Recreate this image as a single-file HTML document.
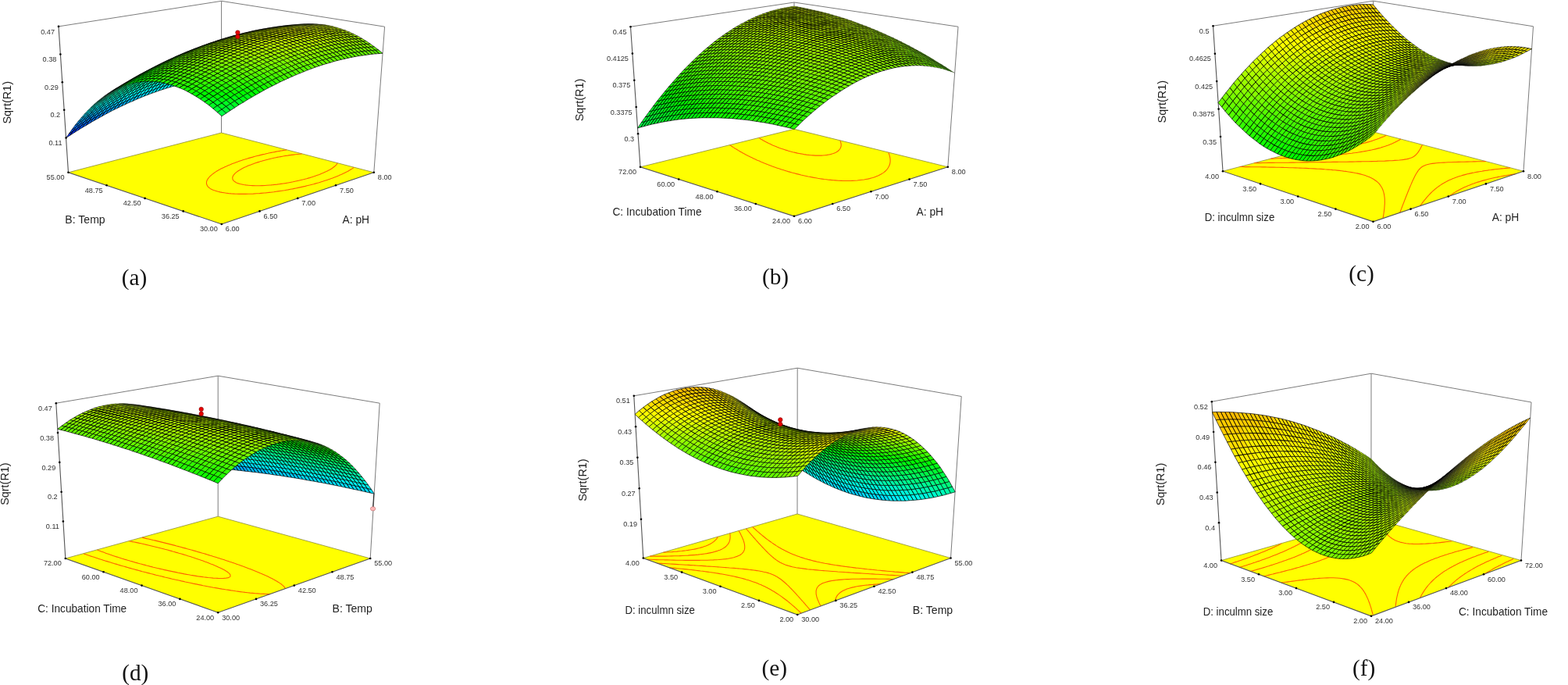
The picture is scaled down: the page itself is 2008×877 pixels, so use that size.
<!DOCTYPE html>
<html><head><meta charset="utf-8"><title>Response surface plots</title>
<style>
html,body{margin:0;padding:0;background:#fff}
body{width:2008px;height:877px;overflow:hidden}
svg{display:block;filter:blur(0.45px)}
svg text{font-family:"Liberation Sans",Arial,sans-serif}
svg .cap{font-family:"Liberation Serif","Times New Roman",serif;font-size:29.3px;fill:#111}
.qa{fill:#0ef;stroke-width:3.4}.qb{fill:#0fe;stroke-width:3.4}.qc{fill:#0ff;stroke-width:3.4}.qd{fill:#0fc;stroke-width:3.4}.qe{fill:#0fd;stroke-width:3.4}.qf{fill:#0df;stroke-width:3.4}.qg{fill:#0fa;stroke-width:3.4}.qh{fill:#0fb;stroke-width:3.4}.qi{fill:#0cf;stroke-width:3.4}.qj{fill:#0f9;stroke-width:3.4}.qk{fill:#0bf;stroke-width:3.4}.ql{fill:#0f7;stroke-width:3.4}.qm{fill:#0f8;stroke-width:3.4}.qn{fill:#0f6;stroke-width:3.4}.qo{fill:#0af;stroke-width:3.4}.qp{fill:#0f5;stroke-width:3.4}.qq{fill:#0f4;stroke-width:3.4}.qr{fill:#0f3;stroke-width:3.4}.qs{fill:#0f9;stroke-width:2.95}.qt{fill:#09f;stroke-width:3.4}.qu{fill:#0fc;stroke-width:2.95}.qv{fill:#0f6;stroke-width:2.95}.qw{fill:#0f1;stroke-width:3.4}.qx{fill:#0f2;stroke-width:3.4}.qy{fill:#0f4;stroke-width:2.95}.qz{fill:#0fa;stroke-width:2.95}.qaa{fill:#08f;stroke-width:3.4}.qab{fill:#0fd;stroke-width:2.95}.qac{fill:#0f7;stroke-width:2.95}.qad{fill:#0f0;stroke-width:3.4}.qae{fill:#0f2;stroke-width:2.95}.qaf{fill:#0f1;stroke-width:2.95}.qag{fill:#0f5;stroke-width:2.95}.qah{fill:#0fb;stroke-width:2.95}.qai{fill:#07f;stroke-width:3.4}.qaj{fill:#0fe;stroke-width:2.95}.qak{fill:#0f8;stroke-width:2.95}.qal{fill:#1f0;stroke-width:2.95}.qam{fill:#0f0;stroke-width:2.95}.qan{fill:#0f3;stroke-width:2.95}.qao{fill:#0f1;stroke-width:2.5}.qap{fill:#0f5;stroke-width:2.5}.qaq{fill:#06f;stroke-width:3.4}.qar{fill:#0ef;stroke-width:2.95}.qas{fill:#0f9;stroke-width:2.5}.qat{fill:#3f0;stroke-width:2.95}.qau{fill:#2f0;stroke-width:2.95}.qav{fill:#1f0;stroke-width:2.5}.qaw{fill:#0f3;stroke-width:2.5}.qax{fill:#0f6;stroke-width:2.5}.qay{fill:#05f;stroke-width:3.4}.qaz{fill:#0df;stroke-width:2.95}.qba{fill:#0fa;stroke-width:2.5}.qbb{fill:#4f0;stroke-width:2.5}.qbc{fill:#2f0;stroke-width:2.5}.qbd{fill:#3f0;stroke-width:2.5}.qbe{fill:#5f0;stroke-width:2.5}.qbf{fill:#5f0;stroke-width:2}.qbg{fill:#5e0;stroke-width:2}.qbh{fill:#0f0;stroke-width:2.5}.qbi{fill:#0f2;stroke-width:2.5}.qbj{fill:#0f4;stroke-width:2.5}.qbk{fill:#0f7;stroke-width:2.5}.qbl{fill:#04f;stroke-width:3.4}.qbm{fill:#0ff;stroke-width:2.95}.qbn{fill:#0cf;stroke-width:2.95}.qbo{fill:#0fb;stroke-width:2.5}.qbp{fill:#6e0;stroke-width:2}.qbq{fill:#4e0;stroke-width:2}.qbr{fill:#5d0;stroke-width:2}.qbs{fill:#3f0;stroke-width:2}.qbt{fill:#2f0;stroke-width:2}.qbu{fill:#0f0;stroke-width:2}.qbv{fill:#0f3;stroke-width:2}.qbw{fill:#0f8;stroke-width:2.5}.qbx{fill:#0f5;stroke-width:2}.qby{fill:#03f;stroke-width:3.4}.qbz{fill:#09f;stroke-width:2.95}.qca{fill:#0fd;stroke-width:2.5}.qcb{fill:#0bf;stroke-width:2.95}.qcc{fill:#6c0;stroke-width:2}.qcd{fill:#6d0;stroke-width:2}.qce{fill:#5c0;stroke-width:2}.qcf{fill:#4d0;stroke-width:2}.qcg{fill:#3e0;stroke-width:2}.qch{fill:#1e0;stroke-width:2}.qci{fill:#0e1;stroke-width:2}.qcj{fill:#0e3;stroke-width:2}.qck{fill:#0fa;stroke-width:2}.qcl{fill:#0e6;stroke-width:2}.qcm{fill:#08f;stroke-width:2.95}.qcn{fill:#0fe;stroke-width:2.5}.qco{fill:#0fc;stroke-width:2.5}.qcp{fill:#5a0;stroke-width:1.55}.qcq{fill:#6b0;stroke-width:1.55}.qcr{fill:#5b0;stroke-width:2}.qcs{fill:#590;stroke-width:1.55}.qct{fill:#580;stroke-width:1.55}.qcu{fill:#4b0;stroke-width:1.55}.qcv{fill:#4c0;stroke-width:2}.qcw{fill:#3d0;stroke-width:2}.qcx{fill:#1d0;stroke-width:2}.qcy{fill:#0d1;stroke-width:2}.qcz{fill:#0d3;stroke-width:2}.qda{fill:#0e7;stroke-width:2}.qdb{fill:#07f;stroke-width:2.95}.qdc{fill:#0af;stroke-width:2.95}.qdd{fill:#0ff;stroke-width:2.5}.qde{fill:#0ea;stroke-width:2}.qdf{fill:#5b0;stroke-width:1.55}.qdg{fill:#580;stroke-width:1.1}.qdh{fill:#570;stroke-width:1.1}.qdi{fill:#470;stroke-width:1.1}.qdj{fill:#460;stroke-width:1.1}.qdk{fill:#350;stroke-width:1.1}.qdl{fill:#4a0;stroke-width:1.55}.qdm{fill:#3b0;stroke-width:1.55}.qdn{fill:#490;stroke-width:1.55}.qdo{fill:#480;stroke-width:1.55}.qdp{fill:#2c0;stroke-width:2}.qdq{fill:#1c0;stroke-width:2}.qdr{fill:#0c1;stroke-width:2}.qds{fill:#0d4;stroke-width:2}.qdt{fill:#0d7;stroke-width:2}.qdu{fill:#0cf;stroke-width:2.5}.qdv{fill:#0fd;stroke-width:2}.qdw{fill:#0da;stroke-width:2}.qdx{fill:#240;stroke-width:0.75}.qdy{fill:#340;stroke-width:0.75}.qdz{fill:#230;stroke-width:0.75}.qea{fill:#340;stroke-width:1.1}.qeb{fill:#3a0;stroke-width:1.55}.qec{fill:#390;stroke-width:1.55}.qed{fill:#370;stroke-width:1.1}.qee{fill:#480;stroke-width:1.1}.qef{fill:#360;stroke-width:1.1}.qeg{fill:#220;stroke-width:0.75}.qeh{fill:#120;stroke-width:0.75}.qei{fill:#110;stroke-width:0.75}.qej{fill:#450;stroke-width:0.75}.qek{fill:#560;stroke-width:1.1}.qel{fill:#670;stroke-width:1.1}.qem{fill:#780;stroke-width:1.1}.qen{fill:#890;stroke-width:1.1}.qeo{fill:#2b0;stroke-width:1.55}.qep{fill:#0c0;stroke-width:2}.qeq{fill:#0c2;stroke-width:2}.qer{fill:#0c4;stroke-width:2}.qes{fill:#0c7;stroke-width:2}.qet{fill:#0bf;stroke-width:2.5}.qeu{fill:#0ef;stroke-width:2.5}.qev{fill:#0ed;stroke-width:2}.qew{fill:#380;stroke-width:1.55}.qex{fill:#250;stroke-width:1.1}.qey{fill:#330;stroke-width:0.75}.qez{fill:#550;stroke-width:1.1}.qfa{fill:#9a0;stroke-width:1.55}.qfb{fill:#890;stroke-width:1.55}.qfc{fill:#ab0;stroke-width:1.55}.qfd{fill:#bc0;stroke-width:1.55}.qfe{fill:#290;stroke-width:1.55}.qff{fill:#1a0;stroke-width:1.55}.qfg{fill:#0b0;stroke-width:1.55}.qfh{fill:#0b2;stroke-width:1.55}.qfi{fill:#0b4;stroke-width:1.55}.qfj{fill:#0b7;stroke-width:1.55}.qfk{fill:#0df;stroke-width:2.5}.qfl{fill:#0ca;stroke-width:2}.qfm{fill:#270;stroke-width:1.1}.qfn{fill:#130;stroke-width:0.75}.qfo{fill:#440;stroke-width:0.75}.qfp{fill:#450;stroke-width:1.1}.qfq{fill:#9b0;stroke-width:1.55}.qfr{fill:#bd0;stroke-width:1.55}.qfs{fill:#cd0;stroke-width:1.55}.qft{fill:#de0;stroke-width:2}.qfu{fill:#ef0;stroke-width:2}.qfv{fill:#cd0;stroke-width:2}.qfw{fill:#280;stroke-width:1.55}.qfx{fill:#190;stroke-width:1.55}.qfy{fill:#0a0;stroke-width:1.55}.qfz{fill:#0a2;stroke-width:1.55}.qga{fill:#0a4;stroke-width:1.55}.qgb{fill:#0a7;stroke-width:1.55}.qgc{fill:#0dd;stroke-width:2}.qgd{fill:#0ba;stroke-width:1.55}.qge{fill:#260;stroke-width:1.1}.qgf{fill:#240;stroke-width:1.1}.qgg{fill:#8a0;stroke-width:1.55}.qgh{fill:#790;stroke-width:1.1}.qgi{fill:#ac0;stroke-width:1.55}.qgj{fill:#ce0;stroke-width:2}.qgk{fill:#df0;stroke-width:2}.qgl{fill:#bd0;stroke-width:2}.qgm{fill:#df0;stroke-width:2.5}.qgn{fill:#ef0;stroke-width:2.5}.qgo{fill:#ef0;stroke-width:2.95}.qgp{fill:#ef0;stroke-width:3.4}.qgq{fill:#170;stroke-width:1.1}.qgr{fill:#080;stroke-width:1.55}.qgs{fill:#091;stroke-width:1.55}.qgt{fill:#092;stroke-width:1.55}.qgu{fill:#095;stroke-width:1.55}.qgv{fill:#097;stroke-width:1.55}.qgw{fill:#150;stroke-width:1.1}.qgx{fill:#680;stroke-width:1.1}.qgy{fill:#cf0;stroke-width:2}.qgz{fill:#df0;stroke-width:2.95}.qha{fill:#df0;stroke-width:3.4}.qhb{fill:#160;stroke-width:1.1}.qhc{fill:#070;stroke-width:1.1}.qhd{fill:#081;stroke-width:1.55}.qhe{fill:#082;stroke-width:1.55}.qhf{fill:#085;stroke-width:1.55}.qhg{fill:#087;stroke-width:1.55}.qhh{fill:#140;stroke-width:0.75}.qhi{fill:#790;stroke-width:1.55}.qhj{fill:#9c0;stroke-width:1.55}.qhk{fill:#cf0;stroke-width:2.5}.qhl{fill:#cf0;stroke-width:3.4}.qhm{fill:#060;stroke-width:1.1}.qhn{fill:#040;stroke-width:1.1}.qho{fill:#071;stroke-width:1.1}.qhp{fill:#072;stroke-width:1.1}.qhq{fill:#084;stroke-width:1.1}.qhr{fill:#010;stroke-width:0.75}.qhs{fill:#020;stroke-width:0.75}.qht{fill:#7a0;stroke-width:1.55}.qhu{fill:#bf0;stroke-width:2.95}.qhv{fill:#cf0;stroke-width:2.95}.qhw{fill:#050;stroke-width:1.1}.qhx{fill:#040;stroke-width:0.75}.qhy{fill:#061;stroke-width:1.1}.qhz{fill:#030;stroke-width:0.75}.qia{fill:#062;stroke-width:1.1}.qib{fill:#074;stroke-width:1.1}.qic{fill:#690;stroke-width:1.55}.qid{fill:#8b0;stroke-width:1.55}.qie{fill:#ad0;stroke-width:2}.qif{fill:#bf0;stroke-width:3.4}.qig{fill:#af0;stroke-width:2.95}.qih{fill:#af0;stroke-width:3.4}.qii{fill:#051;stroke-width:1.1}.qij{fill:#150;stroke-width:0.75}.qik{fill:#063;stroke-width:1.1}.qil{fill:#064;stroke-width:1.1}.qim{fill:#6a0;stroke-width:1.55}.qin{fill:#8c0;stroke-width:1.55}.qio{fill:#be0;stroke-width:2}.qip{fill:#9f0;stroke-width:3.4}.qiq{fill:#041;stroke-width:0.75}.qir{fill:#380;stroke-width:1.1}.qis{fill:#053;stroke-width:1.1}.qit{fill:#7b0;stroke-width:1.55}.qiu{fill:#9d0;stroke-width:2}.qiv{fill:#bf0;stroke-width:2}.qiw{fill:#8f0;stroke-width:3.4}.qix{fill:#031;stroke-width:0.75}.qiy{fill:#180;stroke-width:1.1}.qiz{fill:#390;stroke-width:1.1}.qja{fill:#042;stroke-width:1.1}.qjb{fill:#7c0;stroke-width:1.55}.qjc{fill:#9e0;stroke-width:2}.qjd{fill:#bf0;stroke-width:2.5}.qje{fill:#7f0;stroke-width:3.4}.qjf{fill:#af0;stroke-width:2}.qjg{fill:#6f0;stroke-width:3.4}.qjh{fill:#021;stroke-width:0.75}.qji{fill:#190;stroke-width:1.1}.qjj{fill:#5c0;stroke-width:1.55}.qjk{fill:#042;stroke-width:0.75}.qjl{fill:#7d0;stroke-width:2}.qjm{fill:#9f0;stroke-width:2}.qjn{fill:#5f0;stroke-width:3.4}.qjo{fill:#af0;stroke-width:2.5}.qjp{fill:#081;stroke-width:1.1}.qjq{fill:#2c0;stroke-width:1.55}.qjr{fill:#5d0;stroke-width:1.55}.qjs{fill:#032;stroke-width:0.75}.qjt{fill:#011;stroke-width:0.75}.qju{fill:#7e0;stroke-width:2}.qjv{fill:#8f0;stroke-width:2}.qjw{fill:#9f0;stroke-width:2.5}.qjx{fill:#4f0;stroke-width:3.4}.qjy{fill:#1d0;stroke-width:1.55}.qjz{fill:#4f0;stroke-width:2}.qka{fill:#0b1;stroke-width:1.55}.qkb{fill:#7f0;stroke-width:2}.qkc{fill:#8f0;stroke-width:2.5}.qkd{fill:#9f0;stroke-width:2.95}.qke{fill:#3f0;stroke-width:3.4}.qkf{fill:#0e0;stroke-width:2}.qkg{fill:#0c1;stroke-width:1.55}.qkh{fill:#6f0;stroke-width:2}.qki{fill:#8f0;stroke-width:2.95}.qkj{fill:#2f0;stroke-width:3.4}.qkk{fill:#0f1;stroke-width:2}.qkl{fill:#7f0;stroke-width:2.5}.qkm{fill:#7f0;stroke-width:2.95}.qkn{fill:#6f0;stroke-width:2.5}.qko{fill:#1f0;stroke-width:3.4}.qkp{fill:#6f0;stroke-width:2.95}.qkq{fill:#5f0;stroke-width:2.95}.qkr{fill:#4f0;stroke-width:2.95}.qks{fill:#ad0;stroke-width:1.55}.qkt{fill:#ae0;stroke-width:2}.qku{fill:#8d0;stroke-width:2}.qkv{fill:#490;stroke-width:1.1}.qkw{fill:#8d0;stroke-width:1.55}.qkx{fill:#6c0;stroke-width:1.55}.qky{fill:#8e0;stroke-width:2}.qkz{fill:#7d0;stroke-width:1.55}.qla{fill:#6d0;stroke-width:1.55}.qlb{fill:#fc0;stroke-width:3.4}.qlc{fill:#fd0;stroke-width:3.4}.qld{fill:#fe0;stroke-width:3.4}.qle{fill:#ff0;stroke-width:3.4}.qlf{fill:#9d0;stroke-width:1.55}.qlg{fill:#680;stroke-width:1.55}.qlh{fill:#9c0;stroke-width:2}.qli{fill:#ac0;stroke-width:2}.qlj{fill:#350;stroke-width:0.75}.qlk{fill:#ab0;stroke-width:2}.qll{fill:#ff0;stroke-width:2.95}.qlm{fill:#660;stroke-width:1.1}.qln{fill:#ff0;stroke-width:2.5}.qlo{fill:#bc0;stroke-width:2}.qlp{fill:#fe0;stroke-width:2.95}.qlq{fill:#ee0;stroke-width:2}.qlr{fill:#990;stroke-width:1.55}.qls{fill:#bb0;stroke-width:1.55}.qlt{fill:#ff0;stroke-width:2}.qlu{fill:#aa0;stroke-width:1.55}.qlv{fill:#dd0;stroke-width:2}.qlw{fill:#fe0;stroke-width:2.5}.qlx{fill:#880;stroke-width:1.55}.qly{fill:#cc0;stroke-width:2}.qlz{fill:#770;stroke-width:1.1}.qma{fill:#bb0;stroke-width:2}.qmb{fill:#fe0;stroke-width:2}.qmc{fill:#980;stroke-width:1.55}.qmd{fill:#cb0;stroke-width:2}.qme{fill:#440;stroke-width:1.1}.qmf{fill:#ba0;stroke-width:1.55}.qmg{fill:#ed0;stroke-width:2}.qmh{fill:#760;stroke-width:1.1}.qmi{fill:#dc0;stroke-width:2}.qmj{fill:#fd0;stroke-width:2.5}.qmk{fill:#a90;stroke-width:1.55}.qml{fill:#650;stroke-width:1.1}.qmm{fill:#870;stroke-width:1.55}.qmn{fill:#430;stroke-width:0.75}.qmo{fill:#2e0;stroke-width:2}.qmp{fill:#3c0;stroke-width:2}.qmq{fill:#690;stroke-width:1.1}.qmr{fill:#2d0;stroke-width:2}.qms{fill:#3b0;stroke-width:2}.qmt{fill:#280;stroke-width:1.1}.qmu{fill:#2a0;stroke-width:1.55}.qmv{fill:#0e2;stroke-width:2}.qmw{fill:#1b0;stroke-width:1.55}.qmx{fill:#0d0;stroke-width:2}.qmy{fill:#880;stroke-width:1.1}.qmz{fill:#cb0;stroke-width:1.55}.qna{fill:#fd0;stroke-width:2.95}.qnb{fill:#2b0;stroke-width:2}.qnc{fill:#1f0;stroke-width:2}.qnd{fill:#dd0;stroke-width:1.55}.qne{fill:#fb0;stroke-width:3.4}.qnf{fill:#8c0;stroke-width:2}.qng{fill:#780;stroke-width:1.55}.qnh{fill:#cc0;stroke-width:1.55}.qni{fill:#540;stroke-width:0.75}.qnj{fill:#7c0;stroke-width:2}.qnk{fill:#fc0;stroke-width:2.95}.qnl{fill:#fc0;stroke-width:2.5}.qnm{fill:#fd0;stroke-width:2}.qnn{fill:#ec0;stroke-width:2}.qno{fill:#eb0;stroke-width:2}.qnp{fill:#db0;stroke-width:2}.qnq{fill:#870;stroke-width:1.1}.qnr{fill:#ca0;stroke-width:2}.qns{fill:#b90;stroke-width:1.55}.qnt{fill:#540;stroke-width:1.1}
svg .ttl{font-size:15px;fill:#222}
</style></head><body>
<svg xmlns="http://www.w3.org/2000/svg" width="2008" height="877" viewBox="0 0 2008 877">
<rect width="2008" height="877" fill="#fff"/>
<g id="pa">
<path d="M75.0,33.9 L283.6,1.3 L492.6,34.2 M283.6,1.3 L283.5,170.0 M492.6,34.2 L478.8,220.8" fill="none" stroke="#7c7c7c" stroke-width="1"/>
<path d="M87.5,220.8 L283.5,170.0 L478.8,220.8 L283.8,287.0 Z" fill="#ffff00" stroke="none"/>
<path d="M87.5,220.8 L283.5,170.0 L478.8,220.8" fill="none" stroke="#8a8a3a" stroke-width="0.8"/>
<path d="M367 191.9l-2.3.3-2.3.4-2.2.4-2.2.4-2.2.3-2.2.4-2.1.5-2.1.4-2.1.4-2.1.4-2.1.5-2 .4-2 .5-2 .4-2 .5-2 .5-1.9.5-1.9.4-1.9.5-1.9.5-1.9.6-1.9.5-1.8.5-1.8.5-1.8.6-1.8.5-1.8.6-1.7.5-1.8.6-1.7.6-1.7.6-1.7.6-1.7.5-1.6.7-1.6.6-1.6.6-1.6.6-1.6.7-1.5.6-1.2.5-1.9.9-1.5.6-1.4.7-1.5.7-1.4.7-1.4.7-1.3.8-1.4.7-1.3.8-1.2.7-1.3.8-1.2.8-1.1.8-1.2.9-1 .8-1.1.9-1 .9-.9.9-.8.9-.8.9-.7 1-.7 1-.5 1.1-.4 1.1-.3 1.8 .2 1.8 .5 1.4 .7 1.2 .9 1 1 .9 1.2.9 1.3.8 1.5.8 1.7.7 1.9.7 2 .6 2.1.6 2.4.6 2.5.5 2.7.4 2.8.4 3 .4 3.2.3 3.4.2 1.8.1 1.8.1 2.9.1 4.3 0 4.1 0 3.9-.1 3.7-.1 2.4-.1 4.6-.3 3.4-.2 2.4-.2 4-.4 1.8-.1 1.3-.2 3-.3 1.9-.2 4-.5 2.7-.4 3-.4 2.7-.4 1.8-.3 3.5-.5 2.6-.5 2.2-.3 2.9-.6 2.5-.4 2.4-.5 2-.4 2.8-.6 2.3-.5 2.3-.5 2.3-.5 2.3-.5 2.1-.6 2.2-.5 2.1-.5 2.1-.6 2.1-.5 2.1-.6 2-.6 2-.5 1.9-.6 1.9-.6 1.9-.6 1.9-.6 1.8-.6 1.8-.6 1.8-.6 1.8-.6 1.7-.6 1.7-.6 1.6-.7 1.7-.6 1.6-.6 1.5-.7 1.6-.6 1.5-.7 1.5-.6 1.5-.7 1.4-.7 1.4-.6 1.3-.7 1.4-.7 1.3-.7 1.2-.7 1.2-.7 1.2-.7 1.2-.7 1.1-.7 1.1-.8 1-.7M386.6 197l-2.8.2-2.7.3-2.7.3-2.6.3-2.5.3-1.9.2-3 .5-2.3.3-2.3.4-2.3.4-2.2.4-2.2.4-2.2.4-1.4.3-2.8.6-2.1.5-2 .4-2 .5-1.9.5-2 .5-1.9.5-1.9.5-1.8.6-1.9.5-1.7.6-1.8.5-1.8.6-1.7.6-1.7.6-1.6.6-1.6.6-1.7.6-1.5.6-1.6.7-1.4.7-1.5.6-1.5.7-1 .5-1.7.9-1.3.8-1.3.7-1.2.8-1.2.8-1.1.8-1 .8-.9.8-1 .9-.8 1-.7.9-.6 1-.6 2 .4 2.3 .6 1 .8.9 1.1.9 1.4.8 1 .5 2.4 1 2 .6 2.3.5 2.4.5 2.8.4 3 .3 3.2.3 2.3.1 4.5.1 4 0 3.7-.1 3.6-.1 2.6-.2 3.9-.3 1.5-.1 1.6-.2 3-.3 2.9-.3 2.8-.4 2.4-.3 3-.4 2.6-.4 2.2-.4 2.8-.5 2.5-.5 2.3-.4 2.3-.5 2.3-.5 2.3-.5 2.2-.5 2.1-.5 2.1-.5 2.1-.6 2-.5 2-.6 1.9-.5 1.9-.6 1.8-.6 1.9-.6 1.7-.6 1.8-.6 1.7-.6 1.6-.6 1.6-.7 1.6-.6 1.5-.6 1.5-.7 1.5-.7 1.4-.6 1.4-.7 1.3-.7 1.3-.7 1.2-.7 1.2-.7 1.1-.8 1-.7 1-.8 1-.7 .9-.8 1.5-1.6 .6-.9 .5-.8" fill="none" stroke="#ff6200" stroke-width="1.1"/>
<path d="M75.0,33.9 L87.5,220.8 L283.8,287.0 L478.8,220.8" fill="none" stroke="#555" stroke-width="1.1"/>
<circle cx="283.8" cy="287.0" r="1.3" fill="#000"/>
<circle cx="234.7" cy="270.4" r="1.3" fill="#000"/>
<circle cx="185.6" cy="253.9" r="1.3" fill="#000"/>
<circle cx="136.6" cy="237.3" r="1.3" fill="#000"/>
<circle cx="87.5" cy="220.8" r="1.3" fill="#000"/>
<circle cx="332.5" cy="270.4" r="1.3" fill="#000"/>
<circle cx="381.2" cy="253.9" r="1.3" fill="#000"/>
<circle cx="430.0" cy="237.3" r="1.3" fill="#000"/>
<circle cx="478.8" cy="220.8" r="1.3" fill="#000"/>
<circle cx="75.0" cy="33.9" r="1.3" fill="#000"/>
<circle cx="77.4" cy="69.5" r="1.3" fill="#000"/>
<circle cx="79.8" cy="105.2" r="1.3" fill="#000"/>
<circle cx="82.2" cy="140.8" r="1.3" fill="#000"/>
<circle cx="84.6" cy="176.5" r="1.3" fill="#000"/>
<g transform="scale(0.2)" stroke="#000" stroke-linejoin="round">
<path class="qa" d="M1418 469l22-1-22 26-21 2zm-21 3l21-3-21 27-22 2zm-22 2l22-2-22 26-21 3zm-22 3l22-3-21 27-22 3z"/>
<path class="qb" d="M1440 444l21-2-21 26-22 1zm-22 2l22-2-22 25-21 3zm-21 3l21-3-21 26-22 2zm-22 3l22-3-22 25-22 3z"/>
<path class="qc" d="M1332 481l21-4-21 27-22 3zm-22 3l22-3-22 26-22 4zm-22 4l22-4-22 27-22 4zm-23 4l23-4-22 27-22 4zm-22 5l22-5-21 27-22 5zm-22 5l22-5-21 27-22 5zm-23 5l23-5-21 27-23 5zm-23 6l23-6-21 27-23 6zm-22 6l22-6-21 27-22 6zm-23 6l23-6-21 27-23 6z"/>
<path class="qa" d="M1107 532l23-7-21 27-23 7zm-24 7l24-7-21 27-23 7zm-23 7l23-7-20 27-24 8zm-23 8l23-8-21 28-23 7zm-24 8l24-8-21 27-23 9zm-23 9l23-9-20 28-24 8z"/>
<path class="qd" d="M1462 420l21-2-22 24-21 2zm-22 2l22-2-22 24-22 2zm-22 2l22-2-22 24-21 3zm-21 3l21-3-21 25-22 3z"/>
<path class="qe" d="M1353 455l22-3-22 25-21 4zm-22 3l22-3-21 26-22 3zm-22 4l22-4-21 26-22 4zm-22 4l22-4-21 26-23 4zm-23 5l23-5-22 26-22 5zm-22 5l22-5-21 26-22 5zm-23 5l23-5-21 26-23 5zm-23 6l23-6-21 26-23 6zm-22 6l22-6-21 26-22 6zm-23 6l23-6-21 26-23 6z"/>
<path class="qb" d="M1127 506l24-7-21 26-23 7zm-23 7l23-7-20 26-24 7zm-23 7l23-7-21 26-23 7zm-24 8l24-8-21 26-23 8zm-23 8l23-8-20 26-24 8zm-24 8l24-8-21 26-23 9z"/>
<path class="qd" d="M1375 430l22-3-22 25-22 3zm-22 4l22-4-22 25-22 3zm-23 3l23-3-22 24-22 4z"/>
<path class="qf" d="M966 580l24-9-21 27-24 9zm-24 9l24-9-21 27-23 9zm-24 10l24-10-20 27-24 10z"/>
<path class="qc" d="M986 553l24-9-20 27-24 9zm-24 9l24-9-20 27-24 9zm-24 10l24-10-20 27-24 10z"/>
<path class="qg" d="M1484 396l21-2-22 24-21 2zm-22 2l22-2-22 24-22 2zm-22 3l22-3-22 24-22 2zm-21 2l21-2-22 23-21 3zm-22 3l22-3-22 24-22 3zm-23 4l23-4-22 24-22 4zm-22 3l22-3-21 24-23 3z"/>
<path class="qh" d="M1308 442l22-5-21 25-22 4zm-22 4l22-4-21 24-23 5zm-23 5l23-5-22 25-22 5zm-22 5l22-5-21 25-23 5z"/>
<path class="qd" d="M1218 462l23-6-22 25-23 6zm-23 5l23-5-22 25-22 6zm-23 7l23-7-21 26-23 6zm-23 6l23-6-21 25-24 7zm-24 7l24-7-22 26-23 7zm-23 8l23-8-21 26-23 7zm-24 7l24-7-21 25-24 8zm-23 8l23-8-21 26-23 8z"/>
<path class="qe" d="M1031 519l24-9-21 26-24 8zm-24 9l24-9-21 25-24 9zm-24 9l24-9-21 25-24 9zm-24 9l24-9-21 25-24 10z"/>
<path class="qg" d="M1330 418l22-5-22 24-22 5zm-23 4l23-4-22 24-22 4zm-22 5l22-5-21 24-23 5zm-23 5l23-5-22 24-22 5zm-23 5l23-5-21 24-23 6zm-23 6l23-6-21 25-23 5zm-23 6l23-6-21 24-23 7zm-23 7l23-7-21 25-23 6zm-23 7l23-7-21 24-24 7zm-24 7l24-7-22 24-23 8zm-23 8l23-8-21 25-24 7z"/>
<path class="qh" d="M1076 486l24-8-22 24-23 8zm-24 8l24-8-21 24-24 9zm-24 9l24-9-21 25-24 9zm-24 9l24-9-21 25-24 9zm-24 10l24-10-21 25-24 9z"/>
<path class="qi" d="M894 609l24-10-20 27-24 10zm-24 10l24-10-20 27-24 11zm-25 11l25-11-20 28-25 10z"/>
<path class="qc" d="M914 582l24-10-20 27-24 10z"/>
<path class="qa" d="M890 592l24-10-20 27-24 10zm-25 11l25-11-20 27-25 11z"/>
<path class="qe" d="M935 556l24-10-21 26-24 10z"/>
<path class="qb" d="M910 567l25-11-21 26-24 10zm-24 10l24-10-20 25-25 11z"/>
<path class="qd" d="M956 532l24-10-21 24-24 10zm-25 10l25-10-21 24-25 11zm-24 11l24-11-21 25-24 10z"/>
<path class="qj" d="M1506 374l21-2-22 22-21 2zm-22 2l22-2-22 22-22 2z"/>
<path class="qk" d="M821 641l24-11-20 27-24 12zm-25 12l25-12-20 28-24 11z"/>
<path class="qa" d="M841 614l24-11-20 27-24 11z"/>
<path class="qb" d="M861 589l25-12-21 26-24 11z"/>
<path class="qe" d="M882 564l25-11-21 24-25 12z"/>
<path class="qf" d="M816 626l25-12-20 27-25 12z"/>
<path class="qc" d="M837 600l24-11-20 25-25 12z"/>
<path class="qe" d="M857 575l25-11-21 25-24 11z"/>
<path class="ql" d="M1528 352l22-2-23 22-21 2zm-21 2l21-2-22 22-22 2z"/>
<path class="qm" d="M1462 378l22-2-22 22-22 3zm-21 3l21-3-22 23-21 2zm-22 2l22-2-22 22-22 3zm-23 4l23-4-22 23-23 4zm-22 3l22-3-22 23-22 3zm-22 4l22-4-22 23-22 5zm-23 5l23-5-22 24-23 4zm-22 5l22-5-22 23-22 5zm-23 5l23-5-22 23-23 5zm-23 5l23-5-22 23-23 5zm-23 6l23-6-22 23-23 6zm-23 6l23-6-22 23-23 6zm-23 6l23-6-22 23-23 7zm-24 7l24-7-22 24-23 7z"/>
<path class="qj" d="M1145 447l23-8-21 24-24 7zm-24 7l24-7-22 23-23 8zm-24 8l24-8-21 24-24 8zm-24 9l24-9-21 24-24 8zm-24 8l24-8-21 23-24 9z"/>
<path class="qg" d="M1025 488l24-9-21 24-24 9zm-24 10l24-10-21 24-24 10zm-24 10l24-10-21 24-24 10zm-25 10l25-10-21 24-25 10z"/>
<path class="qh" d="M928 529l24-11-21 24-24 11zm-25 11l25-11-21 24-25 11zm-25 11l25-11-21 24-25 11z"/>
<path class="ql" d="M1485 356l22-2-23 22-22 2zm-22 3l22-3-23 22-21 3zm-22 3l22-3-22 22-22 2zm-22 3l22-3-22 21-23 4z"/>
<path class="qn" d="M1396 369l23-4-23 22-22 3zm-22 4l22-4-22 21-22 4zm-23 4l23-4-22 21-23 5zm-22 5l22-5-22 22-22 5zm-23 5l23-5-22 22-23 5zm-23 5l23-5-22 22-23 5zm268-60l21-2-22 20-22 2z"/>
<path class="ql" d="M1260 398l23-6-22 22-23 6zm-23 6l23-6-22 22-23 6zm-24 6l24-6-22 22-23 6zm-23 7l23-7-21 22-24 7zm-24 7l24-7-22 22-23 8zm-23 8l23-8-21 23-24 7zm-24 8l24-8-22 22-24 8zm-24 8l24-8-22 22-24 9z"/>
<path class="qm" d="M1071 457l24-9-22 23-24 8zm-24 9l24-9-22 22-24 9zm-25 9l25-9-22 22-24 10zm-24 10l24-10-21 23-24 10z"/>
<path class="qo" d="M772 664l24-11-19 27-25 12zm-25 13l25-13-20 28-25 12zm-25 12l25-12-20 27-25 13z"/>
<path class="qf" d="M792 638l24-12-20 27-24 11z"/>
<path class="qc" d="M812 612l25-12-21 26-24 12z"/>
<path class="qe" d="M832 587l25-12-20 25-25 12z"/>
<path class="qi" d="M767 650l25-12-20 26-25 13zm-25 13l25-13-20 27-25 12z"/>
<path class="qa" d="M787 624l25-12-20 26-25 12zm-25 13l25-13-20 26-25 13z"/>
<path class="qb" d="M807 599l25-12-20 25-25 12zm-25 13l25-13-20 25-25 13z"/>
<path class="qp" d="M1529 334l22-2-23 20-21 2zm-22 2l22-2-22 20-22 2zm-22 3l22-3-22 20-22 3zm-22 3l22-3-22 20-22 3zm-22 3l22-3-22 20-22 3zm-22 3l22-3-22 20-23 4zm-23 4l23-4-23 21-22 4zm-22 5l22-5-22 21-23 4zm-23 4l23-4-23 20-22 5zm-23 5l23-5-22 21-23 5zm-23 5l23-5-22 21-23 5zm-23 6l23-6-22 21-23 6zm-23 6l23-6-22 21-23 6zm-24 6l24-6-22 21-24 6zm-23 7l23-7-22 21-23 7zm-24 7l24-7-22 21-24 7z"/>
<path class="qq" d="M1574 313l21-2-23 19-21 2zm-22 2l22-2-23 19-22 2zm-22 2l22-2-23 19-22 2zm-22 2l22-2-23 19-22 3zm-22 3l22-3-23 20-22 3zm-22 3l22-3-23 20-22 3z"/>
<path class="qr" d="M1441 329l23-4-23 20-22 3zm-22 4l22-4-22 19-23 4zm-23 4l23-4-23 19-22 5zm-23 5l23-5-22 20-23 4zm-22 4l22-4-22 19-23 5zm-23 6l23-6-23 20-23 5zm268-57l22-2-23 18-21 2zm-21 2l21-2-22 18-22 2z"/>
<path class="qq" d="M1304 357l24-5-23 19-23 6z"/>
<path class="qs" d="M973 495l25-10-21 23-25 10zm-24 11l24-11-21 23-24 11zm-25 11l25-11-21 23-25 11z"/>
<path class="qt" d="M697 703l25-14-20 28-24 13z"/>
<path class="qk" d="M717 676l25-13-20 26-25 14z"/>
<path class="qf" d="M737 650l25-13-20 26-25 13z"/>
<path class="qc" d="M757 625l25-13-20 25-25 13z"/>
<path class="qu" d="M853 563l25-12-21 24-25 12zm-25 13l25-13-21 24-25 12zm-25 12l25-12-21 23-25 13z"/>
<path class="qv" d="M1165 411l23-8-22 21-23 8zm-24 8l24-8-22 21-24 8zm-24 8l24-8-22 21-24 8zm-24 8l24-8-22 21-24 9zm-25 9l25-9-22 22-24 9z"/>
<path class="qw" d="M1620 278l21-2-23 17-22 2zm-22 1l22-1-24 17-21 2z"/>
<path class="qx" d="M1553 299l22-2-23 18-22 2zm-22 2l22-2-23 18-22 2zm-22 3l22-3-23 18-22 3zm-23 3l23-3-23 18-22 3zm-22 4l22-4-22 18-23 4zm-22 3l22-3-23 18-22 4zm-23 4l23-4-23 19-23 4z"/>
<path class="qw" d="M1576 281l22-2-23 18-22 2zm-22 3l22-3-23 18-22 2zm-22 3l22-3-23 17-22 3z"/>
<path class="qy" d="M1281 363l23-6-22 20-23 6zm-23 7l23-7-22 20-24 6zm-24 6l24-6-23 19-23 7zm-23 7l23-7-22 20-24 7zm-24 8l24-8-23 20-23 8zm-24 8l24-8-22 20-24 8zm-24 8l24-8-22 20-24 8z"/>
<path class="qz" d="M899 528l25-11-21 23-25 11zm-25 12l25-12-21 23-25 12zm-25 13l25-13-21 23-25 13z"/>
<path class="qaa" d="M672 716l25-13-19 27-25 14zm-25 14l25-14-19 28-25 14z"/>
<path class="qk" d="M692 689l25-13-20 27-25 13z"/>
<path class="qf" d="M712 664l25-14-20 26-25 13z"/>
<path class="qc" d="M732 639l25-14-20 25-25 14z"/>
<path class="qo" d="M666 703l26-14-20 27-25 14z"/>
<path class="qi" d="M686 678l26-14-20 25-26 14z"/>
<path class="qa" d="M706 653l26-14-20 25-26 14z"/>
<path class="qab" d="M778 601l25-13-21 24-25 13zm-26 14l26-14-21 24-25 14z"/>
<path class="qac" d="M1044 454l24-10-21 22-25 9zm-24 9l24-9-22 21-24 10zm-25 11l25-11-22 22-25 10zm-25 10l25-10-22 21-24 11z"/>
<path class="qad" d="M1643 262l21-2-23 16-21 2zm-22 1l22-1-23 16-22 1z"/>
<path class="qae" d="M1396 323l23-5-23 19-23 5zm-23 5l23-5-23 19-22 4zm-23 5l23-5-22 18-23 6zm-23 6l23-6-22 19-24 5zm-23 6l23-6-23 18-23 6zm-24 6l24-6-23 18-23 7zm-23 6l23-6-22 19-24 6z"/>
<path class="qaf" d="M1509 290l23-3-23 17-23 3zm-22 3l22-3-23 17-22 4zm-22 4l22-4-23 18-22 3zm-23 4l23-4-23 17-23 4zm-23 4l23-4-23 17-23 5zm-23 5l23-5-23 18-23 5zm-23 5l23-5-23 18-23 5zm-23 6l23-6-23 18-23 6zm-24 6l24-6-23 18-23 6zm-23 6l23-6-22 18-24 6z"/>
<path class="qag" d="M1115 415l24-8-22 20-24 8zm-25 9l25-9-22 20-25 9zm-24 10l24-10-22 20-24 10z"/>
<path class="qah" d="M824 565l25-12-21 23-25 12zm-26 13l26-13-21 23-25 13z"/>
<path class="qu" d="M773 592l25-14-20 23-26 14z"/>
<path class="qai" d="M622 744l25-14-19 28-26 14zm-26 15l26-15-20 28-25 15z"/>
<path class="qo" d="M641 718l25-15-19 27-25 14z"/>
<path class="qi" d="M661 692l25-14-20 25-25 15z"/>
<path class="qt" d="M616 732l25-14-19 26-26 15z"/>
<path class="qk" d="M635 706l26-14-20 26-25 14z"/>
<path class="qaj" d="M727 629l25-14-20 24-26 14z"/>
<path class="qu" d="M747 606l26-14-21 23-25 14z"/>
<path class="qak" d="M945 495l25-11-21 22-25 11zm-25 12l25-12-21 22-25 11zm-25 11l25-11-21 21-25 12z"/>
<path class="qs" d="M870 531l25-13-21 22-25 13z"/>
<path class="qal" d="M1666 247l22-2-24 15-21 2zm-21 1l21-1-23 15-22 1z"/>
<path class="qam" d="M1599 265l22-2-23 16-22 2zm-22 3l22-3-23 16-22 3zm-22 2l22-2-23 16-22 3z"/>
<path class="qal" d="M1533 273l22-3-23 17-23 3zm-23 4l23-4-24 17-22 3zm-22 3l22-3-23 16-22 4zm-23 4l23-4-23 17-23 4zm-23 5l23-5-23 17-23 4zm-23 5l23-5-23 16-23 5z"/>
<path class="qan" d="M1233 365l24-8-23 19-23 7zm-24 7l24-7-22 18-24 8zm-24 8l24-8-22 19-24 8z"/>
<path class="qao" d="M1279 340l24-7-23 18-23 6zm-23 7l23-7-22 17-24 8zm-24 7l24-7-23 18-24 7zm-24 8l24-8-23 18-24 8z"/>
<path class="qap" d="M1041 443l25-9-22 20-24 9z"/>
<path class="qaq" d="M571 774l25-15-19 28-25 15zm-26 16l26-16-19 28-26 15z"/>
<path class="qaa" d="M590 747l26-15-20 27-25 15zm-26 16l26-16-19 27-26 16z"/>
<path class="qk" d="M610 722l25-16-19 26-26 15z"/>
<path class="qo" d="M584 737l26-15-20 25-26 16z"/>
<path class="qar" d="M681 667l25-14-20 25-25 14z"/>
<path class="qaj" d="M701 643l26-14-21 24-25 14z"/>
<path class="qab" d="M722 620l25-14-20 23-26 14z"/>
<path class="qas" d="M845 543l25-12-21 22-25 12z"/>
<path class="qat" d="M1690 232l22-1-24 14-22 2zm-22 2l22-2-24 15-21 1z"/>
<path class="qau" d="M1623 250l22-2-24 15-22 2zm-22 2l22-2-24 15-22 3zm-23 3l23-3-24 16-22 2zm-22 3l22-3-23 15-22 3zm-22 3l22-3-23 15-23 4z"/>
<path class="qat" d="M1646 236l22-2-23 14-22 2z"/>
<path class="qav" d="M1396 299l23-5-23 16-23 5zm-23 5l23-5-23 16-23 6zm-24 6l24-6-23 17-24 6z"/>
<path class="qaw" d="M1161 388l24-8-22 19-24 8zm-24 8l24-8-22 19-24 8zm-25 9l25-9-22 19-25 9z"/>
<path class="qax" d="M1017 453l24-10-21 20-25 11zm-25 11l25-11-22 21-25 10zm-25 11l25-11-22 20-25 11z"/>
<path class="qay" d="M519 805l26-15-19 27-25 16z"/>
<path class="qai" d="M539 779l25-16-19 27-26 15z"/>
<path class="qt" d="M558 753l26-16-20 26-25 16z"/>
<path class="qaz" d="M655 682l26-15-20 25-26 14zm-26 15l26-15-20 24-25 16z"/>
<path class="qba" d="M819 556l26-13-21 22-26 13zm-25 14l25-14-21 22-25 14z"/>
<path class="qbb" d="M1714 220l21-2-23 13-22 1zm-22 1l22-1-24 12-22 2zm-22 2l22-2-24 13-22 2z"/>
<path class="qbc" d="M1511 265l23-4-24 16-22 3zm-23 4l23-4-23 15-23 4zm-23 4l23-4-23 15-23 5zm-23 5l23-5-23 16-23 5zm-23 5l23-5-23 16-23 5zm-23 6l23-6-23 16-23 5zm-24 5l24-5-23 15-24 6z"/>
<path class="qbd" d="M1624 238l22-2-23 14-22 2zm-22 3l22-3-23 14-23 3zm-22 3l22-3-24 14-22 3zm-23 3l23-3-24 14-22 3zm-23 4l23-4-23 14-23 4zm-22 4l22-4-23 14-23 4z"/>
<path class="qbb" d="M1489 259l23-4-24 14-23 4zm159-34l22-2-24 13-22 2zm-22 3l22-3-24 13-22 3z"/>
<path class="qbe" d="M1603 231l23-3-24 13-22 3zm135-23l21-1-24 11-21 2zm-22 2l22-2-24 12-22 1z"/>
<path class="qbf" d="M1694 211l22-1-24 11-22 2zm-113 23l22-3-23 13-23 3z"/>
<path class="qbg" d="M1558 238l23-4-24 13-23 4zm114-24l22-3-24 12-22 2zm-22 2l22-2-24 11-22 3z"/>
<path class="qbd" d="M1466 264l23-5-24 14-23 5z"/>
<path class="qbh" d="M1326 316l23-6-23 17-23 6zm-24 7l24-7-23 17-24 7zm-24 7l24-7-23 17-23 7zm-24 7l24-7-22 17-24 7zm-24 8l24-8-22 17-24 8z"/>
<path class="qbc" d="M1349 301l23-7-23 16-23 6z"/>
<path class="qbi" d="M1183 370l25-8-23 18-24 8zm-24 8l24-8-22 18-24 8zm-24 9l24-9-22 18-25 9z"/>
<path class="qbj" d="M1088 415l24-10-22 19-24 10zm-25 9l25-9-22 19-25 9zm-24 10l24-10-22 19-24 10z"/>
<path class="qap" d="M1014 445l25-11-22 19-25 11zm-25 11l25-11-22 19-25 11z"/>
<path class="qbi" d="M1110 397l25-10-23 18-24 10z"/>
<path class="qbk" d="M942 486l25-11-22 20-25 12zm-25 12l25-12-22 21-25 11zm-25 12l25-12-22 20-25 13z"/>
<path class="qap" d="M964 467l25-11-22 19-25 11z"/>
<path class="qbl" d="M494 822l25-17-18 28-26 16z"/>
<path class="qaq" d="M513 795l26-16-20 26-25 17z"/>
<path class="qbm" d="M675 658l26-15-20 24-26 15zm-25 15l25-15-20 24-26 15z"/>
<path class="qbn" d="M604 712l25-15-19 25-26 15z"/>
<path class="qar" d="M624 688l26-15-21 24-25 15z"/>
<path class="qbo" d="M768 584l26-14-21 22-26 14zm-26 14l26-14-21 22-25 14z"/>
<path class="qbp" d="M1762 198l22-2-25 11-21 1zm-22 1l22-1-24 10-22 2z"/>
<path class="qbq" d="M1535 242l23-4-24 13-22 4z"/>
<path class="qbr" d="M1627 219l23-3-24 12-23 3zm-22 3l22-3-24 12-22 3z"/>
<path class="qbs" d="M1443 269l23-5-24 14-23 5z"/>
<path class="qbt" d="M1325 307l24-6-23 15-24 7z"/>
<path class="qbu" d="M1206 353l24-8-22 17-25 8z"/>
<path class="qbv" d="M1086 406l24-9-22 18-25 9z"/>
<path class="qbw" d="M866 523l26-13-22 21-25 12zm-25 13l25-13-21 20-26 13z"/>
<path class="qas" d="M815 549l26-13-22 20-25 14zm-26 14l26-14-21 21-26 14z"/>
<path class="qbx" d="M939 479l25-12-22 19-25 12z"/>
<path class="qby" d="M468 838l26-16-19 27-26 17zm-26 18l26-18-19 28-26 17z"/>
<path class="qaq" d="M487 812l26-17-19 27-26 16z"/>
<path class="qay" d="M461 829l26-17-19 26-26 18z"/>
<path class="qbz" d="M532 769l26-16-19 26-26 16z"/>
<path class="qca" d="M696 635l26-15-21 23-26 15z"/>
<path class="qcb" d="M578 728l26-16-20 25-26 16zm-26 17l26-17-20 25-26 16z"/>
<path class="qaz" d="M598 704l26-16-20 24-26 16zm-27 17l27-17-20 24-26 17z"/>
<path class="qcc" d="M1786 188l22-1-24 9-22 2zm-22 2l22-2-24 10-22 1z"/>
<path class="qcd" d="M1718 201l22-2-24 11-22 1z"/>
<path class="qcc" d="M1696 203l22-2-24 10-22 3z"/>
<path class="qce" d="M1674 205l22-2-24 11-22 2zm-92 21l23-4-24 12-23 4zm-23 4l23-4-24 12-23 4z"/>
<path class="qcf" d="M1512 246l23-4-23 13-23 4zm-23 5l23-5-23 13-23 5z"/>
<path class="qcg" d="M1419 274l24-5-24 14-23 6zm-23 6l23-6-23 15-24 5z"/>
<path class="qch" d="M1301 314l24-7-23 16-24 7zm-24 7l24-7-23 16-24 7z"/>
<path class="qci" d="M1182 361l24-8-23 17-24 8zm-25 9l25-9-23 17-24 9z"/>
<path class="qcj" d="M1061 416l25-10-23 18-24 10zm-25 11l25-11-22 18-25 11zm-25 11l25-11-22 18-25 11z"/>
<path class="qck" d="M763 577l26-14-21 21-26 14z"/>
<path class="qcl" d="M913 491l26-12-22 19-25 12zm-25 12l25-12-21 19-26 13zm-26 13l26-13-22 20-25 13z"/>
<path class="qcm" d="M506 786l26-17-19 26-26 17z"/>
<path class="qcn" d="M670 650l26-15-21 23-25 15zm-26 15l26-15-20 23-26 15z"/>
<path class="qco" d="M717 613l25-15-20 22-26 15zm-26 15l26-15-21 22-26 15z"/>
<path class="qca" d="M664 644l27-16-21 22-26 15z"/>
<path class="qcp" d="M1811 180l21-1-24 8-22 1zm-22 1l22-1-25 8-22 2z"/>
<path class="qcq" d="M1742 191l22-1-24 9-22 2z"/>
<path class="qcp" d="M1720 193l22-2-24 10-22 2zm-22 3l22-3-24 10-22 2z"/>
<path class="qcr" d="M1651 208l23-3-24 11-23 3z"/>
<path class="qcs" d="M1675 199l23-3-24 9-23 3zm92-16l22-2-25 9-22 1z"/>
<path class="qct" d="M1745 185l22-2-25 8-22 2zm90-12l22-1-25 7-21 1z"/>
<path class="qcu" d="M1536 234l23-4-24 12-23 4zm-23 5l23-5-24 12-23 5z"/>
<path class="qcv" d="M1466 256l23-5-23 13-23 5zm-23 5l23-5-23 13-24 5z"/>
<path class="qcw" d="M1372 286l24-6-24 14-23 7zm-24 7l24-7-23 15-24 6z"/>
<path class="qcx" d="M1253 329l24-8-23 16-24 8zm-24 8l24-8-23 16-24 8z"/>
<path class="qcy" d="M1133 380l24-10-22 17-25 10zm-25 9l25-9-23 17-24 9z"/>
<path class="qcz" d="M986 449l25-11-22 18-25 11z"/>
<path class="qda" d="M836 529l26-13-21 20-26 13z"/>
<path class="qdb" d="M480 803l26-17-19 26-26 17z"/>
<path class="qdc" d="M525 761l27-16-20 24-26 17z"/>
<path class="qbz" d="M499 779l26-18-19 25-26 17z"/>
<path class="qdd" d="M618 681l26-16-20 23-26 16zm-26 17l26-17-20 23-27 17z"/>
<path class="qde" d="M738 592l25-15-21 21-25 15zm-27 15l27-15-21 21-26 15z"/>
<path class="qdf" d="M1629 211l22-3-24 11-22 3z"/>
<path class="qcp" d="M1606 215l23-4-24 11-23 4zm-23 4l23-4-24 11-23 4z"/>
<path class="qcs" d="M1653 202l22-3-24 9-22 3z"/>
<path class="qdg" d="M1722 187l23-2-25 8-22 3z"/>
<path class="qdh" d="M1813 174l22-1-24 7-22 1z"/>
<path class="qdi" d="M1791 176l22-2-24 7-22 2zm-91 14l22-3-24 9-23 3zm-23 3l23-3-25 9-22 3z"/>
<path class="qdj" d="M1769 178l22-2-24 7-22 2zm-22 2l22-2-24 7-23 2zm113-14l21-1-24 7-22 1z"/>
<path class="qdk" d="M1838 168l22-2-25 7-22 1zm-22 1l22-1-25 6-22 2zm-92 14l23-3-25 7-22 3z"/>
<path class="qdl" d="M1490 244l23-5-24 12-23 5zm-24 5l24-5-24 12-23 5z"/>
<path class="qdm" d="M1419 267l24-6-24 13-23 6zm-23 6l23-6-23 13-24 6z"/>
<path class="qdn" d="M1443 255l23-6-23 12-24 6zm117-32l23-4-24 11-23 4zm-23 5l23-5-24 11-23 5z"/>
<path class="qdo" d="M1514 233l23-5-24 11-23 5zm116-28l23-3-24 9-23 4z"/>
<path class="qdj" d="M1655 197l22-4-24 9-23 3z"/>
<path class="qdp" d="M1325 299l23-6-23 14-24 7zm-24 8l24-8-24 15-24 7z"/>
<path class="qdq" d="M1205 346l24-9-23 16-24 8z"/>
<path class="qdr" d="M1083 399l25-10-22 17-25 10z"/>
<path class="qds" d="M961 460l25-11-22 18-25 12z"/>
<path class="qdt" d="M811 543l25-14-21 20-26 14zm-26 14l26-14-22 20-26 14z"/>
<path class="qdu" d="M545 738l26-17-19 24-27 16z"/>
<path class="qdv" d="M638 660l26-16-20 21-26 16z"/>
<path class="qdw" d="M685 623l26-16-20 21-27 16zm-26 16l26-16-21 21-26 16z"/>
<path class="qdx" d="M1885 162l21-1-25 4-21 1z"/>
<path class="qdy" d="M1794 171l22-2-25 7-22 2z"/>
<path class="qdz" d="M1772 174l22-3-25 7-22 2zm-23 3l23-3-25 6-23 3zm114-14l22-1-25 4-22 2z"/>
<path class="qea" d="M1702 186l22-3-24 7-23 3z"/>
<path class="qdx" d="M1679 189l23-3-25 7-22 4z"/>
<path class="qeb" d="M1372 279l24-6-24 13-24 7zm-24 7l24-7-24 14-23 6z"/>
<path class="qec" d="M1324 293l24-7-23 13-24 8zm95-32l24-6-24 12-23 6z"/>
<path class="qed" d="M1490 238l24-5-24 11-24 5zm-23 6l23-6-24 11-23 6z"/>
<path class="qee" d="M1607 209l23-4-24 10-23 4z"/>
<path class="qdi" d="M1584 213l23-4-24 10-23 4z"/>
<path class="qef" d="M1561 218l23-5-24 10-23 5zm-23 5l23-5-24 10-23 5zm-95 27l24-6-24 11-24 6z"/>
<path class="qdk" d="M1515 228l23-5-24 10-24 5zm117-27l23-4-25 8-23 4zm-23 4l23-4-25 8-23 4z"/>
<path class="qdx" d="M1586 209l23-4-25 8-23 5z"/>
<path class="qdz" d="M1562 214l24-5-25 9-23 5zm-23 5l23-5-24 9-23 5zm117-26l23-4-24 8-23 4z"/>
<path class="qeg" d="M1633 197l23-4-24 8-23 4zm208-33l22-1-25 5-22 1z"/>
<path class="qeh" d="M1819 166l22-2-25 5-22 2zm-209 36l23-5-24 8-23 4zm116-22l23-3-25 6-22 3z"/>
<path class="qei" d="M1704 183l22-3-24 6-23 3zm-23 4l23-4-25 6-23 4zm-23 4l23-4-25 6-23 4zm-23 4l23-4-25 6-23 5zm-48 12l23-5-24 7-24 5zm24-7l24-5-25 7-23 5zm-48 12l24-5-25 7-23 5zm25-6l23-6-24 7-24 5zm208-37l23-3-25 5-22 3zm-22 3l22-3-24 5-23 3zm-23 3l23-3-25 5-23 3zm-22 3l22-3-25 5-22 3zm-23 4l23-4-25 5-23 4zm-23 4l23-4-25 5-23 4zm-24 4l24-4-25 5-23 4zm-23 5l23-5-24 5-24 5zm-23 5l23-5-25 5-23 6zm297-42l21-1-25 4-21 1zm25-3l21-1-25 3-21 1zm25-1l22-1-26 1-21 1zm25 0l22-1-25 0-22 1zm26 1l21-1-25-1-22 1zm-123 4l22-1-25 4-22 1zm25-3l22-1-25 3-22 1zm25-1l22-1-25 1-22 1zm25 0l22-1-25 0-22 1zm26 1l22-1-26-1-22 1zm-123 5l22-2-25 4-22 1zm25-3l22-2-25 3-22 2zm25-1l22-2-25 1-22 2zm26-1l21-1-25 0-22 2zm-98 7l22-2-25 3-22 2zm25-3l22-2-25 3-22 2zm25-1l22-2-25 1-22 2zm25-1l23-2-26 1-22 2zm-98 7l23-2-25 3-23 3zm25-3l23-2-25 3-23 2zm26-1l22-2-25 1-23 2zm25 0l22-3-25 1-22 2zm-98 7l22-3-25 4-22 3zm25-3l22-3-25 3-22 3zm25-1l23-3-26 1-22 3zm-73 7l23-3-25 4-23 3zm25-3l23-3-25 3-23 3zm26-1l22-3-25 1-23 3zm-73 7l22-3-25 4-22 3zm25-3l22-3-25 3-22 3zm25-1l23-3-26 1-22 3zm-73 8l23-4-25 4-23 4zm25-3l23-4-25 3-23 4zm-48 7l23-4-25 4-23 4zm25-3l23-4-25 3-23 4zm-49 7l24-4-25 4-24 4zm26-2l23-5-25 3-24 4zm-49 7l23-5-25 4-23 5zm25-2l24-5-26 2-23 5zm-48 7l23-5-25 4-23 5z"/>
<path class="qeh" d="M1781 174l23-4-25 1-23 4zm94-11l22-2-25 0-23 3zm92-6l22-1-26-1-21 1z"/>
<path class="qdz" d="M1945 159l22-2-25-1-23 2zm-93 7l23-3-26 1-22 3zm184-9l22-1-26-2-21 1z"/>
<path class="qdy" d="M2015 158l21-1-25-2-22 1zm-186 12l23-4-25 1-23 3zm94-8l22-3-26-1-22 3z"/>
<path class="qej" d="M1900 164l23-2-26-1-22 2zm-94 9l23-3-25 0-23 4zm187-13l22-2-26-2-22 1z"/>
<path class="qeg" d="M1758 178l23-4-25 1-23 4zm-95 16l23-5-25 2-23 5z"/>
<path class="qek" d="M1783 177l23-4-25 1-23 4zm187-16l23-1-26-3-22 2zm-92 6l22-3-25-1-23 3z"/>
<path class="qel" d="M1855 171l23-4-26-1-23 4zm93-7l22-3-25-2-22 3z"/>
<path class="qem" d="M1926 166l22-2-25-2-23 2zm-94 8l23-3-26-1-23 3z"/>
<path class="qen" d="M1809 178l23-4-26-1-23 4zm94-9l23-3-26-2-22 3z"/>
<path class="qeo" d="M1276 314l25-7-24 14-24 8zm-24 8l24-8-23 15-24 8z"/>
<path class="qep" d="M1180 354l25-8-23 15-25 9z"/>
<path class="qeq" d="M1058 410l25-11-22 17-25 11zm-25 11l25-11-22 17-25 11z"/>
<path class="qer" d="M935 472l26-12-22 19-26 12zm-25 13l25-13-22 19-25 12z"/>
<path class="qes" d="M759 572l26-15-22 20-25 15z"/>
<path class="qet" d="M519 755l26-17-20 23-26 18z"/>
<path class="qeu" d="M565 715l27-17-21 23-26 17z"/>
<path class="qev" d="M612 676l26-16-20 21-26 17zm-26 17l26-17-20 22-27 17z"/>
<path class="qew" d="M1396 267l23-6-23 12-24 6z"/>
<path class="qed" d="M1372 274l24-7-24 12-24 7z"/>
<path class="qef" d="M1419 256l24-6-24 11-23 6z"/>
<path class="qex" d="M1395 263l24-7-23 11-24 7zm96-29l24-6-25 10-23 6z"/>
<path class="qdx" d="M1467 240l24-6-24 10-24 6z"/>
<path class="qdz" d="M1443 246l24-6-24 10-24 6z"/>
<path class="qeh" d="M1515 225l24-6-24 9-24 6z"/>
<path class="qei" d="M1540 218l23-6-24 7-24 6zm24-7l24-5-25 6-23 6zm25-5l24-6-25 6-24 5zm25-4l24-6-25 4-24 6zm-122 29l23-6-24 9-24 6zm24-7l24-6-25 7-23 6zm25-7l23-6-24 7-24 6zm24-5l24-6-25 5-23 6zm25-4l24-6-25 4-24 6zm-122 29l24-6-25 9-24 6zm24-7l24-6-24 7-24 6zm25-6l24-7-25 7-24 6zm24-6l24-6-24 5-24 7z"/>
<path class="qey" d="M1639 199l24-5-25 2-24 6zm96-17l23-4-25 1-23 5z"/>
<path class="qdy" d="M1615 205l24-6-25 3-24 6z"/>
<path class="qeh" d="M1566 214l24-6-25 4-24 6z"/>
<path class="qez" d="M2062 160l22-1-26-3-22 1z"/>
<path class="qek" d="M2040 161l22-1-26-3-21 1z"/>
<path class="qel" d="M2018 163l22-2-25-3-22 2zm-258 19l23-5-25 1-23 4z"/>
<path class="qem" d="M1996 165l22-2-25-3-23 1zm92 0l21-1-25-5-22 1z"/>
<path class="qfa" d="M1786 183l23-5-26-1-23 5zm95-10l22-4-25-2-23 4z"/>
<path class="qfb" d="M2066 166l22-1-26-5-22 1zm-92 1l22-2-26-4-22 3z"/>
<path class="qfa" d="M1952 170l22-3-26-3-22 2zm92-2l22-2-26-5-22 2z"/>
<path class="qfc" d="M2022 170l22-2-26-5-22 2zm-93 3l23-3-26-4-23 3zm-71 4l23-4-26-2-23 3z"/>
<path class="qfd" d="M1835 181l23-4-26-3-23 4zm165-9l22-2-26-5-22 2z"/>
<path class="qfe" d="M1300 301l24-8-23 14-25 7z"/>
<path class="qff" d="M1228 331l24-9-23 15-24 9zm-25 9l25-9-23 15-25 8z"/>
<path class="qfg" d="M1156 364l24-10-23 16-24 10zm-25 9l25-9-23 16-25 9z"/>
<path class="qfh" d="M1008 432l25-11-22 17-25 11zm-25 11l25-11-22 17-25 11z"/>
<path class="qfi" d="M884 498l26-13-22 18-26 13zm-26 13l26-13-22 18-26 13z"/>
<path class="qfj" d="M733 587l26-15-21 20-27 15zm-27 16l27-16-22 20-26 16z"/>
<path class="qfk" d="M539 732l26-17-20 23-26 17z"/>
<path class="qfl" d="M633 655l26-16-21 21-26 16z"/>
<path class="qfm" d="M1348 281l24-7-24 12-24 7z"/>
<path class="qfn" d="M1419 253l24-7-24 10-24 7z"/>
<path class="qei" d="M1444 244l24-7-25 9-24 7zm24-7l24-7-24 7-24 7zm25-7l24-6-25 6-24 7zm24-5l24-7-24 6-24 6z"/>
<path class="qdz" d="M1542 221l24-7-25 4-24 7z"/>
<path class="qfo" d="M1712 187l23-5-25 2-24 5z"/>
<path class="qez" d="M1688 192l24-5-26 2-23 5z"/>
<path class="qek" d="M1664 198l24-6-25 2-24 5z"/>
<path class="qel" d="M1641 204l23-6-25 1-24 6z"/>
<path class="qem" d="M1737 187l23-5-25 0-23 5z"/>
<path class="qen" d="M1713 192l24-5-25 0-24 5z"/>
<path class="qfp" d="M1591 212l24-7-25 3-24 6z"/>
<path class="qek" d="M1567 218l24-6-25 2-24 7z"/>
<path class="qfq" d="M2114 171l21-1-26-6-21 1z"/>
<path class="qfc" d="M1762 188l24-5-26-1-23 5z"/>
<path class="qfd" d="M1739 193l23-5-25-1-24 5z"/>
<path class="qfr" d="M1906 176l23-3-26-4-22 4z"/>
<path class="qfs" d="M1811 185l24-4-26-3-23 5z"/>
<path class="qft" d="M1788 190l23-5-25-2-24 5zm95-10l23-4-25-3-23 4z"/>
<path class="qfu" d="M1860 184l23-4-25-3-23 4zm-23 5l23-5-25-3-24 4zm-23 4l23-4-26-4-23 5zm-49 2l23-5-26-2-23 5z"/>
<path class="qfv" d="M1977 175l23-3-26-5-22 3z"/>
<path class="qfw" d="M1275 309l25-8-24 13-24 8zm-24 8l24-8-23 13-24 9z"/>
<path class="qfm" d="M1226 326l25-9-23 14-25 9z"/>
<path class="qfx" d="M1179 349l24-9-23 14-24 10zm-25 10l25-10-23 15-25 9z"/>
<path class="qfy" d="M1106 383l25-10-23 16-25 10zm-25 11l25-11-23 16-25 11z"/>
<path class="qfz" d="M957 455l26-12-22 17-26 12z"/>
<path class="qga" d="M832 525l26-14-22 18-25 14zm-26 14l26-14-21 18-26 14z"/>
<path class="qgb" d="M680 619l26-16-21 20-26 16z"/>
<path class="qgc" d="M559 710l27-17-21 22-26 17z"/>
<path class="qgd" d="M606 672l27-17-21 21-26 17zm-26 17l26-17-20 21-27 17z"/>
<path class="qge" d="M1323 289l25-8-24 12-24 8zm-24 8l24-8-23 12-25 8z"/>
<path class="qex" d="M1275 305l24-8-24 12-24 8z"/>
<path class="qgf" d="M1371 270l24-7-23 11-24 7z"/>
<path class="qdx" d="M1347 278l24-8-23 11-25 8z"/>
<path class="qeh" d="M1395 260l24-7-24 10-24 7z"/>
<path class="qei" d="M1420 251l24-7-25 9-24 7zm24-7l24-7-24 7-24 7zm24-7l25-7-25 7-24 7zm25-5l24-7-24 5-25 7zm-122 36l24-8-24 10-24 8zm24-9l25-8-25 9-24 8zm25-8l24-7-24 7-25 8zm24-6l24-8-24 7-24 7zm25-5l24-8-25 5-24 8z"/>
<path class="qdy" d="M1518 228l24-7-25 4-24 7z"/>
<path class="qel" d="M1543 225l24-7-25 3-24 7z"/>
<path class="qfn" d="M1323 286l24-8-24 11-24 8zm-25 8l25-8-24 11-24 8z"/>
<path class="qei" d="M1347 276l24-8-24 10-24 8zm24-9l24-8-24 9-24 8zm24-8l25-8-25 8-24 8zm25-6l24-8-24 6-25 8zm-98 31l25-8-24 10-25 8zm24-9l25-8-24 9-25 8zm25-7l24-9-24 8-25 8zm24-7l25-8-25 6-24 9z"/>
<path class="qeg" d="M1444 248l25-8-25 5-24 8z"/>
<path class="qdz" d="M1420 256l24-8-24 5-25 8z"/>
<path class="qfp" d="M1494 236l24-8-25 4-24 8z"/>
<path class="qdj" d="M1469 244l25-8-25 4-25 8z"/>
<path class="qek" d="M1445 252l24-8-25 4-24 8z"/>
<path class="qgg" d="M1690 198l23-6-25 0-24 6z"/>
<path class="qfq" d="M1666 203l24-5-26 0-23 6z"/>
<path class="qfs" d="M1715 198l24-5-26-1-23 6z"/>
<path class="qgh" d="M1617 210l24-6-26 1-24 7z"/>
<path class="qgi" d="M1642 210l24-7-25 1-24 6zm450-38l22-1-26-6-22 1z"/>
<path class="qfr" d="M2070 174l22-2-26-6-22 2z"/>
<path class="qgj" d="M2048 176l22-2-26-6-22 2zm-356 28l23-6-25 0-24 5z"/>
<path class="qgk" d="M1668 211l24-7-26-1-24 7zm358-33l22-2-26-6-22 2zm-23 3l23-3-26-6-23 3z"/>
<path class="qgg" d="M1593 217l24-7-26 2-24 6z"/>
<path class="qfq" d="M1568 224l25-7-26 1-24 7z"/>
<path class="qfr" d="M1618 217l24-7-25 0-24 7z"/>
<path class="qgl" d="M2140 178l21-1-26-7-21 1z"/>
<path class="qgj" d="M2118 179l22-1-26-7-22 1zm-524 45l24-7-25 0-25 7z"/>
<path class="qgk" d="M2096 181l22-2-26-7-22 2zm-22 2l22-2-26-7-22 2zm-431 35l25-7-26-1-24 7z"/>
<path class="qgm" d="M1619 225l24-7-25-1-24 7zm433-40l22-2-26-7-22 2zm-23 3l23-3-26-7-23 3z"/>
<path class="qft" d="M1955 178l22-3-25-5-23 3z"/>
<path class="qfu" d="M1932 181l23-3-26-5-23 3zm-23 4l23-4-26-5-23 4zm-168 16l24-6-26-2-24 5z"/>
<path class="qgn" d="M1886 189l23-4-26-5-23 4zm-23 4l23-4-26-5-23 5zm-23 5l23-5-26-4-23 4zm141-14l22-3-26-6-22 3zm-23 3l23-3-26-6-23 3zm-23 4l23-4-26-6-23 4zm-23 4l23-4-26-6-23 4zm-122 4l24-6-26-3-23 5zm26 4l24-5-26-5-24 6zm-49 1l23-5-25-4-24 6z"/>
<path class="qgm" d="M2007 191l22-3-26-7-22 3zm-290 16l24-6-26-3-23 6zm-24 6l24-6-25-3-24 7zm-24 7l24-7-25-2-25 7zm-24 7l24-7-26-2-24 7z"/>
<path class="qgn" d="M1743 210l24-6-26-3-24 6zm241-16l23-3-26-7-23 3z"/>
<path class="qgo" d="M1961 198l23-4-26-7-23 4zm-22 4l22-4-26-7-23 4zm-146 7l23-6-26-4-23 5zm-24 6l24-6-26-5-24 6zm120-16l23-4-26-6-23 4zm26 8l24-5-27-7-23 4zm-49-3l23-5-26-6-23 5zm-24 6l24-6-26-6-24 5zm-23 5l23-5-26-7-23 6z"/>
<path class="qgp" d="M1795 221l24-6-26-6-24 6zm97-9l23-5-26-8-23 5zm-23 5l23-5-26-8-24 6z"/>
<path class="qgq" d="M1202 335l24-9-23 14-24 9z"/>
<path class="qgr" d="M1129 369l25-10-23 14-25 10z"/>
<path class="qgs" d="M1056 405l25-11-23 16-25 11zm-25 11l25-11-23 16-25 11z"/>
<path class="qgt" d="M932 468l25-13-22 17-25 13zm-26 13l26-13-22 17-26 13z"/>
<path class="qgu" d="M780 553l26-14-21 18-26 15zm-26 16l26-16-21 19-26 15z"/>
<path class="qgv" d="M654 635l26-16-21 20-26 16zm-27 17l27-17-21 20-27 17z"/>
<path class="qgw" d="M1250 314l25-9-24 12-25 9z"/>
<path class="qeh" d="M1274 303l24-9-23 11-25 9z"/>
<path class="qei" d="M1297 293l25-9-24 10-24 9zm25-9l24-9-24 9-25 9zm24-8l25-8-25 7-24 9zm24-6l25-9-24 7-25 8z"/>
<path class="qdy" d="M1395 265l25-9-25 5-25 9z"/>
<path class="qdh" d="M1420 261l25-9-25 4-25 9z"/>
<path class="qgx" d="M1519 233l24-8-25 3-24 8z"/>
<path class="qgy" d="M2166 187l21-1-26-9-21 1zm-22 1l22-1-26-9-22 1z"/>
<path class="qgm" d="M2122 189l22-1-26-9-22 2zm-22 2l22-2-26-8-22 2zm-22 3l22-3-26-8-22 2zm-22 2l22-2-26-9-23 3z"/>
<path class="qgz" d="M2033 199l23-3-27-8-22 3zm-23 4l23-4-26-8-23 3zm-22 4l22-4-26-9-23 4zm-269 10l24-7-26-3-24 6zm26 5l24-7-26-5-24 7zm-50 1l24-6-26-4-24 7zm-24 8l24-8-26-3-24 7z"/>
<path class="qha" d="M1721 228l24-6-26-5-24 6zm-24 8l24-8-26-5-24 8zm74-8l24-7-26-6-24 7zm-24 7l24-7-26-6-24 6zm-24 7l24-7-26-7-24 8zm242-31l23-4-27-9-22 4zm-23 4l23-4-26-9-24 5zm-24 5l24-5-27-8-23 5zm-23 6l23-6-26-8-23 5zm-50-3l24-6-27-7-23 5zm26 8l24-5-26-9-24 6zm-50-2l24-6-26-8-24 6zm27 9l23-7-26-8-24 6zm-51-3l24-6-26-8-24 7zm27 9l24-6-27-9-24 6zm-51-2l24-7-26-7-24 7zm27 9l24-7-27-9-24 7zm-51-2l24-7-26-7-24 7zm26 9l25-7-27-9-24 7z"/>
<path class="qhb" d="M1177 345l25-10-23 14-25 10zm-25 10l25-10-23 14-25 10z"/>
<path class="qhc" d="M1104 379l25-10-23 14-25 11zm-25 11l25-11-23 15-25 11z"/>
<path class="qgw" d="M1127 365l25-10-23 14-25 10z"/>
<path class="qhd" d="M1005 427l26-11-23 16-25 11z"/>
<path class="qhe" d="M880 494l26-13-22 17-26 13z"/>
<path class="qhf" d="M728 584l26-15-21 18-27 16z"/>
<path class="qhg" d="M600 670l27-18-21 20-26 17z"/>
<path class="qhh" d="M1225 323l25-9-24 12-24 9zm-25 9l25-9-23 12-25 10z"/>
<path class="qfn" d="M1175 342l25-10-23 13-25 10z"/>
<path class="qhi" d="M1494 241l25-8-25 3-25 8z"/>
<path class="qhj" d="M1544 232l24-8-25 1-24 8z"/>
<path class="qgi" d="M1519 239l25-7-25 1-25 8z"/>
<path class="qgy" d="M1569 231l25-7-26 0-24 8zm-24 8l24-8-25 1-25 7z"/>
<path class="qgm" d="M1595 232l24-7-25-1-25 7z"/>
<path class="qhk" d="M1570 240l25-8-26-1-24 8zm622-44l21-1-26-9-21 1zm26 11l21-1-26-11-21 1zm-48-9l22-2-26-9-22 1zm-22 1l22-1-26-10-22 1z"/>
<path class="qgz" d="M2126 201l22-2-26-10-22 2zm-22 3l22-3-26-10-22 3zm-22 2l22-2-26-10-22 2zm-23 3l23-3-26-10-23 3zm-438 26l24-8-26-2-24 7zm25 3l25-7-26-4-24 8zm-50 5l25-8-26-3-25 8z"/>
<path class="qha" d="M1622 246l24-8-25-3-25 8zm50-3l25-7-26-5-25 7zm26 6l25-7-26-6-25 7zm27 8l24-8-26-7-25 7zm26 9l24-8-26-9-24 8zm-103-15l24-8-26-5-24 8zm26 6l24-8-26-6-24 8zm26 8l25-8-27-8-24 8zm337-52l22-4-26-10-23 4zm-23 4l23-4-27-10-22 4zm-23 4l23-4-26-10-23 4zm-23 4l23-4-26-10-23 4zm-23 5l23-5-26-10-24 5zm-24 6l24-6-27-10-23 6zm-23 5l23-5-26-10-24 5zm-24 7l24-7-27-10-23 7zm-24 6l24-6-26-10-24 6zm-24 7l24-7-26-10-24 7z"/>
<path class="qhl" d="M1802 268l24-7-26-10-25 7zm-24 8l24-8-27-10-24 8zm-51-2l24-8-26-9-25 8zm26 10l25-8-27-10-24 8z"/>
<path class="qhm" d="M1053 401l26-11-23 15-25 11z"/>
<path class="qhn" d="M1102 376l25-11-23 14-25 11z"/>
<path class="qho" d="M980 439l25-12-22 16-26 12zm-26 13l26-13-23 16-25 13z"/>
<path class="qhp" d="M854 508l26-14-22 17-26 14zm-26 14l26-14-22 17-26 14z"/>
<path class="qhq" d="M701 600l27-16-22 19-26 16z"/>
<path class="qhr" d="M1249 312l25-9-24 11-25 9zm24-10l24-9-23 10-25 9zm-49 19l25-9-24 11-25 9zm24-10l25-9-24 10-25 9zm-49 20l25-10-24 11-25 10zm24-10l25-10-24 10-25 10z"/>
<path class="qei" d="M1297 293l25-9-25 9-24 9zm24-8l25-9-24 8-25 9zm-49 17l25-9-24 9-25 9zm24-7l25-10-24 8-25 9zm-49 17l25-10-24 9-25 10zm24-7l25-10-24 7-25 10z"/>
<path class="qeh" d="M1345 279l25-9-24 6-25 9zm-25 9l25-9-24 6-25 10z"/>
<path class="qdk" d="M1370 274l25-9-25 5-25 9z"/>
<path class="qdz" d="M1295 298l25-10-24 7-25 10z"/>
<path class="qef" d="M1345 283l25-9-25 5-25 9z"/>
<path class="qdi" d="M1320 293l25-10-25 5-25 10z"/>
<path class="qgx" d="M1395 270l25-9-25 4-25 9z"/>
<path class="qhs" d="M1150 353l25-11-23 13-25 10zm-25 10l25-10-23 12-25 11z"/>
<path class="qhr" d="M1174 341l25-10-24 11-25 11zm23-10l26-10-24 10-25 10zm24-8l26-11-24 9-26 10zm-73 29l26-11-24 12-25 10zm24-10l25-11-23 10-26 11zm24-9l25-10-24 8-25 11z"/>
<path class="qei" d="M1245 315l26-10-24 7-26 11z"/>
<path class="qdx" d="M1270 309l25-11-24 7-26 10z"/>
<path class="qdi" d="M1294 303l26-10-25 5-25 11z"/>
<path class="qeh" d="M1220 326l25-11-24 8-25 10z"/>
<path class="qex" d="M1244 319l26-10-25 6-25 11z"/>
<path class="qee" d="M1269 314l25-11-24 6-26 10z"/>
<path class="qht" d="M1470 249l24-8-25 3-24 8z"/>
<path class="qhu" d="M2244 220l22-1-27-13-21 1z"/>
<path class="qhv" d="M2196 209l22-2-26-11-22 2zm-22 1l22-1-26-11-22 1zm-21 2l21-2-26-11-22 2zm-23 3l23-3-27-11-22 3z"/>
<path class="qhu" d="M2223 221l21-1-26-13-22 2zm-22 2l22-2-27-12-22 1z"/>
<path class="qhl" d="M2179 225l22-2-27-13-21 2zm-22 2l22-2-26-13-23 3zm-49-10l22-2-26-11-22 2zm27 13l22-3-27-12-22 2zm-49-9l22-4-26-11-23 3zm26 12l23-3-27-13-22 4z"/>
<path class="qha" d="M2063 224l23-3-27-12-22 4zm-23 4l23-4-26-11-23 4zm-22 4l22-4-26-11-23 4zm-24 5l24-5-27-11-23 4zm-23 5l23-5-26-12-23 5zm-23 5l23-5-26-12-24 6zm-24 6l24-6-27-11-23 5z"/>
<path class="qhl" d="M1901 259l23-6-26-12-24 7zm-24 7l24-7-27-11-24 6zm-24 7l24-7-27-12-24 7zm-25 7l25-7-27-12-24 7zm-24 8l24-8-26-12-24 8zm-24 8l24-8-26-12-25 8zm310-59l22-4-26-12-23 3zm-23 4l23-4-27-13-23 4zm-23 4l23-4-27-13-22 4zm-23 4l23-4-26-13-24 5zm-23 5l23-5-27-12-23 5zm-24 6l24-6-27-12-23 5zm-23 6l23-6-26-13-24 6zm-24 6l24-6-27-13-23 6zm-24 6l24-6-26-13-24 7zm-24 8l24-8-26-12-24 7zm-24 7l24-7-26-13-25 7z"/>
<path class="qhw" d="M1028 413l25-12-22 15-26 11zm-26 12l26-12-23 14-25 12z"/>
<path class="qhx" d="M977 437l25-12-22 14-26 13zm99-50l26-11-23 14-26 11z"/>
<path class="qhr" d="M1100 375l25-12-23 13-26 11zm23-12l25-11-23 11-25 12zm24-10l25-11-24 10-25 11zm23-9l26-11-24 9-25 11z"/>
<path class="qeh" d="M1195 337l25-11-24 7-26 11z"/>
<path class="qef" d="M1219 331l25-12-24 7-25 11z"/>
<path class="qcs" d="M1243 325l26-11-25 5-25 12z"/>
<path class="qhy" d="M928 465l26-13-22 16-26 13z"/>
<path class="qhz" d="M951 450l26-13-23 15-26 13zm100-51l25-12-23 14-25 12z"/>
<path class="qhr" d="M1074 386l26-11-24 12-25 12zm23-11l26-12-23 12-26 11zm24-10l26-12-24 10-26 12zm24-9l25-12-23 9-26 12z"/>
<path class="qfn" d="M1169 348l26-11-25 7-25 12z"/>
<path class="qef" d="M1193 342l26-11-24 6-26 11z"/>
<path class="qcp" d="M1218 337l25-12-24 6-26 11z"/>
<path class="qhs" d="M1025 411l26-12-23 14-26 12zm-26 12l26-12-23 14-25 12z"/>
<path class="qhr" d="M974 436l25-13-22 14-26 13zm74-38l26-12-23 13-26 12zm24-11l25-12-23 11-26 12zm23-10l26-12-24 10-25 12zm24-9l26-12-24 9-26 12zm-96 43l25-13-23 13-26 12zm23-12l26-12-24 11-25 13zm23-10l26-12-23 10-26 12zm24-9l26-12-24 9-26 12zm-96 44l26-13-24 12-25 13zm23-12l26-13-23 12-26 13zm23-10l26-13-23 10-26 13z"/>
<path class="qhh" d="M1143 360l26-12-24 8-26 12z"/>
<path class="qed" d="M1167 354l26-12-24 6-26 12z"/>
<path class="qcp" d="M1192 349l26-12-25 5-26 12z"/>
<path class="qhs" d="M1067 393l26-13-24 9-26 13z"/>
<path class="qia" d="M802 536l26-14-22 17-26 14zm-26 15l26-15-22 17-26 16z"/>
<path class="qib" d="M675 617l26-17-21 19-26 16z"/>
<path class="qic" d="M1370 279l25-9-25 4-25 9z"/>
<path class="qid" d="M1445 258l25-9-25 3-25 9z"/>
<path class="qie" d="M1495 248l24-9-25 2-24 8z"/>
<path class="qgy" d="M1520 248l25-9-26 0-24 9z"/>
<path class="qhk" d="M1546 249l24-9-25-1-25 9z"/>
<path class="qhv" d="M1571 251l25-8-26-3-24 9z"/>
<path class="qha" d="M1597 255l25-9-26-3-25 8zm26 5l25-9-26-5-25 9zm26 6l25-9-26-6-25 9z"/>
<path class="qhl" d="M1675 273l25-8-26-8-25 9zm27 9l25-8-27-9-25 8zm26 11l25-9-26-10-25 8z"/>
<path class="qif" d="M1755 305l25-9-27-12-25 9zm76-4l24-8-27-13-24 8zm-25 8l25-8-27-13-24 8zm-24 9l24-9-26-13-25 9z"/>
<path class="qig" d="M2270 233l22-1-26-13-22 1z"/>
<path class="qif" d="M2249 235l21-2-26-13-21 1zm-22 1l22-1-26-14-22 2zm-22 3l22-3-26-13-22 2zm-22 2l22-2-26-14-22 2zm-22 3l22-3-26-14-22 3zm-22 3l22-3-26-14-23 3zm-23 4l23-4-27-14-22 4z"/>
<path class="qhl" d="M2093 254l23-3-26-14-23 4zm-22 5l22-5-26-13-23 4zm-23 4l23-4-27-14-23 4zm-24 6l24-6-27-14-23 5zm-23 5l23-5-26-15-24 6z"/>
<path class="qif" d="M1978 280l23-6-27-14-23 6zm-24 6l24-6-27-14-24 6zm-24 7l24-7-27-14-24 6zm-24 7l24-7-27-15-24 8zm-24 7l24-7-27-14-24 7zm-24 8l24-8-27-14-24 8zm-25 8l25-8-27-14-25 8z"/>
<path class="qih" d="M1809 332l24-9-27-14-24 9zm488-84l21-1-26-15-22 1zm-22 2l22-2-27-15-21 2zm-21 1l21-1-26-15-22 1zm-22 3l22-3-27-15-22 3z"/>
<path class="qif" d="M2210 256l22-2-27-15-22 2zm-22 3l22-3-27-15-22 3zm-23 3l23-3-27-15-22 3zm-22 4l22-4-26-15-23 4zm-23 4l23-4-27-15-23 3zm-23 4l23-4-27-16-22 5zm-23 5l23-5-26-15-23 4zm-23 5l23-5-26-16-24 6zm-23 5l23-5-27-15-23 5zm-24 6l24-6-27-15-23 6zm-23 7l23-7-26-15-24 6zm-24 6l24-6-27-16-24 7zm-24 7l24-7-27-15-24 7z"/>
<path class="qii" d="M902 478l26-13-22 16-26 13zm-26 14l26-14-22 16-26 14z"/>
<path class="qhz" d="M925 463l26-13-23 15-26 13z"/>
<path class="qhr" d="M948 450l26-14-23 14-26 13zm23-13l26-13-23 12-26 14zm23-11l26-14-23 12-26 13zm23-11l26-13-23 10-26 14z"/>
<path class="qfn" d="M1041 406l26-13-24 9-26 13z"/>
<path class="qhs" d="M899 477l26-14-23 15-26 14z"/>
<path class="qhr" d="M922 463l26-13-23 13-26 14zm22-12l27-14-23 13-26 13zm24-12l26-13-23 11-27 14zm23-10l26-14-23 11-26 13z"/>
<path class="qfn" d="M1015 420l26-14-24 9-26 14z"/>
<path class="qij" d="M1117 373l26-13-24 8-26 12z"/>
<path class="qex" d="M1091 386l26-13-24 7-26 13z"/>
<path class="qge" d="M1065 399l26-13-24 7-26 13z"/>
<path class="qgq" d="M1038 413l27-14-24 7-26 14z"/>
<path class="qik" d="M749 567l27-16-22 18-26 15z"/>
<path class="qil" d="M648 634l27-17-21 18-27 17zm-27 17l27-17-21 18-27 18z"/>
<path class="qim" d="M1344 289l26-10-25 4-25 10z"/>
<path class="qcq" d="M1319 300l25-11-24 4-26 10z"/>
<path class="qin" d="M1420 267l25-9-25 3-25 9z"/>
<path class="qhj" d="M1395 277l25-10-25 3-25 9z"/>
<path class="qio" d="M1470 256l25-8-25 1-25 9z"/>
<path class="qhk" d="M1495 256l25-8-25 0-25 8zm26 1l25-8-26-1-25 8z"/>
<path class="qhv" d="M1546 260l25-9-25-2-25 8z"/>
<path class="qhl" d="M1572 263l25-8-26-4-25 9zm26 5l25-8-26-5-25 8zm26 7l25-9-26-6-25 8zm27 7l24-9-26-7-25 9zm26 9l25-9-27-9-24 9zm26 11l25-9-26-11-25 9z"/>
<path class="qif" d="M1730 314l25-9-27-12-25 9zm27 13l25-9-27-13-25 9z"/>
<path class="qih" d="M1784 341l25-9-27-14-25 9zm125-18l24-8-27-15-24 7zm-24 8l24-8-27-16-24 8zm-25 8l25-8-27-16-25 8zm-25 9l25-9-27-16-24 9zm-24 9l24-9-26-16-25 9z"/>
<path class="qip" d="M2323 265l21-2-26-16-21 1zm-21 1l21-1-26-17-22 2zm-22 2l22-2-27-16-21 1z"/>
<path class="qih" d="M2258 270l22-2-26-17-22 3zm-22 2l22-2-26-16-22 2zm-22 3l22-3-26-16-22 3zm-22 4l22-4-26-16-23 3zm-23 3l23-3-27-17-22 4zm-22 4l22-4-26-16-23 4zm-23 5l23-5-27-16-23 4zm-23 4l23-4-27-17-23 5zm-23 6l23-6-27-16-23 5zm-23 5l23-5-27-17-23 5zm-24 6l24-6-27-17-24 6zm-23 7l23-7-27-17-23 7zm-24 6l24-6-27-17-24 6zm-24 7l24-7-27-17-24 7zm-24 8l24-8-27-17-24 8z"/>
<path class="qip" d="M1911 348l25-8-27-17-24 8zm-24 8l24-8-26-17-25 8zm-25 9l25-9-27-17-25 9zm-24 9l24-9-27-17-24 9z"/>
<path class="qiq" d="M850 506l26-14-22 16-26 14zm-26 14l26-14-22 16-26 14z"/>
<path class="qhs" d="M873 491l26-14-23 15-26 14z"/>
<path class="qhr" d="M895 477l27-14-23 14-26 14zm23-12l26-14-22 12-27 14zm23-11l27-15-24 12-26 14zm24-11l26-14-23 10-27 15zm-119 63l27-15-23 15-26 14zm23-14l26-15-22 14-27 15zm23-13l26-14-23 12-26 15zm23-11l26-14-23 11-26 14z"/>
<path class="qhs" d="M938 458l27-15-24 11-26 14z"/>
<path class="qhx" d="M988 434l27-14-24 9-26 14z"/>
<path class="qgq" d="M1012 427l26-14-23 7-27 14z"/>
<path class="qhw" d="M961 449l27-15-23 9-27 15z"/>
<path class="qir" d="M1141 366l26-12-24 6-26 13z"/>
<path class="qdf" d="M1166 361l26-12-25 5-26 12z"/>
<path class="qis" d="M723 583l26-16-21 17-27 16z"/>
<path class="qit" d="M1294 310l25-10-25 3-25 11z"/>
<path class="qiu" d="M1369 287l26-10-25 2-26 10z"/>
<path class="qiv" d="M1445 266l25-10-25 2-25 9zm-25 9l25-9-25 1-25 10z"/>
<path class="qiw" d="M2350 282l21-1-27-18-21 2zm-22 2l22-2-27-17-21 1z"/>
<path class="qip" d="M2306 285l22-1-26-18-22 2zm-21 3l21-3-26-17-22 2zm-22 2l22-2-27-18-22 2zm-22 3l22-3-27-18-22 3zm-23 3l23-3-27-18-22 4zm-22 4l22-4-26-17-23 3zm-23 4l23-4-27-18-22 4zm-22 5l22-5-26-18-23 5zm-23 5l23-5-27-18-23 4zm-23 5l23-5-27-19-23 6zm-24 5l24-5-27-18-23 5zm-23 6l23-6-26-18-24 6zm-24 7l24-7-27-18-23 7zm-23 7l23-7-26-18-24 6zm-24 7l24-7-27-19-24 7zm-24 7l24-7-27-19-24 8zm-24 8l24-8-27-18-25 8z"/>
<path class="qiw" d="M1914 375l25-9-28-18-24 8zm-24 9l24-9-27-19-25 9zm-25 9l25-9-28-19-24 9z"/>
<path class="qix" d="M798 535l26-15-22 16-26 15z"/>
<path class="qhr" d="M820 521l26-15-22 14-26 15zm22-14l27-15-23 14-26 15zm23-13l27-15-23 13-27 15zm23-11l27-15-23 11-27 15z"/>
<path class="qhs" d="M911 473l27-15-23 10-27 15z"/>
<path class="qhw" d="M935 464l26-15-23 9-27 15z"/>
<path class="qiy" d="M985 441l27-14-24 7-27 15z"/>
<path class="qiz" d="M1115 379l26-13-24 7-26 13z"/>
<path class="qec" d="M1089 392l26-13-24 7-26 13z"/>
<path class="qeb" d="M1062 406l27-14-24 7-27 14z"/>
<path class="qeo" d="M1036 420l26-14-24 7-26 14zm-27 15l27-15-24 7-27 14z"/>
<path class="qja" d="M696 599l27-16-22 17-26 17z"/>
<path class="qjb" d="M1268 321l26-11-25 4-26 11z"/>
<path class="qjc" d="M1344 297l25-10-25 2-25 11z"/>
<path class="qjd" d="M1470 265l25-9-25 0-25 10zm-25 10l25-10-25 1-25 9z"/>
<path class="qhv" d="M1496 267l25-10-26-1-25 9z"/>
<path class="qhu" d="M1471 276l25-9-26-2-25 10z"/>
<path class="qhl" d="M1521 269l25-9-25-3-25 10zm26 4l25-10-26-3-25 9zm26 5l25-10-26-5-25 10zm26 6l25-9-26-7-25 10zm27 8l25-10-27-7-25 9zm26 9l25-10-26-9-25 10zm-156-23l25-9-25-2-25 9zm26 4l25-9-26-4-25 9zm26 5l25-9-26-5-25 9zm26 7l25-10-26-6-25 9zm26 7l26-9-27-8-25 10z"/>
<path class="qif" d="M1627 310l25-9-26-9-26 9zm51 1l25-9-26-11-25 10zm27 12l25-9-27-12-25 9zm-52-2l25-10-26-10-25 9zm27 12l25-10-27-12-25 10z"/>
<path class="qih" d="M1732 336l25-9-27-13-25 9zm27 15l25-10-27-14-25 9zm-52-5l25-10-27-13-25 10zm27 15l25-10-27-15-25 10z"/>
<path class="qip" d="M1786 367l25-10-27-16-25 10zm27 17l25-10-27-17-25 10zm-52-7l25-10-27-16-25 10z"/>
<path class="qiw" d="M1788 394l25-10-27-17-25 10zm52 9l25-10-27-19-25 10z"/>
<path class="qje" d="M1815 413l25-10-27-19-25 10zm561-112l21-1-26-19-21 1z"/>
<path class="qiw" d="M2355 303l21-2-26-19-22 2zm-22 1l22-1-27-19-22 1zm-22 3l22-3-27-19-21 3zm-22 2l22-2-26-19-22 2zm-22 3l22-3-26-19-22 3zm-22 4l22-4-26-19-23 3zm-22 3l22-3-27-20-22 4zm-23 5l23-5-27-19-23 4zm-22 4l22-4-27-20-22 5zm-23 5l23-5-27-19-23 5zm-23 5l23-5-27-19-23 5zm-24 6l24-6-27-19-24 5zm-23 6l23-6-27-20-23 6zm-23 6l23-6-27-20-24 7zm-24 7l24-7-28-19-23 7zm-24 8l24-8-27-19-24 7zm-24 7l24-7-27-20-24 7zm-24 8l24-8-27-20-24 8zm-25 9l25-9-27-20-25 9z"/>
<path class="qjf" d="M1395 285l25-10-25 2-26 10z"/>
<path class="qjd" d="M1420 285l25-10-25 0-25 10z"/>
<path class="qhu" d="M1445 286l26-10-26-1-25 10z"/>
<path class="qif" d="M1471 289l25-11-25-2-26 10zm26 3l25-10-26-4-25 11zm26 5l25-10-26-5-25 10zm26 7l25-10-26-7-25 10zm26 8l25-11-26-7-25 10zm26 9l26-11-27-9-25 11zm27 10l25-10-26-11-26 11z"/>
<path class="qih" d="M1655 343l25-10-27-12-25 10zm26 13l26-10-27-13-25 10z"/>
<path class="qip" d="M1708 371l26-10-27-15-26 10zm27 16l26-10-27-16-26 10z"/>
<path class="qiw" d="M1762 405l26-11-27-17-26 10z"/>
<path class="qje" d="M1790 423l25-10-27-19-26 11zm127-19l24-9-27-20-24 9zm-25 9l25-9-27-20-25 9zm-25 10l25-10-27-20-25 10zm-25 10l25-10-27-20-25 10z"/>
<path class="qjg" d="M1817 444l25-11-27-20-25 10zm585-123l22-1-27-20-21 1z"/>
<path class="qje" d="M2381 323l21-2-26-20-21 2zm-21 2l21-2-26-20-22 1zm-22 2l22-2-27-21-22 3zm-22 3l22-3-27-20-22 2zm-22 3l22-3-27-21-22 3zm-22 3l22-3-27-21-22 4zm-22 4l22-4-27-20-22 3zm-23 4l23-4-27-21-23 5zm-23 5l23-5-27-20-22 4zm-22 5l22-5-26-21-23 5zm-23 5l23-5-27-21-23 5zm-24 6l24-6-27-21-24 6zm-23 6l23-6-27-21-23 6zm-23 7l23-7-27-21-23 6zm-24 6l24-6-27-22-24 7zm-24 8l24-8-27-21-24 8zm-24 8l24-8-27-21-24 7zm-24 8l24-8-27-22-24 8zm-24 8l24-8-27-22-25 9z"/>
<path class="qjh" d="M771 551l27-16-22 16-27 16zm-26 16l26-16-22 16-26 16zm-27 16l27-16-22 16-27 16z"/>
<path class="qhr" d="M793 536l27-15-22 14-27 16zm23-14l26-15-22 14-27 15zm23-12l26-16-23 13-26 15zm22-11l27-16-23 11-26 16zm-94 53l26-16-22 15-26 16zm22-14l27-16-23 14-26 16zm23-12l27-16-23 12-27 16zm23-11l26-16-22 11-27 16zm-95 53l27-16-22 15-27 16zm22-13l27-17-22 14-27 16zm23-13l27-16-23 12-27 17zm23-11l27-16-23 11-27 16z"/>
<path class="qhz" d="M885 489l26-16-23 10-27 16z"/>
<path class="qhm" d="M908 480l27-16-24 9-26 16z"/>
<path class="qhx" d="M858 504l27-15-24 10-26 16z"/>
<path class="qhc" d="M881 496l27-16-23 9-27 15z"/>
<path class="qiq" d="M831 521l27-17-23 11-27 16z"/>
<path class="qji" d="M958 457l27-16-24 8-26 15z"/>
<path class="qfx" d="M932 472l26-15-23 7-27 16z"/>
<path class="qfy" d="M905 488l27-16-24 8-27 16z"/>
<path class="qjj" d="M1139 374l27-13-25 5-26 13z"/>
<path class="qjk" d="M670 616l26-17-21 18-27 17z"/>
<path class="qjl" d="M1242 333l26-12-25 4-25 12z"/>
<path class="qjm" d="M1318 308l26-11-25 3-25 10zm-25 11l25-11-24 2-26 11z"/>
<path class="qjg" d="M1944 425l25-9-28-21-24 9zm-25 10l25-10-27-21-25 9zm-24 9l24-9-27-22-25 10zm-25 11l25-11-28-21-25 10z"/>
<path class="qjn" d="M1844 465l26-10-28-22-25 11zm585-122l21-2-26-21-22 1zm-21 1l21-1-27-22-21 2z"/>
<path class="qjg" d="M2386 346l22-2-27-21-21 2zm-21 3l21-3-26-21-22 2zm-22 3l22-3-27-22-22 3zm-22 3l22-3-27-22-22 3zm-22 3l22-3-27-22-22 3zm-23 4l23-4-27-22-22 4zm-22 4l22-4-26-22-23 4zm-23 5l23-5-27-22-23 5zm-22 5l22-5-27-22-22 5zm-23 5l23-5-27-22-23 5zm-24 6l24-6-27-22-24 6zm-23 6l23-6-27-22-23 6zm-23 7l23-7-27-22-23 7zm-24 7l24-7-27-22-24 6zm-24 7l24-7-27-23-24 8zm-24 8l24-8-27-22-24 8zm-24 8l24-8-27-22-24 8zm-24 9l24-9-27-22-24 8z"/>
<path class="qjo" d="M1369 295l26-10-26 2-25 10zm25 0l26-10-25 0-26 10zm-50 11l25-11-25 2-26 11z"/>
<path class="qhu" d="M1420 296l25-10-25-1-26 10z"/>
<path class="qig" d="M1369 306l25-11-25 0-25 11zm25 1l26-11-26-1-25 11z"/>
<path class="qif" d="M1445 299l26-10-26-3-25 10zm26 4l26-11-26-3-26 10zm26 5l26-11-26-5-26 11zm26 6l26-10-26-7-26 11zm27 8l25-10-26-8-26 10zm26 9l25-10-26-9-25 10zm-156-21l25-11-25-3-26 11zm26 4l25-11-26-4-25 11zm26 5l25-11-26-5-25 11zm26 6l25-11-26-6-25 11zm26 8l26-11-27-8-25 11z"/>
<path class="qih" d="M1550 342l26-11-26-9-26 11zm53 0l25-11-27-10-25 10zm26 12l26-11-27-12-25 11zm27 13l25-11-26-13-26 11zm-79-14l26-11-27-11-26 11zm27 12l25-11-26-12-26 11z"/>
<path class="qip" d="M1630 378l26-11-27-13-25 11zm53 4l25-11-27-15-25 11zm-26 11l26-11-27-15-26 11z"/>
<path class="qiw" d="M1710 398l25-11-27-16-25 11zm27 17l25-10-27-18-25 11zm-53-6l26-11-27-16-26 11z"/>
<path class="qje" d="M1712 427l25-12-27-17-26 11zm52 7l26-11-28-18-25 10z"/>
<path class="qjg" d="M1792 455l25-11-27-21-26 11zm-53-9l25-12-27-19-25 12zm27 20l26-11-28-21-25 12z"/>
<path class="qjn" d="M1819 477l25-12-27-21-25 11zm-25 11l25-11-27-22-26 11zm177-40l25-9-27-23-25 9zm-24 10l24-10-27-23-25 10zm-25 10l25-10-28-23-24 9zm-25 10l25-10-27-24-25 11z"/>
<path class="qjp" d="M854 512l27-16-23 8-27 17z"/>
<path class="qfg" d="M877 504l28-16-24 8-27 16z"/>
<path class="qjq" d="M982 450l27-15-24 6-27 16z"/>
<path class="qjr" d="M1113 387l26-13-24 5-26 13z"/>
<path class="qcf" d="M1087 401l26-14-24 5-27 14z"/>
<path class="qbq" d="M1060 415l27-14-25 5-26 14z"/>
<path class="qjs" d="M643 634l27-18-22 18-27 17z"/>
<path class="qjt" d="M691 600l27-17-22 16-26 17zm22-15l27-17-22 15-27 17zm-49 32l27-17-21 16-27 18zm22-15l27-17-22 15-27 17z"/>
<path class="qhr" d="M735 571l27-16-22 13-27 17zm23-12l27-17-23 13-27 16zm-50 29l27-17-22 14-27 17zm23-12l27-17-23 12-27 17z"/>
<path class="qhs" d="M781 548l27-17-23 11-27 17z"/>
<path class="qii" d="M804 538l27-17-23 10-27 17z"/>
<path class="qjh" d="M753 565l28-17-23 11-27 17z"/>
<path class="qhy" d="M776 555l28-17-23 10-28 17z"/>
<path class="qjp" d="M827 529l27-17-23 9-27 17z"/>
<path class="qgs" d="M799 546l28-17-23 9-28 17z"/>
<path class="qju" d="M1216 345l26-12-24 4-26 12z"/>
<path class="qjv" d="M1267 330l26-11-25 2-26 12z"/>
<path class="qjw" d="M1318 317l26-11-26 2-25 11zm-26 12l26-12-25 2-26 11z"/>
<path class="qig" d="M1343 317l26-11-25 0-26 11z"/>
<path class="qih" d="M1369 319l25-12-25-1-26 11zm25 2l26-11-26-3-25 12zm26 4l26-11-26-4-26 11zm26 5l26-11-26-5-26 11zm26 7l26-12-26-6-26 11zm26 8l26-12-26-8-26 12zm27 9l25-12-26-9-26 12zm26 10l26-11-27-11-25 12z"/>
<path class="qip" d="M1578 376l26-11-27-12-26 11zm27 14l25-12-26-13-26 11z"/>
<path class="qiw" d="M1632 405l25-12-27-15-25 12zm27 16l25-12-27-16-25 12z"/>
<path class="qje" d="M1686 439l26-12-28-18-25 12z"/>
<path class="qjg" d="M1713 458l26-12-27-19-26 12z"/>
<path class="qjn" d="M1740 478l26-12-27-20-26 12z"/>
<path class="qjx" d="M1768 500l26-12-28-22-26 12zm104-11l25-11-27-23-26 10zm-25 11l25-11-28-24-25 12zm-26 12l26-12-28-23-25 11z"/>
<path class="qjy" d="M955 466l27-16-24 7-26 15z"/>
<path class="qcx" d="M928 482l27-16-23 6-27 16z"/>
<path class="qjz" d="M1033 430l27-15-24 5-27 15z"/>
<path class="qbs" d="M1007 445l26-15-24 5-27 15z"/>
<path class="qbt" d="M980 461l27-16-25 5-27 16zm-28 16l28-16-25 5-27 16z"/>
<path class="qka" d="M850 521l27-17-23 8-27 17z"/>
<path class="qkb" d="M1190 357l26-12-24 4-26 12z"/>
<path class="qkc" d="M1241 342l26-12-25 3-26 12zm25-1l26-12-25 1-26 12zm-51 14l26-13-25 3-26 12z"/>
<path class="qkd" d="M1317 329l26-12-25 0-26 12zm-26 12l26-12-25 0-26 12z"/>
<path class="qih" d="M1343 330l26-11-26-2-26 12zm25 3l26-12-25-2-26 11zm26 4l26-12-26-4-26 12zm26 5l26-12-26-5-26 12zm26 6l26-11-26-7-26 12zm26 8l26-11-26-8-26 11zm27 10l26-12-27-9-26 11z"/>
<path class="qip" d="M1525 376l26-12-26-10-26 12zm27 12l26-12-27-12-26 12zm-235-46l26-12-26-1-26 12zm25 3l26-12-25-3-26 12zm26 4l26-12-26-4-26 12zm26 5l26-12-26-5-26 12zm26 7l26-13-26-6-26 12zm26 8l26-13-26-8-26 13zm27 9l26-12-27-10-26 13zm26 11l26-13-26-10-26 12z"/>
<path class="qiw" d="M1526 401l26-13-27-12-26 13zm53 1l26-12-27-14-26 12zm27 15l26-12-27-15-26 12zm-53-3l26-12-27-14-26 13z"/>
<path class="qje" d="M1580 429l26-12-27-15-26 12zm53 4l26-12-27-16-26 12zm-26 13l26-13-27-16-26 12z"/>
<path class="qjg" d="M1660 451l26-12-27-18-26 12zm27 19l26-12-27-19-26 12zm-53-6l26-13-27-18-26 13z"/>
<path class="qjn" d="M1661 483l26-13-27-19-26 13zm54 8l25-13-27-20-26 12z"/>
<path class="qjx" d="M1742 513l26-13-28-22-25 13zm-53-9l26-13-28-21-26 13z"/>
<path class="qke" d="M1716 526l26-13-27-22-26 13zm79-2l26-12-27-24-26 12zm-25 13l25-13-27-24-26 13z"/>
<path class="qkf" d="M901 498l27-16-23 6-28 16z"/>
<path class="qav" d="M925 493l27-16-24 5-27 16z"/>
<path class="qbu" d="M874 515l27-17-24 6-27 17z"/>
<path class="qbh" d="M898 510l27-17-24 5-27 17z"/>
<path class="qkg" d="M823 539l27-18-23 8-28 17z"/>
<path class="qkh" d="M1164 370l26-13-24 4-27 13zm-26 14l26-14-25 4-26 13z"/>
<path class="qbf" d="M1111 397l27-13-25 3-26 14z"/>
<path class="qbe" d="M1085 411l26-14-24 4-27 14z"/>
<path class="qbb" d="M1058 426l27-15-25 4-27 15zm-27 15l27-15-25 4-26 15z"/>
<path class="qbd" d="M1004 457l27-16-24 4-27 16z"/>
<path class="qbc" d="M977 473l27-16-24 4-28 16zm-28 16l28-16-25 4-27 16z"/>
<path class="qal" d="M922 506l27-17-24 4-27 17z"/>
<path class="qki" d="M1240 354l26-13-25 1-26 13zm25 0l26-13-25 0-26 13z"/>
<path class="qip" d="M1290 355l27-13-26-1-26 13zm26 2l26-12-25-3-27 13zm26 4l26-12-26-4-26 12zm26 6l26-13-26-5-26 12zm26 6l26-12-26-7-26 13zm26 8l26-12-26-8-26 12zm26 10l27-13-27-9-26 12z"/>
<path class="qiw" d="M1473 402l26-13-26-11-27 13zm27 12l26-13-27-12-26 13z"/>
<path class="qje" d="M1526 427l27-13-27-13-26 13zm27 15l27-13-27-15-27 13z"/>
<path class="qjg" d="M1581 459l26-13-27-17-27 13zm27 18l26-13-27-18-26 13z"/>
<path class="qjn" d="M1635 496l26-13-27-19-26 13z"/>
<path class="qjx" d="M1662 517l27-13-28-21-26 13z"/>
<path class="qke" d="M1690 539l26-13-27-22-27 13z"/>
<path class="qkj" d="M1744 550l26-13-28-24-26 13zm-26 13l26-13-28-24-26 13z"/>
<path class="qkk" d="M847 532l27-17-24 6-27 18z"/>
<path class="qbh" d="M870 527l28-17-24 5-27 17z"/>
<path class="qam" d="M895 524l27-18-24 4-28 17z"/>
<path class="qkl" d="M1189 368l26-13-25 2-26 13zm-27 13l27-13-25 2-26 14z"/>
<path class="qkm" d="M1214 366l26-12-25 1-26 13zm-27 14l27-14-25 2-27 13z"/>
<path class="qiw" d="M1239 366l26-12-25 0-26 12zm25 2l26-13-25-1-26 12zm26 2l26-13-26-2-26 13zm25 4l27-13-26-4-26 13z"/>
<path class="qip" d="M1341 380l27-13-26-6-27 13z"/>
<path class="qiw" d="M1367 386l27-13-26-6-27 13zm27 9l26-14-26-8-27 13zm26 9l26-13-26-10-26 14zm27 11l26-13-27-11-26 13z"/>
<path class="qje" d="M1473 427l27-13-27-12-26 13zm27 14l26-14-26-13-27 13zm-288-61l27-14-25 0-27 14z"/>
<path class="qiw" d="M1238 381l26-13-25-2-27 14zm25 3l27-14-26-2-26 13zm26 4l26-14-25-4-27 14zm26 5l26-13-26-6-26 14zm26 7l26-14-26-6-26 13zm26 8l27-13-27-9-26 14zm26 10l27-14-26-9-27 13z"/>
<path class="qje" d="M1420 429l27-14-27-11-27 14zm27 12l26-14-26-12-27 14z"/>
<path class="qjg" d="M1474 455l26-14-27-14-26 14zm53 1l26-14-27-15-26 14zm27 16l27-13-28-17-26 14zm-53-2l26-14-27-15-26 14z"/>
<path class="qjn" d="M1528 486l26-14-27-16-26 14zm53 4l27-13-27-18-27 13zm-26 14l26-14-27-18-26 14z"/>
<path class="qjx" d="M1609 510l26-14-27-19-27 13zm-27 14l27-14-28-20-26 14z"/>
<path class="qke" d="M1636 531l26-14-27-21-26 14zm-26 14l26-14-27-21-27 14z"/>
<path class="qkj" d="M1664 553l26-14-28-22-26 14zm-27 15l27-15-28-22-26 14z"/>
<path class="qkn" d="M1136 395l26-14-24 3-27 13z"/>
<path class="qbe" d="M1109 409l27-14-25 2-26 14z"/>
<path class="qko" d="M1691 577l27-14-28-24-26 14zm-26 15l26-15-27-24-27 15z"/>
<path class="qkp" d="M1161 394l26-14-25 1-26 14zm-27 14l27-14-25 1-27 14z"/>
<path class="qje" d="M1186 394l26-14-25 0-26 14zm25 1l27-14-26-1-26 14zm26 3l26-14-25-3-27 14zm25 4l27-14-26-4-26 14zm26 5l27-14-26-5-27 14zm26 7l27-14-26-7-27 14zm26 8l27-14-26-8-27 14zm27 10l26-14-26-10-27 14zm26 11l27-14-27-11-26 14z"/>
<path class="qjg" d="M1420 455l27-14-27-12-27 14zm27 14l27-14-27-14-27 14zm-288-61l27-14-25 0-27 14z"/>
<path class="qje" d="M1184 409l27-14-25-1-27 14zm26 3l27-14-26-3-27 14zm26 4l26-14-25-4-27 14zm25 6l27-15-26-5-26 14zm26 6l27-14-26-7-27 15zm27 9l26-15-26-8-27 14zm26 9l27-14-27-10-26 15z"/>
<path class="qjg" d="M1367 457l26-14-26-11-27 14zm26 13l27-15-27-12-26 14z"/>
<path class="qjn" d="M1420 484l27-15-27-14-27 15zm54 0l27-14-27-15-27 14zm27 17l27-15-27-16-27 14zm-54-2l27-15-27-15-27 15z"/>
<path class="qjx" d="M1474 516l27-15-27-17-27 15zm54 3l27-15-27-18-27 15zm-27 15l27-15-27-18-27 15z"/>
<path class="qke" d="M1556 539l26-15-27-20-27 15zm-27 15l27-15-28-20-27 15z"/>
<path class="qkj" d="M1583 560l27-15-28-21-26 15zm-27 15l27-15-27-21-27 15z"/>
<path class="qko" d="M1611 583l26-15-27-23-27 15zm-27 15l27-15-28-23-27 15z"/>
<path class="qad" d="M1638 607l27-15-28-24-26 15zm-26 15l26-15-27-24-27 15z"/>
<path class="qkq" d="M1082 424l27-15-24 2-27 15zm25-2l27-14-25 1-27 15z"/>
<path class="qjg" d="M1132 423l27-15-25 0-27 14zm26 1l26-15-25-1-27 15zm25 3l27-15-26-3-26 15zm26 4l27-15-26-4-27 15zm25 6l27-15-25-6-27 15zm26 6l27-15-26-6-27 15zm27 9l27-15-27-9-27 15zm26 9l27-15-26-9-27 15zm27 11l27-15-27-11-27 15z"/>
<path class="qjn" d="M1366 485l27-15-26-13-27 15zm27 14l27-15-27-14-27 15z"/>
<path class="qjx" d="M1420 514l27-15-27-15-27 15zm27 17l27-15-27-17-27 15z"/>
<path class="qke" d="M1474 550l27-16-27-18-27 15z"/>
<path class="qkj" d="M1502 570l27-16-28-20-27 16z"/>
<path class="qko" d="M1529 591l27-16-27-21-27 16z"/>
<path class="qad" d="M1557 614l27-16-28-23-27 16z"/>
<path class="qw" d="M1585 638l27-16-28-24-27 16z"/>
<path class="qkr" d="M1055 439l27-15-24 2-27 15zm-27 15l27-15-24 2-27 16z"/>
<path class="qat" d="M1001 470l27-16-24 3-27 16z"/>
<path class="qau" d="M974 487l27-17-24 3-28 16zm-27 17l27-17-25 2-27 17z"/>
<path class="qjn" d="M1080 437l27-15-25 2-27 15zm25 1l27-15-25-1-27 15zm26 1l27-15-26-1-27 15z"/>
<path class="qjg" d="M1156 442l27-15-25-3-27 15zm26 4l27-15-26-4-27 15zm25 6l27-15-25-6-27 15zm26 7l27-16-26-6-27 15zm27 8l27-15-27-9-27 16z"/>
<path class="qjn" d="M1286 477l27-16-26-9-27 15zm26 11l28-16-27-11-27 16zm27 12l27-15-26-13-28 16z"/>
<path class="qjx" d="M1366 515l27-16-27-14-27 15zm27 15l27-16-27-15-27 16zm-340-77l27-16-25 2-27 15zm25 0l27-15-25-1-27 16z"/>
<path class="qke" d="M1026 469l27-16-25 1-27 16zm-27 17l27-17-25 1-27 17zm421 61l27-16-27-17-27 16z"/>
<path class="qkj" d="M1447 566l27-16-27-19-27 16zm28 20l27-16-28-20-27 16zm-504-83l28-17-25 1-27 17z"/>
<path class="qko" d="M1502 607l27-16-27-21-27 16zm-583-86l28-17-25 2-27 18zm25-1l27-17-24 1-28 17z"/>
<path class="qad" d="M1530 630l27-16-28-23-27 16z"/>
<path class="qw" d="M1558 655l27-17-28-24-27 16z"/>
<path class="qjn" d="M1103 455l28-16-26-1-27 15zm26 3l27-16-25-3-28 16zm25 4l28-16-26-4-27 16zm26 6l27-16-25-6-28 16zm26 7l27-16-26-7-27 16zm26 8l28-16-27-8-27 16zm27 10l27-16-26-10-28 16z"/>
<path class="qjx" d="M1285 504l27-16-26-11-27 16zm27 13l27-17-27-12-27 16zm27 14l27-16-27-15-27 17zm-288-62l27-16-25 0-27 16zm25 2l27-16-25-2-27 16zm25 3l28-16-26-3-27 16zm26 4l27-16-25-4-28 16zm26 6l27-16-26-6-27 16zm26 7l27-16-26-7-27 16zm26 8l27-16-26-8-27 16zm26 10l28-16-27-10-27 16zm27 12l27-17-26-11-28 16z"/>
<path class="qke" d="M1284 533l28-16-27-13-27 17zm27 15l28-17-27-14-28 16zm-287-62l27-17-25 0-27 17zm25 2l27-17-25-2-27 17zm317 58l27-16-27-15-27 16z"/>
<path class="qkj" d="M1393 564l27-17-27-17-27 16zm27 18l27-16-27-19-27 17zm-82-19l28-17-27-15-28 17zm27 18l28-17-27-18-28 17zm-369-78l28-17-25 0-28 17zm-28 18l28-18-25 0-27 17z"/>
<path class="qko" d="M1393 599l27-17-27-18-28 17zm54 3l28-16-28-20-27 16z"/>
<path class="qad" d="M1475 624l27-17-27-21-28 16zm-55-5l27-17-27-20-27 17zm28 22l27-17-28-22-27 17z"/>
<path class="qw" d="M1503 647l27-17-28-23-27 17zm-28 17l28-17-28-23-27 17z"/>
<path class="qx" d="M1530 671l28-16-28-25-27 17zm-27 18l27-18-27-24-28 17z"/>
<path class="qjx" d="M1074 491l27-17-25-3-27 17zm26 4l27-17-26-4-27 17zm25 6l28-17-26-6-27 17zm26 7l28-17-26-7-28 17zm26 8l28-17-26-8-28 17z"/>
<path class="qke" d="M1204 526l27-17-26-10-28 17zm26 12l28-17-27-12-27 17zm27 13l27-18-26-12-28 17zm-236-46l28-17-25-2-28 17zm25 3l28-17-25-3-28 17zm26 4l28-17-26-4-28 17zm26 6l27-17-25-6-28 17zm26 7l27-17-26-7-27 17zm26 9l27-18-26-8-27 17zm26 10l28-18-27-10-27 18z"/>
<path class="qkj" d="M1202 555l28-17-26-12-28 18zm27 13l28-17-27-13-28 17zm-236-46l28-17-25-2-28 18zm26 3l27-17-25-3-28 17zm25 5l28-18-26-4-27 17zm26 6l28-18-26-6-28 18zm26 7l28-18-26-7-28 18zm26 9l28-18-26-9-28 18zm26 10l28-18-26-10-28 18zm27 11l27-18-26-11-28 18zm109-8l27-17-27-15-27 18zm27 16l27-18-27-15-27 17zm-55 2l28-18-27-14-28 17z"/>
<path class="qko" d="M1283 598l28-17-27-16-28 18zm55 0l27-17-27-18-27 18zm-137-12l28-18-27-13-27 18zm27 15l28-18-27-15-28 18z"/>
<path class="qad" d="M1255 617l28-19-27-15-28 18zm110 0l28-18-28-18-27 17zm27 20l28-18-27-20-28 18zm-82-21l28-18-27-17-28 17zm27 19l28-18-27-19-28 18zm-55-1l28-18-27-18-28 19z"/>
<path class="qw" d="M1309 653l28-18-27-19-28 18zm56 2l27-18-27-20-28 18zm-28 18l28-18-28-20-28 18zm83-14l28-18-28-22-28 18z"/>
<path class="qx" d="M1448 682l27-18-27-23-28 18zm-56-5l28-18-28-22-27 18zm28 23l28-18-28-23-28 18zm-56-5l28-18-27-22-28 18z"/>
<path class="qr" d="M1392 719l28-19-28-23-28 18zm83-12l28-18-28-25-27 18zm-27 18l27-18-27-25-28 18z"/>
<path class="qq" d="M1420 744l28-19-28-25-28 19z"/>
</g>
<circle cx="304.4" cy="41.6" r="2.7" fill="#e80000" stroke="#800" stroke-width="0.7"/>
<circle cx="304.4" cy="46.9" r="2.7" fill="#e80000" stroke="#800" stroke-width="0.7"/>
<g font-size="9.8" fill="#333"><text transform="translate(278.8,296.3) scale(.935,1)" text-anchor="end">30.00</text><text transform="translate(288.8,296.3) scale(.935,1)">6.00</text><text transform="translate(229.7,279.7) scale(.935,1)" text-anchor="end">36.25</text><text transform="translate(337.5,279.7) scale(.935,1)">6.50</text><text transform="translate(180.6,263.2) scale(.935,1)" text-anchor="end">42.50</text><text transform="translate(386.2,263.2) scale(.935,1)">7.00</text><text transform="translate(131.6,246.6) scale(.935,1)" text-anchor="end">48.75</text><text transform="translate(435.0,246.6) scale(.935,1)">7.50</text><text transform="translate(82.5,230.1) scale(.935,1)" text-anchor="end">55.00</text><text transform="translate(483.8,230.1) scale(.935,1)">8.00</text><text transform="translate(70.0,43.5) scale(.935,1)" text-anchor="end">0.47</text><text transform="translate(72.4,79.1) scale(.935,1)" text-anchor="end">0.38</text><text transform="translate(74.8,114.8) scale(.935,1)" text-anchor="end">0.29</text><text transform="translate(77.2,150.4) scale(.935,1)" text-anchor="end">0.2</text><text transform="translate(79.6,186.1) scale(.935,1)" text-anchor="end">0.11</text></g>
<text class="ttl" x="109.0" y="286.3" text-anchor="middle" textLength="51.4" lengthAdjust="spacingAndGlyphs">B: Temp</text>
<text class="ttl" x="455.8" y="286.3" text-anchor="middle" textLength="34.5" lengthAdjust="spacingAndGlyphs">A: pH</text>
<text class="ttl" transform="translate(14.4,131.3) rotate(-90)" text-anchor="middle" textLength="54.5" lengthAdjust="spacingAndGlyphs">Sqrt(R1)</text>
<text class="cap" x="172.1" y="364.5" text-anchor="middle">(a)</text>
</g>
<g id="pb">
<path d="M807.5,34.2 L1017.0,3.0 L1227.0,34.2 M1017.0,3.0 L1016.9,165.3 M1227.0,34.2 L1213.8,213.8" fill="none" stroke="#7c7c7c" stroke-width="1"/>
<path d="M820.0,213.8 L1016.9,165.3 L1213.8,213.8 L1017.0,276.8 Z" fill="#ffff00" stroke="none"/>
<path d="M820.0,213.8 L1016.9,165.3 L1213.8,213.8" fill="none" stroke="#8a8a3a" stroke-width="0.8"/>
<path d="M934.7 185.7l1 .7 1 .6 1 .7 1 .7 1.1.7 1 .6 1.1.7 1.1.7 1.1.6 1.1.7 1.1.7 1.1.6 1.2.7 1.2.7 1.2.6 1.2.7 1.2.6 1.2.7 1.3.7 1.2.6 1.3.7 1.3.6 1.3.7 1.4.6 1.3.7 1.3.6 1.5.7 1.4.6 1.4.7 1.4.6 1.5.6 1.5.7 1.4.6 1.6.6 1.5.7 1.5.6 1.6.6 1.6.7 1.6.6 1.6.6 1.7.6 1.4.6 1.9.7 1.7.6 1.8.6 1.7.6 1.8.6 1.8.6 1.8.6 1.9.5 1.9.6 1.9.6 1.9.6 1.9.5 2 .6 2 .6 2.1.5 2.1.6 2.1.5 2.1.5 2.2.6 2.2.5 2.3.5 2.3.5 2.3.5 1.7.3 3.1.6 2.5.5 2.5.4 2.6.5 2.6.4 2.7.4 2.8.4 2.8.3 3 .4 2 .2 4.1.4 1.9.1 4.7.3 3.6.2 1.8.1 1.9 0 2.5 0 1.5 0 2.5 0 1.8 0 1.9-.1 2.9-.1 3.7-.3 1.8-.2 4.1-.5 2.6-.3 2.5-.5 2.4-.4 2.2-.5 2.1-.6 1.9-.5 1.9-.6 1.8-.6 1.6-.7 1.6-.6 1.4-.7 1.4-.7 1.3-.8 1.2-.7 1.1-.7 1.1-.8 1-.8 .9-.8 .8-.8 .8-.9 .7-.8 1.2-1.8 .9-1.6 .5-1 .6-1.6 .3-1.3 .3-1.8 .1-1.7-.1-2.2-.3-2-.3-1.3-.5-1.8-.4-1.2-.8-1.9M972 176.5l1 .6 1 .7 1 .6 1.1.6 1.1.7 1.1.6 1.1.6 1.2.7 1.2.6 1.2.6 1.2.6 1.3.6 1.3.6 1.3.7 1.4.6 1.3.5 1.4.6 1.5.6 1.4.6 1.5.6 1.5.6 1.6.5 1.6.6 1.6.5 1.7.6 1.6.5 1.8.5 1.7.6 1.9.5 1.8.5 1.9.5 2 .4 2 .5 2.1.5 2.1.4 2.2.4 2.3.4 1.4.3 3.5.5 2.6.3 1.4.1 1.4.2 2.9.2 3.2.2 2.4 0 3.7 0 1.5 0 1.8-.1 2.9-.3 2.5-.3 2.3-.4 2.1-.4 1.8-.5 1.7-.6 1.5-.6 1.4-.6 1.2-.6 1.1-.7 1-.7 .8-.8 .7-.8 1-1.2 .6-1.2 .6-1.7 .2-1.5-.1-2-.4-1.8-.5-1.4-.4-1" fill="none" stroke="#ff6200" stroke-width="1.1"/>
<path d="M807.5,34.2 L820.0,213.8 L1017.0,276.8 L1213.8,213.8" fill="none" stroke="#555" stroke-width="1.1"/>
<circle cx="1017.0" cy="276.8" r="1.3" fill="#000"/>
<circle cx="967.8" cy="261.0" r="1.3" fill="#000"/>
<circle cx="918.5" cy="245.2" r="1.3" fill="#000"/>
<circle cx="869.2" cy="229.5" r="1.3" fill="#000"/>
<circle cx="820.0" cy="213.8" r="1.3" fill="#000"/>
<circle cx="1066.2" cy="261.0" r="1.3" fill="#000"/>
<circle cx="1115.4" cy="245.2" r="1.3" fill="#000"/>
<circle cx="1164.6" cy="229.5" r="1.3" fill="#000"/>
<circle cx="1213.8" cy="213.8" r="1.3" fill="#000"/>
<circle cx="807.5" cy="34.2" r="1.3" fill="#000"/>
<circle cx="809.9" cy="68.5" r="1.3" fill="#000"/>
<circle cx="812.3" cy="102.7" r="1.3" fill="#000"/>
<circle cx="814.7" cy="137.0" r="1.3" fill="#000"/>
<circle cx="817.1" cy="171.2" r="1.3" fill="#000"/>
<g transform="scale(0.2)" stroke="#000" stroke-linejoin="round">
<path class="qgi" d="M5086 47l22-3-22-4-23 3zm22 3l22-2-22-4-22 3zm22 4l22-2-22-4-22 2zm23 5l22-2-23-5-22 2zm22 4l22-1-22-5-22 2zm23 5l22-1-23-5-22 1zm23 5l22-1-23-5-22 1zm23 6l22-1-23-6-22 1zm23 5l22 0-23-6-22 1z"/>
<path class="qfr" d="M5063 50l23-3-23-4-22 4z"/>
<path class="qhj" d="M5290 90l22 0-23-6-22 0zm24 7l22 0-24-7-22 0zm23 6l22 1-23-7-22 0z"/>
<path class="qgj" d="M5041 54l22-4-22-3-22 4z"/>
<path class="qgl" d="M5086 53l22-3-22-3-23 3zm22 4l22-3-22-4-22 3zm22 4l23-2-23-5-22 3zm23 4l22-2-22-4-23 2zm23 5l22-2-23-5-22 2zm23 5l22-2-23-5-22 2zm23 5l22-1-23-6-22 2zm23 6l22-2-23-5-22 1zm23 5l22-1-23-6-22 2zm23 6l23 0-24-7-22 1z"/>
<path class="qgj" d="M5063 57l23-4-23-3-22 4zm23 3l22-3-22-4-23 4zm22 4l22-3-22-4-22 3zm23 4l22-3-23-4-22 3zm22 5l23-3-23-5-22 3zm23 4l23-2-23-5-23 3zm23 5l23-2-23-5-23 2zm23 5l23-1-23-6-23 2zm24 6l22-2-23-5-23 1zm23 6l22-2-23-6-22 2z"/>
<path class="qfq" d="M5361 110l22 1-24-7-22-1zm23 8l22 0-23-7-22-1zm24 7l22 1-24-8-22 0zm24 8l22 1-24-8-22-1zm24 8l22 2-24-9-22-1z"/>
<path class="qgk" d="M5018 58l23-4-22-3-23 5zm23 3l22-4-22-3-23 4zm22 3l23-4-23-3-22 4zm23 4l22-4-22-4-23 4zm22 4l23-4-23-4-22 4zm23 4l22-3-22-5-23 4zm23 4l22-3-23-4-22 3zm23 5l22-3-23-5-22 3zm-181-22l22-5-22-2-22 5zm22 3l23-5-23-3-22 5zm22 3l23-5-22-3-23 5zm23 4l23-5-23-4-23 5zm23 3l22-4-22-4-23 5z"/>
<path class="qgy" d="M4973 69l23-6-22-2-23 6zm227 21l22-3-23-5-22 3zm23 5l23-2-24-6-22 3zm24 6l22-2-23-6-23 2z"/>
<path class="qhk" d="M4995 72l23-6-22-3-23 6zm-45 4l23-7-22-2-23 7zm23 2l22-6-22-3-23 7zm-46 6l23-8-22-2-23 8zm23 2l23-8-23-2-23 8zm-46 6l23-8-22-2-23 8zm22 2l24-8-23-2-23 8zm-45 7l23-9-22-2-23 9zm22 1l23-8-22-2-23 9z"/>
<path class="qgm" d="M5018 75l22-6-22-3-23 6zm22 3l23-5-23-4-22 6zm23 3l23-5-23-3-23 5zm45-1l23-4-23-4-22 4zm23 4l23-4-23-4-23 4zm23 5l23-4-23-5-23 4zm-68-4l22-5-22-4-23 5zm23 4l22-5-23-4-22 5zm23 4l22-4-23-5-22 5z"/>
<path class="qhk" d="M5177 93l23-3-23-5-23 4zm24 5l22-3-23-5-23 3zm23 6l23-3-24-6-22 3zm-69-7l22-4-23-4-22 4zm23 5l23-4-24-5-22 4zm23 5l23-3-23-6-23 4zm-206-26l23-6-23-3-22 6zm22 3l23-6-22-3-23 6zm23 3l23-6-23-3-23 6zm23 3l23-5-23-4-23 6zm23 4l23-5-23-4-23 5zm23 4l23-5-23-4-23 5zm23 4l23-5-23-4-23 5zm23 5l23-5-23-5-23 5zm23 5l23-5-23-5-23 5zm-206-24l23-7-22-3-23 8zm22 2l23-6-22-3-23 7zm23 3l23-6-23-3-23 6zm23 3l23-6-23-3-23 6zm23 4l23-6-23-4-23 6zm23 4l23-6-23-4-23 6zm-137-8l23-8-22-2-24 8zm22 2l23-8-22-2-23 8zm23 3l23-8-23-3-23 8z"/>
<path class="qhv" d="M5017 103l23-7-23-3-23 8zm23 4l23-7-23-4-23 7zm23 3l23-6-23-4-23 7zm-137-6l23-8-23-2-23 8zm22 2l23-8-22-2-23 8zm23 2l23-7-23-3-23 8zm22 3l24-8-23-2-23 7zm23 3l24-7-23-4-24 8zm23 3l24-7-23-3-24 7zm70-9l23-6-23-4-23 6zm23 4l23-5-23-5-23 6zm23 5l23-5-23-5-23 5zm-69-3l23-6-23-4-23 6zm23 4l23-6-23-4-23 6zm23 4l23-5-23-5-23 6zm-70-1l24-7-23-4-24 7zm24 4l23-7-23-4-24 7zm23 4l23-7-23-4-23 7zm-251-19l23-9-22-2-23 10zm22 2l23-10-22-1-23 9zm22 1l24-9-23-2-23 10zm23 2l23-9-22-2-24 9zm22 2l24-9-23-2-23 9zm23 3l23-9-22-3-24 9zm23 2l23-8-23-3-23 9zm23 3l23-8-23-3-23 8zm23 4l23-8-23-4-23 8zm23 3l24-7-24-4-23 8zm24 4l23-7-23-4-24 7zm-252-15l24-11-22-1-24 11zm23 1l23-10-22-2-24 11zm22 1l23-10-22-1-23 10zm22 2l24-10-23-2-23 10zm23 2l23-10-22-2-24 10zm23 2l23-9-23-3-23 10zm22 2l24-9-23-2-23 9zm23 3l24-9-23-3-24 9zm24 3l23-8-23-4-24 9z"/>
<path class="qks" d="M5315 104l22-1-23-6-23 0zm23 7l23-1-24-7-22 1zm24 7l22 0-23-8-23 1zm24 7l22 0-24-7-22 0zm24 8l22 0-24-8-22 0zm24 8l22 0-24-8-22 0z"/>
<path class="qgj" d="M5293 105l22-1-24-7-22 2zm23 6l22 0-23-7-22 1z"/>
<path class="qid" d="M5480 150l22 2-24-9-22-2zm24 9l22 2-24-9-22-2zm25 9l22 2-25-9-22-2zm24 9l22 3-24-10-22-2zm25 10l22 3-25-10-22-3z"/>
<path class="qks" d="M5458 149l22 1-24-9-22 0z"/>
<path class="qhj" d="M5482 158l22 1-24-9-22-1zm25 8l22 2-25-9-22-1zm24 10l22 1-24-9-22-2zm25 9l22 2-25-10-22-1z"/>
<path class="qgy" d="M5270 107l23-2-24-6-22 2zm24 6l22-2-23-6-23 2z"/>
<path class="qhk" d="M5248 109l22-2-23-6-23 3zm23 6l23-2-24-6-22 2zm-46-2l23-4-24-5-23 3zm23 5l23-3-23-6-23 4zm-46-1l23-4-24-6-23 5zm24 5l22-4-23-5-23 4z"/>
<path class="qhv" d="M5179 122l23-5-24-5-23 5zm24 5l23-5-24-5-23 5zm-47 0l23-5-24-5-23 5zm24 5l23-5-24-5-23 5zm-47 1l23-6-24-5-23 7zm23 5l24-6-24-5-23 6zm-47 2l24-7-24-4-23 7z"/>
<path class="qhl" d="M5133 145l23-7-23-5-24 7zm-94-5l23-8-23-3-23 8zm23 4l24-8-24-4-23 8zm24 4l23-8-23-4-24 8zm23 4l24-7-24-5-23 8z"/>
<path class="qhu" d="M4811 132l23-11-22-1-23 11zm22 1l24-11-23-1-23 11zm22 1l24-11-22-1-24 11zm-68 10l24-12-22-1-23 13zm23 0l23-11-22-1-24 12zm22 1l23-11-22-1-23 11zm-68 11l23-12-21 0-24 12zm22 1l24-13-23 0-23 12zm22 0l24-12-22-1-24 13z"/>
<path class="qhv" d="M4878 135l23-10-22-2-24 11zm22 2l24-10-23-2-23 10zm23 2l24-10-23-2-24 10zm23 2l23-10-22-2-24 10z"/>
<path class="qhu" d="M4854 146l24-11-23-1-23 11zm23 2l23-11-22-2-24 11z"/>
<path class="qif" d="M4899 149l24-10-23-2-23 11zm-69 9l24-12-22-1-24 12zm23 2l24-12-23-2-24 12zm23 1l23-12-22-1-24 12z"/>
<path class="qhl" d="M4922 151l24-10-23-2-24 10zm47-7l23-10-23-3-23 10zm23 2l24-9-24-3-23 10zm23 3l24-9-23-3-24 9zm24 4l23-9-23-4-24 9zm23 4l24-9-24-4-23 9zm24 4l23-9-23-4-24 9zm-141-7l24-10-23-3-24 10zm23 2l24-10-23-2-24 10zm23 3l24-10-23-3-24 10zm24 3l24-9-24-4-24 10zm23 4l24-9-23-4-24 9zm24 4l24-9-24-4-24 9z"/>
<path class="qio" d="M5340 118l22 0-24-7-22 0zm24 7l22 0-24-7-22 0zm24 8l22 0-24-8-22 0zm24 8l22 0-24-8-22 0zm24 8l22 0-24-8-22 0zm24 8l22 1-24-9-22 0z"/>
<path class="qgy" d="M5317 120l23-2-24-7-22 2zm24 6l23-1-24-7-23 2zm24 8l23-1-24-8-23 1zm24 7l23 0-24-8-23 1zm25 8l22 0-24-8-23 0zm24 8l22 0-24-8-22 0z"/>
<path class="qhk" d="M5295 122l22-2-23-7-23 2zm-23 3l23-3-24-7-23 3zm-23 3l23-3-24-7-22 4z"/>
<path class="qgy" d="M5319 128l22-2-24-6-22 2zm24 7l22-1-24-8-22 2zm24 7l22-1-24-7-22 1zm24 8l23-1-25-8-22 1zm25 8l22-1-24-8-23 1z"/>
<path class="qhk" d="M5296 131l23-3-24-6-23 3zm24 7l23-3-24-7-23 3zm24 6l23-2-24-7-23 3zm25 8l22-2-24-8-23 2zm24 7l23-1-25-8-22 2zm-120-25l23-3-24-6-23 3zm24 7l23-3-24-7-23 3zm25 6l22-3-24-6-23 3zm24 7l23-2-25-8-22 3zm24 8l23-3-24-7-23 2z"/>
<path class="qhv" d="M5226 132l23-4-23-6-23 5zm24 6l23-4-24-6-23 4zm24 6l23-3-24-7-23 4zm25 7l23-4-25-6-23 3zm24 7l23-4-24-7-23 4zm24 7l23-3-24-8-23 4zm-144-28l23-5-23-5-23 5zm24 6l23-5-24-6-23 5zm24 6l23-5-24-6-23 5zm24 6l24-4-25-7-23 5zm25 7l23-4-24-7-24 4zm24 6l23-3-24-7-23 4zm-144-25l23-6-23-5-24 6zm24 5l23-5-24-6-23 6zm24 6l23-5-24-6-23 5zm24 6l23-5-24-6-23 5zm25 6l23-4-25-7-23 5zm24 7l23-5-24-6-23 4z"/>
<path class="qhl" d="M5157 150l23-7-24-5-23 7zm24 5l23-7-24-5-23 7zm24 5l23-6-24-6-23 7zm24 6l23-6-24-6-23 6zm24 6l24-6-25-6-23 6zm25 6l23-5-24-7-24 6zm-145-21l24-7-24-5-24 7zm24 5l24-7-24-5-24 7zm24 5l24-7-24-5-24 7zm24 5l24-6-24-6-24 7zm25 6l23-6-24-6-24 6zm24 6l24-6-25-6-23 6zm-145-19l24-8-24-5-23 9zm24 4l24-7-24-5-24 8zm24 5l24-7-24-5-24 7zm25 6l23-8-24-5-24 7zm24 5l24-7-25-6-23 8zm25 6l23-7-24-6-24 7zm-145-17l23-9-23-4-24 9zm24 4l23-9-24-4-23 9zm24 5l23-9-24-5-23 9zm24 5l24-8-25-6-23 9zm24 5l24-8-24-5-24 8zm25 6l24-8-25-6-24 8z"/>
<path class="qit" d="M5603 197l21 3-24-10-22-3zm24 11l22 3-25-11-21-3z"/>
<path class="qhj" d="M5581 195l22 2-25-10-22-2z"/>
<path class="qig" d="M4740 170l24-14-22 0-24 14z"/>
<path class="qhu" d="M4762 170l24-13-22-1-24 14z"/>
<path class="qif" d="M4784 170l24-13-22 0-24 13zm23 1l23-13-22-1-24 13zm22 1l24-12-23-2-23 13zm23 1l24-12-23-1-24 12zm46-10l24-12-23-2-23 12zm23 2l24-11-23-3-24 12zm23 2l24-11-23-2-24 11zm24 3l23-11-23-3-24 11zm23 3l24-11-24-3-23 11zm-117 2l24-12-22-2-24 12zm23 2l24-12-23-2-24 12zm23 2l24-12-23-2-24 12zm24 2l24-11-24-3-24 12zm23 3l24-11-23-3-24 11z"/>
<path class="qhl" d="M5014 176l24-10-23-4-24 11zm24 3l24-9-24-4-24 10zm24 4l24-9-24-4-24 9zm24 4l24-9-24-4-24 9zm24 5l24-9-24-5-24 9z"/>
<path class="qif" d="M5134 197l24-9-24-5-24 9zm24 5l24-9-24-5-24 9zm25 5l24-8-25-6-24 9zm-193-20l24-11-23-3-24 11zm24 3l24-11-24-3-24 11zm24 4l24-11-24-4-24 11zm24 3l24-10-24-4-24 11zm24 5l24-10-24-5-24 10zm24 4l24-9-24-5-24 10zm24 5l24-9-24-5-24 9zm25 5l24-9-25-5-24 9z"/>
<path class="qkt" d="M5485 166l22 0-25-8-22-1zm24 9l22 1-24-10-22 0zm25 9l22 1-25-9-22-1zm25 10l22 1-25-10-22-1z"/>
<path class="qht" d="M5652 219l22 3-25-11-22-3zm25 11l22 4-25-12-22-3z"/>
<path class="qin" d="M5606 205l21 3-24-11-22-2zm25 11l21 3-25-11-21-3zm25 11l21 3-25-11-21-3z"/>
<path class="qih" d="M4716 184l24-14-22 0-24 14zm22 0l24-14-22 0-24 14zm22 0l24-14-22 0-24 14zm-68 15l24-15-22 0-23 16zm22 0l24-15-22 0-24 15zm22 0l24-15-22 0-24 15z"/>
<path class="qif" d="M4783 185l24-14-23-1-24 14zm22 0l24-13-22-1-24 14zm23 1l24-13-23-1-24 13zm22 2l24-13-22-2-24 13zm23 1l24-12-23-2-24 13zm23 2l24-12-23-2-24 12zm24 2l24-12-24-2-24 12zm23 3l24-12-23-3-24 12zm23 2l24-11-23-3-24 12zm24 3l24-11-24-3-24 11zm24 4l24-11-24-4-24 11zm24 3l24-11-24-3-24 11zm24 4l24-10-24-5-24 11zm24 5l24-11-24-4-24 10zm24 4l24-10-24-5-24 11zm25 5l24-10-25-5-24 10z"/>
<path class="qih" d="M4759 199l24-14-23-1-24 15zm22 0l24-14-22 0-24 14zm23 1l24-14-23-1-24 14z"/>
<path class="qif" d="M4826 201l24-13-22-2-24 14zm23 1l24-13-23-1-24 13zm23 2l24-13-23-2-24 13zm23 2l25-13-24-2-24 13zm24 2l24-12-23-3-25 13zm23 3l24-13-23-2-24 12zm24 3l24-13-24-3-24 13zm23 3l25-12-24-4-24 13zm24 3l25-12-24-3-25 12zm24 4l25-12-24-4-25 12zm24 4l25-11-24-5-25 12zm25 4l24-11-24-4-25 11zm24 5l25-11-25-5-24 11z"/>
<path class="qiv" d="M5463 165l22 1-25-9-22 0zm24 9l22 1-24-9-22-1zm25 9l22 1-25-9-22-1zm25 10l22 1-25-10-22-1z"/>
<path class="qgy" d="M5440 166l23-1-25-8-22 1z"/>
<path class="qhk" d="M5417 167l23-1-24-8-23 1zm-22 2l22-2-24-8-23 3z"/>
<path class="qhv" d="M5372 172l23-3-25-7-23 3zm-23 4l23-4-25-7-23 3zm-23 4l23-4-25-8-23 5z"/>
<path class="qhl" d="M5302 185l24-5-25-7-23 5zm-23 6l23-6-24-7-24 6zm-24 6l24-6-25-7-23 7z"/>
<path class="qif" d="M5231 205l24-8-24-6-24 8zm-24 8l24-8-24-6-24 8zm-24 9l24-9-24-6-24 9zm-24 9l24-9-24-6-24 10zm-24 11l24-11-24-5-25 11z"/>
<path class="qiv" d="M5465 175l22-1-24-9-23 1zm24 8l23 0-25-9-22 1zm25 10l23 0-25-10-23 0z"/>
<path class="qim" d="M5703 241l21 4-25-11-22-4zm25 12l21 4-25-12-21-4zm25 12l22 5-26-13-21-4zm26 13l21 5-25-13-22-5z"/>
<path class="qin" d="M5681 238l22 3-26-11-21-3z"/>
<path class="qiu" d="M5584 204l22 1-25-10-22-1zm25 10l22 2-25-11-22-1zm25 11l22 2-25-11-22-2zm25 11l22 2-25-11-22-2z"/>
<path class="qiv" d="M5562 202l22 2-25-10-22-1zm-23 0l23 0-25-9-23 0z"/>
<path class="qip" d="M4668 215l24-16-21 1-24 15zm-24 16l24-16-21 0-24 17zm-24 17l24-17-21 1-25 18z"/>
<path class="qih" d="M4690 214l24-15-22 0-24 16zm22 0l24-15-22 0-24 15zm23 0l24-15-23 0-24 15zm22 0l24-15-22 0-24 15zm22 1l25-15-23-1-24 15zm23 0l24-14-22-1-25 15zm23 2l24-15-23-1-24 14zm23 1l24-14-23-2-24 15zm23 2l24-14-23-2-24 14z"/>
<path class="qif" d="M4894 222l25-14-24-2-24 14zm24 2l24-13-23-3-25 14zm23 2l25-12-24-3-24 13zm24 3l24-12-23-3-25 12zm24 4l24-13-24-3-24 12zm24 3l24-12-24-4-24 13zm24 4l24-12-24-4-24 12zm24 4l25-12-25-4-24 12zm25 4l24-11-24-5-25 12zm24 5l25-11-25-5-24 11z"/>
<path class="qip" d="M4666 230l24-16-22 1-24 16zm22 0l24-16-22 0-24 16zm-46 17l24-17-22 1-24 17zm22 0l24-17-22 0-24 17z"/>
<path class="qih" d="M4710 230l25-16-23 0-24 16zm23 0l24-16-22 0-25 16zm22 0l24-15-22-1-24 16zm23 1l24-16-23 0-24 15zm23 0l24-14-23-2-24 16zm23 2l24-15-23-1-24 14zm23 1l24-14-23-2-24 15zm23 2l24-14-23-2-24 14zm23 2l25-14-24-2-24 14zm24 2l24-14-23-2-25 14zm24 3l24-14-24-3-24 14zm23 3l25-13-24-4-24 14zm24 3l25-13-24-3-25 13zm24 4l25-13-24-4-25 13zm25 3l24-12-24-4-25 13zm24 5l25-13-25-4-24 12zm25 4l24-12-24-5-25 13z"/>
<path class="qip" d="M4686 246l24-16-22 0-24 17zm22 0l25-16-23 0-24 16zm23 0l24-16-22 0-25 16z"/>
<path class="qih" d="M4753 246l25-15-23-1-24 16zm23 1l25-16-23 0-25 15zm23 1l25-15-23-2-25 16zm23 1l25-15-23-1-25 15zm23 2l25-15-23-2-25 15zm24 2l24-15-23-2-25 15zm23 2l25-15-24-2-24 15zm24 2l25-14-24-3-25 15zm24 3l24-14-23-3-25 14zm24 3l24-14-24-3-24 14zm24 3l24-13-24-4-24 14zm24 4l25-14-25-3-24 13zm25 4l24-13-24-5-25 14zm24 4l25-13-25-4-24 13z"/>
<path class="qjd" d="M5442 176l23-1-25-9-23 1zm25 8l22-1-24-8-23 1zm25 9l22 0-25-10-22 1zm25 9l22 0-25-9-22 0z"/>
<path class="qhk" d="M5419 177l23-1-25-9-22 2zm-22 3l22-3-24-8-23 3z"/>
<path class="qhv" d="M5374 183l23-3-25-8-23 4zm-24 4l24-4-25-7-23 4z"/>
<path class="qhl" d="M5327 192l23-5-24-7-24 5zm-24 6l24-6-25-7-23 6zm-23 6l23-6-24-7-24 6z"/>
<path class="qif" d="M5256 211l24-7-25-7-24 8zm-24 8l24-8-25-6-24 8zm-24 8l24-8-25-6-24 9zm-24 10l24-10-25-5-24 9zm-24 10l24-10-25-6-24 11zm-25 11l25-11-25-5-25 11z"/>
<path class="qih" d="M5111 270l24-12-25-5-24 12zm-25 13l25-13-25-5-25 13z"/>
<path class="qjd" d="M5444 186l23-2-25-8-23 1zm25 8l23-1-25-9-23 2zm25 9l23-1-25-9-23 1zm-73-15l23-2-25-9-22 3zm25 8l23-2-25-8-23 2zm25 9l23-2-25-9-23 2z"/>
<path class="qhu" d="M5398 191l23-3-24-8-23 3zm25 8l23-3-25-8-23 3zm25 9l23-3-25-9-23 3z"/>
<path class="qhv" d="M5375 195l23-4-24-8-24 4z"/>
<path class="qhu" d="M5400 203l23-4-25-8-23 4zm25 8l23-3-25-9-23 4z"/>
<path class="qhl" d="M5352 199l23-4-25-8-23 5z"/>
<path class="qif" d="M5377 207l23-4-25-8-23 4zm25 8l23-4-25-8-23 4zm-74-10l24-6-25-7-24 6zm25 7l24-5-25-8-24 6zm26 8l23-5-25-8-24 5zm-74-9l23-6-25-7-23 6zm25 7l23-6-25-7-23 6zm25 7l24-5-26-8-23 6zm-74-7l24-7-25-7-24 7zm25 6l24-6-25-7-24 7zm25 8l24-7-25-7-24 6zm-74-7l24-7-25-7-24 8zm25 7l24-8-25-6-24 7zm25 7l24-7-25-8-24 8zm-74-5l24-9-25-6-24 8zm25 6l24-8-25-7-24 9zm25 7l24-8-25-7-24 8zm-74-4l24-9-25-7-24 10zm25 6l24-9-25-6-24 9zm25 6l24-8-25-7-24 9zm-75-2l25-10-25-6-24 10zm25 6l25-10-25-6-25 10zm26 6l24-10-25-6-25 10zm-75-1l24-11-24-6-25 11zm25 5l24-10-25-6-24 11zm25 6l25-10-26-6-24 10z"/>
<path class="qih" d="M5135 275l25-11-25-6-24 12zm25 6l25-12-25-5-25 11zm26 5l24-11-25-6-25 12zm-75 2l24-13-24-5-25 13zm25 5l24-12-25-6-24 13zm25 5l25-12-26-5-24 12z"/>
<path class="qcp" d="M5804 291l22 5-26-13-21-5z"/>
<path class="qjb" d="M5706 250l22 3-25-12-22-3z"/>
<path class="qit" d="M5732 262l21 3-25-12-22-3zm25 12l22 4-26-13-21-3zm26 12l21 5-25-13-22-4z"/>
<path class="qjf" d="M5587 213l22 1-25-10-22-2zm25 10l22 2-25-11-22-1zm25 11l22 2-25-11-22-2z"/>
<path class="qiv" d="M5564 212l23 1-25-11-23 0zm26 10l22 1-25-10-23-1z"/>
<path class="qjd" d="M5542 212l22 0-25-10-22 0zm25 10l23 0-26-10-22 0zm-48-9l23-1-25-10-23 1zm26 9l22 0-25-10-23 1zm-48-8l22-1-25-10-23 2zm25 10l23-2-26-9-22 1z"/>
<path class="qhu" d="M5474 216l23-2-26-9-23 3zm25 10l23-2-25-10-23 2zm-49-6l24-4-26-8-23 3zm26 8l23-2-25-10-24 4z"/>
<path class="qif" d="M5427 223l23-3-25-9-23 4zm26 9l23-4-26-8-23 3zm-49-4l23-5-25-8-23 5zm25 8l24-4-26-9-23 5zm-49-3l24-5-25-8-24 5zm26 8l23-5-25-8-24 5zm-50-2l24-6-25-8-24 7zm26 8l24-6-26-8-24 6zm-49-1l23-7-25-7-24 7zm25 8l24-7-26-8-23 7zm-49 0l24-8-26-7-24 8zm25 7l24-7-25-8-24 8zm-50 1l25-8-26-7-24 8zm26 7l24-8-25-7-25 8zm-50 3l24-10-25-7-24 10zm25 6l25-9-26-7-24 10zm-49 4l24-10-25-7-25 10z"/>
<path class="qih" d="M5261 288l24-10-25-6-24 10zm-50 4l25-10-26-7-24 11zm25 7l25-11-25-6-25 10zm-50 5l25-12-25-6-25 12zm26 6l24-11-25-7-25 12z"/>
<path class="qjf" d="M5615 232l22 2-25-11-22-1z"/>
<path class="qiw" d="M4596 267l24-19-22 2-24 18zm22-2l24-18-22 1-24 19zm-46 21l24-19-22 1-24 20zm21-2l25-19-22 2-24 19z"/>
<path class="qip" d="M4640 264l24-17-22 0-24 18zm22 0l24-18-22 1-24 17zm22-1l24-17-22 0-24 18zm22 0l25-17-23 0-24 17zm23 0l24-17-22 0-25 17zm23 1l24-17-23-1-24 17zm23 0l24-16-23-1-24 17zm23 1l24-16-23-1-24 16z"/>
<path class="qih" d="M4821 267l24-16-23-2-24 16zm23 1l25-15-24-2-24 16zm24 2l24-15-23-2-25 15zm23 2l25-15-24-2-24 15zm24 3l25-15-24-3-25 15zm24 2l25-14-24-3-25 15zm24 4l25-15-24-3-25 14zm24 3l25-14-24-4-25 15zm25 4l25-14-25-4-25 14zm24 4l25-14-24-4-25 14zm25 4l25-13-25-5-25 14zm25 5l25-13-25-5-25 13zm25 5l25-13-25-5-25 13zm25 5l25-13-25-5-25 13zm25 6l25-13-25-6-25 13zm26 6l25-13-26-6-25 13z"/>
<path class="qiw" d="M4615 283l25-19-22 1-25 19zm22-1l25-18-22 0-25 19zm23-1l24-18-22 1-25 18z"/>
<path class="qip" d="M4682 281l24-18-22 0-24 18zm22 0l25-18-23 0-24 18zm23 0l25-17-23-1-25 18zm23 0l25-17-23 0-25 17zm23 1l25-17-23-1-25 17zm23 1l25-16-23-2-25 17zm23 2l25-17-23-1-25 16zm24 1l25-16-24-2-25 17zm23 2l25-16-23-2-25 16zm24 2l25-15-24-3-25 16z"/>
<path class="qih" d="M4914 293l25-16-24-2-25 15zm24 3l25-15-24-4-25 16zm24 3l25-15-24-3-25 15zm25 3l25-14-25-4-25 15zm24 4l25-14-24-4-25 14zm25 4l25-14-25-4-25 14zm25 5l25-14-25-5-25 14zm25 5l25-14-25-5-25 14zm25 5l25-14-25-5-25 14zm25 5l25-13-25-6-25 14zm26 6l25-13-26-6-25 13z"/>
<path class="qcs" d="M5830 304l21 6-25-14-22-5zm26 14l21 6-26-14-21-6zm26 14l21 6-26-14-21-6z"/>
<path class="qku" d="M5685 247l21 3-25-12-22-2z"/>
<path class="qkt" d="M5663 245l22 2-26-11-22-2z"/>
<path class="qjf" d="M5640 243l23 2-26-11-22-2z"/>
<path class="qjo" d="M5593 232l22 0-25-10-23 0zm25 11l22 0-25-11-22 0z"/>
<path class="qjd" d="M5570 232l23 0-26-10-22 0zm-23 1l23-1-25-10-23 2z"/>
<path class="qhu" d="M5524 235l23-2-25-9-23 2zm-23 3l23-3-25-9-23 2z"/>
<path class="qif" d="M5478 241l23-3-25-10-23 4zm-23 4l23-4-25-9-24 4zm-24 5l24-5-26-9-23 5zm-24 5l24-5-25-9-24 6zm-23 7l23-7-25-8-24 7zm-24 7l24-7-26-8-24 7zm-25 8l25-8-26-8-24 8zm-24 9l24-9-25-8-25 9z"/>
<path class="qih" d="M5287 295l24-9-26-8-24 10zm-25 11l25-11-26-7-25 11zm-25 11l25-11-26-7-24 11zm-25 12l25-12-25-7-25 13zm-25 13l25-13-25-6-25 13z"/>
<path class="qjo" d="M5596 243l22 0-25-11-23 0z"/>
<path class="qjd" d="M5573 243l23 0-26-11-23 1z"/>
<path class="qhu" d="M5550 245l23-2-26-10-23 2zm-23 2l23-2-26-10-23 3z"/>
<path class="qif" d="M5504 250l23-3-26-9-23 3zm-24 4l24-4-26-9-23 4zm-23 5l23-5-25-9-24 5zm-24 5l24-5-26-9-24 5zm-24 6l24-6-26-9-23 7zm-24 7l24-7-25-8-24 7zm-24 8l24-8-25-8-25 8z"/>
<path class="qih" d="M5337 293l24-8-26-8-24 9zm-25 10l25-10-26-7-24 9zm-24 10l24-10-25-8-25 11zm-25 11l25-11-26-7-25 11zm-25 12l25-12-26-7-25 12zm-25 12l25-12-26-7-25 13z"/>
<path class="qje" d="M4547 306l25-20-22 2-24 20zm22-2l24-20-21 2-25 20zm-46 23l24-21-21 2-25 21zm22-2l24-21-22 2-24 21z"/>
<path class="qiw" d="M4591 303l24-20-22 1-24 20zm22-2l24-19-22 1-24 20zm22-1l25-19-23 1-24 19zm22 0l25-19-22 0-25 19zm23-1l24-18-22 0-25 19zm22 0l25-18-23 0-24 18z"/>
<path class="qip" d="M4725 299l25-18-23 0-25 18zm23 1l25-18-23-1-25 18zm23 1l25-18-23-1-25 18zm24 1l24-17-23-2-25 18zm23 1l25-17-24-1-24 17zm24 2l24-17-23-2-25 17zm23 2l25-17-24-2-24 17zm24 2l25-16-24-3-25 17zm24 3l25-16-24-3-25 16zm24 3l25-16-24-3-25 16zm25 3l25-16-25-3-25 16zm24 4l25-16-24-4-25 16zm25 3l25-15-25-4-25 16zm25 5l25-15-25-5-25 15zm25 4l25-14-25-5-25 15zm25 5l25-14-25-5-25 14zm25 5l25-14-25-5-25 14zm26 6l25-14-26-6-25 14zm25 5l25-13-25-6-25 14zm26 7l25-14-26-6-25 13z"/>
<path class="qje" d="M4566 323l25-20-22 1-24 21zm22-1l25-21-22 2-25 20z"/>
<path class="qiw" d="M4610 320l25-20-22 1-25 21zm23-1l24-19-22 0-25 20zm22 0l25-20-23 1-24 19zm23-1l24-19-22 0-25 20zm22 0l25-19-23 0-24 19zm23 0l25-18-23-1-25 19zm23 1l25-18-23-1-25 18zm24 1l25-18-24-1-25 18z"/>
<path class="qip" d="M4793 321l25-18-23-1-25 18zm24 1l25-17-24-2-25 18zm23 2l25-17-23-2-25 17zm24 2l25-17-24-2-25 17zm24 3l25-17-24-3-25 17zm24 2l25-16-24-3-25 17zm25 3l25-16-25-3-25 16zm24 4l25-16-24-4-25 16zm25 3l25-16-25-3-25 16zm24 4l26-15-25-5-25 16zm25 5l26-16-25-4-26 15zm26 4l25-15-25-5-26 16zm25 5l25-15-25-5-25 15zm25 5l26-14-26-6-25 15zm26 6l25-15-25-5-26 14zm26 6l25-14-26-7-25 15z"/>
<path class="qcq" d="M5809 299l21 5-26-13-21-5zm26 14l21 5-26-14-21-5z"/>
<path class="qim" d="M5861 327l21 5-26-14-21-5z"/>
<path class="qkv" d="M5908 347l21 6-26-15-21-6zm26 15l21 6-26-15-21-6z"/>
<path class="qcp" d="M5887 341l21 6-26-15-21-5zm26 15l21 6-26-15-21-6z"/>
<path class="qkw" d="M5710 259l22 3-26-12-21-3zm26 12l21 3-25-12-22-3zm25 12l22 3-26-12-21-3z"/>
<path class="qjb" d="M5787 296l22 3-26-13-22-3zm26 13l22 4-26-14-22-3zm26 13l22 5-26-14-22-4z"/>
<path class="qjg" d="M4498 349l25-22-22 2-24 22zm-24 22l24-22-21 2-24 23z"/>
<path class="qje" d="M4520 347l25-22-22 2-25 22zm22-2l24-22-21 2-25 22zm22-2l24-21-22 1-24 22zm22-2l24-21-22 2-24 21zm22-1l25-21-23 1-24 21zm22-1l25-20-22 0-25 21z"/>
<path class="qiw" d="M4653 339l25-21-23 1-25 20zm23-1l24-20-22 0-25 21zm22 0l25-20-23 0-24 20zm23 0l25-19-23-1-25 20zm24 1l25-19-24-1-25 19zm23 1l25-19-23-1-25 19zm23 1l26-19-24-1-25 19zm24 1l25-18-23-2-26 19zm24 2l25-18-24-2-25 18z"/>
<path class="qip" d="M4863 346l25-17-24-3-25 18zm24 3l25-18-24-2-25 17zm24 3l26-18-25-3-25 18zm25 3l25-17-24-4-26 18zm24 3l26-17-25-3-25 17zm25 4l25-17-24-4-26 17zm25 4l25-16-25-5-25 17zm25 4l26-16-26-4-25 16zm25 5l26-16-25-5-26 16zm26 5l25-16-25-5-26 16zm25 5l26-15-26-6-25 16zm26 6l26-15-26-6-26 15z"/>
<path class="qjg" d="M4495 369l25-22-22 2-24 22zm22-2l25-22-22 2-25 22zm22-2l25-22-22 2-25 22z"/>
<path class="qje" d="M4561 363l25-22-22 2-25 22zm22-1l25-22-22 1-25 22zm23-1l24-22-22 1-25 22zm22-1l25-21-23 0-24 22zm23-1l25-21-23 1-25 21zm22 0l25-21-22 0-25 21zm23 0l25-21-23 0-25 21z"/>
<path class="qiw" d="M4720 359l25-20-24-1-25 21zm23 1l25-20-23-1-25 20zm23 1l25-20-23-1-25 20zm24 1l25-20-24-1-25 20zm24 1l25-19-24-2-25 20zm24 2l25-19-24-2-25 19zm24 3l25-19-24-3-25 19zm24 2l25-18-24-3-25 19zm24 3l26-18-25-3-25 18zm25 3l25-18-24-3-26 18zm25 3l25-17-25-4-25 18zm25 4l25-17-25-4-25 17zm25 4l25-17-25-4-25 17zm25 5l25-17-25-5-25 17zm25 4l26-16-26-5-25 17zm26 6l25-17-25-5-26 16zm26 5l25-16-26-6-25 17z"/>
<path class="qee" d="M5960 377l21 7-26-16-21-6zm26 16l21 7-26-16-21-7z"/>
<path class="qcp" d="M5939 371l21 6-26-15-21-6z"/>
<path class="qjc" d="M5688 256l22 3-25-12-22-2zm26 12l22 3-26-12-22-3zm25 12l22 3-25-12-22-3z"/>
<path class="qjf" d="M5666 254l22 2-25-11-23-2zm26 12l22 2-26-12-22-2z"/>
<path class="qjo" d="M5644 254l22 0-26-11-22 0zm25 11l23 1-26-12-22 0zm-48-12l23 1-26-11-22 0zm26 11l22 1-25-11-23-1zm-48-10l22-1-25-10-23 0zm25 11l23-1-26-11-22 1z"/>
<path class="qig" d="M5576 255l23-1-26-11-23 2zm26 11l22-1-25-11-23 1z"/>
<path class="qhu" d="M5553 257l23-2-26-10-23 2zm-23 3l23-3-26-10-23 3z"/>
<path class="qig" d="M5579 267l23-1-26-11-23 2zm-24 3l24-3-26-10-23 3z"/>
<path class="qif" d="M5506 264l24-4-26-10-24 4zm-23 4l23-4-26-10-23 5zm-24 5l24-5-26-9-24 5zm-24 6l24-6-26-9-24 6zm-24 7l24-7-26-9-24 7z"/>
<path class="qih" d="M5387 293l24-7-26-9-24 8zm-24 8l24-8-26-8-24 8zm-25 9l25-9-26-8-25 10zm-24 10l24-10-26-7-24 10zm-25 11l25-11-26-7-25 11zm-25 12l25-12-26-7-25 12zm-25 12l25-12-26-7-25 12zm293-82l23-3-25-10-24 4zm-23 4l23-4-26-9-23 4zm-24 5l24-5-26-9-24 5zm-24 6l24-6-26-9-24 6zm-24 6l24-6-26-9-24 7zm-24 8l24-8-26-8-24 7zm-24 8l24-8-26-9-24 8zm-25 8l25-8-26-9-25 9zm-24 10l24-10-26-8-24 10zm-25 11l25-11-26-8-25 11zm-25 11l25-11-26-8-25 12z"/>
<path class="qip" d="M5265 362l25-12-26-7-25 12zm-51 6l25-13-26-7-25 14zm26 7l25-13-26-7-25 13zm-52 7l26-14-26-6-25 14zm26 7l26-14-26-7-26 14zm-51 8l25-15-25-6-26 15zm26 6l25-14-26-7-25 15z"/>
<path class="qiw" d="M5137 413l26-16-26-6-25 16zm26 6l26-16-26-6-26 16z"/>
<path class="qkx" d="M5865 336l22 5-26-14-22-5zm26 15l22 5-26-15-22-5z"/>
<path class="qcq" d="M5918 365l21 6-26-15-22-5z"/>
<path class="qjn" d="M4449 395l25-24-21 3-25 24zm22-3l24-23-21 2-25 24zm-46 27l24-24-21 3-24 24zm21-3l25-24-22 3-24 24z"/>
<path class="qjg" d="M4492 390l25-23-22 2-24 23zm22-3l25-22-22 2-25 23zm22-1l25-23-22 2-25 22zm22-2l25-22-22 1-25 23zm23-1l25-22-23 1-25 22z"/>
<path class="qje" d="M4603 382l25-22-22 1-25 22zm23-1l25-22-23 1-25 22zm22-1l25-21-22 0-25 22zm23 0l25-21-23 0-25 21zm23 0l26-21-24 0-25 21zm24 1l25-21-23-1-26 21zm23 0l25-20-23-1-25 21zm24 1l25-20-24-1-25 20z"/>
<path class="qiw" d="M4788 384l26-21-24-1-25 20zm24 1l26-20-24-2-26 21zm24 2l26-19-24-3-26 20zm25 2l25-19-24-2-26 19zm24 3l25-19-24-3-25 19zm24 3l26-19-25-3-25 19zm25 3l26-19-25-3-26 19zm25 4l26-19-25-4-26 19zm25 3l26-18-25-4-26 19zm25 5l26-18-25-5-26 18zm26 4l25-18-25-4-26 18zm25 5l26-17-26-6-25 18zm26 5l26-17-26-5-26 17zm26 6l25-17-25-6-26 17zm26 6l25-17-26-6-25 17z"/>
<path class="qjn" d="M4468 413l24-23-21 2-25 24zm22-2l24-24-22 3-24 23zm21-2l25-23-22 1-24 24z"/>
<path class="qjg" d="M4533 407l25-23-22 2-25 23zm23-1l25-23-23 1-25 23zm22-2l25-22-22 1-25 23zm23-1l25-22-23 1-25 22zm22 0l25-23-22 1-25 22z"/>
<path class="qje" d="M4646 402l25-22-23 0-25 23zm23 0l25-22-23 0-25 22zm23 0l26-21-24-1-25 22zm24 1l25-22-23 0-26 21zm23 0l26-21-24-1-25 22zm24 2l25-21-23-2-26 21zm24 1l25-21-24-1-25 21zm24 2l25-21-24-2-25 21zm24 2l26-21-25-2-25 21zm24 2l26-20-24-3-26 21z"/>
<path class="qiw" d="M4884 415l25-20-24-3-26 20zm25 3l25-20-25-3-25 20zm24 3l26-19-25-4-25 20zm25 4l26-20-25-3-26 19zm26 4l25-19-25-5-26 20zm25 4l26-19-26-4-25 19zm25 5l26-19-25-5-26 19zm26 5l26-19-26-5-26 19zm26 5l26-18-26-6-26 19zm26 6l26-18-26-6-26 18z"/>
<path class="qir" d="M6013 409l21 7-27-16-21-7zm26 16l21 8-26-17-21-7zm27 17l20 8-26-17-21-8z"/>
<path class="qdl" d="M5965 386l21 7-26-16-21-6zm27 16l21 7-27-16-21-7z"/>
<path class="qky" d="M5765 292l22 4-26-13-22-3zm26 13l22 4-26-13-22-4zm26 13l22 4-26-13-22-4z"/>
<path class="qjm" d="M5717 278l22 2-25-12-22-2zm26 12l22 2-26-12-22-2zm26 13l22 2-26-13-22-2zm27 12l21 3-26-13-22-2z"/>
<path class="qjo" d="M5695 276l22 2-25-12-23-1zm-22 0l22 0-26-11-22-1zm-23 0l23 0-26-12-23 1z"/>
<path class="qig" d="M5628 277l22-1-26-11-22 1zm-23 1l23-1-26-11-23 1zm-24 2l24-2-26-11-24 3z"/>
<path class="qih" d="M5558 283l23-3-26-10-23 3zm-23 4l23-4-26-10-23 4zm-24 5l24-5-26-10-24 5zm-24 5l24-5-26-10-24 6zm-24 6l24-6-26-9-24 6zm-24 7l24-7-26-9-24 8zm-24 8l24-8-26-8-24 8zm-24 9l24-9-26-8-25 8zm-25 9l25-9-27-9-24 10zm-25 10l25-10-26-8-25 11zm-25 11l25-11-26-7-25 11z"/>
<path class="qip" d="M5291 369l25-12-26-7-25 12zm-25 13l25-13-26-7-25 13zm-25 14l25-14-26-7-26 14zm-26 14l26-14-27-7-25 14z"/>
<path class="qiw" d="M5190 426l25-16-26-7-26 16zm-26 16l26-16-27-7-25 17zm-26 18l26-18-26-6-26 18z"/>
<path class="qjm" d="M5721 288l22 2-26-12-22-2zm26 13l22 2-26-13-22-2zm26 12l23 2-27-12-22-2z"/>
<path class="qjo" d="M5699 287l22 1-26-12-22 0zm-23 0l23 0-26-11-23 0z"/>
<path class="qig" d="M5654 288l22-1-26-11-22 1zm-23 1l23-1-26-11-23 1zm-23 2l23-2-26-11-24 2z"/>
<path class="qih" d="M5584 294l24-3-27-11-23 3zm-23 3l23-3-26-11-23 4zm-24 5l24-5-26-10-24 5zm-23 5l23-5-26-10-24 5zm-24 6l24-6-27-10-24 6zm-24 7l24-7-27-10-24 7zm-25 7l25-7-27-10-24 8zm-24 9l24-9-26-9-24 9zm-25 9l25-9-26-9-25 9zm-24 10l24-10-26-9-25 10z"/>
<path class="qip" d="M5343 365l25-10-27-9-25 11zm-25 12l25-12-27-8-25 12zm-26 13l26-13-27-8-25 13zm-25 13l25-13-26-8-25 14zm-25 14l25-14-26-7-26 14z"/>
<path class="qiw" d="M5216 432l26-15-27-7-25 16zm-26 17l26-17-26-6-26 16zm-26 17l26-17-26-7-26 18z"/>
<path class="qjx" d="M4400 444l25-25-21 3-25 25zm21-3l25-25-21 3-25 25zm22-3l25-25-22 3-25 25z"/>
<path class="qjn" d="M4465 435l25-24-22 2-25 25zm21-2l25-24-21 2-25 24zm22-2l25-24-22 2-25 24zm23-2l25-23-23 1-25 24zm22-1l25-24-22 2-25 23z"/>
<path class="qjg" d="M4575 427l26-24-23 1-25 24zm23-1l25-23-22 0-26 24zm23-1l25-23-23 1-25 23zm23 0l25-23-23 0-25 23zm23 0l25-23-23 0-25 23zm23 0l26-22-24-1-25 23z"/>
<path class="qje" d="M4714 425l25-22-23 0-26 22zm23 1l26-21-24-2-25 22zm24 2l26-22-24-1-26 21zm24 1l26-21-24-2-26 22zm24 2l26-21-24-2-26 21zm25 2l25-21-24-2-26 21zm24 2l26-20-25-3-25 21zm25 3l26-20-25-3-26 20zm25 3l25-20-24-3-26 20zm25 4l25-20-25-4-25 20zm25 3l26-19-26-4-25 20zm25 4l26-19-25-4-26 19zm25 5l26-19-25-5-26 19zm26 5l26-19-26-5-26 19zm26 5l26-19-26-5-26 19zm26 5l26-18-26-6-26 19zm26 6l26-18-26-6-26 18zm26 6l26-18-26-6-26 18z"/>
<path class="qed" d="M6093 459l20 8-27-17-20-8z"/>
<path class="qdf" d="M5944 381l21 5-26-15-21-6zm27 15l21 6-27-16-21-5z"/>
<path class="qdn" d="M6018 418l21 7-26-16-21-7zm27 17l21 7-27-17-21-7z"/>
<path class="qdf" d="M5997 412l21 6-26-16-21-6z"/>
<path class="qjl" d="M5844 332l21 4-26-14-22-4zm26 14l21 5-26-15-21-4z"/>
<path class="qjw" d="M5725 299l22 2-26-13-22-1zm26 13l22 1-26-12-22-2z"/>
<path class="qjo" d="M5702 299l23 0-26-12-23 0z"/>
<path class="qig" d="M5680 299l22 0-26-12-22 1zm-23 1l23-1-26-11-23 1zm-23 2l23-2-26-11-23 2z"/>
<path class="qih" d="M5611 305l23-3-26-11-24 3zm-24 3l24-3-27-11-23 3zm-23 4l23-4-26-11-24 5zm-24 5l24-5-27-10-23 5zm-24 6l24-6-26-10-24 6zm-24 6l24-6-26-10-24 7zm-24 8l24-8-26-9-25 7zm-25 8l25-8-27-10-24 9zm-24 9l24-9-26-9-25 9zm-25 9l25-9-27-9-24 10z"/>
<path class="qip" d="M5369 374l25-11-26-8-25 10zm-25 11l25-11-26-9-25 12zm-25 12l25-12-26-8-26 13zm-25 14l25-14-27-7-25 13zm-26 14l26-14-27-8-25 14z"/>
<path class="qiw" d="M5242 440l26-15-26-8-26 15zm-25 16l25-16-26-8-26 17zm-26 17l26-17-27-7-26 17z"/>
<path class="qje" d="M5165 491l26-18-27-7-26 18z"/>
<path class="qjw" d="M5729 311l22 1-26-13-23 0z"/>
<path class="qke" d="M4375 470l25-26-21 3-25 27zm-24 27l24-27-21 4-24 27z"/>
<path class="qjx" d="M4397 467l24-26-21 3-25 26zm21-4l25-25-22 3-24 26zm22-2l25-26-22 3-25 25zm22-3l24-25-21 2-25 26z"/>
<path class="qjn" d="M4483 456l25-25-22 2-24 25zm23-2l25-25-23 2-25 25zm22-2l25-24-22 1-25 25zm22-1l25-24-22 1-25 24zm23-1l25-24-23 1-25 24zm23-1l25-24-23 1-25 24z"/>
<path class="qjg" d="M4619 448l25-23-23 0-25 24zm23 0l25-23-23 0-25 23zm23 0l25-23-23 0-25 23zm23 0l26-23-24 0-25 23zm24 1l25-23-23-1-26 23zm24 1l25-22-24-2-25 23zm24 1l25-22-24-1-25 22zm24 2l25-22-24-2-25 22z"/>
<path class="qje" d="M4808 455l26-22-25-2-25 22zm24 2l26-22-24-2-26 22zm25 2l26-21-25-3-26 22zm25 3l26-21-25-3-26 21zm25 3l26-20-25-4-26 21zm25 4l26-21-25-3-26 20zm25 4l26-21-25-4-26 21zm25 4l26-20-25-5-26 21zm26 4l26-19-26-5-26 20zm26 5l26-19-26-5-26 19zm26 6l26-20-26-5-26 19zm26 5l26-19-26-6-26 20zm26 6l26-19-26-6-26 19zm27 6l26-18-27-7-26 19z"/>
<path class="qke" d="M4372 493l25-26-22 3-24 27zm21-3l25-27-21 4-25 26zm22-3l25-26-22 2-25 27z"/>
<path class="qjx" d="M4437 484l25-26-22 3-25 26zm21-3l25-25-21 2-25 26zm22-2l26-25-23 2-25 25zm23-2l25-25-22 2-26 25z"/>
<path class="qjn" d="M4525 476l25-25-22 1-25 25zm23-2l25-24-23 1-25 25zm22-1l26-24-23 1-25 24zm23 0l26-25-23 1-26 24zm23-1l26-24-23 0-26 25zm23 0l26-24-23 0-26 24z"/>
<path class="qjg" d="M4663 472l25-24-23 0-26 24zm23 1l26-24-24-1-25 24zm24 0l26-23-24-1-26 24zm24 1l26-23-24-1-26 23zm24 2l26-23-24-2-26 23zm24 1l26-22-24-2-26 23zm24 2l26-22-24-2-26 22zm25 3l26-23-25-2-26 22zm25 2l26-22-25-3-26 23zm25 3l26-22-25-3-26 22zm25 3l26-21-25-4-26 22z"/>
<path class="qje" d="M4931 494l26-21-25-4-26 21zm25 4l26-21-25-4-26 21zm26 4l26-21-26-4-26 21zm26 5l26-21-26-5-26 21zm26 5l26-20-26-6-26 21zm26 5l26-20-26-5-26 20zm26 6l26-20-26-6-26 20zm26 6l27-20-27-6-26 20z"/>
<path class="qec" d="M6072 452l21 7-27-17-21-7z"/>
<path class="qcu" d="M6024 428l21 7-27-17-21-6z"/>
<path class="qdl" d="M6051 445l21 7-27-17-21-7z"/>
<path class="qjv" d="M5822 329l22 3-27-14-21-3zm26 14l22 3-26-14-22-3z"/>
<path class="qjm" d="M5800 326l22 3-26-14-23-2z"/>
<path class="qjw" d="M5778 325l22 1-27-13-22-1zm-23-1l23 1-27-13-22-1z"/>
<path class="qjv" d="M5826 340l22 3-26-14-22-3z"/>
<path class="qjw" d="M5804 338l22 2-26-14-22-1zm-22-1l22 1-26-13-23-1z"/>
<path class="qkz" d="M5896 361l22 4-27-14-21-5z"/>
<path class="qky" d="M5875 357l21 4-26-15-22-3z"/>
<path class="qjv" d="M5853 354l22 3-27-14-22-3z"/>
<path class="qkd" d="M5706 311l23 0-27-12-22 0zm27 12l22 1-26-13-23 0z"/>
<path class="qig" d="M5683 312l23-1-26-12-23 1zm-23 2l23-2-26-12-23 2z"/>
<path class="qih" d="M5637 316l23-2-26-12-23 3zm-23 3l23-3-26-11-24 3zm-24 4l24-4-27-11-23 4zm-23 4l23-4-26-11-24 5zm-24 6l24-6-27-10-24 6zm-24 6l24-6-27-10-24 6zm-25 7l25-7-27-10-24 8zm-24 8l24-8-26-9-25 8zm-25 9l25-9-27-9-24 9z"/>
<path class="qip" d="M5421 372l24-9-26-9-25 9zm-25 11l25-11-27-9-25 11zm-25 11l25-11-27-9-25 11zm-25 12l25-12-27-9-25 12zm-26 13l26-13-27-9-25 14z"/>
<path class="qiw" d="M5295 432l25-13-26-8-26 14zm-26 15l26-15-27-7-26 15zm-26 16l26-16-27-7-25 16zm-26 17l26-17-26-7-26 17z"/>
<path class="qje" d="M5191 497l26-17-26-7-26 18zm-26 19l26-19-26-6-26 18zm-26 19l26-19-26-7-27 20z"/>
<path class="qjw" d="M5759 336l23 1-27-13-22-1z"/>
<path class="qkd" d="M5710 324l23-1-27-12-23 1zm26 12l23 0-26-13-23 1zm-49-11l23-1-27-12-23 2zm27 12l22-1-26-12-23 1z"/>
<path class="qih" d="M5664 327l23-2-27-11-23 2zm-24 3l24-3-27-11-23 3zm-23 4l23-4-26-11-24 4zm-24 4l24-4-27-11-23 4zm-24 5l24-5-26-11-24 6zm-24 6l24-6-26-10-24 6zm-24 7l24-7-26-10-25 7z"/>
<path class="qip" d="M5497 364l24-8-27-10-24 8zm-25 8l25-8-27-10-25 9zm-24 10l24-10-27-9-24 9zm-25 10l25-10-27-10-25 11zm-25 11l25-11-27-9-25 11zm-26 11l26-11-27-9-25 12zm-25 13l25-13-26-8-26 13zm343-88l24-2-27-12-23 2zm-23 3l23-3-26-12-24 3zm-23 3l23-3-27-12-23 4zm-24 4l24-4-27-11-24 4zm-24 5l24-5-27-11-24 5zm-24 6l24-6-27-11-24 6zm-24 7l24-7-27-11-24 7zm-24 7l24-7-27-11-24 8zm-25 8l25-8-27-10-25 8zm-25 9l25-9-27-10-24 10zm-24 10l24-10-26-9-25 10zm-25 11l25-11-27-9-25 11zm-26 11l26-11-27-9-26 11zm-25 13l25-13-27-9-25 13z"/>
<path class="qiw" d="M5322 441l25-14-27-8-25 13zm27 8l25-13-27-9-25 14zm-53 6l26-14-27-9-26 15zm27 9l26-15-27-8-26 14zm-53 7l26-16-27-8-26 16zm27 8l26-15-27-9-26 16zm-53 8l26-16-27-8-26 17z"/>
<path class="qje" d="M5271 495l26-16-27-8-26 16zm-53 10l26-18-27-7-26 17zm27 7l26-17-27-8-26 18zm-53 11l26-18-27-8-26 19zm27 7l26-18-27-7-26 18zm-53 12l26-19-27-7-26 19zm27 7l26-19-27-7-26 19z"/>
<path class="qkj" d="M4326 525l25-28-21 4-25 28zm21-4l25-28-21 4-25 28z"/>
<path class="qke" d="M4368 517l25-27-21 3-25 28zm22-3l25-27-22 3-25 27zm22-3l25-27-22 3-25 27zm21-3l25-27-21 3-25 27zm22-2l25-27-22 2-25 27z"/>
<path class="qjx" d="M4477 503l26-26-23 2-25 27zm23-1l25-26-22 1-26 26zm22-2l26-26-23 2-25 26zm23-1l25-26-22 1-26 26zm23-1l25-25-23 0-25 26z"/>
<path class="qjn" d="M4591 497l25-25-23 1-25 25zm23 0l25-25-23 0-25 25zm23 0l26-25-24 0-25 25zm24 0l25-24-23-1-26 25zm23 0l26-24-24 0-25 24zm24 1l26-24-24-1-26 24zm24 1l26-23-24-2-26 24z"/>
<path class="qjg" d="M4756 501l26-24-24-1-26 23zm24 2l26-24-24-2-26 24zm25 2l26-23-25-3-26 24zm25 2l26-23-25-2-26 23zm24 3l27-23-25-3-26 23zm26 3l26-23-25-3-27 23zm25 3l26-22-25-4-26 23zm25 4l26-22-25-4-26 22zm26 4l26-22-26-4-26 22zm25 4l27-21-26-5-26 22zm26 5l27-21-26-5-27 21zm26 5l27-21-26-5-27 21zm26 6l27-21-26-6-27 21zm27 5l26-20-26-6-27 21zm26 7l27-21-27-6-26 20zm27 6l27-20-27-7-27 21zm27 7l27-20-27-7-27 20z"/>
<path class="qla" d="M5923 376l21 5-26-16-22-4zm26 15l22 5-27-15-21-5z"/>
<path class="qkx" d="M5976 407l21 5-26-16-22-5z"/>
<path class="qkc" d="M5831 351l22 3-27-14-22-2z"/>
<path class="qjw" d="M5808 350l23 1-27-13-22-1zm-22-1l22 1-26-13-23-1z"/>
<path class="qkd" d="M5763 349l23 0-27-13-23 0zm-23 1l23-1-27-13-22 1z"/>
<path class="qip" d="M5717 351l23-1-26-13-24 2zm-23 3l23-3-27-12-23 3zm-23 3l23-3-27-12-23 3zm-24 4l24-4-27-12-24 4zm-24 5l24-5-27-12-24 5zm-24 5l24-5-27-12-24 6zm-24 6l24-6-27-11-24 7zm-24 7l24-7-27-10-24 7zm-25 8l25-8-27-10-25 8zm-24 9l24-9-27-10-25 9zm-25 10l25-10-28-10-24 10zm-25 10l25-10-27-10-25 11zm-25 11l25-11-27-9-26 11z"/>
<path class="qiw" d="M5401 445l26-13-28-9-25 13zm-25 13l25-13-27-9-25 13zm-26 14l26-14-27-9-26 15zm-26 15l26-15-27-8-26 15z"/>
<path class="qje" d="M5298 503l26-16-27-8-26 16zm-26 17l26-17-27-8-26 17zm-26 18l26-18-27-8-26 18z"/>
<path class="qjg" d="M5220 557l26-19-27-8-26 19zm-27 19l27-19-27-8-27 20z"/>
<path class="qko" d="M4301 553l25-28-21 4-25 29zm-25 30l25-30-21 5-24 29z"/>
<path class="qkj" d="M4322 549l25-28-21 4-25 28zm22-3l24-29-21 4-25 28zm21-4l25-28-22 3-24 29zm21-3l26-28-22 3-25 28z"/>
<path class="qke" d="M4408 536l25-28-21 3-26 28zm22-3l25-27-22 2-25 28zm22-2l25-28-22 3-25 27zm22-3l26-26-23 1-25 28zm23-1l25-27-22 2-26 26z"/>
<path class="qjx" d="M4519 525l26-26-23 1-25 27zm23-1l26-26-23 1-26 26zm23-1l26-26-23 1-26 26zm23-1l26-25-23 0-26 26zm23 0l26-25-23 0-26 25z"/>
<path class="qjn" d="M4635 522l26-25-24 0-26 25zm23 0l26-25-23 0-26 25zm24 1l26-25-24-1-26 25zm24 1l26-25-24-1-26 25zm24 1l26-24-24-2-26 25zm24 2l26-24-24-2-26 24zm25 2l26-24-25-2-26 24zm24 2l27-24-25-2-26 24zm25 2l26-23-24-3-27 24zm25 3l27-23-26-3-26 23z"/>
<path class="qjg" d="M4878 539l27-23-25-3-27 23zm26 4l26-23-25-4-27 23zm25 4l27-23-26-4-26 23zm26 4l26-23-25-4-27 23zm26 4l26-22-26-5-26 23zm26 5l26-22-26-5-26 22zm26 5l26-21-26-6-26 22zm26 6l27-22-27-5-26 21zm27 6l26-21-26-7-27 22zm27 6l26-21-27-6-26 21zm26 7l27-21-27-7-26 21zm27 7l27-21-27-7-27 21z"/>
<path class="qko" d="M4297 579l25-30-21 4-25 30zm22-4l25-29-22 3-25 30zm21-4l25-29-21 4-25 29z"/>
<path class="qkj" d="M4361 567l25-28-21 3-25 29zm22-3l25-28-22 3-25 28zm22-3l25-28-22 3-25 28zm22-2l25-28-22 2-25 28z"/>
<path class="qke" d="M4449 556l25-28-22 3-25 28zm22-2l26-27-23 1-25 28zm23-1l25-28-22 2-26 27zm22-2l26-27-23 1-25 28zm23-1l26-27-23 1-26 27z"/>
<path class="qjx" d="M4562 549l26-27-23 1-26 27zm24-1l25-26-23 0-26 27zm23 0l26-26-24 0-25 26zm23 0l26-26-23 0-26 26zm24 1l26-26-24-1-26 26zm24 0l26-25-24-1-26 26zm24 1l26-25-24-1-26 25z"/>
<path class="qjn" d="M4728 552l26-25-24-2-26 25zm25 1l26-24-25-2-26 25zm24 2l26-24-24-2-26 24zm25 3l26-25-25-2-26 24zm25 2l26-24-25-3-26 25zm25 3l26-24-25-3-26 24zm25 3l27-23-26-4-26 24zm26 4l26-23-25-4-27 23zm25 4l27-23-26-4-26 23zm26 4l27-23-26-4-27 23zm26 5l27-23-26-5-27 23zm26 5l27-23-26-5-27 23zm27 5l26-22-26-6-27 23zm26 6l27-22-27-6-26 22zm27 6l27-22-27-6-27 22zm27 6l26-21-26-7-27 22zm27 7l26-21-27-7-26 21z"/>
<path class="qju" d="M5901 372l22 4-27-15-21-4zm27 15l21 4-26-15-22-4zm27 15l21 5-27-16-21-4z"/>
<path class="qjv" d="M5879 368l22 4-26-15-22-3zm27 15l22 4-27-15-22-4z"/>
<path class="qkc" d="M5857 365l22 3-26-14-22-3zm27 15l22 3-27-15-22-3zm-49-17l22 2-26-14-23-1zm27 15l22 2-27-15-22-2zm-49-16l22 1-27-13-22-1zm27 14l22 2-27-15-22-1z"/>
<path class="qkd" d="M5790 362l23 0-27-13-23 0zm-23 1l23-1-27-13-23 1z"/>
<path class="qip" d="M5744 364l23-1-27-13-23 1zm-23 2l23-2-27-13-23 3zm-23 3l23-3-27-12-23 3zm-24 4l24-4-27-12-24 4zm-24 4l24-4-27-12-24 5zm-24 5l24-5-27-11-24 5zm-24 6l24-6-27-11-24 6zm-24 7l24-7-27-11-24 7zm-25 8l25-8-27-11-25 8zm-24 9l24-9-27-11-24 9zm-25 9l25-9-27-11-25 10zm-25 10l25-10-27-10-25 10z"/>
<path class="qiw" d="M5454 442l25-11-27-10-25 11zm-26 12l26-12-27-10-26 13zm-25 13l25-13-27-9-25 13zm-26 14l26-14-27-9-26 14zm-25 15l25-15-27-9-26 15z"/>
<path class="qje" d="M5326 512l26-16-28-9-26 16zm-26 16l26-16-28-9-26 17zm-27 18l27-18-28-8-26 18z"/>
<path class="qjg" d="M5247 564l26-18-27-8-26 19zm-27 20l27-20-27-7-27 19zm-26 20l26-20-27-8-27 21z"/>
<path class="qjn" d="M5167 625l27-21-28-7-26 21z"/>
<path class="qjj" d="M6003 423l21 5-27-16-21-5zm27 16l21 6-27-17-21-5z"/>
<path class="qad" d="M4252 613l24-30-20 4-25 31zm21-4l24-30-21 4-24 30zm21-5l25-29-22 4-24 30z"/>
<path class="qko" d="M4315 601l25-30-21 4-25 29zm21-4l25-30-21 4-25 30zm22-3l25-30-22 3-25 30zm22-4l25-29-22 3-25 30z"/>
<path class="qkj" d="M4401 588l26-29-22 2-25 29zm23-3l25-29-22 3-26 29zm22-2l25-29-22 2-25 29zm22-2l26-28-23 1-25 29z"/>
<path class="qke" d="M4491 579l25-28-22 2-26 28zm23-1l25-28-23 1-25 28zm23-1l25-28-23 1-25 28zm23-1l26-28-24 1-25 28zm23-1l26-27-23 0-26 28zm23 0l26-27-23 0-26 27z"/>
<path class="qjx" d="M4630 575l26-26-24-1-26 27zm24 1l26-27-24 0-26 26zm24 1l26-27-24-1-26 27zm24 1l26-26-24-2-26 27zm24 1l27-26-25-1-26 26zm25 2l26-26-24-2-27 26zm25 2l26-25-25-3-26 26zm25 2l26-25-25-2-26 25z"/>
<path class="qjn" d="M4826 588l26-25-25-3-26 25zm25 3l26-25-25-3-26 25zm25 3l27-24-26-4-26 25zm26 4l26-24-25-4-27 24zm26 4l26-24-26-4-26 24zm25 5l27-24-26-5-26 24zm27 4l26-23-26-5-27 24zm26 6l27-24-27-5-26 23zm26 5l27-23-26-6-27 24zm27 6l27-23-27-6-27 23zm27 6l27-23-27-6-27 23zm27 6l27-22-27-7-27 23zm27 7l27-22-27-7-27 22z"/>
<path class="qkb" d="M5933 398l22 4-27-15-22-4z"/>
<path class="qkc" d="M5911 395l22 3-27-15-22-3zm-22-3l22 3-27-15-22-2zm-22-1l22 1-27-14-22-2z"/>
<path class="qki" d="M5817 376l23 0-27-14-23 0zm27 14l23 1-27-15-23 0z"/>
<path class="qkd" d="M5794 376l23 0-27-14-23 1z"/>
<path class="qip" d="M5771 377l23-1-27-13-23 1zm-23 2l23-2-27-13-23 2zm-23 3l23-3-27-13-23 3zm-24 3l24-3-27-13-24 4zm-23 4l23-4-27-12-24 4zm-24 5l24-5-28-12-24 5zm-24 6l24-6-28-12-24 6zm-25 7l25-7-28-12-24 7zm-24 7l24-7-27-12-25 8zm-25 8l25-8-28-11-24 9zm-25 9l25-9-27-10-25 9z"/>
<path class="qiw" d="M5506 441l25-10-27-10-25 10zm-25 11l25-11-27-10-25 11zm-25 12l25-12-27-10-26 12zm-26 13l26-13-28-10-25 13zm-25 14l25-14-27-10-26 14zm-26 14l26-14-28-10-25 15z"/>
<path class="qje" d="M5353 521l26-16-27-9-26 16zm-26 16l26-16-27-9-26 16zm-26 17l26-17-27-9-27 18z"/>
<path class="qjg" d="M5274 573l27-19-28-8-26 18zm-26 19l26-19-27-9-27 20zm-27 20l27-20-28-8-26 20z"/>
<path class="qjn" d="M5194 633l27-21-27-8-27 21zm-27 22l27-22-27-8-27 22z"/>
<path class="qki" d="M5821 390l23 0-27-14-23 0z"/>
<path class="qiw" d="M5799 390l22 0-27-14-23 1z"/>
<path class="qip" d="M5775 392l24-2-28-13-23 2zm-23 2l23-2-27-13-23 3zm-23 4l23-4-27-12-24 3zm-24 3l24-3-28-13-23 4zm-24 5l24-5-27-12-24 5zm-24 6l24-6-27-12-24 6zm-24 6l24-6-27-12-25 7zm-25 7l25-7-28-11-24 7zm-24 8l24-8-27-11-25 8z"/>
<path class="qiw" d="M5559 442l25-9-28-11-25 9zm-25 10l25-10-28-11-25 10zm-25 11l25-11-28-11-25 11zm-25 12l25-12-28-11-25 12zm-26 12l26-12-28-11-26 13zm-26 14l26-14-28-10-25 14z"/>
<path class="qje" d="M5407 515l25-14-27-10-26 14zm-26 15l26-15-28-10-26 16zm-26 16l26-16-28-9-26 16zm-27 17l27-17-28-9-26 17z"/>
<path class="qjg" d="M5302 581l26-18-27-9-27 19zm-27 19l27-19-28-8-26 19zm-26 20l26-20-27-8-27 20z"/>
<path class="qjn" d="M5222 641l27-21-28-8-27 21zm-27 21l27-21-28-8-27 22z"/>
<path class="qbp" d="M5982 418l21 5-27-16-21-5zm27 16l21 5-27-16-21-5z"/>
<path class="qkb" d="M5960 414l22 4-27-16-22-4zm27 16l22 4-27-16-22-4zm-49-20l22 4-27-16-22-3zm27 16l22 4-27-16-22-4z"/>
<path class="qw" d="M4227 644l25-31-21 5-25 31zm-25 32l25-32-21 5-24 32z"/>
<path class="qad" d="M4248 639l25-30-21 4-25 31zm21-4l25-31-21 5-25 30zm21-4l25-30-21 3-25 31zm21-4l25-30-21 4-25 30z"/>
<path class="qko" d="M4333 624l25-30-22 3-25 30zm21-4l26-30-22 4-25 30zm22-3l25-29-21 2-26 30zm22-2l26-30-23 3-25 29zm22-3l26-29-22 2-26 30z"/>
<path class="qkj" d="M4443 610l25-29-22 2-26 29zm22-2l26-29-23 2-25 29zm23-1l26-29-23 1-26 29zm23-2l26-28-23 1-26 29z"/>
<path class="qke" d="M4534 604l26-28-23 1-26 28zm23 0l26-29-23 1-26 28zm23-1l26-28-23 0-26 29zm24 0l26-28-24 0-26 28zm24 0l26-27-24-1-26 28zm24 1l26-27-24-1-26 27zm24 1l26-27-24-1-26 27z"/>
<path class="qjx" d="M4700 606l26-27-24-1-26 27zm25 1l26-26-25-2-26 27zm24 2l27-26-25-2-26 26zm25 2l27-26-25-2-27 26zm25 3l27-26-25-3-27 26zm25 3l27-26-25-3-27 26zm26 3l26-26-25-3-27 26zm25 3l27-25-26-4-26 26zm26 4l27-25-26-4-27 25zm26 4l26-24-25-5-27 25zm26 5l27-25-27-4-26 24zm26 5l27-24-26-6-27 25zm26 5l27-24-26-5-27 24zm27 6l27-24-27-6-27 24zm27 5l27-23-27-6-27 24zm27 7l27-24-27-6-27 23zm27 6l27-23-27-7-27 24zm27 7l27-22-27-8-27 23zm28 8l27-23-28-7-27 22z"/>
<path class="qw" d="M4223 671l25-32-21 5-25 32zm21-4l25-32-21 4-25 32zm21-5l25-31-21 4-25 32z"/>
<path class="qad" d="M4286 658l25-31-21 4-25 31zm21-3l26-31-22 3-25 31zm22-4l25-31-21 4-26 31zm22-3l25-31-22 3-25 31z"/>
<path class="qko" d="M4373 645l25-30-22 2-25 31zm22-3l25-30-22 3-25 30zm22-2l26-30-23 2-25 30zm22-2l26-30-22 2-26 30zm23-2l26-29-23 1-26 30z"/>
<path class="qkj" d="M4485 635l26-30-23 2-26 29zm23-2l26-29-23 1-26 30zm23 0l26-29-23 0-26 29zm23-1l26-29-23 1-26 29zm24 0l26-29-24 0-26 29z"/>
<path class="qke" d="M4602 632l26-29-24 0-26 29zm23 0l27-28-24-1-26 29zm24 1l27-28-24-1-27 28zm25 0l26-27-24-1-27 28zm24 2l27-28-25-1-26 27zm25 1l26-27-24-2-27 28zm24 2l27-27-25-2-26 27zm25 2l27-26-25-3-27 27z"/>
<path class="qjx" d="M4798 643l26-26-25-3-27 26zm25 3l27-26-26-3-26 26zm25 3l27-26-25-3-27 26zm26 4l27-26-26-4-27 26zm26 4l27-26-26-4-27 26zm26 4l27-25-26-5-27 26zm26 5l27-25-26-5-27 25zm26 5l27-25-26-5-27 25zm27 5l27-24-27-6-27 25zm27 6l27-25-27-5-27 24zm27 6l27-24-27-7-27 25zm27 6l27-24-27-6-27 24zm27 7l27-24-27-7-27 24zm28 7l27-23-28-8-27 24z"/>
<path class="qkl" d="M5916 407l22 3-27-15-22-3zm27 16l22 3-27-16-22-3z"/>
<path class="qkc" d="M5894 406l22 1-27-15-22-1z"/>
<path class="qki" d="M5871 404l23 2-27-15-23-1zm-22 0l22 0-27-14-23 0z"/>
<path class="qiw" d="M5826 404l23 0-28-14-22 0zm-23 2l23-2-27-14-24 2zm-23 2l23-2-28-14-23 2zm-24 3l24-3-28-14-23 4zm-24 3l24-3-27-13-24 3zm-23 5l23-5-27-13-24 5zm-24 5l24-5-28-13-24 6zm-25 6l25-6-28-12-24 6zm-24 7l24-7-27-12-25 7zm-25 8l25-8-28-12-24 8zm-24 9l24-9-27-12-25 9zm-25 9l25-9-28-12-25 10zm-25 11l25-11-28-11-25 11zm-26 11l26-11-28-11-25 12zm-25 13l25-13-27-10-26 12zm-26 13l26-13-28-11-26 14z"/>
<path class="qje" d="M5434 525l26-14-28-10-25 14zm-26 15l26-15-27-10-26 15zm-26 16l26-16-27-10-26 16z"/>
<path class="qjg" d="M5356 572l26-16-27-10-27 17zm-26 18l26-18-28-9-26 18zm-27 19l27-19-28-9-27 19z"/>
<path class="qjn" d="M5276 628l27-19-28-9-26 20zm-26 21l26-21-27-8-27 21zm-27 21l27-21-28-8-27 21z"/>
<path class="qjx" d="M5195 693l28-23-28-8-27 23zm-27 23l27-23-27-8-27 23z"/>
<path class="qkl" d="M5921 421l22 2-27-16-22-1z"/>
<path class="qki" d="M5899 419l22 2-27-15-23-2zm-23 0l23 0-28-15-22 0zm-23 0l23 0-27-15-23 0z"/>
<path class="qiw" d="M5830 420l23-1-27-15-23 2zm-23 2l23-2-27-14-23 2zm-23 2l23-2-27-14-24 3zm-24 4l24-4-28-13-24 3zm-24 4l24-4-28-14-23 5zm-24 5l24-5-27-13-24 5zm-24 6l24-6-27-13-25 6zm-24 7l24-7-28-13-24 7zm-25 7l25-7-28-13-25 8zm-25 9l25-9-28-12-24 9zm-24 9l24-9-27-12-25 9zm-26 10l26-10-28-12-25 11zm-25 11l25-11-27-11-26 11zm-25 12l25-12-28-11-25 13z"/>
<path class="qje" d="M5488 521l26-13-28-10-26 13zm-26 14l26-14-28-10-26 14zm-26 15l26-15-28-10-26 15zm-26 16l26-16-28-10-26 16z"/>
<path class="qjg" d="M5384 582l26-16-28-10-26 16zm-26 18l26-18-28-10-26 18zm-27 18l27-18-28-10-27 19z"/>
<path class="qjn" d="M5304 637l27-19-28-9-27 19zm-27 21l27-21-28-9-26 21zm-27 21l27-21-27-9-27 21z"/>
<path class="qjx" d="M5223 701l27-22-27-9-28 23zm-27 23l27-23-28-8-27 23z"/>
<path class="qx" d="M4177 710l25-34-20 5-25 34zm21-6l25-33-21 5-25 34zm21-5l25-32-21 4-25 33z"/>
<path class="qw" d="M4240 695l25-33-21 5-25 32zm21-5l25-32-21 4-25 33zm21-4l25-31-21 3-25 32zm22-3l25-32-22 4-25 31z"/>
<path class="qad" d="M4325 679l26-31-22 3-25 32zm22-3l26-31-22 3-26 31zm22-2l26-32-22 3-26 31zm22-3l26-31-22 2-26 32z"/>
<path class="qko" d="M4414 669l25-31-22 2-26 31zm22-2l26-31-23 2-25 31zm23-2l26-30-23 1-26 31zm23-1l26-31-23 2-26 30zm23-2l26-29-23 0-26 31z"/>
<path class="qkj" d="M4528 662l26-30-23 1-26 29zm24-1l26-29-24 0-26 30zm23 0l27-29-24 0-26 29zm24 0l26-29-23 0-27 29zm24 0l26-28-24-1-26 29zm24 1l27-29-25 0-26 28zm25 1l26-28-24-2-27 29z"/>
<path class="qke" d="M4696 665l27-29-25-1-26 28zm25 1l26-28-24-2-27 29zm25 2l26-28-25-2-26 28zm25 3l27-28-26-3-26 28zm25 2l27-27-25-3-27 28zm25 3l27-27-25-3-27 27zm26 4l27-27-26-4-27 27zm26 3l27-26-26-4-27 27zm26 5l27-27-26-4-27 26zm26 4l27-26-26-5-27 27zm26 5l27-26-26-5-27 26zm27 5l27-26-27-5-27 26zm27 5l27-25-27-6-27 26zm26 6l28-25-27-6-27 25zm28 6l27-25-27-6-28 25zm27 7l27-25-27-7-27 25zm27 7l28-25-28-7-27 25zm28 7l27-24-27-8-28 25zm28 8l27-24-28-8-27 24z"/>
<path class="qr" d="M4153 744l24-34-20 5-25 34zm-25 35l25-35-21 5-25 35z"/>
<path class="qx" d="M4173 738l25-34-21 6-24 34zm21-5l25-34-21 5-25 34zm21-5l25-33-21 4-25 34zm21-4l25-34-21 5-25 33z"/>
<path class="qw" d="M4257 719l25-33-21 4-25 34zm21-4l26-32-22 3-25 33zm22-3l25-33-21 4-26 32zm22-4l25-32-22 3-25 33zm22-3l25-31-22 2-25 32z"/>
<path class="qad" d="M4366 703l25-32-22 3-25 31zm22-3l26-31-23 2-25 32zm22-2l26-31-22 2-26 31zm23-2l26-31-23 2-26 31zm23-1l26-31-23 1-26 31z"/>
<path class="qko" d="M4479 693l26-31-23 2-26 31zm23-1l26-30-23 0-26 31zm23 0l27-31-24 1-26 30zm24-1l26-30-23 0-27 31zm24 0l26-30-24 0-26 30z"/>
<path class="qkj" d="M4597 691l26-30-24 0-26 30zm24 1l26-30-24-1-26 30zm24 1l27-30-25-1-26 30zm24 1l27-29-24-2-27 30zm25 1l27-29-25-1-27 29zm25 2l27-29-25-2-27 29zm25 2l27-28-25-3-27 29zm25 3l27-29-25-2-27 28z"/>
<path class="qke" d="M4794 705l27-29-25-3-27 29zm26 3l27-28-26-4-27 29zm26 3l27-28-26-3-27 28zm26 4l27-27-26-5-27 28zm26 4l27-27-26-4-27 27zm26 5l27-27-26-5-27 27zm27 5l27-27-27-5-27 27zm26 5l28-27-27-5-27 27zm27 6l27-27-26-6-28 27zm27 6l28-27-28-6-27 27zm27 6l28-26-27-7-28 27zm28 7l27-26-27-7-28 26zm27 7l28-26-28-7-27 26zm28 7l28-25-28-8-28 26z"/>
<path class="qr" d="M4148 773l25-35-20 6-25 35zm21-5l25-35-21 5-25 35zm21-5l25-35-21 5-25 35z"/>
<path class="qx" d="M4210 758l26-34-21 4-25 35zm22-4l25-35-21 5-26 34zm21-5l25-34-21 4-25 35zm21-4l26-33-22 3-25 34z"/>
<path class="qw" d="M4296 742l26-34-22 4-26 33zm22-4l26-33-22 3-26 34zm22-3l26-32-22 2-26 33zm22-2l26-33-22 3-26 32zm23-3l25-32-22 2-26 33z"/>
<path class="qad" d="M4407 728l26-32-23 2-25 32zm23-2l26-31-23 1-26 32zm23-1l26-32-23 2-26 31zm23-1l26-32-23 1-26 32zm23-1l26-31-23 0-26 32z"/>
<path class="qko" d="M4523 722l26-31-24 1-26 31zm23 0l27-31-24 0-26 31zm24 0l27-31-24 0-27 31zm24 0l27-30-24-1-27 31zm24 1l27-30-24-1-27 30zm25 1l26-30-24-1-27 30zm24 1l27-30-25-1-26 30z"/>
<path class="qkj" d="M4692 727l27-30-25-2-27 30zm25 2l27-30-25-2-27 30zm25 2l27-29-25-3-27 30zm25 3l27-29-25-3-27 29zm26 3l27-29-26-3-27 29zm26 3l27-29-26-3-27 29zm26 3l27-28-26-4-27 29zm26 4l27-28-26-4-27 28zm26 5l27-28-26-5-27 28zm26 4l28-27-27-5-27 28zm27 6l27-28-26-5-28 27zm27 5l27-27-27-6-27 28zm27 6l27-27-27-6-27 27zm27 6l27-27-27-6-27 27zm27 6l28-26-28-7-27 27zm28 7l27-26-27-7-28 26zm28 8l27-27-28-7-27 26z"/>
<path class="qq" d="M4103 814l25-35-21 5-24 36zm20-5l25-36-20 6-25 35zm21-6l25-35-21 5-25 36z"/>
<path class="qr" d="M4164 798l26-35-21 5-25 35zm21-5l25-35-20 5-26 35zm21-4l26-35-22 4-25 35zm22-5l25-35-21 5-26 35z"/>
<path class="qx" d="M4249 780l25-35-21 4-25 35zm22-4l25-34-22 3-25 35zm21-3l26-35-22 4-25 34zm22-4l26-34-22 3-26 35z"/>
<path class="qw" d="M4336 766l26-33-22 2-26 34zm23-3l26-33-23 3-26 33zm22-2l26-33-22 2-26 33zm23-2l26-33-23 2-26 33zm23-2l26-32-23 1-26 33zm23-1l26-32-23 1-26 32z"/>
<path class="qad" d="M4473 755l26-32-23 1-26 32zm23-1l27-32-24 1-26 32zm24 0l26-32-23 0-27 32zm24 0l26-32-24 0-26 32zm24 0l26-32-24 0-26 32zm24 0l26-31-24-1-26 32z"/>
<path class="qko" d="M4616 755l27-31-25-1-26 31zm25 1l26-31-24-1-27 31zm24 1l27-30-25-2-26 31zm25 2l27-30-25-2-27 30zm25 2l27-30-25-2-27 30zm25 3l27-30-25-3-27 30zm26 2l27-29-26-3-27 30zm25 3l28-29-26-3-27 29z"/>
<path class="qkj" d="M4817 773l28-30-26-3-28 29zm26 4l28-30-26-4-28 30zm26 4l28-29-26-5-28 30zm27 4l27-29-26-4-28 29zm26 5l28-28-27-6-27 29zm27 5l28-28-27-5-28 28zm27 6l28-28-27-6-28 28zm27 6l28-28-27-6-28 28zm28 6l27-28-27-6-28 28zm27 7l28-28-28-7-27 28zm28 7l28-27-28-8-28 28z"/>
</g>
<g font-size="9.8" fill="#333"><text transform="translate(1012.0,286.1) scale(.935,1)" text-anchor="end">24.00</text><text transform="translate(1022.0,286.1) scale(.935,1)">6.00</text><text transform="translate(962.8,270.3) scale(.935,1)" text-anchor="end">36.00</text><text transform="translate(1071.2,270.3) scale(.935,1)">6.50</text><text transform="translate(913.5,254.6) scale(.935,1)" text-anchor="end">48.00</text><text transform="translate(1120.4,254.6) scale(.935,1)">7.00</text><text transform="translate(864.2,238.8) scale(.935,1)" text-anchor="end">60.00</text><text transform="translate(1169.6,238.8) scale(.935,1)">7.50</text><text transform="translate(815.0,223.1) scale(.935,1)" text-anchor="end">72.00</text><text transform="translate(1218.8,223.1) scale(.935,1)">8.00</text><text transform="translate(802.5,43.9) scale(.935,1)" text-anchor="end">0.45</text><text transform="translate(804.9,78.1) scale(.935,1)" text-anchor="end">0.4125</text><text transform="translate(807.3,112.3) scale(.935,1)" text-anchor="end">0.375</text><text transform="translate(809.7,146.6) scale(.935,1)" text-anchor="end">0.3375</text><text transform="translate(812.1,180.8) scale(.935,1)" text-anchor="end">0.3</text></g>
<text class="ttl" x="841.5" y="276.1" text-anchor="middle" textLength="114.0" lengthAdjust="spacingAndGlyphs">C: Incubation Time</text>
<text class="ttl" x="1190.8" y="276.1" text-anchor="middle" textLength="34.5" lengthAdjust="spacingAndGlyphs">A: pH</text>
<text class="ttl" transform="translate(746.9,128.0) rotate(-90)" text-anchor="middle" textLength="54.5" lengthAdjust="spacingAndGlyphs">Sqrt(R1)</text>
<text class="cap" x="993.0" y="363.5" text-anchor="middle">(b)</text>
</g>
<g id="pc">
<path d="M1553.5,33.2 L1758.5,1.2 L1963.5,33.8 M1758.5,1.2 L1758.5,168.8 M1963.5,33.8 L1951.0,219.2" fill="none" stroke="#7c7c7c" stroke-width="1"/>
<path d="M1566.0,219.2 L1758.5,168.8 L1951.0,219.2 L1758.5,283.8 Z" fill="#ffff00" stroke="none"/>
<path d="M1566.0,219.2 L1758.5,168.8 L1951.0,219.2" fill="none" stroke="#8a8a3a" stroke-width="0.8"/>
<path d="M1587.8 213.5l3 0 3.9.1 4 0 3.7.1 3.6 0 3.6.1 3.6 0 3.6.1 1.8 0 1.8 0 2.2.1 4.1.1 4.1 0 3.8.1 3.5.1 3.5.1 1.5 0 2 .1 2.2 0 4.2.2 3.9.1 3.5.1 3.3.1 2.1.1 4.3.2 3.7.1 3.3.2 2 .1 4.5.2 3.2.2 1.5.1 1.6 0 3.1.2 3.2.2 1.8.2 4.3.3 3 .2 2.9.3 2.9.2 2.8.3 2.9.3 2.7.3 2.7.4 2.7.3 1.9.3 3.2.5 2.5.4 2.4.4 2.3.5 2.2.4 2.2.5 2.1.5 2.1.6 1.9.5 1.9.6 1.8.7 1.8.6 1.6.7 1.6.7 1.5.7 1.4.7 1.3.8 1.1.7 1.4 1 1.1.8 1.1.9 1 .9 .9.9 .8 1 .8 1 .7 1 .7 1 .6 1.1 .6 1 .5 1.1 .5 1.1 .4 1.2 .4 1.1 .5 2 .3 1.4 .2 1.3 .2 1.3 .3 2.6 .1 2.6 0 1.5 0 2.6-.2 2.6-.1 1.5-.1 1.5-.1 1.4-.2 1.4-.2 1.5-.2 1.5-.2 1.5-.2 1.5-.3 1.5-.2 1.3-.3 1.4 0 .4M1902.6 206.6l-3.6.1-3.5.1-3.5 0-3.5.1-1.6 0-1.8.1-2.2 0-4 .1-4.1.1-3.5.1-3.4.1-3.4.1-2.1 0-4.3.2-3.5.1-3.2.2-2.1.1-4.1.2-3 .2-2.7.3-2.8.3-2.6.3-2.3.4-2.2.4-2 .5-1.8.6-1.5.6-1.4.7-1.3.7-1.1.7-.9.8-1 .8-.8.9-.8.8-.7.9-.9 1.4-.9 1.4-.9 1.5-.8 1.3-.5 1-.5 1-.5 1-.5 1-.9 1.9-.6 1.1-.7 1.7-.6 1.3-.5 1.1-.8 2-.5 1.1-.5 1.1-.4 1.1-.5 1-.6 1.5-.6 1.5-.5 1.4-.5 1.1-.8 2-.5 1.3-.7 1.7-.6 1.6-.5 1.2-.4 1.1-.5 1.2-.8 2.3-.5 1.2-.9 2.3-.5 1.2-.4 1.2-.5 1.2-.4 1.2-.5 1.2-.4 1.2-.5 1.2-.5 1.2 0 .1M1606.3 208.6l3.2 0 3.6 0 3.7-.1 3.6 0 1.7 0 1.9-.1 2 0 1.7 0 2.2 0 4-.1 3.9 0 3.9-.1 4 0 3.7 0 3.6-.1 3.7 0 3.6-.1 3.6 0 3.6-.1 1.8 0 1.8 0 2.1 0 1.5 0 2.5-.1 3.9 0 3.9-.1 4 0 3.7-.1 3.6 0 3.6-.1 3.6 0 3.6-.1 1.7 0 1.9 0 2 0 1.5-.1 2.5 0 4-.1 3.9 0 3.9-.1 3.5 0 3.5-.1 3.6-.1 1.5 0 2 0 2.1-.1 4-.1 4.1 0 3.7-.1 3.5-.1 3.4-.1 1.7-.1 1.7 0 2.5-.1 4.1-.1 3.3-.2 3.2-.1 2.6-.1 3.7-.3 3-.2 2.8-.2 2.8-.3 2.5-.3 1.6-.3 3-.5 2-.5 1.8-.5 1.6-.6 1.3-.6 1.3-.7 1.1-.7 1-.7 .9-.8 .8-.8 .7-.8 1.3-1.6 1.2-1.6 .8-1.4 .7-1.1 .8-1.4 .6-1.2 .6-1.2 .6-1.2 .5-.9M1933.9 214.9l-2.8.2-2.6.3-3 .3-2.5.2-3 .3-2.7.3-2.7.3-2.6.3-2.7.4-2.5.3-1.9.3-3.2.4-2.4.4-1.6.3-3.2.5-2.3.4-2.3.4-2.3.5-2.2.4-2.1.5-2.2.5-2 .4-2.1.6-1.9.5-2 .5-1.9.6-1.8.5-1.8.6-1.8.6-1.7.6-1.7.7-1.6.6-1.6.7-1.6.6-1.5.7-1.5.7-1.4.7-1.4.8-1.4.7-1.3.8-1.3.7-1.3.8-1.2.8-1.2.8-1.2.8-1.2.9-1.1.8-1.1.9-1.1.8-1 .9-1.1.9-1 .9-1 .9-.9.9-1 .9-.9 1-.9.9-.9 1-.9.9-.9 1-.9 1-.8 1-.8 1-.9 1-.8 1-.8 1.1-.8 1-.7 1-.8 1.1-.8 1.1-.7 1-.3.5M1627.4 203.1l1.8 0 2.5-.1 4.1-.2 3.2-.1 1.5-.1 1.8-.1 2.7-.1 3.8-.2 3.2-.1 1.9-.1 4.5-.2 3.2-.2 3.2-.1 2.8-.2 3.5-.2 3.1-.1 2.8-.2 3.3-.2 1.5-.1 1.6-.1 3-.2 3-.2 2.2-.1 3.8-.3 2.9-.2 2.9-.3 2.9-.2 2.8-.2 2.9-.3 2.7-.2 2.8-.3 2.7-.3 2.7-.3 2.7-.2 2.6-.3 2.6-.3 2.4-.3 2.6-.4 2.5-.3 2.1-.3 2.7-.4 2.4-.4 2.2-.4 2.3-.4 2.2-.4 2.2-.4 2.1-.4 2-.4 2.1-.5 1.9-.4 2-.5 1.8-.5 1.9-.5 1.8-.4 1.7-.6 1.7-.5 1.2-.4 2.1-.6 1.5-.6 1.5-.5 1.5-.6 1.5-.6 1.4-.6 1.3-.5 1.3-.6 1.3-.6 1.3-.7 1.2-.6 1.2-.6 1.1-.6 1.2-.7 1-.6 1.1-.6M1940.7 222.8l-2.5.3-2.4.4-2.2.4-2.7.4-2.4.4-2.3.4-2.4.4-2.3.5-2.2.4-2.3.5-2.2.4-2.1.5-2.2.5-2.1.5-2.1.5-2 .5-1.4.4-2.6.7-2 .5-1.9.6-1.9.6-1.9.5-1.8.6-1.8.6-1.7.7-1.8.6-1.7.6-1.6.7-1.7.7-1.6.6-1.6.7-1.6.7-1.5.7-1.5.8-1.5.7-1.4.7-1.4.8-1.4.8-1.4.7-1.4.8-1.3.8-1.3.8-1.3.9-1.2.8-1.3.8-1.2.9-.9.6M1652.9 196.4l2-.1 2.9-.2 2.9-.3 2.7-.2 3-.2 2.4-.3 3.2-.2 2.4-.3 3.1-.3 2.6-.2 2.8-.3 2.7-.3 2.6-.3 2.7-.3 1.5-.1 3.6-.5 2.6-.3 2.5-.3 2.5-.3 2.4-.4 2.5-.3 2.4-.3 2.3-.4 2.3-.4 2.3-.3 2.3-.4 2.2-.4 2.3-.4 2.1-.4 2.2-.4 2.1-.4 2-.4 2.1-.4 2-.5 1.9-.4 2-.5 1.9-.4 1.8-.5 1.9-.5 1.8-.4 1.7-.5 1.8-.5 1.7-.5 1.6-.5 1.7-.5 1.2-.4 2-.7 1.5-.5 1.5-.5 1.5-.6 1.4-.5 1.5-.6 1.4-.5 1.3-.6 1.4-.6 1.3-.5 1.2-.6 1.3-.6M1690 186.7l2.9-.4 2.4-.4 2.3-.3 2.2-.4 2.3-.4 2.2-.4 2.2-.4 2.1-.4 2.2-.3 2.1-.5 2-.4 2.1-.4 2-.4 2-.4 2-.5 1.9-.4 1.7-.4 2.1-.5 1.8-.5 1.9-.4 1.8-.5 1.7-.5 1.8-.4 1.7-.5 1.7-.5 1.6-.5 1.7-.5 1.6-.5 1.6-.5 1.5-.5 1.6-.5 1.5-.6 1.4-.5 1.5-.5 1.4-.5 1.4-.6 1.4-.5 1.4-.6" fill="none" stroke="#ff6200" stroke-width="1.1"/>
<path d="M1553.5,33.2 L1566.0,219.2 L1758.5,283.8 L1951.0,219.2" fill="none" stroke="#555" stroke-width="1.1"/>
<circle cx="1758.5" cy="283.8" r="1.3" fill="#000"/>
<circle cx="1710.4" cy="267.6" r="1.3" fill="#000"/>
<circle cx="1662.2" cy="251.5" r="1.3" fill="#000"/>
<circle cx="1614.1" cy="235.4" r="1.3" fill="#000"/>
<circle cx="1566.0" cy="219.2" r="1.3" fill="#000"/>
<circle cx="1806.6" cy="267.6" r="1.3" fill="#000"/>
<circle cx="1854.8" cy="251.5" r="1.3" fill="#000"/>
<circle cx="1902.9" cy="235.4" r="1.3" fill="#000"/>
<circle cx="1951.0" cy="219.2" r="1.3" fill="#000"/>
<circle cx="1553.5" cy="33.2" r="1.3" fill="#000"/>
<circle cx="1555.9" cy="68.7" r="1.3" fill="#000"/>
<circle cx="1558.2" cy="104.1" r="1.3" fill="#000"/>
<circle cx="1560.6" cy="139.6" r="1.3" fill="#000"/>
<circle cx="1563.0" cy="175.0" r="1.3" fill="#000"/>
<g transform="scale(0.2)" stroke="#000" stroke-linejoin="round">
<path class="qlb" d="M8793 55l21 1-21-26-22-2zm-22 0l22 0-22-27-22 0zm-22 0l22 0-22-27-22 0zm-22 1l22-1-22-27-22 1zm-22 2l22-2-22-27-22 2zm-22 2l22-2-22-27-22 3zm-23 3l23-3-22-26-22 3zm-22 4l22-4-21-26-23 4zm-23 5l23-5-22-26-23 4zm-22 5l22-5-22-27-22 6zm-23 7l23-7-22-26-23 6zm-23 6l23-6-22-27-23 7zm-23 8l23-8-22-26-23 8zm-23 9l23-9-22-26-23 8zm-24 9l24-9-22-27-24 9z"/>
<path class="qlc" d="M8454 126l23-10-22-27-23 10zm-23 11l23-11-22-27-24 11zm-24 11l24-11-23-27-23 12zm-24 13l24-13-22-26-24 12zm-23 13l23-13-22-27-23 13zm-24 14l24-14-22-27-24 14zm478-107l22 1-22-26-21-1zm22 24l22 2-22-25-22-1zm-43-25l21 1-21-26-22 0zm22 25l21 0-22-24-21-1zm-44-24l22-1-22-25-22 0zm22 24l22 0-22-25-22 1zm-44-23l22-1-22-26-22 1zm22 24l22-1-22-24-22 1zm-44-23l22-1-22-26-22 2zm22 25l22-2-22-24-22 1z"/>
<path class="qld" d="M8858 129l22 1-22-23-22-2zm22 23l21 1-21-23-22-1zm22 22l21 1-22-22-21-1zm-66-45l22 0-22-24-21 0zm22 23l22 0-22-23-22 0zm22 21l22 1-22-22-22 0zm-568 29l24-14-22-27-24 15zm-24 16l24-16-22-26-24 16zm-24 16l24-16-22-26-24 16zm-24 17l24-17-22-26-24 17z"/>
<path class="qle" d="M8216 269l24-18-22-26-25 18zm-25 20l25-20-23-26-24 19zm-24 20l24-20-22-27-24 20zm757-114l21 1-22-21-21-1zm22 21l21 1-22-21-21-1zm-44-22l22 1-22-21-22-1zm23 21l21 1-22-21-22-1z"/>
<path class="qgp" d="M8968 235l22 2-23-20-21-1zm23 19l21 2-22-19-22-2zm-44-19l21 0-22-19-21-1zm22 18l22 1-23-19-21 0zm-826 77l24-21-22-27-25 21zm-25 22l25-22-23-27-24 22z"/>
<path class="qha" d="M8094 374l24-22-22-27-24 22zm-25 24l25-24-22-27-25 24zm944-126l21 1-22-17-21-2zm22 17l22 1-23-17-21-1zm-43-18l21 1-22-18-22-1zm22 17l21 1-22-17-21-1z"/>
<path class="qlb" d="M8705 86l22-3-22-25-22 2zm-23 3l23-3-22-26-23 3zm-22 4l22-4-22-26-22 4zm-23 4l23-4-22-26-23 5zm-22 6l22-6-22-25-22 5z"/>
<path class="qlc" d="M8592 109l23-6-22-26-23 7zm-23 7l23-7-22-25-23 6zm-23 8l23-8-22-26-23 8zm-23 8l23-8-22-26-23 9zm-23 9l23-9-22-25-24 9zm-24 10l24-10-23-25-23 10zm-23 11l23-11-22-25-23 11zm-24 12l24-12-22-25-24 11zm-23 12l23-12-22-26-24 13zm321-76l22-2-22-25-22 3zm-23 4l23-4-22-24-23 3zm-22 3l22-3-22-25-22 4zm-23 5l23-5-22-24-23 4zm-22 5l22-5-22-25-22 6zm-23 7l23-7-22-24-23 6zm-23 6l23-6-22-25-23 7zm-23 8l23-8-22-24-23 8zm-23 9l23-9-22-24-23 8zm-23 9l23-9-22-25-23 9zm-24 10l24-10-22-25-24 10zm317-47l21 0-21-24-22 0zm-22 1l22-1-22-24-22 1zm-22 2l22-2-22-24-22 2zm-22 2l22-2-22-24-22 2zm-23 3l23-3-22-24-23 4zm-22 4l22-4-22-23-22 3zm-23 5l23-5-22-24-23 5zm-22 5l22-5-22-24-22 5zm-23 6l23-6-22-24-23 7zm-23 7l23-7-22-23-23 6z"/>
<path class="qld" d="M8590 172l23-8-22-24-23 8zm-23 8l23-8-22-24-23 9zm-23 9l23-9-22-23-23 9zm-23 10l23-10-22-23-24 10zm316-47l21 0-22-23-21 0zm22 22l21-1-22-21-21 0zm-44-21l22-1-22-23-22 1zm22 22l22-1-22-22-22 1zm-44-21l22-1-22-23-22 2zm22 22l22-1-22-22-22 1zm-44-19l22-3-22-22-22 2zm22 22l22-3-22-22-22 3zm-45-19l23-3-22-23-23 3zm23 22l22-3-22-22-23 3zm-45-18l22-4-22-23-22 4zm22 22l23-4-23-22-22 4zm-44-18l22-4-22-23-23 5zm22 22l22-4-22-22-22 4zm-45-16l23-6-23-22-22 5zm22 21l23-5-22-22-23 6zm-45-15l23-6-22-23-23 6zm22 21l23-6-22-21-23 6zm-45-14l23-7-22-23-23 7zm23 21l22-7-22-21-23 7zm-46-14l23-7-22-23-23 8zm23 22l23-8-23-21-23 7zm-46-13l23-9-22-22-23 8zm23 21l23-8-23-22-23 9zm-46-12l23-9-22-23-23 9zm22 21l24-9-23-21-23 9zm-45-11l23-10-22-23-23 10zm-68-36l23-10-22-25-23 11zm22 24l24-11-23-23-23 10zm22 22l24-10-22-23-24 11zm-68-34l24-12-22-24-24 12zm23 23l23-11-22-24-24 12zm22 23l23-12-22-22-23 11zm-68-34l23-12-22-24-23 12zm22 24l24-13-23-23-23 12zm-68-35l24-13-23-25-23 13zm22 24l24-13-22-24-24 13zm22 24l24-13-22-24-24 13zm-68-34l24-14-22-25-24 14zm22 24l24-14-22-24-24 14zm-46-9l24-15-22-25-24 14zm22 24l24-15-22-24-24 15zm-46-9l24-15-22-26-24 16zm-24 17l24-17-22-25-24 16z"/>
<path class="qle" d="M8262 277l24-17-22-26-24 17zm-24 18l24-18-22-26-24 18zm-24 20l24-20-22-26-25 20zm118-47l24-16-22-24-24 15zm-24 16l24-16-22-25-24 17zm-24 18l24-18-22-24-24 17zm119-41l23-14-22-24-24 14zm-24 15l24-15-23-24-24 15zm-24 16l24-16-23-24-24 16zm-24 16l24-16-23-24-24 16zm141-52l24-12-22-23-24 13zm-23 13l23-13-22-22-24 13zm-24 15l24-15-23-22-23 14zm-24 15l24-15-22-23-24 15zm164-56l23-10-22-21-23 10zm-23 11l23-11-22-21-24 10zm-24 12l24-12-23-22-23 12zm-23 12l23-12-22-22-24 12zm-24 14l24-14-23-22-23 13zm-24 14l24-14-22-23-24 15zm434-111l21-1-22-21-21 1zm22 20l22 0-23-21-21 1zm-44-20l22 0-22-21-22 1zm22 21l22-1-22-20-22 0zm-44-19l22-2-22-20-22 1zm22 20l22-1-22-21-22 2z"/>
<path class="qgp" d="M8925 235l22 0-22-20-22 0zm23 18l21 0-22-18-22 0zm22 18l22 0-23-18-21 0zm-546 50l23-15-22-22-24 15zm-47-6l24-16-22-23-24 16zm23 22l24-16-23-22-24 16zm-47-6l24-16-22-23-24 16zm23 22l24-16-23-22-24 16zm-69-27l24-18-23-24-24 18zm22 23l24-18-22-23-24 18zm-69-29l24-18-22-25-24 18zm23 24l24-18-23-24-24 18zm-47-4l24-20-22-25-24 20zm-47-5l25-20-23-26-24 20zm23 25l24-20-22-25-25 20zm-47-4l24-21-22-26-24 21z"/>
<path class="qha" d="M8187 381l25-21-23-25-24 21zm-46-3l24-22-22-26-25 22zm22 25l24-22-22-25-24 22zm-47-3l25-22-23-26-24 22zm142-36l25-20-23-24-24 20zm-24 20l24-20-22-24-24 20zm-24 21l24-21-22-24-25 21zm95-38l24-18-22-23-24 18zm-24 20l24-20-22-23-25 20zm70-16l25-18-23-22-24 18zm-24 18l24-18-22-22-24 18zm666-102l21 1-22-17-22 0z"/>
<path class="qhl" d="M8303 409l24-20-22-22-24 20zm-47-2l25-20-23-23-24 20zm23 22l24-20-22-22-25 20zm-47-1l24-21-22-23-24 21zm-47-1l25-22-23-24-24 22zm23 22l24-21-22-23-25 22zm-70-24l25-22-22-25-25 22zm23 24l24-22-22-24-25 22zm-69-25l24-24-22-26-25 24zm22 25l24-24-22-25-24 24zm-69-27l24-24-22-27-25 24zm22 26l25-24-23-26-24 24zm-47 0l25-26-23-27-24 26z"/>
<path class="qif" d="M8042 474l25-26-22-26-25 26zm-47 0l25-26-22-27-25 26zm94-1l25-24-22-25-25 24zm47 0l25-24-23-24-24 24zm47-1l25-23-23-22-24 22zm71-22l25-21-23-22-24 21zm-24 21l24-21-22-22-24 21zm-25 23l25-23-22-22-25 23z"/>
<path class="qih" d="M8159 496l24-24-22-23-25 24zm22 22l24-24-22-22-24 24zm-69-21l24-24-22-24-25 24zm22 24l25-25-23-23-24 24zm-69-22l24-26-22-25-25 26zm22 24l25-26-23-24-24 26zm-69-23l24-26-22-26-25 26zm22 25l25-26-23-25-24 26zm-69-24l24-27-22-27-24 27zm22 27l25-28-23-26-24 27zm-47 2l25-29-22-27-25 28z"/>
<path class="qip" d="M7968 556l25-28-22-27-25 29zm-47 3l25-29-22-28-25 29zm23 26l24-29-22-26-25 29zm71-32l25-28-22-25-25 28zm-24 28l24-28-22-25-25 28zm71-31l25-27-22-24-25 26zm-24 27l24-27-22-25-25 28zm71-31l25-25-22-24-25 26zm-24 27l24-27-22-23-25 27zm71-30l25-25-22-22-25 25zm-24 26l24-26-22-22-25 25z"/>
<path class="qiw" d="M8107 595l25-26-23-23-24 27zm-47 6l25-28-23-23-24 27zm22 22l25-28-22-22-25 28zm-69-17l25-29-23-24-24 28zm22 23l25-28-22-24-25 29zm-69-18l25-30-23-25-24 29zm-69-22l24-30-22-28-24 31zm22 27l25-31-23-26-24 30zm-47 4l25-31-22-27-25 31z"/>
<path class="qje" d="M7894 647l25-31-22-27-25 31zm-47 5l25-32-22-27-25 32zm94-11l25-30-22-26-25 31zm-25 31l25-31-22-25-25 31zm72-37l25-29-22-25-25 30zm23 24l24-30-22-23-25 29zm-48 6l25-30-22-24-25 30zm95-14l24-28-22-22-25 28z"/>
<path class="qjg" d="M8033 681l25-30-23-22-24 30zm-47 8l25-30-23-24-25 30zm22 22l25-30-22-22-25 30zm-69-15l24-31-22-24-25 31zm-70-17l25-32-22-27-25 32zm23 25l24-32-22-25-25 32zm-69-19l24-33-22-27-25 33zm22 27l24-33-22-27-24 33z"/>
<path class="qjn" d="M7867 737l25-33-23-25-24 33zm47-8l25-33-23-24-24 32zm-25 33l25-33-22-25-25 33zm72-42l25-31-23-24-24 31zm22 22l25-31-22-22-25 31zm-47 10l25-32-22-24-25 33z"/>
<path class="qjx" d="M7958 775l25-33-22-22-25 32zm-47 11l25-34-22-23-25 33zm23 22l24-33-22-23-25 34z"/>
<path class="qld" d="M8815 199l22-2-22-21-22 3zm-22 3l22-3-22-20-22 3zm-23 4l23-4-22-20-23 4zm-22 5l22-5-22-20-22 4zm-23 5l23-5-22-21-23 5z"/>
<path class="qle" d="M8703 222l22-6-22-21-23 6zm-23 7l23-7-23-21-22 7zm-23 8l23-8-22-21-23 8zm-23 8l23-8-22-21-23 8zm-23 9l23-9-22-21-24 9zm-23 10l23-10-23-21-23 10zm-24 11l24-11-23-21-23 11zm-23 12l23-12-22-21-24 12zm-24 12l24-12-23-21-23 12zm320-80l22-2-22-20-22 2zm-22 3l22-3-22-20-22 3zm-22 4l22-4-22-20-23 4zm-23 5l23-5-23-20-22 5zm-22 5l22-5-22-20-23 5zm-23 6l23-6-23-20-22 6zm-23 7l23-7-22-20-23 7zm-23 8l23-8-22-20-23 8zm-23 8l23-8-22-20-23 8zm-23 9l23-9-22-20-23 9zm-23 10l23-10-22-20-23 10zm293-49l22 0-22-20-22 1zm-21 2l21-2-22-19-22 1zm-22 2l22-2-23-20-22 2zm-23 3l23-3-23-20-22 3zm-22 4l22-4-22-20-22 4zm-22 4l22-4-22-20-23 5zm-23 5l23-5-23-19-22 5zm-22 6l22-6-22-19-23 6zm-23 7l23-7-23-19-23 7zm-23 8l23-8-23-19-23 8zm-23 8l23-8-23-19-23 8z"/>
<path class="qgp" d="M8656 293l23-9-23-19-23 9zm-23 11l23-11-23-19-23 10zm293-50l22-1-23-18-22 0zm22 17l22 0-22-18-22 1zm-44-16l22-1-23-19-21 2zm22 18l22-2-22-17-22 1zm-44-16l22-2-22-18-22 2zm23 18l21-2-22-18-22 2zm-45-15l22-3-22-18-23 3zm22 18l23-3-23-18-22 3zm-44-14l22-4-23-18-22 4zm22 17l22-3-22-18-22 4zm-45-13l23-4-23-18-22 4zm23 18l22-5-22-17-23 4zm-45-12l22-6-22-18-23 5zm22 17l23-5-23-18-22 6zm-45-11l23-6-23-19-22 6zm23 17l22-6-22-17-23 6zm-46-10l23-7-22-19-23 7zm23 17l23-7-23-17-23 7zm-45-10l22-7-22-19-23 8zm22 17l23-7-23-17-22 7zm-45-8l23-9-23-18-23 8zm22 17l23-9-22-17-23 9zm-46-8l24-9-23-19-23 9zm23 17l23-9-22-17-24 9zm-46-7l23-10-22-19-23 11zm-68-27l23-11-22-20-24 11zm22 19l24-10-23-20-23 11zm23 19l23-11-22-18-24 10zm-69-26l24-12-23-20-23 12zm23 19l23-12-22-19-24 12zm-46-7l23-12-22-20-24 12zm22 20l24-13-23-19-23 12zm-68-26l23-14-22-21-24 14zm22 20l24-14-23-20-23 14zm-46-6l24-14-23-21-24 14zm22 20l24-14-22-20-24 14zm-46-5l24-15-23-21-23 15z"/>
<path class="qha" d="M8468 362l24-15-22-20-24 15zm-46-4l24-16-22-21-24 16zm23 20l23-16-22-20-24 16zm-47-4l24-16-22-21-24 16zm23 20l24-16-23-20-24 16zm-47-2l24-18-22-21-25 18zm165-40l23-13-22-20-24 14zm-24 14l24-14-23-19-24 14zm-24 15l24-15-23-19-24 15zm117-37l24-11-23-19-23 12zm-23 13l23-13-22-18-24 13zm-24 13l24-13-23-18-23 13zm-23 14l23-14-22-18-24 14zm140-45l23-10-23-17-23 10zm-23 11l23-11-23-17-23 11zm-24 11l24-11-23-17-24 11zm-23 13l23-13-23-17-23 13zm-24 13l24-13-23-17-24 13zm387-99l22-1-23-16-22 0zm-22 1l22-1-23-17-22 2z"/>
<path class="qhl" d="M8560 401l24-14-23-17-23 14zm-46-2l24-15-23-18-24 15zm22 17l24-15-22-17-24 15zm-69-19l24-16-23-19-23 16zm23 18l24-16-23-18-24 16zm23 17l23-16-22-17-24 16zm-70-19l24-16-22-19-24 16zm23 18l24-16-23-18-24 16zm-70-19l25-18-23-20-24 18zm23 19l24-18-22-19-25 18zm-69-21l24-18-23-21-24 18zm22 20l24-18-22-20-24 18zm-46 0l24-20-23-21-24 20z"/>
<path class="qif" d="M8348 449l24-19-22-20-24 20zm-47 1l25-20-23-21-24 20zm23 19l24-20-22-19-25 20zm-47 1l24-20-22-21-25 21zm22 20l25-21-23-19-24 20zm-47 2l25-22-23-20-24 21zm143-43l24-18-23-19-24 18zm-24 19l24-19-23-19-24 19zm-25 20l25-20-23-19-24 20zm96-39l24-18-23-18-24 18zm-25 18l25-18-23-18-24 18zm-24 19l24-19-22-18-24 19zm95-38l25-16-23-17-24 16zm-24 18l24-18-22-17-24 18zm-24 18l24-18-22-17-25 18z"/>
<path class="qih" d="M8416 503l24-19-23-17-24 19zm-47 3l24-20-22-18-25 20zm23 18l24-21-23-17-24 20zm-70-14l24-22-22-19-25 21zm23 18l24-22-23-18-24 22zm-70-15l24-23-22-20-25 22zm22 19l25-22-23-20-24 23zm-69-17l24-23-22-21-25 23zm22 21l25-23-23-21-24 23zm-47 3l25-24-23-21-24 24z"/>
<path class="qip" d="M8226 560l24-24-22-21-25 24zm-47 4l24-25-22-21-25 25zm22 21l25-25-23-21-24 25zm72-30l24-23-22-19-25 23zm-25 24l25-24-23-19-24 24zm72-29l25-22-23-18-25 22zm-24 23l24-23-23-18-24 23zm71-28l25-21-23-18-24 22zm-24 22l24-22-22-17-25 22z"/>
<path class="qiw" d="M8318 590l25-23-23-17-24 23zm-47 7l25-24-23-18-25 24zm23 17l24-24-22-17-25 24zm-70-10l24-25-22-19-25 25zm22 18l25-25-23-18-24 25zm-92-32l25-26-23-21-24 26zm23 20l24-25-22-21-25 26zm22 19l25-25-23-19-24 25zm-70-12l25-27-22-21-25 26z"/>
<path class="qje" d="M8152 637l25-27-23-20-25 27zm22 19l25-27-22-19-25 27zm-69-12l24-27-22-22-25 28zm22 20l25-27-23-20-24 27zm-47 9l25-29-23-21-24 28zm142-25l24-26-22-18-25 25zm-25 26l25-26-23-19-25 27zm72-35l25-25-23-17-25 25zm-25 26l25-26-23-17-24 26z"/>
<path class="qjg" d="M8219 691l25-26-22-17-25 26zm-117 2l25-29-22-20-25 29zm-47 9l25-29-22-22-25 30zm23 20l24-29-22-20-25 29zm72-38l24-28-22-19-25 27zm22 18l25-28-23-18-24 28zm23 17l24-28-22-17-25 28zm-70-7l25-28-23-20-25 29z"/>
<path class="qjn" d="M8147 730l25-28-22-18-25 28zm23 17l25-28-23-17-25 28zm-70-5l25-30-23-19-24 29zm22 18l25-30-22-18-25 30zm-92-28l25-30-22-21-25 30zm23 21l25-31-23-20-25 30zm-47 11l24-32-22-21-25 31z"/>
<path class="qjx" d="M8028 784l25-31-23-21-24 32zm-47 12l25-32-23-22-25 33zm94-24l25-30-22-20-25 31zm22 18l25-30-22-18-25 30zm-47 14l25-32-22-19-25 31zm95-27l25-30-23-17-25 30zm-25 31l25-31-23-17-25 30z"/>
<path class="qke" d="M8073 822l24-32-22-18-25 32zm22 17l25-31-23-18-24 32zm-92-22l25-33-22-20-25 32zm22 19l25-32-22-20-25 33zm23 18l25-32-23-18-25 32zm-92-25l25-33-23-21-24 33zm22 21l25-33-22-21-25 33z"/>
<path class="qkj" d="M8000 869l25-33-22-19-25 33zm23 18l25-33-23-18-25 33zm47-16l25-32-22-17-25 32zm-25 33l25-33-22-17-25 33z"/>
<path class="qgp" d="M8927 291l22-2-23-16-21 2zm-22 3l22-3-22-16-23 3zm-22 4l22-4-23-16-22 3zm-22 4l22-4-23-17-22 5zm-23 5l23-5-23-16-23 5zm-23 6l23-6-23-16-22 6zm-22 7l22-7-22-16-23 7z"/>
<path class="qha" d="M8770 328l23-8-23-16-23 7zm-23 8l23-8-23-17-23 9zm-23 9l23-9-23-16-23 9zm-23 10l23-10-23-16-23 10zm-24 11l24-11-23-16-23 11zm-23 11l23-11-22-16-24 11z"/>
<path class="qhl" d="M8630 390l24-13-23-16-23 13zm-23 13l23-13-22-16-24 13zm-24 14l24-14-23-16-24 14zm-24 15l24-15-23-16-24 15z"/>
<path class="qgz" d="M9058 304l21 2-22-16-22-1z"/>
<path class="qha" d="M9037 303l21 1-23-15-21-1zm-22 0l22 0-23-15-21-1zm-21 1l21-1-22-16-22 1zm-22 1l22-1-23-16-22 1zm-22 2l22-2-23-16-22 2zm-22 3l22-3-23-16-22 3zm-22 3l22-3-23-16-22 4zm-23 5l23-5-23-15-22 4zm-22 5l22-5-22-16-23 5zm-23 6l23-6-23-16-23 6zm-22 6l22-6-23-16-22 7zm-23 8l23-8-23-15-23 8zm-23 8l23-8-23-15-23 8zm-23 9l23-9-23-15-23 9zm-23 10l23-10-23-15-23 10zm-24 11l24-11-23-15-24 11z"/>
<path class="qhl" d="M8677 392l23-11-23-15-23 11zm-24 13l24-13-23-15-24 13zm-23 13l23-13-23-15-23 13zm-24 14l24-14-23-15-24 14z"/>
<path class="qif" d="M8582 447l24-15-23-15-24 15zm-47 1l24-16-23-16-23 16zm23 14l24-15-23-15-24 16zm-47 2l24-16-22-16-25 16zm23 15l24-17-23-14-24 16zm-47 3l24-18-23-16-24 18z"/>
<path class="qih" d="M8510 496l24-17-23-15-24 18zm-47 4l24-18-23-16-24 18zm23 15l24-19-23-14-24 18zm-47 4l24-19-23-16-24 19zm23 15l24-19-23-15-24 19zm-48 6l25-21-23-16-24 21z"/>
<path class="qip" d="M8437 555l25-21-23-15-25 21zm-47 6l24-21-22-16-25 21zm23 15l24-21-23-15-24 21zm-48 7l25-22-23-16-24 22z"/>
<path class="qiw" d="M8388 598l25-22-23-15-25 22zm-47 8l24-23-22-16-25 23zm23 15l24-23-23-15-24 23zm-48 9l25-24-23-16-24 24z"/>
<path class="qje" d="M8339 645l25-24-23-15-25 24zm-47 10l24-25-22-16-25 25zm22 15l25-25-23-15-24 25zm-47 11l25-26-23-16-25 26z"/>
<path class="qjg" d="M8290 696l24-26-22-15-25 26zm-48 11l25-26-23-16-25 26zm23 15l25-26-23-15-25 26z"/>
<path class="qjn" d="M8217 735l25-28-23-16-24 28zm23 15l25-28-23-15-25 28zm-48 14l25-29-22-16-25 28zm23 15l25-29-23-15-25 29z"/>
<path class="qjx" d="M8167 793l25-29-22-17-25 30zm23 15l25-29-23-15-25 29z"/>
<path class="qke" d="M8142 824l25-31-22-16-25 31zm23 15l25-31-23-15-25 31zm-48 16l25-31-22-16-25 31zm23 15l25-31-23-15-25 31z"/>
<path class="qkj" d="M8092 887l25-32-22-16-25 32zm23 15l25-32-23-15-25 32z"/>
<path class="qhv" d="M9081 319l21 2-23-15-21-2zm-22-1l22 1-23-15-21-1z"/>
<path class="qha" d="M9038 318l21 0-22-15-22 0zm-22 0l22 0-23-15-21 1zm-21 2l21-2-22-14-22 1zm-22 2l22-2-23-15-22 2zm-22 2l22-2-23-15-22 3zm-22 4l22-4-23-14-22 3zm-23 4l23-4-23-15-23 5zm-22 5l22-5-23-14-22 5zm-23 6l23-6-23-14-23 6zm-22 7l22-7-23-14-22 6zm-23 7l23-7-23-15-23 8zm-23 8l23-8-23-14-23 8zm-23 9l23-9-23-14-23 9z"/>
<path class="qhl" d="M8747 384l23-10-23-14-23 10zm-24 11l24-11-23-14-24 11zm-23 11l23-11-23-14-23 11zm-24 13l24-13-23-14-24 13zm-23 13l23-13-23-14-23 13z"/>
<path class="qif" d="M8629 446l24-14-23-14-24 14zm-24 15l24-15-23-14-24 15zm-24 15l24-15-23-14-24 15z"/>
<path class="qih" d="M8557 493l24-17-23-14-24 17zm-24 17l24-17-23-14-24 17zm-24 19l24-19-23-14-24 19z"/>
<path class="qip" d="M8484 548l25-19-23-14-24 19zm-24 21l24-21-22-14-25 21zm-24 21l24-21-23-14-24 21z"/>
<path class="qiw" d="M8411 612l25-22-23-14-25 22zm-24 23l24-23-23-14-24 23z"/>
<path class="qje" d="M8362 659l25-24-23-14-25 24zm-25 25l25-25-23-14-25 25z"/>
<path class="qjg" d="M8312 709l25-25-23-14-24 26zm-25 27l25-27-22-13-25 26z"/>
<path class="qjn" d="M8263 764l24-28-22-14-25 28z"/>
<path class="qjx" d="M8238 793l25-29-23-14-25 29zm-25 29l25-29-23-14-25 29z"/>
<path class="qke" d="M8188 853l25-31-23-14-25 31z"/>
<path class="qkj" d="M8163 884l25-31-23-14-25 31zm-25 32l25-32-23-14-25 32z"/>
<path class="qko" d="M8067 921l25-34-22-16-25 33zm23 15l25-34-23-15-25 34zm22 14l26-34-23-14-25 34z"/>
<path class="qhk" d="M9104 333l21 2-23-14-21-2zm23 13l21 2-23-13-21-2z"/>
<path class="qhv" d="M9082 332l22 1-23-14-22-1zm-21 0l21 0-23-14-21 0z"/>
<path class="qhl" d="M9039 332l22 0-23-14-22 0zm-21 1l21-1-23-14-21 2z"/>
<path class="qha" d="M8996 335l22-2-23-13-22 2zm-22 3l22-3-23-13-22 2zm-22 3l22-3-23-14-22 4zm-23 4l23-4-23-13-23 4zm-22 6l22-6-23-13-22 5zm-23 5l23-5-23-14-23 6zm-22 7l22-7-23-13-22 7zm-23 7l23-7-23-13-23 7z"/>
<path class="qhl" d="M8816 378l23-8-23-13-23 8zm-23 9l23-9-23-13-23 9zm-23 10l23-10-23-13-23 10zm-24 11l24-11-23-13-24 11zm-23 11l23-11-23-13-23 11zm-24 13l24-13-23-13-24 13z"/>
<path class="qif" d="M8676 445l23-13-23-13-23 13zm-24 14l24-14-23-13-24 14zm-24 15l24-15-23-13-24 15zm-24 15l24-15-23-13-24 15z"/>
<path class="qih" d="M8580 506l24-17-23-13-24 17zm-24 17l24-17-23-13-24 17zm-24 19l24-19-23-13-24 19z"/>
<path class="qip" d="M8507 561l25-19-23-13-25 19zm-24 21l24-21-23-13-24 21z"/>
<path class="qiw" d="M8459 603l24-21-23-13-24 21zm-25 22l25-22-23-13-25 22z"/>
<path class="qje" d="M8409 648l25-23-23-13-24 23zm-24 24l24-24-22-13-25 24z"/>
<path class="qjg" d="M8360 697l25-25-23-13-25 25zm-25 25l25-25-23-13-25 25z"/>
<path class="qjn" d="M8310 749l25-27-23-13-25 27zm-25 28l25-28-23-13-24 28z"/>
<path class="qjx" d="M8260 805l25-28-22-13-25 29z"/>
<path class="qke" d="M8235 835l25-30-22-12-25 29zm-25 30l25-30-22-13-25 31z"/>
<path class="qkj" d="M8185 897l25-32-22-12-25 31z"/>
<path class="qko" d="M8160 929l25-32-22-13-25 32zm-25 33l25-33-22-13-26 34z"/>
<path class="qhk" d="M9105 345l22 1-23-13-22-1z"/>
<path class="qhv" d="M9084 344l21 1-23-13-21 0zm-22 1l22-1-23-12-22 0z"/>
<path class="qhl" d="M9041 346l21-1-23-13-21 1zm-22 2l22-2-23-13-22 2zm-22 2l22-2-23-13-22 3zm-22 4l22-4-23-12-22 3zm-23 4l23-4-23-13-23 4zm-22 5l22-5-23-13-22 6zm-23 6l23-6-23-12-23 5zm-22 6l22-6-23-13-22 7zm-23 7l23-7-23-12-23 7zm-23 9l23-9-23-12-23 8zm-23 9l23-9-23-13-23 9zm-23 9l23-9-23-13-23 10zm-23 11l23-11-23-12-24 11zm-24 11l24-11-24-12-23 11z"/>
<path class="qif" d="M8723 444l23-13-23-12-24 13zm-24 13l24-13-24-12-23 13zm-24 14l24-14-23-12-24 14zm-24 14l24-14-23-12-24 15z"/>
<path class="qih" d="M8627 501l24-16-23-11-24 15zm-24 17l24-17-23-12-24 17zm-24 17l24-17-23-12-24 17z"/>
<path class="qip" d="M8555 554l24-19-23-12-24 19zm-24 19l24-19-23-12-25 19zm-25 21l25-21-24-12-24 21z"/>
<path class="qiw" d="M8482 615l24-21-23-12-24 21zm-25 22l25-22-23-12-25 22z"/>
<path class="qje" d="M8432 660l25-23-23-12-25 23zm-24 24l24-24-23-12-24 24z"/>
<path class="qjg" d="M8383 708l25-24-23-12-25 25zm-25 26l25-26-23-11-25 25z"/>
<path class="qjn" d="M8333 761l25-27-23-12-25 27zm-25 27l25-27-23-12-25 28z"/>
<path class="qjx" d="M8283 817l25-29-23-11-25 28z"/>
<path class="qke" d="M8258 847l25-30-23-12-25 30zm-25 30l25-30-23-12-25 30z"/>
<path class="qkj" d="M8208 909l25-32-23-12-25 32z"/>
<path class="qko" d="M8183 941l25-32-23-12-25 32zm-25 33l25-33-23-12-25 33z"/>
<path class="qiv" d="M9150 357l21 2-23-11-21-2zm23 11l21 2-23-11-21-2z"/>
<path class="qhk" d="M9128 356l22 1-23-11-22-1zm-21 0l21 0-23-11-21-1z"/>
<path class="qhv" d="M9085 356l22 0-23-12-22 1zm-21 1l21-1-23-11-21 1z"/>
<path class="qhl" d="M9042 359l22-2-23-11-22 2zm-22 3l22-3-23-11-22 2zm-22 3l22-3-23-12-22 4zm-22 4l22-4-23-11-23 4zm-23 5l23-5-24-11-22 5zm-22 6l22-6-23-11-23 6zm-23 6l23-6-24-11-22 6zm-23 8l23-8-23-11-23 7zm-23 8l23-8-23-12-23 9zm-23 9l23-9-23-11-23 9zm-23 9l23-9-23-11-23 9zm-23 11l23-11-23-11-23 11z"/>
<path class="qif" d="M8769 442l24-11-23-11-24 11zm-23 12l23-12-23-11-23 13zm-24 14l24-14-23-10-24 13zm-24 13l24-13-23-11-24 14z"/>
<path class="qih" d="M8675 496l23-15-23-10-24 14zm-24 16l24-16-24-11-24 16zm-24 16l24-16-24-11-24 17zm-25 18l25-18-24-10-24 17z"/>
<path class="qip" d="M8578 565l24-19-23-11-24 19zm-24 19l24-19-23-11-24 19z"/>
<path class="qiw" d="M8529 604l25-20-23-11-25 21zm-24 21l24-21-23-10-24 21zm-25 23l25-23-23-10-25 22z"/>
<path class="qje" d="M8456 670l24-22-23-11-25 23zm-25 24l25-24-24-10-24 24z"/>
<path class="qjg" d="M8406 719l25-25-23-10-25 24zm-25 26l25-26-23-11-25 26z"/>
<path class="qjn" d="M8356 771l25-26-23-11-25 27z"/>
<path class="qjx" d="M8331 799l25-28-23-10-25 27zm-25 29l25-29-23-11-25 29z"/>
<path class="qke" d="M8281 857l25-29-23-11-25 30zm-25 31l25-31-23-10-25 30z"/>
<path class="qkj" d="M8231 919l25-31-23-11-25 32z"/>
<path class="qko" d="M8206 952l25-33-23-10-25 32z"/>
<path class="qiv" d="M9152 367l21 1-23-11-22-1z"/>
<path class="qhk" d="M9130 367l22 0-24-11-21 0zm-21 0l21 0-23-11-22 0z"/>
<path class="qhv" d="M9087 368l22-1-24-11-21 1zm-22 2l22-2-23-11-22 2z"/>
<path class="qhl" d="M9043 372l22-2-23-11-22 3zm-22 3l22-3-23-10-22 3zm-22 5l22-5-23-10-22 4zm-22 4l22-4-23-11-23 5zm-23 6l23-6-24-10-22 6zm-23 7l23-7-23-10-23 6zm-22 7l22-7-23-11-23 8zm-23 8l23-8-24-10-23 8zm-23 9l23-9-24-10-23 9zm-23 9l23-9-24-10-23 9z"/>
<path class="qif" d="M8816 441l24-11-24-10-23 11zm-23 11l23-11-23-10-24 11zm-24 12l24-12-24-10-23 12zm-23 13l23-13-23-10-24 14zm-24 14l24-14-24-9-24 13z"/>
<path class="qih" d="M8698 506l24-15-24-10-23 15zm-24 16l24-16-23-10-24 16zm-24 16l24-16-23-10-24 16z"/>
<path class="qip" d="M8626 556l24-18-23-10-25 18zm-24 18l24-18-24-10-24 19zm-25 20l25-20-24-9-24 19z"/>
<path class="qiw" d="M8553 614l24-20-23-10-25 20zm-25 21l25-21-24-10-24 21z"/>
<path class="qje" d="M8504 657l24-22-23-10-25 23zm-25 23l25-23-24-9-24 22z"/>
<path class="qjg" d="M8454 704l25-24-23-10-25 24zm-25 25l25-25-23-10-25 25z"/>
<path class="qjn" d="M8404 754l25-25-23-10-25 26zm-25 27l25-27-23-9-25 26z"/>
<path class="qjx" d="M8354 809l25-28-23-10-25 28zm-25 28l25-28-23-10-25 29z"/>
<path class="qke" d="M8304 867l25-30-23-9-25 29z"/>
<path class="qkj" d="M8279 897l25-30-23-10-25 31zm-25 32l25-32-23-9-25 31z"/>
<path class="qko" d="M8228 961l26-32-23-10-25 33z"/>
<path class="qlf" d="M9196 378l21 2-23-10-21-2z"/>
<path class="qad" d="M8180 985l26-33-23-11-25 33zm23 9l25-33-22-9-26 33z"/>
<path class="qio" d="M9175 377l21 1-23-10-21-1z"/>
<path class="qiv" d="M9154 376l21 1-23-10-22 0z"/>
<path class="qht" d="M9220 387l21 2-24-9-21-2z"/>
<path class="qjd" d="M9132 376l22 0-24-9-21 0z"/>
<path class="qhk" d="M9111 377l21-1-23-9-22 1z"/>
<path class="qhv" d="M9089 379l22-2-24-9-22 2zm-22 3l22-3-24-9-22 2z"/>
<path class="qhl" d="M9045 385l22-3-24-10-22 3zm-23 4l23-4-24-10-22 5zm-22 5l22-5-23-9-22 4zm-22 5l22-5-23-10-23 6zm-23 7l23-7-24-9-23 7zm-23 7l23-7-24-9-22 7zm-23 8l23-8-23-9-23 8zm-23 9l23-9-23-9-23 9z"/>
<path class="qif" d="M8863 439l23-9-23-9-23 9zm-23 11l23-11-23-9-24 11zm-24 11l24-11-24-9-23 11zm-23 12l23-12-23-9-24 12zm-24 13l24-13-24-9-23 13z"/>
<path class="qih" d="M8745 500l24-14-23-9-24 14zm-23 14l23-14-23-9-24 15zm-24 16l24-16-24-8-24 16zm-25 17l25-17-24-8-24 16z"/>
<path class="qip" d="M8649 565l24-18-23-9-24 18zm-24 18l24-18-23-9-24 18zm-24 19l24-19-23-9-25 20z"/>
<path class="qiw" d="M8576 623l25-21-24-8-24 20zm-24 21l24-21-23-9-25 21z"/>
<path class="qje" d="M8527 666l25-22-24-9-24 22zm-25 23l25-23-23-9-25 23z"/>
<path class="qjg" d="M8477 712l25-23-23-9-25 24zm-25 25l25-25-23-8-25 25z"/>
<path class="qjn" d="M8428 763l24-26-23-8-25 25zm-25 26l25-26-24-9-25 27z"/>
<path class="qjx" d="M8377 817l26-28-24-8-25 28zm-25 29l25-29-23-8-25 28z"/>
<path class="qke" d="M8327 875l25-29-23-9-25 30z"/>
<path class="qkj" d="M8302 906l25-31-23-8-25 30zm-25 31l25-31-23-9-25 32z"/>
<path class="qko" d="M8251 970l26-33-23-8-26 32z"/>
<path class="qad" d="M8226 1003l25-33-23-9-25 33z"/>
<path class="qhj" d="M9198 386l22 1-24-9-21-1z"/>
<path class="qdg" d="M9243 395l21 2-23-8-21-2z"/>
<path class="qkt" d="M9177 385l21 1-23-9-21-1z"/>
<path class="qiv" d="M9156 385l21 0-23-9-22 0z"/>
<path class="qjd" d="M9134 386l22-1-24-9-21 1z"/>
<path class="qhk" d="M9112 388l22-2-23-9-22 2z"/>
<path class="qhv" d="M9090 390l22-2-23-9-22 3zm-22 3l22-3-23-8-22 3z"/>
<path class="qhl" d="M9046 397l22-4-23-8-23 4zm-22 5l22-5-24-8-22 5zm-23 5l23-5-24-8-22 5zm-22 7l22-7-23-8-23 7zm-23 7l23-7-24-8-23 7zm-23 8l23-8-24-8-23 8z"/>
<path class="qif" d="M8910 438l23-9-24-8-23 9zm-23 9l23-9-24-8-23 9zm-24 11l24-11-24-8-23 11zm-23 11l23-11-23-8-24 11zm-24 12l24-12-24-8-23 12zm-23 13l23-13-23-8-24 13z"/>
<path class="qih" d="M8769 507l24-13-24-8-24 14zm-24 15l24-15-24-7-23 14zm-24 16l24-16-23-8-24 16zm-24 17l24-17-23-8-25 17z"/>
<path class="qip" d="M8673 572l24-17-24-8-24 18zm-24 18l24-18-24-7-24 18zm-25 20l25-20-24-7-24 19z"/>
<path class="qiw" d="M8600 630l24-20-23-8-25 21zm-25 21l25-21-24-7-24 21z"/>
<path class="qje" d="M8550 673l25-22-23-7-25 22zm-24 23l24-23-23-7-25 23z"/>
<path class="qjg" d="M8501 720l25-24-24-7-25 23zm-25 24l25-24-24-8-25 25z"/>
<path class="qjn" d="M8451 770l25-26-24-7-24 26zm-25 27l25-27-23-7-25 26z"/>
<path class="qjx" d="M8401 824l25-27-23-8-26 28zm-25 29l25-29-24-7-25 29z"/>
<path class="qke" d="M8350 883l26-30-24-7-25 29z"/>
<path class="qkj" d="M8325 913l25-30-23-8-25 31zm-25 32l25-32-23-7-25 31z"/>
<path class="qko" d="M8274 977l26-32-23-8-26 33z"/>
<path class="qad" d="M8249 1010l25-33-23-7-25 33z"/>
<path class="qhi" d="M9222 393l21 2-23-8-22-1z"/>
<path class="qfp" d="M9267 401l21 3-24-7-21-2z"/>
<path class="qid" d="M9201 393l21 0-24-7-21-1z"/>
<path class="qdh" d="M9246 400l21 1-24-6-21-2z"/>
<path class="qeg" d="M9291 407l21 3-24-6-21-3z"/>
<path class="qie" d="M9179 393l22 0-24-8-21 0z"/>
<path class="qiv" d="M9158 393l21 0-23-8-22 1z"/>
<path class="qjd" d="M9136 395l22-2-24-7-22 2z"/>
<path class="qhk" d="M9114 397l22-2-24-7-22 2z"/>
<path class="qhv" d="M9092 400l22-3-24-7-22 3zm-22 4l22-4-24-7-22 4zm-22 5l22-5-24-7-22 5z"/>
<path class="qhl" d="M9025 414l23-5-24-7-23 5zm-23 7l23-7-24-7-22 7zm-22 7l22-7-23-7-23 7zm-23 8l23-8-24-7-23 8z"/>
<path class="qif" d="M8934 444l23-8-24-7-23 9zm-23 10l23-10-24-6-23 9zm-24 10l24-10-24-7-24 11zm-23 11l23-11-24-6-23 11zm-24 12l24-12-24-6-24 12zm-23 13l23-13-24-6-23 13z"/>
<path class="qih" d="M8793 514l24-14-24-6-24 13zm-24 15l24-15-24-7-24 15zm-24 15l24-15-24-7-24 16zm-24 17l24-17-24-6-24 17z"/>
<path class="qip" d="M8697 579l24-18-24-6-24 17zm-25 18l25-18-24-7-24 18z"/>
<path class="qiw" d="M8648 616l24-19-23-7-25 20zm-25 20l25-20-24-6-24 20zm-24 21l24-21-23-6-25 21z"/>
<path class="qje" d="M8574 679l25-22-24-6-25 22zm-25 23l25-23-24-6-24 23z"/>
<path class="qjg" d="M8524 726l25-24-23-6-25 24zm-25 25l25-25-23-6-25 24z"/>
<path class="qjn" d="M8474 776l25-25-23-7-25 26zm-25 27l25-27-23-6-25 27z"/>
<path class="qjx" d="M8424 831l25-28-23-6-25 27zm-25 28l25-28-23-7-25 29z"/>
<path class="qke" d="M8374 889l25-30-23-6-26 30z"/>
<path class="qkj" d="M8348 919l26-30-24-6-25 30zm-25 32l25-32-23-6-25 32z"/>
<path class="qko" d="M8298 983l25-32-23-6-26 32z"/>
<path class="qad" d="M8272 1016l26-33-24-6-25 33z"/>
<path class="qic" d="M9225 399l21 1-24-7-21 0z"/>
<path class="qid" d="M9203 399l22 0-24-6-22 0z"/>
<path class="qdy" d="M9270 406l21 1-24-6-21-1z"/>
<path class="qei" d="M9315 412l21 2-24-4-21-3zm24 4l21 2-24-4-21-2zm25 2l21 3-25-3-21-2zm25 2l20 2-24-1-21-3zm25 0l20 3-25-1-20-2z"/>
<path class="qdy" d="M9439 420l20 2-25 1-20-3z"/>
<path class="qek" d="M9464 418l21 3-26 1-20-2zm-215-13l21 1-24-6-21-1z"/>
<path class="qks" d="M9182 400l21-1-24-6-21 0z"/>
<path class="qiv" d="M9160 401l22-1-24-7-22 2z"/>
<path class="qeh" d="M9294 410l21 2-24-5-21-1z"/>
<path class="qei" d="M9318 414l21 2-24-4-21-2zm25 2l21 2-25-2-21-2zm25 2l21 2-25-2-21-2zm25 0l21 2-25 0-21-2z"/>
<path class="qeg" d="M9418 417l21 3-25 0-21-2z"/>
<path class="qlg" d="M9489 415l21 3-25 3-21-3z"/>
<path class="qid" d="M9515 411l21 3-26 4-21-3z"/>
<path class="qie" d="M9541 406l21 3-26 5-21-3z"/>
<path class="qhk" d="M9567 400l21 3-26 6-21-3z"/>
<path class="qgx" d="M9227 405l22 0-24-6-22 0z"/>
<path class="qgy" d="M9138 404l22-3-24-6-22 2z"/>
<path class="qhk" d="M9116 407l22-3-24-7-22 3zm-22 4l22-4-24-7-22 4z"/>
<path class="qhv" d="M9072 415l22-4-24-7-22 5zm-23 6l23-6-24-6-23 5z"/>
<path class="qhl" d="M9026 427l23-6-24-7-23 7zm-22 7l22-7-24-6-22 7z"/>
<path class="qif" d="M8981 442l23-8-24-6-23 8zm-23 8l23-8-24-6-23 8zm-23 10l23-10-24-6-23 10zm-24 10l24-10-24-6-24 10zm-23 11l23-11-24-6-23 11zm-24 12l24-12-24-6-24 12zm-23 13l23-13-24-6-23 13z"/>
<path class="qih" d="M8817 520l24-14-24-6-24 14zm-24 14l24-14-24-6-24 15zm-24 16l24-16-24-5-24 15z"/>
<path class="qip" d="M8745 566l24-16-24-6-24 17zm-25 18l25-18-24-5-24 18zm-24 18l24-18-23-5-25 18z"/>
<path class="qiw" d="M8672 621l24-19-24-5-24 19zm-25 21l25-21-24-5-25 20zm-25 21l25-21-24-6-24 21z"/>
<path class="qje" d="M8598 684l24-21-23-6-25 22zm-25 23l25-23-24-5-25 23z"/>
<path class="qjg" d="M8548 731l25-24-24-5-25 24zm-25 25l25-25-24-5-25 25z"/>
<path class="qjn" d="M8498 781l25-25-24-5-25 25zm-25 27l25-27-24-5-25 27z"/>
<path class="qjx" d="M8448 836l25-28-24-5-25 28zm-26 28l26-28-24-5-25 28z"/>
<path class="qke" d="M8397 894l25-30-23-5-25 30z"/>
<path class="qkj" d="M8372 924l25-30-23-5-26 30zm-26 32l26-32-24-5-25 32z"/>
<path class="qko" d="M8321 988l25-32-23-5-25 32z"/>
<path class="qad" d="M8295 1021l26-33-23-5-26 33z"/>
<path class="qey" d="M9273 409l21 1-24-4-21-1z"/>
<path class="qfp" d="M9252 409l21 0-24-4-22 0z"/>
<path class="qei" d="M9297 413l21 1-24-4-21-1zm25 2l21 1-25-2-21-1zm25 2l21 1-25-2-21-1zm24 0l22 1-25 0-21-1zm26-1l21 1-25 1-22-1z"/>
<path class="qdk" d="M9443 416l21 2-25 2-21-3z"/>
<path class="qdz" d="M9422 414l21 2-25 1-21-1zm-146-2l21 1-24-4-21 0z"/>
<path class="qdh" d="M9469 413l20 2-25 3-21-2z"/>
<path class="qhi" d="M9494 409l21 2-26 4-20-2z"/>
<path class="qfp" d="M9447 411l22 2-26 3-21-2z"/>
<path class="qei" d="M9300 415l22 0-25-2-21-1zm25 1l22 1-25-2-22 0zm25 0l21 1-24 0-22-1zm25-1l22 1-26 1-21-1zm26-2l21 1-25 2-22-1z"/>
<path class="qdy" d="M9426 410l21 1-25 3-21-1z"/>
<path class="qgx" d="M9473 407l21 2-25 4-22-2z"/>
<path class="qek" d="M9452 406l21 1-26 4-21-1z"/>
<path class="qgm" d="M9594 393l21 3-27 7-21-3z"/>
<path class="qgz" d="M9621 384l20 4-26 8-21-3zm27-10l20 4-27 10-20-4z"/>
<path class="qgp" d="M9675 363l21 5-28 10-20-4zm28-12l20 5-27 12-21-5z"/>
<path class="qle" d="M9730 338l21 4-28 14-20-5zm29-14l20 4-28 14-21-4z"/>
<path class="qld" d="M9787 309l21 4-29 15-20-4z"/>
<path class="qgg" d="M9206 405l21 0-24-6-21 1z"/>
<path class="qhj" d="M9184 407l22-2-24-5-22 1z"/>
<path class="qio" d="M9162 409l22-2-24-6-22 3z"/>
<path class="qgy" d="M9140 412l22-3-24-5-22 3z"/>
<path class="qhk" d="M9118 416l22-4-24-5-22 4zm-22 4l22-4-24-5-22 4z"/>
<path class="qhv" d="M9073 426l23-6-24-5-23 6zm-22 6l22-6-24-5-23 6z"/>
<path class="qhl" d="M9028 439l23-7-25-5-22 7z"/>
<path class="qif" d="M9005 446l23-7-24-5-23 8zm-23 9l23-9-24-4-23 8zm-23 9l23-9-24-5-23 10zm-24 11l24-11-24-4-24 10zm-23 11l23-11-24-5-23 11zm-24 12l24-12-24-5-24 12zm-23 12l23-12-24-5-23 13z"/>
<path class="qih" d="M8841 524l24-14-24-4-24 14zm-24 14l24-14-24-4-24 14zm-24 16l24-16-24-4-24 16zm-24 17l24-17-24-4-24 16z"/>
<path class="qip" d="M8744 588l25-17-24-5-25 18zm-24 18l24-18-24-4-24 18z"/>
<path class="qiw" d="M8696 626l24-20-24-4-24 19zm-25 20l25-20-24-5-25 21zm-25 21l25-21-24-4-25 21z"/>
<path class="qje" d="M8622 689l24-22-24-4-24 21zm-25 22l25-22-24-5-25 23z"/>
<path class="qjg" d="M8572 735l25-24-24-4-25 24zm-25 25l25-25-24-4-25 25z"/>
<path class="qjn" d="M8522 785l25-25-24-4-25 25zm-26 27l26-27-24-4-25 27z"/>
<path class="qjx" d="M8471 840l25-28-23-4-25 28zm-25 28l25-28-23-4-26 28z"/>
<path class="qke" d="M8421 898l25-30-24-4-25 30z"/>
<path class="qkj" d="M8395 928l26-30-24-4-25 30zm-25 32l25-32-23-4-26 32z"/>
<path class="qko" d="M8344 992l26-32-24-4-25 32z"/>
<path class="qad" d="M8319 1025l25-33-23-4-26 33z"/>
<path class="qlh" d="M9520 403l21 3-26 5-21-2z"/>
<path class="qio" d="M9547 397l20 3-26 6-21-3z"/>
<path class="qgm" d="M9573 390l21 3-27 7-20-3zm27-9l21 3-27 9-21-3z"/>
<path class="qgg" d="M9499 402l21 1-26 6-21-2z"/>
<path class="qhi" d="M9478 400l21 2-26 5-21-1z"/>
<path class="qel" d="M9230 410l22-1-25-4-21 0z"/>
<path class="qhi" d="M9208 411l22-1-24-5-22 2z"/>
<path class="qgo" d="M9627 371l21 3-27 10-21-3zm27-11l21 3-27 11-21-3z"/>
<path class="qgp" d="M9682 348l21 3-28 12-21-3z"/>
<path class="qle" d="M9710 335l20 3-27 13-21-3zm28-14l21 3-29 14-20-3z"/>
<path class="qld" d="M9766 305l21 4-28 15-21-3z"/>
<path class="qli" d="M9526 395l21 2-27 6-21-1z"/>
<path class="qfq" d="M9504 394l22 1-27 7-21-2zm-318 19l22-2-24-4-22 2z"/>
<path class="qie" d="M9164 416l22-3-24-4-22 3z"/>
<path class="qgy" d="M9142 420l22-4-24-4-22 4z"/>
<path class="qhk" d="M9120 424l22-4-24-4-22 4zm-23 5l23-5-24-4-23 6z"/>
<path class="qhv" d="M9075 436l22-7-24-3-22 6zm-23 6l23-6-24-4-23 7z"/>
<path class="qif" d="M9029 450l23-8-24-3-23 7zm-23 9l23-9-24-4-23 9zm-23 9l23-9-24-4-23 9zm-23 10l23-10-24-4-24 11zm-24 11l24-11-25-3-23 11zm-23 12l23-12-24-3-24 12zm-24 13l24-13-25-3-23 12z"/>
<path class="qih" d="M8865 527l24-13-24-4-24 14zm-24 15l24-15-24-3-24 14zm-24 15l24-15-24-4-24 16zm-24 17l24-17-24-3-24 17z"/>
<path class="qip" d="M8769 591l24-17-24-3-25 17zm-25 18l25-18-25-3-24 18zm-24 20l24-20-24-3-24 20z"/>
<path class="qiw" d="M8695 649l25-20-24-3-25 20zm-25 21l25-21-24-3-25 21z"/>
<path class="qje" d="M8646 691l24-21-24-3-24 22zm-25 23l25-23-24-2-25 22z"/>
<path class="qjg" d="M8596 738l25-24-24-3-25 24zm-25 24l25-24-24-3-25 25z"/>
<path class="qjn" d="M8545 788l26-26-24-2-25 25zm-25 27l25-27-23-3-26 27z"/>
<path class="qjx" d="M8495 842l25-27-24-3-25 28zm-25 29l25-29-24-2-25 28z"/>
<path class="qke" d="M8444 901l26-30-24-3-25 30zm-25 30l25-30-23-3-26 30z"/>
<path class="qkj" d="M8393 962l26-31-24-3-25 32z"/>
<path class="qko" d="M8368 995l25-33-23-2-26 32z"/>
<path class="qad" d="M8342 1028l26-33-24-3-25 33z"/>
<path class="qlj" d="M9254 413l22-1-24-3-22 1z"/>
<path class="qek" d="M9233 414l21-1-24-3-22 1z"/>
<path class="qeh" d="M9279 415l21 0-24-3-22 1z"/>
<path class="qdy" d="M9257 416l22-1-25-2-21 1z"/>
<path class="qei" d="M9304 416l21 0-25-1-21 0zm25 0l21 0-25 0-21 0zm25-1l21 0-25 1-21 0zm25-2l22 0-26 2-21 0zm-97 4l22-1-25-1-22 1zm25 0l22-1-25 0-22 1zm25-1l22-1-25 1-22 1zm26-2l21-1-25 2-22 1z"/>
<path class="qeg" d="M9405 410l21 0-25 3-22 0z"/>
<path class="qfp" d="M9431 406l21 0-26 4-21 0z"/>
<path class="qei" d="M9383 411l22-1-26 3-21 1z"/>
<path class="qgx" d="M9211 416l22-2-25-3-22 2z"/>
<path class="qey" d="M9409 406l22 0-26 4-22 1z"/>
<path class="qgg" d="M9189 419l22-3-25-3-22 3z"/>
<path class="qel" d="M9457 400l21 0-26 6-21 0z"/>
<path class="qgj" d="M9552 388l21 2-26 7-21-2z"/>
<path class="qgm" d="M9579 379l21 2-27 9-21-2z"/>
<path class="qdj" d="M9235 418l22-2-24-2-22 2z"/>
<path class="qgx" d="M9213 421l22-3-24-2-22 3z"/>
<path class="qdz" d="M9260 419l22-2-25-1-22 2z"/>
<path class="qfp" d="M9238 422l22-3-25-1-22 3z"/>
<path class="qei" d="M9285 419l22-2-25 0-22 2zm25-1l22-2-25 1-22 2zm26-2l22-2-26 2-22 2zm25-4l22-1-25 3-22 2z"/>
<path class="qeh" d="M9387 408l22-2-26 5-22 1zm-124 14l22-3-25 0-22 3z"/>
<path class="qei" d="M9288 420l22-2-25 1-22 3zm26-2l22-2-26 2-22 2zm25-4l22-2-25 4-22 2zm26-4l22-2-26 4-22 2z"/>
<path class="qgi" d="M9167 423l22-4-25-3-22 4z"/>
<path class="qio" d="M9144 427l23-4-25-3-22 4z"/>
<path class="qht" d="M9191 425l22-4-24-2-22 4z"/>
<path class="qhj" d="M9169 429l22-4-24-2-23 4z"/>
<path class="qdh" d="M9216 425l22-3-25-1-22 4z"/>
<path class="qdy" d="M9241 425l22-3-25 0-22 3z"/>
<path class="qei" d="M9266 424l22-4-25 2-22 3zm26-3l22-3-26 2-22 4zm25-4l22-3-25 4-22 3zm26-4l22-3-26 4-22 3z"/>
<path class="qgy" d="M9122 432l22-5-24-3-23 5z"/>
<path class="qhk" d="M9099 438l23-6-25-3-22 7zm-22 7l22-7-24-2-23 6z"/>
<path class="qhv" d="M9054 453l23-8-25-3-23 8z"/>
<path class="qio" d="M9146 434l23-5-25-2-22 5z"/>
<path class="qgy" d="M9124 440l22-6-24-2-23 6z"/>
<path class="qhk" d="M9101 447l23-7-25-2-22 7zm-23 7l23-7-24-2-23 8z"/>
<path class="qez" d="M9435 401l22-1-26 6-22 0z"/>
<path class="qdy" d="M9413 402l22-1-26 5-22 2z"/>
<path class="qeg" d="M9391 404l22-2-26 6-22 2z"/>
<path class="qei" d="M9369 407l22-3-26 6-22 3z"/>
<path class="qfb" d="M9483 393l21 1-26 6-21 0z"/>
<path class="qgl" d="M9531 386l21 2-26 7-22-1z"/>
<path class="qgn" d="M9558 377l21 2-27 9-21-2zm48-8l21 2-27 10-21-2zm-21-2l21 2-27 10-21-2z"/>
<path class="qgo" d="M9633 358l21 2-27 11-21-2zm-21-2l21 2-27 11-21-2z"/>
<path class="qgh" d="M9194 430l22-5-25 0-22 4z"/>
<path class="qid" d="M9171 435l23-5-25-1-23 5z"/>
<path class="qks" d="M9149 440l22-5-25-1-22 6z"/>
<path class="qek" d="M9219 429l22-4-25 0-22 5z"/>
<path class="qgx" d="M9196 434l23-5-25 1-23 5z"/>
<path class="qgy" d="M9126 447l23-7-25 0-23 7zm-23 8l23-8-25 0-23 7z"/>
<path class="qgg" d="M9174 440l22-6-25 1-22 5z"/>
<path class="qhj" d="M9151 447l23-7-25 0-23 7z"/>
<path class="qio" d="M9128 454l23-7-25 0-23 8z"/>
<path class="qdz" d="M9244 428l22-4-25 1-22 4z"/>
<path class="qfp" d="M9222 433l22-5-25 1-23 5z"/>
<path class="qdh" d="M9199 438l23-5-26 1-22 6z"/>
<path class="qei" d="M9269 425l23-4-26 3-22 4zm26-4l22-4-25 4-23 4zm26-5l22-3-26 4-22 4zm26-6l22-3-26 6-22 3z"/>
<path class="qeh" d="M9247 430l22-5-25 3-22 5z"/>
<path class="qdy" d="M9224 435l23-5-25 3-23 5z"/>
<path class="qei" d="M9273 426l22-5-26 4-22 5zm25-5l23-5-26 5-22 5zm26-6l23-5-26 6-23 5zm-74 17l23-6-26 4-23 5zm26-6l22-5-25 5-23 6zm26-6l22-5-26 6-22 5z"/>
<path class="qgh" d="M9176 445l23-7-25 2-23 7z"/>
<path class="qek" d="M9202 442l22-7-25 3-23 7z"/>
<path class="qdz" d="M9227 438l23-6-26 3-22 7z"/>
<path class="qei" d="M9253 433l23-7-26 6-23 6zm26-7l23-6-26 6-23 7z"/>
<path class="qfq" d="M9153 452l23-7-25 2-23 7z"/>
<path class="qgx" d="M9179 449l23-7-26 3-23 7z"/>
<path class="qhu" d="M9031 461l23-8-25-3-23 9z"/>
<path class="qif" d="M9007 470l24-9-25-2-23 9zm-23 11l23-11-24-2-23 10zm-23 11l23-11-24-3-24 11zm-24 11l24-11-25-3-23 12zm-24 13l24-13-24-2-24 13z"/>
<path class="qih" d="M8889 529l24-13-24-2-24 13zm-24 15l24-15-24-2-24 15zm-24 15l24-15-24-2-24 15zm-24 17l24-17-24-2-24 17z"/>
<path class="qip" d="M8793 593l24-17-24-2-24 17zm-25 18l25-18-24-2-25 18zm-24 19l24-19-24-2-24 20z"/>
<path class="qiw" d="M8719 650l25-20-24-1-25 20zm-24 21l24-21-24-1-25 21z"/>
<path class="qje" d="M8670 693l25-22-25-1-24 21zm-25 23l25-23-24-2-25 23zm-25 24l25-24-24-2-25 24z"/>
<path class="qjg" d="M8595 764l25-24-24-2-25 24zm-26 26l26-26-24-2-26 26z"/>
<path class="qjn" d="M8544 816l25-26-24-2-25 27z"/>
<path class="qjx" d="M8519 844l25-28-24-1-25 27zm-26 29l26-29-24-2-25 29z"/>
<path class="qke" d="M8468 902l25-29-23-2-26 30zm-26 31l26-31-24-1-25 30z"/>
<path class="qkj" d="M8417 964l25-31-23-2-26 31z"/>
<path class="qhv" d="M9055 463l23-9-24-1-23 8z"/>
<path class="qko" d="M8391 996l26-32-24-2-25 33zm-25 34l25-34-23-1-26 33z"/>
<path class="qhk" d="M9080 463l23-8-25-1-23 9z"/>
<path class="qgy" d="M9105 462l23-8-25 1-23 8z"/>
<path class="qks" d="M9130 460l23-8-25 2-23 8z"/>
<path class="qgg" d="M9156 457l23-8-26 3-23 8z"/>
<path class="qhu" d="M9032 472l23-9-24-2-24 9z"/>
<path class="qif" d="M9009 482l23-10-25-2-23 11zm-24 11l24-11-25-1-23 11zm-23 12l23-12-24-1-24 11zm-24 12l24-12-25-2-24 13zm-24 14l24-14-25-1-24 13z"/>
<path class="qih" d="M8890 545l24-14-25-2-24 15zm-24 15l24-15-25-1-24 15zm-24 17l24-17-25-1-24 17z"/>
<path class="qip" d="M8817 594l25-17-25-1-24 17zm-24 18l24-18-24-1-25 18zm-25 19l25-19-25-1-24 19z"/>
<path class="qiw" d="M8744 651l24-20-24-1-25 20zm-25 21l25-21-25-1-24 21zm-25 22l25-22-24-1-25 22z"/>
<path class="qje" d="M8669 716l25-22-24-1-25 23zm-25 24l25-24-24 0-25 24z"/>
<path class="qjg" d="M8619 765l25-25-24 0-25 24zm-25 25l25-25-24-1-26 26z"/>
<path class="qjn" d="M8568 817l26-27-25 0-25 26zm-25 27l25-27-24-1-25 28z"/>
<path class="qjx" d="M8517 873l26-29-24 0-26 29z"/>
<path class="qke" d="M8492 902l25-29-24 0-25 29zm-26 31l26-31-24 0-26 31z"/>
<path class="qkj" d="M8441 964l25-31-24 0-25 31z"/>
<path class="qko" d="M8415 997l26-33-24 0-26 32zm-26 33l26-33-24-1-25 34z"/>
<path class="qhk" d="M9057 472l23-9-25 0-23 9zm25-1l23-9-25 1-23 9z"/>
<path class="qgy" d="M9107 469l23-9-25 2-23 9z"/>
<path class="qhj" d="M9132 466l24-9-26 3-23 9z"/>
<path class="qhu" d="M9033 482l24-10-25 0-23 10zm-23 11l23-11-24 0-24 11z"/>
<path class="qif" d="M8986 505l24-12-25 0-23 12zm-23 12l23-12-24 0-24 12zm-24 14l24-14-25 0-24 14z"/>
<path class="qih" d="M8915 545l24-14-25 0-24 14zm-24 15l24-15-25 0-24 15zm-25 16l25-16-25 0-24 17zm-24 17l24-17-24 1-25 17z"/>
<path class="qip" d="M8817 611l25-18-25 1-24 18zm-24 20l24-20-24 1-25 19zm-25 19l25-19-25 0-24 20z"/>
<path class="qiw" d="M8743 671l25-21-24 1-25 21zm-25 22l25-22-24 1-25 22z"/>
<path class="qje" d="M8693 716l25-23-24 1-25 22zm-25 23l25-23-24 0-25 24z"/>
<path class="qjg" d="M8643 764l25-25-24 1-25 25zm-25 25l25-25-24 1-25 25z"/>
<path class="qjn" d="M8592 816l26-27-24 1-26 27zm-25 27l25-27-24 1-25 27z"/>
<path class="qjx" d="M8542 872l25-29-24 1-26 29zm-26 30l26-30-25 1-25 29z"/>
<path class="qke" d="M8490 932l26-30-24 0-26 31z"/>
<path class="qkj" d="M8465 963l25-31-24 1-25 31zm-26 33l26-33-24 1-26 33z"/>
<path class="qko" d="M8413 1029l26-33-24 1-26 33z"/>
<path class="qhk" d="M9058 481l24-10-25 1-24 10z"/>
<path class="qgy" d="M9084 479l23-10-25 2-24 10z"/>
<path class="qio" d="M9109 476l23-10-25 3-23 10z"/>
<path class="qhu" d="M9035 492l23-11-25 1-23 11zm-24 12l24-12-25 1-24 12zm-23 12l23-12-25 1-23 12z"/>
<path class="qif" d="M8964 529l24-13-25 1-24 14zm-24 15l24-15-25 2-24 14z"/>
<path class="qih" d="M8915 559l25-15-25 1-24 15zm-24 16l24-16-24 1-25 16zm-24 17l24-17-25 1-24 17z"/>
<path class="qip" d="M8842 610l25-18-25 1-25 18zm-24 19l24-19-25 1-24 20zm-25 20l25-20-25 2-25 19z"/>
<path class="qiw" d="M8768 670l25-21-25 1-25 21zm-25 21l25-21-25 1-25 22z"/>
<path class="qje" d="M8718 714l25-23-25 2-25 23zm-25 24l25-24-25 2-25 23zm-25 24l25-24-25 1-25 25z"/>
<path class="qjg" d="M8642 788l26-26-25 2-25 25zm-25 26l25-26-24 1-26 27z"/>
<path class="qjn" d="M8591 841l26-27-25 2-25 27z"/>
<path class="qjx" d="M8566 870l25-29-24 2-25 29zm-26 30l26-30-24 2-26 30z"/>
<path class="qke" d="M8515 930l25-30-24 2-26 30zm-26 31l26-31-25 2-25 31z"/>
<path class="qkj" d="M8463 994l26-33-24 2-26 33z"/>
<path class="qko" d="M8437 1027l26-33-24 2-26 33z"/>
<path class="qhk" d="M9060 490l24-11-26 2-23 11z"/>
<path class="qjd" d="M9036 501l24-11-25 2-24 12z"/>
<path class="qgy" d="M9085 486l24-10-25 3-24 11z"/>
<path class="qhk" d="M9062 498l23-12-25 4-24 11z"/>
<path class="qhu" d="M9013 514l23-13-25 3-23 12zm-24 13l24-13-25 2-24 13zm-24 14l24-14-25 2-24 15z"/>
<path class="qif" d="M8941 556l24-15-25 3-25 15z"/>
<path class="qih" d="M8916 572l25-16-26 3-24 16zm-24 17l24-17-25 3-24 17zm-25 18l25-18-25 3-25 18z"/>
<path class="qip" d="M8843 626l24-19-25 3-24 19zm-25 20l25-20-25 3-25 20zm-25 21l25-21-25 3-25 21z"/>
<path class="qiw" d="M8768 688l25-21-25 3-25 21zm-25 23l25-23-25 3-25 23z"/>
<path class="qje" d="M8718 735l25-24-25 3-25 24zm-26 24l26-24-25 3-25 24z"/>
<path class="qjg" d="M8667 785l25-26-24 3-26 26zm-26 26l26-26-25 3-25 26z"/>
<path class="qjn" d="M8616 838l25-27-24 3-26 27zm-26 29l26-29-25 3-25 29z"/>
<path class="qjx" d="M8565 896l25-29-24 3-26 30z"/>
<path class="qke" d="M8539 927l26-31-25 4-25 30zm-26 31l26-31-24 3-26 31z"/>
<path class="qkj" d="M8487 991l26-33-24 3-26 33z"/>
<path class="qko" d="M8461 1024l26-33-24 3-26 33z"/>
<path class="qjd" d="M9038 510l24-12-26 3-23 13zm-24 14l24-14-25 4-24 13z"/>
<path class="qhu" d="M8990 538l24-14-25 3-24 14zm-24 15l24-15-25 3-24 15zm-25 15l25-15-25 3-25 16z"/>
<path class="qih" d="M8917 585l24-17-25 4-24 17zm-25 18l25-18-25 4-25 18zm-24 19l24-19-25 4-24 19z"/>
<path class="qip" d="M8843 642l25-20-25 4-25 20zm-25 20l25-20-25 4-25 21z"/>
<path class="qiw" d="M8793 684l25-22-25 5-25 21zm-25 23l25-23-25 4-25 23zm-25 23l25-23-25 4-25 24z"/>
<path class="qje" d="M8717 755l26-25-25 5-26 24zm-25 25l25-25-25 4-25 26z"/>
<path class="qjg" d="M8666 807l26-27-25 5-26 26z"/>
<path class="qjn" d="M8641 834l25-27-25 4-25 27zm-26 28l26-28-25 4-26 29z"/>
<path class="qjx" d="M8589 892l26-30-25 5-25 29zm-26 30l26-30-24 4-26 31z"/>
<path class="qke" d="M8537 954l26-32-24 5-26 31z"/>
<path class="qkj" d="M8511 986l26-32-24 4-26 33zm-26 33l26-33-24 5-26 33z"/>
<path class="qem" d="M9461 394l22-1-26 7-22 1z"/>
<path class="qlk" d="M9509 386l22 0-27 8-21-1z"/>
<path class="qgj" d="M9536 377l22 0-27 9-22 0z"/>
<path class="qgn" d="M9563 366l22 1-27 10-22 0z"/>
<path class="qll" d="M9661 345l21 3-28 12-21-2zm-21-2l21 2-28 13-21-2z"/>
<path class="qle" d="M9689 332l21 3-28 13-21-3zm28-14l21 3-28 14-21-3z"/>
<path class="qld" d="M9745 302l21 3-28 16-21-3z"/>
<path class="qll" d="M9668 330l21 2-28 13-21-2z"/>
<path class="qld" d="M9696 316l21 2-28 14-21-2zm28-16l21 2-28 16-21-2z"/>
<path class="qej" d="M9204 445l23-7-25 4-23 7z"/>
<path class="qdh" d="M9181 453l23-8-25 4-23 8z"/>
<path class="qeh" d="M9230 440l23-7-26 5-23 7z"/>
<path class="qdy" d="M9207 448l23-8-26 5-23 8z"/>
<path class="qei" d="M9256 433l23-7-26 7-23 7zm-23 8l23-8-26 7-23 8z"/>
<path class="qgh" d="M9158 462l23-9-25 4-24 9z"/>
<path class="qek" d="M9184 456l23-8-26 5-23 9z"/>
<path class="qeg" d="M9210 450l23-9-26 7-23 8z"/>
<path class="qfq" d="M9135 471l23-9-26 4-23 10z"/>
<path class="qks" d="M9111 482l24-11-26 5-24 10z"/>
<path class="qgx" d="M9160 466l24-10-26 6-23 9z"/>
<path class="qgy" d="M9087 493l24-11-26 4-23 12zm-24 13l24-13-25 5-24 12z"/>
<path class="qhk" d="M9040 519l23-13-25 4-24 14z"/>
<path class="qjd" d="M9015 533l25-14-26 5-24 14zm-24 15l24-15-25 5-24 15z"/>
<path class="qgg" d="M9137 476l23-10-25 5-24 11z"/>
<path class="qhj" d="M9113 488l24-12-26 6-24 11z"/>
<path class="qgl" d="M9089 500l24-12-26 5-24 13z"/>
<path class="qgy" d="M9065 513l24-13-26 6-23 13zm-24 14l24-14-25 6-25 14z"/>
<path class="qjd" d="M9017 542l24-15-26 6-24 15z"/>
<path class="qhu" d="M8967 564l24-16-25 5-25 15zm-25 16l25-16-26 4-24 17z"/>
<path class="qjd" d="M8992 558l25-16-26 6-24 16zm-24 16l24-16-25 6-25 16z"/>
<path class="qlm" d="M9440 395l21-1-26 7-22 1z"/>
<path class="qfp" d="M9418 397l22-2-27 7-22 2z"/>
<path class="qey" d="M9396 400l22-3-27 7-22 3z"/>
<path class="qeh" d="M9373 403l23-3-27 7-22 3z"/>
<path class="qei" d="M9351 407l22-4-26 7-23 5zm-23 6l23-6-27 8-22 5zm-23 6l23-6-26 7-23 6zm-23 6l23-6-26 7-23 7zm-23 8l23-8-26 8-23 8zm-23 9l23-9-26 8-23 9z"/>
<path class="qfa" d="M9488 386l21 0-26 7-22 1z"/>
<path class="qfb" d="M9466 387l22-1-27 8-21 1z"/>
<path class="qel" d="M9444 389l22-2-26 8-22 2z"/>
<path class="qek" d="M9422 391l22-2-26 8-22 3z"/>
<path class="qfo" d="M9400 395l22-4-26 9-23 3zm-214 64l24-9-26 6-24 10z"/>
<path class="qeg" d="M9377 399l23-4-27 8-22 4z"/>
<path class="qei" d="M9355 404l22-5-26 8-23 6zm-23 6l23-6-27 9-23 6zm-23 7l23-7-27 9-23 6zm-23 7l23-7-27 8-23 8zm-23 9l23-9-27 9-23 9zm-50 18l23-9-26 8-24 9zm26-9l24-9-27 9-23 9z"/>
<path class="qek" d="M9163 470l23-11-26 7-23 10z"/>
<path class="qey" d="M9189 462l24-11-27 8-23 11z"/>
<path class="qei" d="M9216 452l23-10-26 9-24 11z"/>
<path class="qem" d="M9139 481l24-11-26 6-24 12z"/>
<path class="qez" d="M9165 473l24-11-26 8-24 11z"/>
<path class="qeg" d="M9192 463l24-11-27 10-24 11z"/>
<path class="qfa" d="M9115 493l24-12-26 7-24 12z"/>
<path class="qel" d="M9141 485l24-12-26 8-24 12z"/>
<path class="qgi" d="M9091 506l24-13-26 7-24 13z"/>
<path class="qio" d="M9067 520l24-14-26 7-24 14z"/>
<path class="qgy" d="M9043 535l24-15-26 7-24 15z"/>
<path class="qiv" d="M9018 550l25-15-26 7-25 16z"/>
<path class="qjd" d="M8994 567l24-17-26 8-24 16z"/>
<path class="qfb" d="M9117 498l24-13-26 8-24 13z"/>
<path class="qfq" d="M9093 511l24-13-26 8-24 14z"/>
<path class="qks" d="M9069 526l24-15-26 9-24 15z"/>
<path class="qio" d="M9044 542l25-16-26 9-25 15z"/>
<path class="qgy" d="M9020 558l24-16-26 8-24 17z"/>
<path class="qln" d="M9591 355l21 1-27 11-22-1z"/>
<path class="qll" d="M9618 342l22 1-28 13-21-1zm28-13l22 1-28 13-22-1z"/>
<path class="qfo" d="M9168 475l24-12-27 10-24 12z"/>
<path class="qek" d="M9144 488l24-13-27 10-24 13z"/>
<path class="qem" d="M9120 502l24-14-27 10-24 13z"/>
<path class="qgg" d="M9095 517l25-15-27 9-24 15z"/>
<path class="qfq" d="M9071 532l24-15-26 9-25 16z"/>
<path class="qie" d="M9046 549l25-17-27 10-24 16z"/>
<path class="qig" d="M8918 598l24-18-25 5-25 18zm25-6l25-18-26 6-24 18z"/>
<path class="qih" d="M8893 617l25-19-26 5-24 19z"/>
<path class="qip" d="M8868 636l25-19-25 5-25 20zm-25 21l25-21-25 6-25 20zm-25 22l25-22-25 5-25 22z"/>
<path class="qiw" d="M8793 701l25-22-25 5-25 23zm-25 24l25-24-25 6-25 23z"/>
<path class="qje" d="M8742 749l26-24-25 5-26 25zm-25 26l25-26-25 6-25 25z"/>
<path class="qjg" d="M8691 801l26-26-25 5-26 27zm-26 27l26-27-25 6-25 27z"/>
<path class="qjn" d="M8640 857l25-29-24 6-26 28zm-26 29l26-29-25 5-26 30z"/>
<path class="qjx" d="M8588 916l26-30-25 6-26 30z"/>
<path class="qke" d="M8562 948l26-32-25 6-26 32zm-26 32l26-32-25 6-26 32z"/>
<path class="qkj" d="M8510 1014l26-34-25 6-26 33z"/>
<path class="qjd" d="M8969 584l25-17-26 7-25 18zm26-8l25-18-26 9-25 17z"/>
<path class="qio" d="M9021 566l25-17-26 9-25 18z"/>
<path class="qig" d="M8919 610l24-18-25 6-25 19zm-25 20l25-20-26 7-25 19z"/>
<path class="qip" d="M8869 650l25-20-26 6-25 21zm-26 22l26-22-26 7-25 22zm-25 23l25-23-25 7-25 22z"/>
<path class="qiw" d="M8793 718l25-23-25 6-25 24zm-26 25l26-25-25 7-26 24z"/>
<path class="qje" d="M8742 768l25-25-25 6-25 26zm-26 26l26-26-25 7-26 26z"/>
<path class="qjg" d="M8691 821l25-27-25 7-26 27zm-26 29l26-29-26 7-25 29z"/>
<path class="qjn" d="M8639 879l26-29-25 7-26 29z"/>
<path class="qjx" d="M8613 909l26-30-25 7-26 30zm-26 32l26-32-25 7-26 32z"/>
<path class="qke" d="M8561 973l26-32-25 7-26 32z"/>
<path class="qkj" d="M8535 1007l26-34-25 7-26 34z"/>
<path class="qjd" d="M8944 603l25-19-26 8-24 18zm26-9l25-18-26 8-25 19z"/>
<path class="qiv" d="M8996 584l25-18-26 10-25 18z"/>
<path class="qig" d="M8919 622l25-19-25 7-25 20zm-25 20l25-20-25 8-25 20z"/>
<path class="qjd" d="M8945 613l25-19-26 9-25 19zm26-10l25-19-26 10-25 19z"/>
<path class="qlo" d="M9515 377l21 0-27 9-21 0z"/>
<path class="qlp" d="M9674 315l22 1-28 14-22-1z"/>
<path class="qld" d="M9703 299l21 1-28 16-22-1z"/>
<path class="qkd" d="M8869 664l25-22-25 8-26 22z"/>
<path class="qip" d="M8844 687l25-23-26 8-25 23zm-26 23l26-23-26 8-25 23z"/>
<path class="qiw" d="M8793 734l25-24-25 8-26 25zm-26 26l26-26-26 9-25 25z"/>
<path class="qje" d="M8742 786l25-26-25 8-26 26zm-26 27l26-27-26 8-25 27z"/>
<path class="qjg" d="M8690 842l26-29-25 8-26 29z"/>
<path class="qjn" d="M8664 871l26-29-25 8-26 29zm-26 30l26-30-25 8-26 30z"/>
<path class="qjx" d="M8612 933l26-32-25 8-26 32zm-26 32l26-32-25 8-26 32z"/>
<path class="qke" d="M8559 998l27-33-25 8-26 34z"/>
<path class="qjo" d="M8920 633l25-20-26 9-25 20z"/>
<path class="qjd" d="M8946 623l25-20-26 10-25 20z"/>
<path class="qig" d="M8895 655l25-22-26 9-25 22z"/>
<path class="qkd" d="M8870 677l25-22-26 9-25 23zm-26 24l26-24-26 10-26 23z"/>
<path class="qiw" d="M8819 725l25-24-26 9-25 24zm-26 25l26-25-26 9-26 26z"/>
<path class="qje" d="M8767 777l26-27-26 10-25 26zm-26 27l26-27-25 9-26 27z"/>
<path class="qjg" d="M8715 832l26-28-25 9-26 29zm-26 29l26-29-25 10-26 29z"/>
<path class="qjn" d="M8663 892l26-31-25 10-26 30zm-26 31l26-31-25 9-26 32z"/>
<path class="qjx" d="M8611 955l26-32-25 10-26 32z"/>
<path class="qke" d="M8584 989l27-34-25 10-27 33z"/>
<path class="qjo" d="M8921 644l25-21-26 10-25 22zm-25 23l25-23-26 11-25 22z"/>
<path class="qkd" d="M8870 690l26-23-26 10-26 24zm-26 25l26-25-26 11-25 24z"/>
<path class="qfc" d="M9493 377l22 0-27 9-22 1z"/>
<path class="qlq" d="M9542 366l21 0-27 11-21 0z"/>
<path class="qln" d="M9569 355l22 0-28 11-21 0zm28-13l21 0-27 13-22 0z"/>
<path class="qll" d="M9625 329l21 0-28 13-21 0z"/>
<path class="qlp" d="M9653 314l21 1-28 14-21 0zm28-16l22 1-29 16-21-1z"/>
<path class="qki" d="M8819 740l25-25-25 10-26 25zm-26 26l26-26-26 10-26 27z"/>
<path class="qje" d="M8767 793l26-27-26 11-26 27zm-26 29l26-29-26 11-26 28z"/>
<path class="qjg" d="M8715 851l26-29-26 10-26 29zm-26 30l26-30-26 10-26 31z"/>
<path class="qjn" d="M8662 912l27-31-26 11-26 31z"/>
<path class="qjx" d="M8636 944l26-32-25 11-26 32zm-26 34l26-34-25 11-27 34z"/>
<path class="qlr" d="M9471 379l22-2-27 10-22 2z"/>
<path class="qem" d="M9449 382l22-3-27 10-22 2z"/>
<path class="qlm" d="M9427 385l22-3-27 9-22 4z"/>
<path class="qez" d="M9404 389l23-4-27 10-23 4z"/>
<path class="qey" d="M9382 394l22-5-27 10-22 5z"/>
<path class="qeg" d="M9359 400l23-6-27 10-23 6z"/>
<path class="qei" d="M9336 406l23-6-27 10-23 7zm-23 8l23-8-27 11-23 7zm-24 8l24-8-27 10-23 9zm-23 10l23-10-26 11-24 9zm-24 10l24-10-27 10-23 10zm-24 11l24-11-26 10-24 11zm-23 12l23-12-26 10-24 12z"/>
<path class="qey" d="M9170 477l25-12-27 10-24 13z"/>
<path class="qfp" d="M9146 491l24-14-26 11-24 14z"/>
<path class="qel" d="M9122 506l24-15-26 11-25 15z"/>
<path class="qgh" d="M9097 521l25-15-27 11-24 15z"/>
<path class="qgg" d="M9073 537l24-16-26 11-25 17z"/>
<path class="qgi" d="M9048 555l25-18-27 12-25 17z"/>
<path class="qie" d="M9023 573l25-18-27 11-25 18z"/>
<path class="qiv" d="M8998 592l25-19-27 11-25 19zm-25 20l25-20-27 11-25 20z"/>
<path class="qjd" d="M8947 633l26-21-27 11-25 21z"/>
<path class="qjo" d="M8922 655l25-22-26 11-25 23zm-26 23l26-23-26 12-26 23z"/>
<path class="qfv" d="M9520 367l22-1-27 11-22 0z"/>
<path class="qjw" d="M8871 703l25-25-26 12-26 25z"/>
<path class="qkd" d="M8845 728l26-25-27 12-25 25z"/>
<path class="qki" d="M8819 754l26-26-26 12-26 26zm-26 27l26-27-26 12-26 27z"/>
<path class="qls" d="M9498 368l22-1-27 10-22 2z"/>
<path class="qlt" d="M9547 355l22 0-27 11-22 1z"/>
<path class="qln" d="M9575 343l22-1-28 13-22 0z"/>
<path class="qkm" d="M8767 810l26-29-26 12-26 29z"/>
<path class="qje" d="M8741 839l26-29-26 12-26 29z"/>
<path class="qjg" d="M8714 869l27-30-26 12-26 30z"/>
<path class="qjn" d="M8688 900l26-31-25 12-27 31zm-26 32l26-32-26 12-26 32z"/>
<path class="qjx" d="M8635 966l27-34-26 12-26 34z"/>
<path class="qlu" d="M9476 371l22-3-27 11-22 3z"/>
<path class="qlv" d="M9526 357l21-2-27 12-22 1z"/>
<path class="qlq" d="M9553 344l22-1-28 12-21 2z"/>
<path class="qlw" d="M9603 329l22 0-28 13-22 1zm-22 2l22-2-28 14-22 1z"/>
<path class="qlp" d="M9631 314l22 0-28 15-22 0zm29-16l21 0-28 16-22 0z"/>
<path class="qlw" d="M9609 316l22-2-28 15-22 2z"/>
<path class="qlp" d="M9638 299l22-1-29 16-22 2z"/>
<path class="qlx" d="M9454 374l22-3-27 11-22 3z"/>
<path class="qly" d="M9503 359l23-2-28 11-22 3z"/>
<path class="qlu" d="M9481 362l22-3-27 12-22 3z"/>
<path class="qlv" d="M9531 346l22-2-27 13-23 2z"/>
<path class="qlz" d="M9431 378l23-4-27 11-23 4z"/>
<path class="qez" d="M9409 383l22-5-27 11-22 5z"/>
<path class="qfo" d="M9386 389l23-6-27 11-23 6z"/>
<path class="qeg" d="M9363 395l23-6-27 11-23 6z"/>
<path class="qei" d="M9340 402l23-7-27 11-23 8zm-24 9l24-9-27 12-24 8zm-23 9l23-9-27 11-23 10zm-24 10l24-10-27 12-24 10zm-24 11l24-11-27 12-24 11zm-23 12l23-12-27 12-23 12zm-25 12l25-12-27 12-25 12z"/>
<path class="qeg" d="M9173 479l24-14-27 12-24 14z"/>
<path class="qdy" d="M9149 493l24-14-27 12-24 15z"/>
<path class="qek" d="M9124 509l25-16-27 13-25 15z"/>
<path class="qgx" d="M9099 525l25-16-27 12-24 16z"/>
<path class="qfb" d="M9075 542l24-17-26 12-25 18z"/>
<path class="qfq" d="M9050 561l25-19-27 13-25 18z"/>
<path class="qgi" d="M9024 580l26-19-27 12-25 19z"/>
<path class="qkt" d="M8999 600l25-20-26 12-25 20z"/>
<path class="qiv" d="M8974 621l25-21-26 12-26 21zm-26 21l26-21-27 12-25 22z"/>
<path class="qjo" d="M8923 665l25-23-26 13-26 23zm-26 24l26-24-27 13-25 25z"/>
<path class="qjw" d="M8871 715l26-26-26 14-26 25zm-26 26l26-26-26 13-26 26z"/>
<path class="qki" d="M8819 768l26-27-26 13-26 27zm-26 28l26-28-26 13-26 29z"/>
<path class="qkm" d="M8767 825l26-29-26 14-26 29zm-27 31l27-31-26 14-27 30z"/>
<path class="qjg" d="M8714 887l26-31-26 13-26 31z"/>
<path class="qjn" d="M8687 919l27-32-26 13-26 32zm-26 33l26-33-25 13-27 34z"/>
<path class="qlx" d="M9459 366l22-4-27 12-23 4z"/>
<path class="qlz" d="M9436 371l23-5-28 12-22 5z"/>
<path class="qlm" d="M9413 376l23-5-27 12-23 6z"/>
<path class="qfo" d="M9390 383l23-7-27 13-23 6z"/>
<path class="qey" d="M9367 390l23-7-27 12-23 7z"/>
<path class="qei" d="M9344 398l23-8-27 12-24 9zm-24 9l24-9-28 13-23 9zm-23 10l23-10-27 13-24 10zm-24 11l24-11-28 13-24 11zm-24 11l24-11-28 13-23 12zm-24 13l24-13-27 14-25 12zm-25 13l25-13-28 13-24 14zm-24 15l24-15-27 14-24 14z"/>
<path class="qdz" d="M9151 495l25-15-27 13-25 16z"/>
<path class="qfo" d="M9126 511l25-16-27 14-25 16z"/>
<path class="qlm" d="M9102 529l24-18-27 14-24 17z"/>
<path class="qem" d="M9077 547l25-18-27 13-25 19z"/>
<path class="qgg" d="M9051 566l26-19-27 14-26 19z"/>
<path class="qfq" d="M9026 586l25-20-27 14-25 20z"/>
<path class="qgi" d="M9001 607l25-21-27 14-25 21z"/>
<path class="qkt" d="M8975 628l26-21-27 14-26 21z"/>
<path class="qiv" d="M8949 651l26-23-27 14-25 23z"/>
<path class="qma" d="M9509 349l22-3-28 13-22 3z"/>
<path class="qlu" d="M9486 353l23-4-28 13-22 4z"/>
<path class="qmb" d="M9559 333l22-2-28 13-22 2z"/>
<path class="qlv" d="M9537 335l22-2-28 13-22 3z"/>
<path class="qlw" d="M9587 317l22-1-28 15-22 2zm29-16l22-2-29 17-22 1zm-51 19l22-3-28 16-22 2zm28-16l23-3-29 16-22 3z"/>
<path class="qjf" d="M8924 675l25-24-26 14-26 24z"/>
<path class="qjo" d="M8898 700l26-25-27 14-26 26z"/>
<path class="qjw" d="M8872 726l26-26-27 15-26 26zm-26 27l26-27-27 15-26 27z"/>
<path class="qmc" d="M9464 358l22-5-27 13-23 5z"/>
<path class="qlz" d="M9441 363l23-5-28 13-23 5z"/>
<path class="qlm" d="M9418 370l23-7-28 13-23 7z"/>
<path class="qmd" d="M9514 339l23-4-28 14-23 4z"/>
<path class="qkc" d="M8819 782l27-29-27 15-26 28z"/>
<path class="qki" d="M8793 811l26-29-26 14-26 29z"/>
<path class="qkm" d="M8767 841l26-30-26 14-27 31zm-27 31l27-31-27 15-26 31z"/>
<path class="qme" d="M9395 377l23-7-28 13-23 7z"/>
<path class="qey" d="M9371 385l24-8-28 13-23 8z"/>
<path class="qeg" d="M9348 393l23-8-27 13-24 9z"/>
<path class="qei" d="M9324 403l24-10-28 14-23 10zm-24 11l24-11-27 14-24 11zm-24 11l24-11-27 14-24 11zm-24 12l24-12-27 14-24 13zm-24 14l24-14-27 15-25 13zm-25 14l25-14-28 14-24 15zm-24 15l24-15-27 15-25 15zm-25 16l25-16-28 15-25 16z"/>
<path class="qey" d="M9129 514l25-18-28 15-24 18z"/>
<path class="qez" d="M9104 532l25-18-27 15-25 18z"/>
<path class="qel" d="M9079 551l25-19-27 15-26 19z"/>
<path class="qem" d="M9053 571l26-20-28 15-25 20z"/>
<path class="qgg" d="M9028 591l25-20-27 15-25 21z"/>
<path class="qfq" d="M9002 613l26-22-27 16-26 21z"/>
<path class="qks" d="M8976 636l26-23-27 15-26 23z"/>
<path class="qkt" d="M8950 660l26-24-27 15-25 24z"/>
<path class="qjf" d="M8925 684l25-24-26 15-26 25zm-27 26l27-26-27 16-26 26z"/>
<path class="qjw" d="M8872 737l26-27-26 16-26 27zm-26 28l26-28-26 16-27 29z"/>
<path class="qkc" d="M8819 795l27-30-27 17-26 29zm-26 30l26-30-26 16-26 30z"/>
<path class="qkm" d="M8766 856l27-31-26 16-27 31z"/>
<path class="qmf" d="M9492 344l22-5-28 14-22 5z"/>
<path class="qlr" d="M9469 349l23-5-28 14-23 5z"/>
<path class="qlx" d="M9446 355l23-6-28 14-23 7z"/>
<path class="qmg" d="M9542 324l23-4-28 15-23 4z"/>
<path class="qkp" d="M8713 904l27-32-26 15-27 32zm27-16l26-32-26 16-27 32z"/>
<path class="qmh" d="M9423 362l23-7-28 15-23 7z"/>
<path class="qez" d="M9399 370l24-8-28 15-24 8z"/>
<path class="qfo" d="M9376 379l23-9-28 15-23 8z"/>
<path class="qeg" d="M9352 388l24-9-28 14-24 10z"/>
<path class="qei" d="M9328 399l24-11-28 15-24 11zm-24 11l24-11-28 15-24 11zm-24 12l24-12-28 15-24 12zm-25 13l25-13-28 15-24 14zm-24 14l24-14-27 16-25 14zm-25 15l25-15-28 16-24 15zm-25 16l25-16-27 16-25 16zm-25 17l25-17-27 16-25 18z"/>
<path class="qeg" d="M9131 515l25-18-27 17-25 18z"/>
<path class="qfo" d="M9106 534l25-19-27 17-25 19z"/>
<path class="qek" d="M9081 554l25-20-27 17-26 20z"/>
<path class="qel" d="M9055 575l26-21-28 17-25 20z"/>
<path class="qgh" d="M9029 597l26-22-27 16-26 22z"/>
<path class="qgg" d="M9004 619l25-22-27 16-26 23z"/>
<path class="qhj" d="M8978 643l26-24-28 17-26 24z"/>
<path class="qlf" d="M8952 668l26-25-28 17-25 24z"/>
<path class="qkt" d="M8925 693l27-25-27 16-27 26z"/>
<path class="qjf" d="M8899 720l26-27-27 17-26 27z"/>
<path class="qmi" d="M9520 328l22-4-28 15-22 5z"/>
<path class="qmf" d="M9497 333l23-5-28 16-23 5z"/>
<path class="qmj" d="M9571 307l22-3-28 16-23 4z"/>
<path class="qmg" d="M9548 311l23-4-29 17-22 4z"/>
<path class="qmi" d="M9525 316l23-5-28 17-23 5z"/>
<path class="qkq" d="M8687 937l26-33-26 15-26 33z"/>
<path class="qkp" d="M8713 921l27-33-27 16-26 33z"/>
<path class="qjm" d="M8873 748l26-28-27 17-26 28z"/>
<path class="qjw" d="M8846 777l27-29-27 17-27 30z"/>
<path class="qkc" d="M8820 807l26-30-27 18-26 30zm-27 31l27-31-27 18-27 31z"/>
<path class="qmk" d="M9474 339l23-6-28 16-23 6z"/>
<path class="qmc" d="M9451 346l23-7-28 16-23 7z"/>
<path class="qlz" d="M9427 354l24-8-28 16-24 8z"/>
<path class="qmd" d="M9502 322l23-6-28 17-23 6z"/>
<path class="qmk" d="M9479 329l23-7-28 17-23 7z"/>
<path class="qmc" d="M9456 337l23-8-28 17-24 8z"/>
<path class="qkl" d="M8766 870l27-32-27 18-26 32z"/>
<path class="qkp" d="M8739 904l27-34-26 18-27 33z"/>
<path class="qml" d="M9404 362l23-8-28 16-23 9z"/>
<path class="qme" d="M9380 372l24-10-28 17-24 9z"/>
<path class="qey" d="M9356 382l24-10-28 16-24 11z"/>
<path class="qeg" d="M9332 393l24-11-28 17-24 11z"/>
<path class="qei" d="M9308 405l24-12-28 17-24 12zm-25 13l25-13-28 17-25 13zm-24 14l24-14-28 17-24 14zm-25 15l25-15-28 17-25 15zm-25 16l25-16-28 17-25 16zm-25 16l25-16-28 17-25 17zm-25 18l25-18-28 18-25 18zm-25 19l25-19-28 18-25 19z"/>
<path class="qey" d="M9108 536l26-20-28 18-25 20z"/>
<path class="qej" d="M9083 557l25-21-27 18-26 21z"/>
<path class="qek" d="M9057 578l26-21-28 18-26 22z"/>
<path class="qgx" d="M9031 601l26-23-28 19-25 22z"/>
<path class="qhi" d="M9005 625l26-24-27 18-26 24z"/>
<path class="qid" d="M8979 649l26-24-27 18-26 25z"/>
<path class="qhj" d="M8953 675l26-26-27 19-27 25z"/>
<path class="qmm" d="M9432 345l24-8-29 17-23 8z"/>
<path class="qlm" d="M9408 354l24-9-28 17-24 10z"/>
<path class="qez" d="M9385 365l23-11-28 18-24 10z"/>
<path class="qiu" d="M8926 702l27-27-28 18-26 27z"/>
<path class="qkt" d="M8900 729l26-27-27 18-26 28z"/>
<path class="qjf" d="M8873 758l27-29-27 19-27 29z"/>
<path class="qjm" d="M8847 788l26-30-27 19-26 30z"/>
<path class="qkc" d="M8820 819l27-31-27 19-27 31zm-27 33l27-33-27 19-27 32z"/>
<path class="qkl" d="M8766 885l27-33-27 18-27 34z"/>
<path class="qmn" d="M9360 376l25-11-29 17-24 11z"/>
<path class="qeg" d="M9336 388l24-12-28 17-24 12z"/>
<path class="qei" d="M9312 400l24-12-28 17-25 13zm-25 14l25-14-29 18-24 14zm-25 15l25-15-28 18-25 15zm-25 15l25-15-28 18-25 16zm-25 17l25-17-28 19-25 16zm-25 17l25-17-28 18-25 18zm-25 19l25-19-28 19-25 19zm-26 20l26-20-28 19-26 20z"/>
<path class="qeg" d="M9111 537l25-20-28 19-25 21z"/>
<path class="qey" d="M9085 559l26-22-28 20-26 21z"/>
<path class="qfp" d="M9059 582l26-23-28 19-26 23z"/>
<path class="qel" d="M9033 605l26-23-28 19-26 24z"/>
<path class="qem" d="M9007 630l26-25-28 20-26 24z"/>
<path class="qhi" d="M8980 655l27-25-28 19-26 26z"/>
<path class="qid" d="M8954 682l26-27-27 20-27 27z"/>
<path class="qhj" d="M8927 709l27-27-28 20-26 27z"/>
<path class="qiu" d="M8901 738l26-29-27 20-27 29z"/>
<path class="qjc" d="M8874 768l27-30-28 20-26 30z"/>
<path class="qjm" d="M8847 799l27-31-27 20-27 31z"/>
<path class="qjv" d="M8820 831l27-32-27 20-27 33z"/>
<path class="qkc" d="M8793 864l27-33-27 21-27 33z"/>
</g>
<g font-size="9.8" fill="#333"><text transform="translate(1753.5,293.1) scale(.935,1)" text-anchor="end">2.00</text><text transform="translate(1763.5,293.1) scale(.935,1)">6.00</text><text transform="translate(1705.4,276.9) scale(.935,1)" text-anchor="end">2.50</text><text transform="translate(1811.6,276.9) scale(.935,1)">6.50</text><text transform="translate(1657.2,260.8) scale(.935,1)" text-anchor="end">3.00</text><text transform="translate(1859.8,260.8) scale(.935,1)">7.00</text><text transform="translate(1609.1,244.7) scale(.935,1)" text-anchor="end">3.50</text><text transform="translate(1907.9,244.7) scale(.935,1)">7.50</text><text transform="translate(1561.0,228.6) scale(.935,1)" text-anchor="end">4.00</text><text transform="translate(1956.0,228.6) scale(.935,1)">8.00</text><text transform="translate(1548.5,42.9) scale(.935,1)" text-anchor="end">0.5</text><text transform="translate(1550.9,78.3) scale(.935,1)" text-anchor="end">0.4625</text><text transform="translate(1553.2,113.7) scale(.935,1)" text-anchor="end">0.425</text><text transform="translate(1555.6,149.2) scale(.935,1)" text-anchor="end">0.3875</text><text transform="translate(1558.0,184.6) scale(.935,1)" text-anchor="end">0.35</text></g>
<text class="ttl" x="1587.5" y="283.1" text-anchor="middle" textLength="89.5" lengthAdjust="spacingAndGlyphs">D: inculmn size</text>
<text class="ttl" x="1928.0" y="283.1" text-anchor="middle" textLength="34.5" lengthAdjust="spacingAndGlyphs">A: pH</text>
<text class="ttl" transform="translate(1492.9,130.2) rotate(-90)" text-anchor="middle" textLength="54.5" lengthAdjust="spacingAndGlyphs">Sqrt(R1)</text>
<text class="cap" x="1743.4" y="359.8" text-anchor="middle">(c)</text>
</g>
<g id="pd">
<path d="M71.8,516.2 L279.2,481.2 L486.2,516.2 M279.2,481.2 L279.2,661.2 M486.2,516.2 L474.2,715.0" fill="none" stroke="#7c7c7c" stroke-width="1"/>
<path d="M83.8,715.0 L279.2,661.2 L474.2,715.0 L279.2,784.2 Z" fill="#ffff00" stroke="none"/>
<path d="M83.8,715.0 L279.2,661.2 L474.2,715.0" fill="none" stroke="#8a8a3a" stroke-width="0.8"/>
<path d="M365.4 753.6l-.7-1.2-.9-1.2-.7-.9-1.5-1.2-.9-.8-1.6-1.2-1.4-1-1.5-.9-1.4-.9-1.6-.9-1.5-.9-1.6-.8-1.6-.9-1.2-.6-2.1-1-1.7-.9-1.7-.8-1.7-.7-1.7-.8-1.8-.8-1.7-.8-1.8-.7-1.8-.8-1.7-.7-1.8-.8-1.9-.7-1.8-.7-1.8-.7-1.8-.7-1.9-.7-1.8-.7-1.8-.7-1.5-.6-2.3-.8-1.8-.7-1.9-.7-1.9-.6-1.9-.7-1.9-.7-1.8-.6-1.9-.7-1.9-.6-1.9-.6-1.9-.7-1.9-.6-2-.6-1.9-.7-1.9-.6-1.9-.6-1.9-.6-2-.6-1.9-.6-1.9-.6-1.9-.6-2-.6-1.9-.6-2-.6-1.9-.6-2-.6-1.9-.6-2-.5-1.9-.6-2-.6-1.9-.5-2-.6-1.9-.6-2-.5-2-.6-1.9-.5-2-.6-2-.5-1.9-.6-2-.5-2-.5-2-.6-1.9-.5-1.5-.4-2.5-.6-2-.6-2-.5-2-.5-2-.5-2-.5-2-.5-2-.5-2-.5-2-.5-2-.5-2-.5-2-.5-2-.5-2-.5-2.1-.4-2-.5-2-.5-2-.5-2.1-.4-2-.5-2-.5-2.1-.4M107.2 708.9l1.7.6 1.7.6 1.8.6 1.7.6 1.8.6 1.7.5 1.8.6 1.8.6 1.8.6 1.8.6 1.8.6 1.8.6 1.9.6 1.8.6 1.9.6 1.9.6 1.9.5 1.9.6 1.9.6 1.9.6 2 .6 1.9.6 2 .5 1.9.6 2 .6 2 .6 2 .6 2 .5 2 .6 2.1.6 2 .6 2.1.5 2 .6 2.1.6 2.1.6 2.1.5 2.1.6 2.2.6 2.1.6 2.2.5 2.1.6 2.2.6 2.2.5 2.2.6 2.2.5 2.2.6 2.3.6 2.2.5 2.3.6 2.2.5 2.3.6 2.3.6 2.3.5 2.1.5 2.6.6 2.4.6 2.3.5 2.4.6 2.4.5 2.4.5 2.4.6 2.5.5 2.4.6 2.5.5 2.5.5 2.5.5 2.5.6 2.5.5 1.6.3 3.5.7 2.6.5 2.6.6 1.6.3 3.7.7 2.6.5 2.7.5 2.7.5 2.7.4 2.7.5 1.5.3 1.3.2 2.8.5 2.8.4 1.6.3 4.1.6 2.9.5 2.9.4 3 .5 2.6.3 3.4.5 3 .4 3.2.4 3.1.3 3.3.4 3.2.3 3.4.3 2.9.2 4.1.3 3.7.2 2.5.1 4.5.1 1 0M124.6 704l1.6.7 1.6.6 1.6.6 1.6.6 1.7.6 1.7.7 1.6.6 1.7.6 1.8.6 1.7.6 1.8.6 1.7.6 1.8.6 1.8.6 1.8.5 1.9.6 1.8.6 1.9.6 1.9.6 1.9.6 1.9.5 1.9.6 2 .6 1.6.5 2.3.6 2 .6 2 .6 2 .5 2.1.6 2 .6 2.1.5 2.1.6 2.1.5 2.1.6 2.1.5 2.2.6 2.2.5 2.1.6 2.2.5 2.3.6 2.2.5 1.3.3 3.2.7 2.3.6 2.3.5 2.3.5 2.4.5 2.3.5 2.4.5 2.5.5 2.4.5 1.5.4 3.4.6 2.5.5 2.5.5 1.3.2 1.3.3 2.6.4 2.6.5 2.2.3 3.2.5 2.7.5 1.9.3 3.7.5 2.9.4 2.9.3 3 .4 3.2.3 3.2.3 3.4.2 1.9.1 1.7.1 2.7 0 3.8-.1 2.5-.2 3.2-.6 1.8-.7 1-1-.2-2.3-.8-1-1.1-1-1.1-.9-1.3-.9-1.3-.9-1.4-.8-1.5-.8-1.5-.8-1.3-.7-1.8-.9-1.7-.7-1.6-.8-1.6-.7-1.7-.7-1.7-.8-1.7-.7-1.8-.6-1.7-.7-1.8-.7-1.8-.7-1.8-.6-1.8-.7-1.8-.7-1.8-.6-1.8-.6-1.9-.7-1.4-.5-2.3-.7-1.9-.6-1.8-.6-1.9-.7-1.9-.6-1.9-.5-1.9-.6-1.9-.6-2-.6-1.9-.6-1.9-.6-2-.5-1.9-.6-2-.5-1.9-.6-2-.5-2-.6-1.9-.5-2-.6-2-.5-2-.5-2-.6-2-.5-2-.5-2-.5-2.1-.5-2-.5-2.1-.5-2-.5-2.1-.5-2-.5-2.1-.5-1.6-.3-2.6-.6-2.1-.5-2.1-.5-2.1-.4-2.1-.5-1.3-.3-3-.6-2.2-.4-2.1-.5-2.2-.4" fill="none" stroke="#ff6200" stroke-width="1.1"/>
<path d="M71.8,516.2 L83.8,715.0 L279.2,784.2 L474.2,715.0" fill="none" stroke="#555" stroke-width="1.1"/>
<circle cx="279.2" cy="784.2" r="1.3" fill="#000"/>
<circle cx="230.4" cy="766.9" r="1.3" fill="#000"/>
<circle cx="181.5" cy="749.6" r="1.3" fill="#000"/>
<circle cx="132.6" cy="732.3" r="1.3" fill="#000"/>
<circle cx="83.8" cy="715.0" r="1.3" fill="#000"/>
<circle cx="328.0" cy="766.9" r="1.3" fill="#000"/>
<circle cx="376.8" cy="749.6" r="1.3" fill="#000"/>
<circle cx="425.5" cy="732.3" r="1.3" fill="#000"/>
<circle cx="474.2" cy="715.0" r="1.3" fill="#000"/>
<circle cx="71.8" cy="516.2" r="1.3" fill="#000"/>
<circle cx="74.0" cy="554.1" r="1.3" fill="#000"/>
<circle cx="76.3" cy="591.9" r="1.3" fill="#000"/>
<circle cx="78.6" cy="629.7" r="1.3" fill="#000"/>
<circle cx="80.9" cy="667.5" r="1.3" fill="#000"/>
<path d="M478.8,632.3 L477.6,649.3" stroke="#222" stroke-width="1"/>
<ellipse cx="477.6" cy="651.3" rx="3.2" ry="2.6" fill="#ffb8b8" stroke="#b66" stroke-width="0.6"/>
<g transform="scale(0.2)" stroke="#000" stroke-linejoin="round">
<path class="qt" d="M1396 2970l21 30-21-1-21-31zm21 2l22 30-22-2-21-30zm22 2l21 30-21-2-22-30zm22 2l21 30-22-2-21-30z"/>
<path class="qk" d="M1375 2940l21 30-21-2-22-29zm21 2l21 30-21-2-21-30z"/>
<path class="qo" d="M1482 2978l21 30-21-2-21-30zm22 2l21 31-22-3-21-30zm22 3l21 30-22-2-21-31zm22 2l21 31-22-3-21-30zm22 3l21 30-22-2-21-31z"/>
<path class="qk" d="M1593 2990l21 31-23-3-21-30zm22 3l21 30-22-2-21-31zm23 3l21 30-23-3-21-30zm23 3l20 30-22-3-21-30zm22 3l21 30-23-3-20-30zm23 3l21 30-23-3-21-30z"/>
<path class="qi" d="M1730 3008l20 31-23-4-21-30zm23 4l20 30-23-3-20-31zm23 3l21 30-24-3-20-30zm24 4l20 30-23-4-21-30zm23 4l21 30-24-4-20-30zm24 3l20 30-23-3-21-30zm24 4l20 30-24-4-20-30zm24 4l20 30-24-4-20-30zm24 5l20 29-24-4-20-30zm-501-95l21 30-22-2-21-30zm21 2l22 30-22-2-21-30zm22 3l21 29-21-2-22-30zm22 2l21 29-22-2-21-29zm22 3l21 29-22-3-21-29z"/>
<path class="qf" d="M1527 2956l21 29-22-2-21-29zm22 3l21 29-22-3-21-29zm23 3l21 28-23-2-21-29zm22 2l21 29-22-3-21-28zm23 3l21 29-23-3-21-29zm23 3l21 29-23-3-21-29zm303 73l20 30-24-5-20-29zm25 4l20 30-25-4-20-30zm24 5l20 29-24-4-20-30zm25 4l20 30-25-5-20-29zm25 5l20 29-25-4-20-30zm25 5l20 29-25-5-20-29zm25 5l20 29-25-5-20-29zm25 5l20 29-25-5-20-29zm26 5l19 29-25-5-20-29zm25 5l20 29-26-5-19-29zm26 6l19 29-25-6-20-29zm26 5l19 29-26-5-19-29zm26 6l19 29-26-6-19-29zm26 6l19 28-26-5-19-29zm26 5l19 29-26-6-19-28zm26 6l19 29-26-6-19-29zm27 6l19 29-27-6-19-29zm27 7l18 28-26-6-19-29zm-1025-220l22 27-22-1-21-28z"/>
<path class="qa" d="M1374 2915l22 27-21-2-22-27zm22 2l22 27-22-2-22-27zm22 2l21 27-21-2-22-27zm22 2l21 28-22-3-21-27zm22 3l21 27-22-2-21-28zm201 50l20 28-22-3-21-29zm23 3l20 28-23-3-20-28zm23 3l21 28-24-3-20-28zm23 4l21 28-23-4-21-28zm23 3l21 28-23-3-21-28zm24 4l21 28-24-4-21-28zm24 4l20 28-23-4-21-28zm23 3l21 28-24-3-20-28z"/>
<path class="qc" d="M1850 3002l21 28-24-4-21-28zm25 4l20 28-24-4-21-28zm24 5l20 28-24-5-20-28zm24 4l20 28-24-4-20-28zm25 4l20 28-25-4-20-28zm24 5l20 28-24-5-20-28zm25 4l20 28-25-4-20-28zm25 5l20 28-25-5-20-28zm25 5l20 28-25-5-20-28zm25 5l20 28-25-5-20-28zm25 5l20 28-25-5-20-28zm26 5l20 28-26-5-20-28zm25 6l20 27-25-5-20-28zm26 5l20 28-26-6-20-27zm26 6l20 27-26-5-20-28zm26 5l20 28-26-6-20-27zm26 6l20 28-26-6-20-28zm26 6l20 27-26-5-20-28zm27 6l19 27-26-6-20-27zm27 6l19 27-27-6-19-27zm26 6l20 28-27-7-19-27zm-874-179l21 28-22-3-21-27zm22 3l21 27-22-2-21-28zm22 2l21 28-22-3-21-27zm23 3l21 28-23-3-21-28zm22 3l21 27-22-2-21-28zm23 3l21 27-23-3-21-27z"/>
<path class="qb" d="M1619 2943l21 27-23-3-21-27zm23 3l21 28-23-4-21-27zm23 4l21 27-23-3-21-28zm23 3l21 27-23-3-21-27zm23 3l21 28-23-4-21-27zm24 4l20 27-23-3-21-28zm23 4l21 27-24-4-20-27zm24 3l21 28-24-4-21-27zm24 4l20 27-23-3-21-28zm24 4l20 27-24-4-20-27zm-499-89l22 27-21-2-22-27zm22 2l21 27-21-2-22-27zm21 2l22 27-22-2-21-27zm22 2l22 27-22-2-22-27zm22 3l22 26-22-2-22-27zm22 2l22 27-22-3-22-26z"/>
<path class="qe" d="M1462 2900l22 26-22-2-22-27zm22 2l22 27-22-3-22-26zm23 3l21 26-22-2-22-27zm22 3l22 26-23-3-21-26zm23 3l21 26-22-3-22-26zm22 3l22 26-23-3-21-26zm23 3l22 26-23-3-22-26zm23 3l22 26-23-3-22-26zm-311-60l22 26-21-2-22-26zm545 119l21 27-25-4-20-27zm24 5l21 27-24-5-21-27zm25 4l20 27-24-4-21-27zm24 4l21 27-25-4-20-27zm25 5l20 27-24-5-21-27zm25 5l20 26-25-4-20-27zm24 4l21 27-25-5-20-26zm26 5l20 27-25-5-21-27zm25 5l20 27-25-5-20-27zm25 5l20 27-25-5-20-27zm26 6l20 26-26-5-20-27zm25 5l20 27-25-6-20-26zm26 5l20 27-26-5-20-27zm26 6l20 27-26-6-20-27zm26 6l20 26-26-5-20-27zm26 6l20 26-26-6-20-26zm27 5l19 27-26-6-20-26zm26 7l20 26-27-6-19-27zm27 6l20 26-27-6-20-26zm27 6l19 26-26-6-20-26z"/>
<path class="qd" d="M1331 2862l22 26-22-2-22-26zm21 3l22 25-21-2-22-26zm22 2l22 25-22-2-22-25zm22 2l22 26-22-3-22-25zm22 3l22 25-22-2-22-26zm22 2l22 26-22-3-22-25zm22 3l22 25-22-2-22-26zm181 46l22 27-23-4-22-26zm24 4l21 26-23-3-22-27zm23 3l21 26-23-3-21-26zm23 4l22 26-24-4-21-26zm24 3l21 27-23-4-22-26zm24 4l21 26-24-3-21-27zm24 4l21 26-24-4-21-26zm24 4l21 26-24-4-21-26zm24 4l21 26-24-4-21-26zm24 5l21 26-24-5-21-26zm25 4l21 26-25-4-21-26zm24 5l21 25-24-4-21-26z"/>
<path class="qh" d="M1931 2971l21 26-25-5-21-25zm25 5l21 26-25-5-21-26zm25 5l20 25-24-4-21-26zm25 5l21 25-26-5-20-25zm25 5l21 25-25-5-21-25zm26 5l20 25-25-5-21-25zm25 5l21 26-26-6-20-25zm26 5l20 26-25-5-21-26zm26 6l20 25-26-5-20-26zm26 6l20 25-26-6-20-25zm26 5l20 26-26-6-20-25zm26 6l20 26-26-6-20-26zm27 6l20 25-27-5-20-26zm27 6l19 26-26-7-20-25zm26 7l20 25-27-6-19-26zm27 6l20 25-27-6-20-25zm-834-174l22 25-23-3-22-25zm22 2l22 26-22-3-22-25zm23 3l22 26-23-3-22-26zm23 3l21 26-22-3-22-26zm23 3l21 26-23-3-21-26zm23 4l21 25-23-3-21-26zm23 3l21 25-23-3-21-25zm23 3l22 26-24-4-21-25zm24 4l21 25-23-3-22-26zm-382-69l22 24-21-2-22-24zm22 2l22 24-22-2-22-24zm21 2l22 25-21-3-22-24z"/>
<path class="qg" d="M1352 2842l22 25-22-2-22-25zm22 3l22 24-22-2-22-25zm22 2l22 25-22-3-22-24zm22 3l22 24-22-2-22-25zm23 2l21 25-22-3-22-24zm22 3l22 25-23-3-21-25zm23 3l21 24-22-2-22-25zm206 51l21 25-23-4-21-25zm24 3l21 25-24-3-21-25zm24 4l21 25-24-4-21-25zm24 4l21 25-24-4-21-25zm24 4l21 25-24-4-21-25zm24 4l21 25-24-4-21-25zm24 5l21 25-24-5-21-25zm25 4l21 25-25-4-21-25zm24 5l21 25-24-5-21-25zm25 4l21 25-25-4-21-25zm25 5l21 25-25-5-21-25zm25 5l21 25-25-5-21-25zm25 5l21 25-25-5-21-25zm26 5l20 25-25-5-21-25zm25 5l21 25-26-5-20-25zm26 5l20 25-25-5-21-25zm26 6l20 24-26-5-20-25zm26 5l20 25-26-6-20-24zm26 6l20 25-26-6-20-25zm26 6l20 24-26-5-20-25zm26 6l20 24-26-6-20-24zm27 6l20 24-27-6-20-24zm26 6l21 24-27-6-20-24zm27 6l20 25-26-7-21-24zm27 7l20 24-27-6-20-25z"/>
<path class="qj" d="M1508 2861l22 24-23-3-21-24zm23 3l22 24-23-3-22-24zm23 3l22 24-23-3-22-24zm23 3l22 25-23-4-22-24zm23 4l22 24-23-3-22-25zm24 3l21 24-23-3-22-24zm23 4l22 24-24-4-21-24zm24 4l21 24-23-4-22-24zm23 3l22 24-24-3-21-24zm24 4l22 24-24-4-22-24zm24 4l22 24-24-4-22-24zm-477-84l22 24-21-2-23-24zm21 2l23 24-22-2-22-24zm22 2l22 24-21-2-23-24zm22 3l22 23-22-2-22-24zm22 2l22 24-22-3-22-23z"/>
<path class="qm" d="M1374 2824l22 23-22-2-22-24zm22 2l22 24-22-3-22-23zm22 3l23 23-23-2-22-24zm23 3l22 23-22-3-23-23zm22 3l23 23-23-3-22-23zm23 3l22 23-22-3-23-23zm23 3l22 23-23-3-22-23zm23 3l22 23-23-3-22-23zm23 3l22 23-23-3-22-23zm-313-58l23 23-22-2-22-23zm524 111l22 24-24-4-22-24zm25 5l21 23-24-4-22-24zm24 4l21 24-24-5-21-23zm25 4l21 24-25-4-21-24zm24 5l21 24-24-5-21-24zm25 5l21 23-25-4-21-24zm25 4l21 24-25-5-21-23zm25 5l21 24-25-5-21-24zm25 5l21 24-25-5-21-24zm26 5l21 24-26-5-21-24zm25 6l21 23-25-5-21-24zm26 5l21 23-26-5-21-23zm26 6l21 23-26-6-21-23zm26 5l21 23-26-5-21-23zm26 6l21 23-26-6-21-23zm26 6l21 23-26-6-21-23zm27 6l20 23-26-6-21-23zm26 6l21 23-27-6-20-23zm27 6l20 23-26-6-21-23zm27 6l20 23-27-6-20-23zm27 7l20 23-27-7-20-23z"/>
<path class="ql" d="M1264 2792l22 22-21-2-23-23zm21 2l23 22-22-2-22-22zm22 2l23 23-22-3-23-22zm22 3l23 22-22-2-23-23zm22 2l23 23-22-3-23-22zm23 3l22 22-22-2-23-23zm22 3l22 22-22-3-22-22zm23 3l22 22-23-3-22-22zm159 41l22 23-23-4-22-23zm24 3l22 23-24-3-22-23zm23 4l22 23-23-4-22-23zm24 4l22 23-24-4-22-23zm24 3l21 23-23-3-22-23zm24 4l21 23-24-4-21-23zm24 4l21 23-24-4-21-23zm24 5l21 22-24-4-21-23zm24 4l22 23-25-5-21-22zm25 4l21 23-24-4-22-23zm24 5l22 22-25-4-21-23zm25 4l21 23-24-5-22-22zm25 5l21 23-25-5-21-23zm25 5l21 22-25-4-21-23zm25 5l21 22-25-5-21-22zm25 5l21 22-25-5-21-22zm26 5l21 22-26-5-21-22zm25 6l21 22-25-6-21-22zm26 5l21 22-26-5-21-22zm26 5l21 23-26-6-21-22zm26 6l21 22-26-5-21-23zm26 6l21 22-26-6-21-22zm26 6l21 22-26-6-21-22zm27 6l21 22-27-6-21-22zm27 6l20 22-26-6-21-22zm26 6l21 22-27-6-20-22zm27 7l21 21-27-6-21-22zm27 6l21 22-27-7-21-21z"/>
<path class="qn" d="M1441 2813l22 22-22-3-22-22zm23 3l22 22-23-3-22-22zm23 3l22 22-23-3-22-22zm23 3l22 22-23-3-22-22zm23 3l22 22-23-3-22-22zm23 4l22 22-23-4-22-22zm24 4l22 21-24-3-22-22zm23 3l22 22-23-4-22-21zm24 4l22 22-24-4-22-22zm24 4l22 21-24-3-22-22zm24 4l22 21-24-4-22-21zm-456-80l23 21-21-2-23-21zm22 2l23 22-22-3-23-21zm22 3l22 21-21-2-23-22zm22 2l22 21-22-2-22-21zm22 3l22 21-22-3-22-21z"/>
<path class="qp" d="M1329 2780l22 21-22-2-22-21zm22 3l23 21-23-3-22-21zm22 3l23 21-22-3-23-21zm23 3l23 21-23-3-23-21zm23 3l22 21-22-3-23-21zm22 3l23 21-23-3-22-21zm23 3l23 21-23-3-23-21zm23 3l23 21-23-3-23-21zm24 4l22 20-23-3-23-21zm-315-57l23 20-21-2-23-20zm503 104l22 21-24-4-22-21zm24 4l22 22-24-5-22-21zm24 5l22 21-24-4-22-22zm25 4l22 21-25-4-22-21zm24 5l22 21-24-5-22-21zm25 4l22 21-25-4-22-21zm25 5l22 21-25-5-22-21zm25 5l22 21-25-5-22-21zm25 5l22 21-25-5-22-21zm26 5l21 21-25-5-22-21zm25 5l22 21-26-5-21-21zm26 6l21 21-25-6-22-21zm26 5l21 21-26-5-21-21zm26 6l21 20-26-5-21-21zm26 6l21 20-26-6-21-20zm26 5l21 21-26-6-21-20zm26 6l21 21-26-6-21-21zm27 6l21 21-27-6-21-21zm27 7l21 20-27-6-21-21zm26 6l21 20-26-6-21-20zm27 6l21 21-27-7-21-20zm28 7l20 20-27-6-21-21z"/>
<path class="qq" d="M1218 2750l23 20-22-2-23-20zm22 3l23 20-22-3-23-20zm22 2l23 20-22-2-23-20zm22 3l23 20-22-3-23-20zm22 2l23 20-22-2-23-20zm22 3l23 20-22-3-23-20zm23 3l22 20-22-3-23-20zm22 3l23 20-23-3-22-20zm23 3l23 20-23-3-23-20zm138 36l22 21-23-4-22-20zm23 4l23 21-24-4-22-21zm24 4l22 20-23-3-23-21zm24 4l22 20-24-4-22-20zm24 4l22 20-24-4-22-20zm24 4l22 20-24-4-22-20zm24 4l22 20-24-4-22-20zm24 4l22 20-24-4-22-20zm24 4l22 21-24-5-22-20zm25 5l22 20-25-4-22-21zm25 5l21 20-24-5-22-20zm24 4l22 20-25-4-21-20zm25 5l22 20-25-5-22-20zm25 5l22 20-25-5-22-20zm26 5l21 20-25-5-22-20zm25 5l22 20-26-5-21-20zm26 6l21 19-25-5-22-20zm25 5l22 20-26-6-21-19zm26 6l22 19-26-5-22-20zm26 5l22 20-26-6-22-19zm26 6l22 20-26-6-22-20zm27 6l21 19-26-5-22-20zm26 6l21 19-26-6-21-19zm27 6l21 19-27-6-21-19zm26 6l22 20-27-7-21-19zm27 7l21 19-26-6-22-20zm27 6l21 19-27-6-21-19zm28 7l21 19-28-7-21-19z"/>
<path class="qr" d="M1419 2775l22 20-22-3-23-20zm23 3l22 20-23-3-22-20zm23 4l22 19-23-3-22-20zm23 3l23 20-24-4-22-19zm23 4l23 19-23-3-23-20zm24 4l22 19-23-4-23-19zm24 3l22 20-24-4-22-19zm23 4l23 20-24-4-22-20zm24 4l23 20-24-4-23-20zm24 4l23 20-24-4-23-20zm24 5l23 19-24-4-23-20zm25 4l22 19-24-4-23-19zm24 4l22 19-24-4-22-19zm25 5l22 19-25-5-22-19zm24 5l23 19-25-5-22-19zm-579-102l23 19-21-2-23-19zm22 2l23 19-22-2-23-19zm22 3l23 19-22-3-23-19zm22 2l23 19-22-2-23-19zm22 3l23 19-22-3-23-19zm22 3l23 18-22-2-23-19z"/>
<path class="qx" d="M1305 2744l23 19-22-3-23-18zm23 3l23 19-23-3-23-19zm22 3l23 19-22-3-23-19zm23 3l23 19-23-3-23-19zm23 4l23 18-23-3-23-19zm23 3l23 18-23-3-23-18zm23 3l23 19-23-4-23-18zm23 4l23 18-23-3-23-19zm24 4l22 18-23-4-23-18zm23 3l23 19-24-4-22-18zm24 4l23 18-24-3-23-19zm24 4l22 18-23-4-23-18zm-410-71l23 18-21-2-24-18zm22 3l23 17-22-2-23-18zm22 2l23 18-22-3-23-17zm22 3l23 17-22-2-23-18zm561 116l22 19-24-4-23-19zm25 5l22 19-25-5-22-19zm25 5l22 19-25-5-22-19zm26 5l22 19-26-5-22-19zm25 6l22 18-25-5-22-19zm26 5l22 19-26-6-22-18zm26 5l21 19-25-5-22-19zm25 6l22 19-26-6-21-19zm26 6l22 18-26-5-22-19zm27 6l21 18-26-6-22-18zm26 6l22 18-27-6-21-18zm26 6l22 18-26-6-22-18zm27 6l22 18-27-6-22-18z"/>
<path class="qw" d="M1238 2721l23 18-22-3-23-17zm22 3l23 18-22-3-23-18zm22 3l23 17-22-2-23-18zm23 3l23 17-23-3-23-17zm22 3l23 17-22-3-23-17zm23 3l23 17-23-3-23-17zm23 3l23 18-23-4-23-17zm23 4l23 17-23-3-23-18zm23 3l23 17-23-3-23-17zm23 4l23 17-23-4-23-17zm142 36l22 18-24-4-22-18zm24 4l22 18-24-4-22-18zm24 5l22 18-24-5-22-18zm24 4l23 18-25-4-22-18zm25 4l22 18-24-4-23-18zm24 5l23 18-25-5-22-18zm25 5l22 18-24-5-23-18zm25 5l22 17-25-4-22-18zm25 5l22 17-25-5-22-17zm25 5l22 17-25-5-22-17zm26 5l22 17-26-5-22-17zm25 5l22 18-25-6-22-17zm26 6l22 17-26-5-22-18zm25 5l23 17-26-5-22-17zm26 6l22 17-25-6-23-17zm26 6l22 17-26-6-22-17zm27 6l22 17-27-6-22-17zm26 6l22 17-26-6-22-17zm27 6l21 17-26-6-22-17zm26 6l22 17-27-6-21-17z"/>
<path class="qr" d="M2114 2908l21 18-26-6-22-18zm27 7l21 18-27-7-21-18zm27 6l21 18-27-6-21-18zm27 7l22 18-28-7-21-18z"/>
<path class="qw" d="M2092 2892l22 16-27-6-22-17zm27 6l22 17-27-7-22-16zm27 7l22 16-27-6-22-17z"/>
<path class="qaf" d="M2174 2912l21 16-27-7-22-16zm-1047-218l23 17-22-2-23-17zm21 3l24 17-22-3-23-17z"/>
<path class="qad" d="M1466 2753l23 18-24-4-23-17zm23 4l23 17-23-3-23-18zm24 4l23 17-24-4-23-17zm24 4l23 17-24-4-23-17zm24 4l23 17-24-4-23-17zm24 4l23 17-24-4-23-17zm24 5l23 17-24-5-23-17z"/>
<path class="qam" d="M1634 2782l22 17-24-4-23-17zm24 5l23 16-25-4-22-17zm25 4l22 17-24-5-23-16zm25 5l22 17-25-5-22-17zm24 5l23 17-25-5-22-17zm26 5l22 17-25-5-23-17zm25 5l22 17-25-5-22-17zm25 5l23 17-26-5-22-17zm26 6l22 16-25-5-23-17zm25 5l23 17-26-6-22-16zm26 6l22 16-25-5-23-17zm26 6l22 16-26-6-22-16zm26 6l22 16-26-6-22-16zm27 6l22 16-27-6-22-16zm26 6l22 16-26-6-22-16zm27 6l22 16-27-6-22-16zm26 6l22 16-26-6-22-16zm27 7l22 16-27-7-22-16zm27 7l22 15-27-6-22-16zm27 6l22 16-27-7-22-15zm28 7l22 16-28-7-22-16zm-982-197l24 17-22-2-24-17zm22 3l24 17-22-3-24-17zm22 3l24 16-22-2-24-17zm23 2l23 17-22-3-24-16zm22 3l23 17-22-3-23-17zm22 3l24 17-23-3-23-17zm23 3l23 17-22-3-24-17zm23 4l23 16-23-3-23-17zm23 3l23 16-23-3-23-16z"/>
<path class="qal" d="M1373 2726l23 17-23-4-23-16zm23 4l23 16-23-3-23-17zm23 3l23 17-23-4-23-16zm24 4l23 16-24-3-23-17zm23 4l23 16-23-4-23-16zm24 4l23 16-24-4-23-16zm24 4l23 16-24-4-23-16zm24 4l23 16-24-4-23-16zm24 5l23 15-24-4-23-16zm24 4l23 16-24-5-23-15zm25 4l23 16-25-4-23-16zm24 5l23 16-24-5-23-16zm25 5l23 15-25-4-23-16zm25 5l23 15-25-5-23-15zm25 5l22 15-24-5-23-15zm25 5l23 15-26-5-22-15zm25 5l23 15-25-5-23-15zm26 5l22 15-25-5-23-15zm25 6l23 15-26-6-22-15zm26 5l22 15-25-5-23-15zm26 6l22 15-26-6-22-15zm26 6l22 15-26-6-22-15zm-786-145l24 15-22-2-24-16zm22 2l23 16-21-3-24-15zm22 3l23 15-22-2-23-16zm22 2l23 16-22-3-23-15zm22 3l23 16-22-3-23-16zm22 3l24 15-23-2-23-16zm22 3l24 15-22-3-24-15z"/>
<path class="qav" d="M1915 2830l22 15-26-6-22-15zm26 6l23 15-27-6-22-15zm27 6l22 15-26-6-23-15zm26 6l23 15-27-6-22-15zm27 7l22 14-26-6-23-15zm27 6l22 15-27-7-22-14zm27 7l22 15-27-7-22-15zm27 7l22 14-27-6-22-15zm28 7l22 14-28-7-22-14z"/>
<path class="qbc" d="M1079 2664l24 15-22-3-24-14zm22 3l24 14-22-2-24-15zm22 2l24 15-22-3-24-14zm22 3l24 14-22-2-24-15zm22 3l24 14-22-3-24-14z"/>
<path class="qbd" d="M1189 2678l24 14-22-3-24-14zm23 3l23 14-22-3-24-14zm-157-30l24 13-22-2-23-14zm22 2l24 14-22-3-24-13zm22 3l24 13-22-2-24-14z"/>
<path class="qau" d="M1258 2698l23 15-22-3-24-15zm23 3l23 15-23-3-23-15zm22 3l24 16-23-4-23-15zm23 4l24 15-23-3-24-16zm23 3l24 15-23-3-24-15zm24 4l23 15-23-4-24-15zm23 3l23 15-23-3-23-15z"/>
<path class="qbc" d="M1419 2722l24 15-24-4-23-15zm24 4l23 15-23-4-24-15zm24 4l23 15-24-4-23-15zm24 4l23 15-24-4-23-15zm24 5l23 14-24-4-23-15zm24 4l23 15-24-5-23-14zm24 4l23 15-24-4-23-15z"/>
<path class="qbd" d="M1588 2752l23 14-25-4-23-15zm24 5l23 14-24-5-23-14zm25 4l23 15-25-5-23-14zm25 5l23 15-25-5-23-15zm25 5l23 15-25-5-23-15zm25 6l23 14-25-5-23-15zm25 5l23 14-25-5-23-14zm26 5l23 14-26-5-23-14zm25 6l23 14-25-6-23-14zm26 6l23 13-26-5-23-14zm26 5l23 14-26-6-23-13zm26 6l23 14-26-6-23-14zm-632-126l24 14-23-3-23-14zm23 3l24 14-23-3-24-14zm23 3l23 14-22-3-24-14zm23 4l23 14-23-4-23-14zm23 3l23 14-23-3-23-14zm23 4l24 14-24-4-23-14zm23 4l24 13-23-3-24-14zm24 4l23 13-23-4-24-13zm24 4l23 13-24-4-23-13z"/>
<path class="qbb" d="M1443 2717l24 13-24-4-23-13zm24 4l24 13-24-4-24-13zm24 4l24 14-24-5-24-13zm25 5l23 13-24-4-24-14zm24 4l23 13-24-4-23-13zm-419-75l24 13-22-3-24-13zm22 3l24 13-22-3-24-13zm23 3l23 13-22-3-24-13z"/>
<path class="qjz" d="M1188 2668l24 13-23-3-23-13zm23 3l23 13-22-3-24-13zm353 68l24 13-25-5-23-13zm25 5l23 13-24-5-24-13zm25 5l23 12-25-4-23-13z"/>
<path class="qbq" d="M1639 2754l23 12-25-5-23-12zm25 5l23 12-25-5-23-12zm25 5l23 13-25-6-23-12zm-456-90l24 13-23-3-23-13zm23 4l24 12-23-3-24-13zm23 3l24 13-23-4-24-12zm23 4l24 12-23-3-24-13z"/>
<path class="qcf" d="M1325 2689l24 12-23-4-24-12zm24 4l23 12-23-4-24-12zm23 4l24 12-24-4-23-12zm24 4l24 12-24-4-24-12zm-365-62l24 12-21-3-25-12zm22 2l24 12-22-2-24-12zm22 3l24 12-22-3-24-12z"/>
<path class="qcv" d="M1097 2647l24 12-22-3-24-12zm22 3l24 12-22-3-24-12zm23 3l24 12-23-3-24-12zm22 4l24 11-22-3-24-12zm23 3l24 11-23-3-24-11zm22 3l24 11-22-3-24-11zm211 42l23 12-23-4-24-12zm24 4l23 12-24-4-23-12zm24 5l23 11-24-4-23-12zm24 4l24 12-25-5-23-11zm24 5l24 11-24-4-24-12z"/>
<path class="qcu" d="M1541 2728l23 11-24-5-24-11zm24 4l24 12-25-5-23-11zm25 5l24 12-25-5-24-12zm-358-70l24 11-23-4-24-11zm23 3l24 11-23-3-24-11zm23 4l24 11-23-4-24-11zm24 4l23 11-23-4-24-11zm23 4l24 11-24-4-23-11zm-318-54l24 11-22-3-24-10zm22 3l24 10-22-2-24-11z"/>
<path class="qdl" d="M1051 2634l24 10-22-3-24-10zm22 3l24 10-22-3-24-10zm22 3l24 10-22-3-24-10zm22 3l25 10-23-3-24-10zm23 3l24 11-22-4-25-10zm208 40l24 11-23-4-24-11zm24 4l24 11-24-4-24-11zm24 4l24 11-24-4-24-11zm24 5l24 10-24-4-24-11z"/>
<path class="qdn" d="M1444 2703l24 11-24-5-24-10zm24 5l24 10-24-4-24-11zm-306-58l25 10-23-3-24-11zm23 3l24 10-22-3-25-10zm23 4l24 10-23-4-24-10zm23 4l24 9-23-3-24-10zm-248-42l24 9-22-2-24-10z"/>
<path class="qdo" d="M1004 2622l25 9-22-3-24-9zm22 3l25 9-22-3-25-9zm22 3l25 9-22-3-25-9zm206 36l24 10-23-4-24-9zm23 4l25 10-24-4-24-10z"/>
<path class="qbc" d="M1892 2816l23 14-26-6-23-14zm27 6l22 14-26-6-23-14z"/>
<path class="qcg" d="M1714 2769l23 13-25-5-23-13zm26 6l23 12-26-5-23-13z"/>
<path class="qdm" d="M1615 2742l24 12-25-5-24-12z"/>
<path class="qec" d="M1493 2712l23 11-24-5-24-10zm24 5l24 11-25-5-23-11z"/>
<path class="qew" d="M1542 2722l23 10-24-4-24-11zm25 5l23 10-25-5-23-10zm-266-55l24 10-23-4-25-10z"/>
<path class="qir" d="M1324 2676l24 10-23-4-24-10zm268 56l23 10-25-5-23-10zm-521-101l24 9-22-3-25-9z"/>
<path class="qed" d="M1093 2634l24 9-22-3-24-9zm23 3l24 9-23-3-24-9zm22 4l24 9-22-4-24-9zm23 3l24 9-23-3-24-9zm187 37l24 9-24-4-24-10zm24 4l24 9-24-4-24-9zm24 4l24 10-24-5-24-9zm24 5l24 9-24-4-24-10z"/>
<path class="qef" d="M1444 2699l24 9-24-5-24-9zm25 4l24 9-25-4-24-9zm24 5l24 9-24-5-24-9zm-309-60l24 9-23-4-24-9zm23 4l24 9-23-4-24-9zm23 4l24 8-23-3-24-9zm-272-45l25 8-22-3-25-8zm22 3l24 8-21-3-25-8zm22 3l24 8-22-3-24-8z"/>
<path class="qdk" d="M1024 2620l24 8-22-3-24-8zm22 3l25 8-23-3-24-8zm207 37l24 8-23-4-24-8zm24 4l24 8-24-4-24-8z"/>
<path class="qex" d="M1300 2668l24 8-23-4-24-8zm24 4l24 9-24-5-24-8zm-255-46l24 8-22-3-25-8zm449 87l24 9-25-5-24-9zm25 5l24 9-25-5-24-9zm25 6l24 8-25-5-24-9z"/>
<path class="qgf" d="M1091 2630l25 7-23-3-24-8zm257 47l24 8-24-4-24-9z"/>
<path class="qdx" d="M1372 2681l24 8-24-4-24-8zm24 5l24 8-24-5-24-8zm-282-53l24 8-22-4-25-7zm22 4l25 7-23-3-24-8zm23 4l25 7-23-4-25-7zm-226-37l25 7-22-3-24-7z"/>
<path class="qdz" d="M955 2607l25 7-22-3-25-7zm22 3l25 7-22-3-25-7zm22 3l25 7-22-3-25-7zm183 31l25 8-23-4-25-7zm24 4l24 8-23-4-25-8zm214 43l24 8-24-5-24-8zm25 5l24 7-25-4-24-8z"/>
<path class="qfn" d="M1469 2701l24 7-24-5-24-7zm-240-49l24 8-23-4-24-8z"/>
<path class="qeh" d="M1252 2657l25 7-24-4-24-8zm24 4l24 7-23-4-25-7zm24 4l24 7-24-4-24-7zm194 41l24 7-25-5-24-7zm25 5l24 7-25-5-24-7zm-497-95l24 7-22-3-25-7zm22 4l25 6-23-3-24-7zm22 3l25 7-22-4-25-6z"/>
<path class="qei" d="M1089 2627l25 6-23-3-25-7zm23 3l24 7-22-4-25-6zm23 4l24 7-23-4-24-7zm23 4l24 6-23-3-24-7zm23 4l25 6-24-4-24-6zm23 4l25 6-23-4-25-6zm24 5l24 6-23-5-25-6zm23 4l25 6-24-4-24-6zm24 5l25 5-24-4-25-6zm269 56l24 8-25-6-24-7zm-221-46l25 7-24-5-24-7zm24 4l25 7-24-4-25-7zm25 5l24 7-24-5-25-7zm24 5l24 7-24-5-24-7zm24 5l25 7-25-5-24-7zm25 5l24 7-24-5-25-7zm25 5l24 7-25-5-24-7zm25 6l24 6-25-5-24-7zm25 5l24 6-25-5-24-6zm-221-46l24 6-23-5-25-5zm24 5l24 5-24-4-24-6zm24 5l25 5-25-5-24-5zm24 5l25 5-24-5-25-5zm25 5l24 5-24-5-25-5zm25 5l24 5-25-5-24-5zm24 5l25 5-25-5-24-5zm25 6l25 5-25-6-25-5zm25 5l25 5-25-5-25-5zm-587-107l25 6-21-3-25-6zm22 3l25 6-22-3-25-6zm22 3l25 6-22-3-25-6zm22 3l25 6-22-3-25-6zm23 4l25 5-23-3-25-6zm22 3l25 6-22-4-25-5zm23 4l24 5-22-3-25-6zm22 3l25 6-23-4-24-5zm23 4l25 5-23-3-25-6zm23 4l25 5-23-4-25-5zm23 4l25 5-23-4-25-5zm23 4l25 5-23-4-25-5zm24 5l24 4-23-4-25-5zm23 4l25 5-24-5-24-4zm24 4l24 5-23-4-25-5zm23 5l25 5-24-5-24-5zm24 5l25 4-24-4-25-5zm24 5l25 4-24-5-25-4zm25 4l24 5-24-5-25-4zm24 6l24 4-24-5-24-5zm24 5l25 4-25-5-24-4zm25 5l25 4-25-5-25-4zm25 5l24 4-24-5-25-4zm25 6l24 4-25-6-24-4zm25 6l24 3-25-5-24-4zm-587-109l24 5-21-3-25-5zm21 3l25 5-22-3-24-5zm22 4l25 4-22-3-25-5zm23 3l24 4-22-3-25-4zm22 3l25 5-23-4-24-4zm22 4l25 4-22-3-25-5zm23 4l25 4-23-4-25-4zm22 3l25 4-22-3-25-4zm23 4l25 4-23-4-25-4zm23 4l25 4-23-4-25-4zm23 5l25 3-23-4-25-4zm23 4l25 3-23-4-25-3zm24 4l25 4-24-5-25-3zm23 5l25 3-23-4-25-4zm24 4l25 3-24-4-25-3zm24 5l24 3-23-5-25-3zm23 5l25 3-24-5-24-3zm25 5l24 3-24-5-25-3zm24 5l25 2-25-4-24-3zm24 5l25 3-24-6-25-2zm-464-82l26 3-22-3-25-3zm22 3l25 3-21-3-26-3zm22 3l25 4-22-4-25-3zm22 4l26 3-23-3-25-4zm23 3l25 3-22-3-26-3zm22 4l25 3-22-4-25-3zm23 4l25 3-23-4-25-3zm22 4l25 2-22-3-25-3zm23 4l25 2-23-4-25-2zm23 4l25 2-23-4-25-2zm23 4l25 3-23-5-25-2zm23 4l25 3-23-4-25-3zm24 5l25 2-24-4-25-3zm-297-48l25 2-21-3-25-3zm22 3l25 2-22-3-25-2zm22 3l25 2-22-3-25-2zm22 4l25 2-22-4-25-2zm23 4l25 1-23-3-25-2zm22 3l25 2-22-4-25-1z"/>
<path class="qeh" d="M966 2609l26 2-23-4-25-2zm-158-22l25 1-21-4-26-1zm345 53l25 3-23-5-25-2zm194 37l24 3-24-5-25-3z"/>
<path class="qeg" d="M1371 2682l25 3-25-5-24-3zm-194-37l25 2-24-4-25-3zm-347-55l25 1-22-3-25-1zm159 23l25 2-22-4-26-2z"/>
<path class="qdz" d="M1012 2617l25 2-23-4-25-2zm23 5l25 1-23-4-25-2zm-183-28l25 0-22-3-25-1zm349 56l25 2-24-5-25-2zm23 5l25 2-23-5-25-2zm172 33l25 2-25-5-25-3zm25 5l25 3-25-6-25-2z"/>
<path class="qdy" d="M1446 2699l25 3-25-6-25-3zm-197-39l25 2-25-5-25-2zm24 5l25 2-24-5-25-2zm-215-39l25 1-23-4-25-1zm23 4l25 1-23-4-25-1z"/>
<path class="qfp" d="M1105 2635l25 1-24-5-25-1zm23 5l25 0-23-4-25-1zm169 30l25 2-24-5-25-2zm-514-83l25 0-22-4-25 1z"/>
<path class="qdj" d="M804 2591l26-1-22-3-25 0zm518 85l25 1-25-5-25-2zm24 5l25 1-24-5-25-1zm-194-37l25 1-24-5-25 0z"/>
<path class="qdh" d="M1175 2649l26 1-24-5-25-1zm24 5l25 1-23-5-26-1zm172 33l25 1-25-6-25-1zm25 5l25 1-25-5-25-1z"/>
<path class="qgx" d="M1421 2698l25 1-25-6-25-1zm-198-39l26 1-25-5-25-1zm25 6l25 0-24-5-26-1zm-491-76l26-2-22-3-26 1z"/>
<path class="qhi" d="M779 2592l25-1-21-4-26 2zm493 78l25 0-24-5-25 0z"/>
<path class="qbt" d="M1945 2829l23 13-27-6-22-14z"/>
<path class="qcw" d="M1765 2780l23 13-25-6-23-12zm26 6l23 13-26-6-23-13zm26 6l23 12-26-5-23-13z"/>
<path class="qeb" d="M1640 2748l24 11-25-5-24-12zm25 5l24 11-25-5-24-11zm26 5l23 11-25-5-24-11zm25 6l24 11-26-6-23-11z"/>
<path class="qec" d="M1742 2770l23 10-25-5-24-11zm26 5l23 11-26-6-23-10z"/>
<path class="qew" d="M1794 2781l23 11-26-6-23-11z"/>
<path class="qed" d="M1617 2738l23 10-25-6-23-10zm25 5l23 10-25-5-23-10zm25 6l24 9-26-5-23-10z"/>
<path class="qgf" d="M1593 2729l24 9-25-6-24-8z"/>
<path class="qdx" d="M1618 2735l24 8-25-5-24-9zm26 5l23 9-25-6-24-8z"/>
<path class="qei" d="M1569 2722l24 7-25-5-24-8zm25 5l24 8-25-6-24-7zm26 6l24 7-26-5-24-8zm-75-17l24 6-25-6-24-6zm25 5l24 6-25-5-24-6zm26 6l24 6-26-6-24-6zm-76-16l25 5-25-6-25-5zm26 6l24 4-25-5-25-5zm25 6l25 4-26-6-24-4zm-75-16l24 4-25-6-24-3zm25 6l25 4-26-6-24-4zm26 6l24 4-25-6-25-4z"/>
<path class="qdy" d="M1471 2705l25 2-25-5-25-3z"/>
<path class="qdk" d="M1496 2711l25 2-25-6-25-2z"/>
<path class="qfp" d="M1522 2717l25 2-26-6-25-2z"/>
<path class="qey" d="M874 2597l25 1-22-4-25 0z"/>
<path class="qdy" d="M896 2601l26 1-23-4-25-1zm23 4l25 0-22-3-26-1z"/>
<path class="qfp" d="M941 2609l25 0-22-4-25 0z"/>
<path class="qdj" d="M964 2613l25 0-23-4-25 0z"/>
<path class="qek" d="M987 2617l25 0-23-4-25 0zm-161-23l26 0-22-4-26 1z"/>
<path class="qdh" d="M849 2598l25-1-22-3-26 0zm161 24l25 0-23-5-25 0z"/>
<path class="qht" d="M801 2596l25-2-22-3-25 1zm495 79l26 1-25-6-25 0z"/>
<path class="qel" d="M1033 2626l25 0-23-4-25 0zm-162-24l25-1-22-4-25 1z"/>
<path class="qgx" d="M893 2606l26-1-23-4-25 1zm163 25l25-1-23-4-25 0zm390 73l25 1-25-6-25-1z"/>
<path class="qgg" d="M1321 2681l25 0-24-5-26-1zm-498-81l26-2-23-4-25 2z"/>
<path class="qem" d="M1079 2635l26 0-24-5-25 1zm-163-25l25-1-22-4-26 1z"/>
<path class="qhi" d="M938 2614l26-1-23-4-25 1zm165 26l25 0-23-5-26 0z"/>
<path class="qid" d="M845 2604l26-2-22-4-26 2zm501 83l25 0-25-6-25 0zm25 6l25-1-25-5-25 0z"/>
<path class="qhj" d="M1396 2699l25-1-25-6-25 1zm25 6l25-1-25-6-25 1zm-690-113l26-3-22-4-25 3z"/>
<path class="qht" d="M1126 2645l26-1-24-4-25 0z"/>
<path class="qgg" d="M1150 2650l25-1-23-5-26 1zm-189-31l26-2-23-4-26 1zm23 4l26-1-23-5-26 2z"/>
<path class="qid" d="M1007 2627l26-1-23-4-26 1zm167 28l25-1-24-5-25 1z"/>
<path class="qfq" d="M1030 2632l26-1-23-5-26 1zm-162-24l25-2-22-4-26 2z"/>
<path class="qhj" d="M890 2612l26-2-23-4-25 2zm164 25l25-2-23-4-26 1zm144 23l25-1-24-5-25 1zm24 6l26-1-25-6-25 1z"/>
<path class="qgi" d="M913 2617l25-3-22-4-26 2zm-160-22l26-3-22-3-26 3z"/>
<path class="qks" d="M775 2599l26-3-22-4-26 3zm472 72l25-1-24-5-26 1zm-170-29l26-2-24-5-25 2z"/>
<path class="qie" d="M1101 2647l25-2-23-5-26 2zm170 30l25-2-24-5-25 1zm-335-56l25-2-23-5-25 3z"/>
<path class="qio" d="M959 2626l25-3-23-4-25 2zm23 4l25-3-23-4-25 3zm314 52l25-1-25-6-25 2zm-171-30l25-2-24-5-25 2z"/>
<path class="qgy" d="M1005 2635l25-3-23-5-25 3zm23 5l26-3-24-5-25 3zm24 5l25-3-23-5-26 3zm23 5l26-3-24-5-25 3zm-369-54l25-4-21-4-26 4zm21 4l26-5-22-3-25 4zm22 4l26-5-22-4-26 5z"/>
<path class="qiv" d="M1149 2657l25-2-24-5-25 2zm172 31l25-1-25-6-25 1zm25 6l25-1-25-6-25 1zm25 6l25-1-25-6-25 1zm25 7l25-2-25-6-25 1z"/>
<path class="qhk" d="M680 2601l26-5-22-4-26 6zm22 4l25-5-21-4-26 5zm22 5l25-6-22-4-25 5zm-70-2l26-7-22-3-26 6zm445 47l26-3-24-5-26 3zm24 6l26-4-24-5-26 3z"/>
<path class="qmo" d="M1972 2835l22 13-26-6-23-13zm27 7l22 13-27-7-22-13zm27 6l22 13-27-6-22-13z"/>
<path class="qmp" d="M1843 2798l23 12-26-6-23-12zm26 6l23 12-26-6-23-12zm27 6l23 12-27-6-23-12z"/>
<path class="qew" d="M1820 2787l23 11-26-6-23-11z"/>
<path class="qge" d="M1693 2754l23 10-25-6-24-9zm26 6l23 10-26-6-23-10zm25 6l24 9-26-5-23-10z"/>
<path class="qex" d="M1770 2772l24 9-26-6-24-9zm27 6l23 9-26-6-24-9z"/>
<path class="qfn" d="M1669 2746l24 8-26-5-23-9zm26 6l24 8-26-6-24-8z"/>
<path class="qei" d="M1645 2739l24 7-25-6-24-7zm26 6l24 7-26-6-24-7zm-50-12l24 6-25-6-24-6zm26 6l24 6-26-6-24-6zm-50-10l24 4-25-6-25-4zm26 6l24 4-26-6-24-4z"/>
<path class="qeh" d="M1572 2725l25 4-26-6-24-4zm149 33l23 8-25-6-24-8zm26 6l23 8-26-6-23-8zm26 6l24 8-27-6-23-8z"/>
<path class="qei" d="M1697 2751l24 7-26-6-24-7zm26 6l24 7-26-6-24-7zm26 6l24 7-26-6-24-7zm-76-18l24 6-26-6-24-6zm26 7l24 5-26-6-24-6zm26 6l24 5-26-6-24-5zm-76-17l24 4-26-6-24-4zm26 6l24 5-26-7-24-4zm26 7l24 4-26-6-24-5z"/>
<path class="qeg" d="M1598 2732l25 3-26-6-25-4z"/>
<path class="qdz" d="M1624 2738l25 3-26-6-25-3zm26 7l25 2-26-6-25-3z"/>
<path class="qdx" d="M1676 2751l25 3-26-7-25-2z"/>
<path class="qdj" d="M1548 2723l24 2-25-6-25-2zm25 7l25 2-26-7-24-2z"/>
<path class="qdh" d="M1599 2736l25 2-26-6-25-2zm27 7l24 2-26-7-25-2z"/>
<path class="qmq" d="M1472 2710l24 1-25-6-25-1z"/>
<path class="qhi" d="M1497 2717l25 0-26-6-24-1z"/>
<path class="qht" d="M1523 2723l25 0-26-6-25 0zm26 6l24 1-25-7-25 0z"/>
<path class="qgy" d="M1173 2662l25-2-24-5-25 2zm24 6l25-2-24-6-25 2zm24 6l26-3-25-5-25 2z"/>
<path class="qhk" d="M1246 2679l25-2-24-6-26 3zm24 6l26-3-25-5-25 2zm25 6l26-3-25-6-26 3zm25 6l26-3-25-6-26 3zm-173-31l26-4-24-5-26 4zm24 6l26-4-24-6-26 4zm25 5l25-3-24-6-26 4zm24 6l26-4-25-5-25 3z"/>
<path class="qhv" d="M1245 2689l25-4-24-6-26 4zm25 6l25-4-25-6-25 4zm25 7l25-5-25-6-25 4zm-619-90l26-7-22-4-26 7zm22 5l26-7-22-5-26 7z"/>
<path class="qgl" d="M797 2603l26-3-22-4-26 3z"/>
<path class="qgy" d="M771 2608l26-5-22-4-26 5z"/>
<path class="qio" d="M820 2607l25-3-22-4-26 3z"/>
<path class="qhk" d="M794 2612l26-5-23-4-26 5zm-48 2l25-6-22-4-25 6zm22 4l26-6-23-4-25 6z"/>
<path class="qgy" d="M842 2612l26-4-23-4-25 3zm22 4l26-4-22-4-26 4zm23 4l26-3-23-5-26 4zm23 5l26-4-23-4-26 3zm23 5l26-4-23-5-26 4z"/>
<path class="qhk" d="M956 2634l26-4-23-4-26 4zm23 5l26-4-23-5-26 4zm23 5l26-4-23-5-26 4zm24 5l26-4-24-5-26 4zm24 6l25-5-23-5-26 4zm23 5l26-5-24-5-25 5zm-257-44l26-4-22-5-26 5zm23 5l25-5-22-4-26 4zm22 4l26-5-23-4-25 5zm23 5l26-5-23-5-26 5zm23 5l26-5-23-5-26 5zm23 5l26-6-23-4-26 5zm-140-17l26-7-22-4-26 6z"/>
<path class="qhv" d="M813 2627l26-6-23-5-26 7zm22 5l26-7-22-4-26 6zm23 5l26-7-23-5-26 7zm23 5l26-7-23-5-26 7zm23 5l26-7-23-5-26 7zm49-2l26-6-23-5-26 6zm24 5l25-6-23-5-26 6zm23 5l26-6-24-5-25 6zm24 6l26-6-24-6-26 6zm24 5l25-6-23-5-26 6zm-121-14l26-7-23-5-26 7zm170 13l26-4-24-6-26 5zm24 6l26-5-24-5-26 4zm25 6l25-5-24-6-26 5zm24 6l26-6-25-5-25 5zm24 6l26-6-24-6-26 6zm25 6l26-6-25-6-26 6zm-148-23l26-7-24-5-25 6zm-351-51l26-7-22-4-26 7zm22 5l26-8-22-4-26 7zm22 4l26-7-22-5-26 8zm23 5l26-8-23-4-26 7zm22 5l26-8-22-5-26 8z"/>
<path class="qhl" d="M832 2645l26-8-23-5-26 8zm23 5l26-8-23-5-26 8zm23 5l26-8-23-5-26 8zm23 5l26-8-23-5-26 8zm195 17l25-6-24-6-26 7zm24 6l26-6-25-6-25 6zm24 6l26-6-24-6-26 6zm25 6l25-6-24-6-26 6zm24 7l26-7-25-6-25 6zm51-1l26-6-25-6-26 6zm25 6l26-5-25-7-26 6zm-51 1l26-7-25-6-26 7zm25 6l26-7-25-6-26 7zm-292-57l26-7-24-5-26 7zm23 5l26-7-23-5-26 7zm24 6l26-7-24-6-26 7zm24 5l26-7-24-5-26 7zm23 6l26-7-23-6-26 7zm25 6l26-8-25-5-26 7zm24 6l26-8-24-6-26 8zm24 6l26-8-24-6-26 8zm25 6l26-8-25-6-26 8zm24 7l26-8-24-7-26 8zm-242-45l26-8-24-5-26 8zm23 6l26-9-23-5-26 8zm24 6l26-9-24-6-26 9zm23 5l27-9-24-5-26 9zm24 6l26-9-23-6-27 9zm24 6l27-9-25-6-26 9zm25 6l26-9-24-6-27 9z"/>
<path class="qif" d="M1092 2707l26-10-24-6-26 9zm24 6l27-10-25-6-26 10zm25 6l26-9-24-7-27 10zm51-3l26-8-25-6-26 8zm25 7l26-9-25-6-26 8zm-51 3l26-10-25-6-26 9zm25 7l26-10-25-7-26 10z"/>
<path class="qhu" d="M628 2617l26-9-22-4-26 8z"/>
<path class="qhv" d="M650 2621l26-9-22-4-26 9zm21 4l27-8-22-5-26 9z"/>
<path class="qmr" d="M2053 2855l22 13-27-7-22-13zm27 7l22 13-27-7-22-13z"/>
<path class="qms" d="M1922 2817l23 12-26-7-23-12z"/>
<path class="qdm" d="M1949 2823l23 12-27-6-23-12z"/>
<path class="qmt" d="M1846 2794l23 10-26-6-23-11z"/>
<path class="qgf" d="M1823 2784l23 10-26-7-23-9z"/>
<path class="qei" d="M1799 2777l24 7-26-6-24-8zm-24-7l24 7-26-7-24-7zm-23-5l23 5-26-7-24-5zm-25-4l25 4-27-7-24-4z"/>
<path class="qdy" d="M1703 2758l24 3-26-7-25-3z"/>
<path class="qdg" d="M1652 2750l24 1-26-6-24-2zm26 7l25 1-27-7-24-1z"/>
<path class="qlf" d="M1447 2711l25-1-26-6-25 1z"/>
<path class="qie" d="M1472 2717l25 0-25-7-25 1z"/>
<path class="qiv" d="M1421 2713l26-2-26-6-25 2z"/>
<path class="qjd" d="M1447 2719l25-2-25-6-26 2zm-102-16l26-3-25-6-26 3zm25 7l26-3-25-7-26 3zm26 6l25-3-25-6-26 3z"/>
<path class="qhu" d="M1421 2723l26-4-26-6-25 3z"/>
<path class="qhv" d="M1320 2708l25-5-25-6-25 5z"/>
<path class="qhl" d="M1294 2714l26-6-25-6-26 5zm-600-84l26-9-22-4-27 8zm22 4l26-8-22-5-26 9zm22 5l26-9-22-4-26 8zm23 5l26-9-23-5-26 9zm22 5l26-9-22-5-26 9zm23 5l26-9-23-5-26 9zm23 5l26-9-23-5-26 9zm23 5l26-9-23-5-26 9zm23 6l26-10-23-5-26 9zm23 5l27-10-24-5-26 10z"/>
<path class="qif" d="M922 2681l26-10-23-6-27 10zm24 6l26-10-24-6-26 10zm23 5l26-10-23-5-26 10zm24 7l26-11-24-6-26 10zm24 6l26-11-24-6-26 11zm24 6l27-11-25-6-26 11zm25 6l26-10-24-7-27 11zm24 7l26-11-24-6-26 10zm25 7l26-12-25-6-26 11zm25 6l26-11-25-7-26 12zm25 7l26-11-25-7-26 11zm103-23l26-7-25-7-26 7zm-26 9l26-9-25-7-26 9zm-26 10l26-10-25-7-26 10zm-26 11l26-11-25-7-26 11zm-588-125l26-9-22-5-26 10zm21 5l27-10-22-4-26 9zm22 4l26-10-21-4-27 10zm22 5l27-10-23-5-26 10zm23 4l26-10-22-4-27 10zm22 5l26-10-22-5-26 10zm22 5l27-10-23-5-26 10zm23 5l26-10-22-5-27 10zm23 5l26-10-23-5-26 10zm23 6l26-11-23-5-26 10zm23 5l26-11-23-5-26 11zm23 6l26-11-23-6-26 11zm23 5l26-11-23-5-26 11zm24 6l26-11-24-6-26 11zm23 6l27-11-24-6-26 11zm24 6l26-12-23-5-27 11zm24 6l26-11-24-7-26 12zm24 7l26-12-24-6-26 11zm24 6l26-12-24-6-26 12zm24 7l27-13-25-6-26 12zm25 6l26-12-24-7-27 13zm24 7l27-12-25-7-26 12zm25 7l27-13-25-6-27 12zm-538-113l27-11-22-4-26 11zm22 5l26-11-21-5-27 11zm22 4l26-11-22-4-26 11zm22 5l26-11-22-5-26 11zm22 5l27-12-23-4-26 11zm23 5l26-12-22-5-27 12zm22 5l26-12-22-5-26 12zm23 5l26-12-23-5-26 12zm22 5l27-12-23-5-26 12zm23 6l27-12-23-6-27 12zm23 5l27-12-23-5-27 12zm23 6l27-12-23-6-27 12zm24 6l26-13-23-5-27 12zm23 6l27-13-24-6-26 13zm24 6l26-13-23-6-27 13zm24 6l26-13-24-6-26 13zm23 6l27-13-24-6-26 13z"/>
<path class="qih" d="M964 2730l27-13-24-7-27 13zm25 7l26-14-24-6-27 13zm24 6l26-13-24-7-26 14zm24 7l27-14-25-6-26 13zm25 7l26-14-24-7-27 14zm25 7l26-14-25-7-26 14zm-538-115l26-12-21-4-27 12zm22 5l26-12-22-5-26 12zm22 5l26-13-22-4-26 12zm22 5l26-13-22-5-26 13zm22 5l26-13-22-5-26 13zm22 5l27-13-23-5-26 13zm23 5l26-13-22-5-27 13zm22 5l27-13-23-5-26 13zm23 6l26-14-22-5-27 13zm23 5l26-13-23-6-26 14zm23 6l26-14-23-5-26 13zm23 6l26-14-23-6-26 14zm23 6l27-14-24-6-26 14zm24 6l26-14-23-6-27 14zm23 6l27-14-24-6-26 14zm24 7l27-15-24-6-27 14zm24 6l26-15-23-6-27 15zm24 7l26-15-24-7-26 15zm24 6l27-14-25-7-26 15zm24 7l27-15-24-6-27 14zm25 7l26-15-24-7-27 15zm24 7l27-15-25-7-26 15zm-512-109l26-14-22-4-26 13zm22 5l26-14-22-5-26 14zm21 5l27-14-22-5-26 14zm22 5l27-14-22-5-27 14zm23 5l26-14-22-5-27 14zm22 5l26-14-22-5-26 14zm22 5l27-14-23-5-26 14zm23 6l26-15-22-5-27 14zm23 6l26-15-23-6-26 15zm22 5l27-15-23-5-26 15zm23 6l27-15-23-6-27 15zm23 6l27-15-23-6-27 15zm24 6l26-15-23-6-27 15zm23 7l27-16-24-6-26 15zm322 22l27-13-25-7-27 13zm25 7l27-13-25-7-27 13zm-51 7l26-14-25-7-26 14zm25 8l26-15-25-7-26 14z"/>
<path class="qip" d="M840 2741l26-16-23-6-27 16zm23 7l27-16-24-7-26 16zm24 6l27-16-24-6-27 16zm24 7l27-16-24-7-27 16zm24 7l27-17-24-6-27 16zm25 7l26-17-24-7-27 17zm24 7l27-17-25-7-26 17zm25 7l26-17-24-7-27 17zm-513-111l27-15-22-5-26 15zm22 5l27-15-22-5-27 15zm22 5l26-15-21-5-27 15zm22 5l26-15-22-5-26 15zm22 5l27-15-23-5-26 15zm22 6l27-16-22-5-27 15zm23 5l26-16-22-5-27 16zm22 6l27-16-23-6-26 16zm23 6l27-16-23-6-27 16zm23 6l26-17-22-5-27 16zm23 6l26-17-23-6-26 17zm23 6l26-17-23-6-26 17zm23 6l27-17-24-6-26 17zm23 7l27-17-23-7-27 17zm24 6l27-17-24-6-27 17zm24 7l26-17-23-7-27 17zm23 7l27-18-24-6-26 17zm24 7l27-18-24-7-27 18zm-414-85l26-16-21-5-27 16zm22 5l26-16-22-5-26 16zm21 6l27-17-22-5-26 16zm22 5l27-17-22-5-27 17zm23 5l26-17-22-5-27 17zm502 65l27-16-25-7-27 15zm25 7l27-16-25-7-27 16zm25 8l27-16-25-8-27 16zm-77 2l27-17-25-8-26 17zm25 7l27-17-25-7-27 17zm25 8l27-17-25-8-27 17z"/>
<path class="qiw" d="M580 2721l26-17-22-6-26 17zm22 6l27-18-23-5-26 17zm23 6l26-18-22-6-27 18zm22 5l27-17-23-6-26 18zm23 7l27-18-23-6-27 17zm23 6l27-18-23-6-27 18zm23 6l27-18-23-6-27 18zm23 6l27-18-23-6-27 18zm24 7l26-18-23-7-27 18zm23 7l27-19-24-6-26 18zm24 7l27-19-24-7-27 19zm24 7l26-19-23-7-27 19zm24 7l26-19-24-7-26 19zm-415-86l27-18-22-5-26 18zm22 5l27-18-22-5-27 18zm22 6l26-18-21-6-27 18zm22 5l26-18-22-5-26 18zm22 6l27-19-23-5-26 18zm22 6l27-19-22-6-27 19zm23 5l26-18-22-6-27 19zm22 6l27-18-23-6-26 18zm23 6l26-19-22-5-27 18zm22 7l27-19-23-7-26 19zm266 22l26-18-24-7-27 18zm24 7l27-18-25-7-26 18zm24 7l27-18-24-7-27 18zm25 8l27-19-25-7-27 18zm24 7l27-18-24-8-27 19zm25 8l27-19-25-7-27 18zm25 8l27-19-25-8-27 19zm-174-26l27-19-25-7-26 19zm24 7l27-19-24-7-27 19z"/>
<path class="qje" d="M930 2820l27-20-24-7-27 19zm25 7l27-19-25-8-27 20zm25 8l26-20-24-7-27 19zm24 8l27-20-25-8-26 20zm25 8l27-20-25-8-27 20zm-363-81l27-19-23-6-27 19zm23 7l27-20-23-6-27 19zm24 6l26-20-23-6-27 20zm23 7l27-20-24-7-26 20zm23 7l27-20-23-7-27 20zm24 7l27-20-24-7-27 20zm24 7l27-20-24-7-27 20zm24 7l27-20-24-7-27 20zm24 8l27-21-24-7-27 20zm24 7l27-21-24-7-27 21zm24 8l27-21-24-8-27 21zm-486-110l26-19-21-5-27 19zm22 6l26-20-22-5-26 19zm21 5l27-19-22-6-26 20zm22 6l27-20-22-5-27 19zm22 6l27-20-22-6-27 20zm23 5l26-19-22-6-27 20zm22 7l27-21-23-5-26 19zm22 6l27-21-22-6-27 21zm23 6l27-21-23-6-27 21zm23 6l26-20-22-7-27 21zm23 7l26-21-23-6-26 20z"/>
<path class="qjg" d="M663 2798l26-21-23-7-26 21zm23 6l27-21-24-6-26 21zm23 7l27-21-23-7-27 21zm24 7l26-21-23-7-27 21zm23 7l27-21-24-7-26 21zm24 8l27-22-24-7-27 21zm24 7l27-22-24-7-27 22zm24 8l27-22-24-8-27 22zm24 8l27-23-24-7-27 22zm24 7l27-22-24-8-27 23zm-486-111l27-21-22-5-26 20zm22 5l27-20-22-6-27 21zm22 6l26-21-21-5-27 20zm22 6l26-21-22-6-26 21zm22 6l26-21-22-6-26 21zm22 6l27-22-23-5-26 21zm22 6l27-21-22-7-27 22zm23 6l26-21-22-6-27 21zm22 7l27-22-23-6-26 21zm23 6l27-22-23-6-27 22zm23 7l27-22-23-7-27 22zm315 36l27-22-25-7-27 21zm25 8l27-22-25-8-27 22zm24 8l27-22-24-8-27 22zm25 8l27-22-25-8-27 22z"/>
<path class="qjn" d="M901 2871l27-22-25-8-27 22zm24 9l28-23-25-8-27 22zm25 8l27-23-24-8-28 23zm25 8l27-23-25-8-27 23zm-339-76l27-22-23-7-27 22zm23 7l27-23-23-6-27 22zm23 7l27-23-23-7-27 23zm24 7l27-23-24-7-27 23zm23 8l27-24-23-7-27 23zm24 7l27-23-24-8-27 24zm24 8l27-24-24-7-27 23zm24 8l27-24-24-8-27 24zm24 7l27-23-24-8-27 24z"/>
<path class="qhu" d="M1345 2714l25-4-25-7-25 5zm25 7l26-5-26-6-25 4z"/>
<path class="qif" d="M1396 2728l25-5-25-7-26 5zm-77-8l26-6-25-6-26 6zm26 7l25-6-25-7-26 6zm25 7l26-6-26-7-25 6zm-77-6l26-8-25-6-26 7zm26 7l26-8-26-7-26 8zm25 7l26-8-25-7-26 8zm-77-5l26-9-25-7-26 9zm26 7l26-9-26-7-26 9zm25 7l26-9-25-7-26 9zm-77-4l26-10-25-7-26 10zm26 7l26-10-26-7-26 10zm25 7l26-10-25-7-26 10zm-77-2l26-12-25-7-26 11zm25 7l27-12-26-7-26 12z"/>
<path class="qih" d="M1266 2773l26-12-25-7-27 12zm-78-1l27-13-25-8-27 13zm26 7l26-13-25-7-27 13zm25 8l27-14-26-7-26 13zm-77-1l26-14-25-8-26 15zm25 8l27-15-26-7-26 14z"/>
<path class="qip" d="M1213 2802l26-15-25-8-27 15zm-78 0l27-16-25-7-27 16zm26 8l26-16-25-8-27 16zm25 8l27-16-26-8-26 16z"/>
<path class="qit" d="M1575 2736l24 0-26-6-24-1z"/>
<path class="qid" d="M1601 2743l25 0-27-7-24 0z"/>
<path class="qdp" d="M2107 2869l23 13-28-7-22-13z"/>
<path class="qeo" d="M1976 2830l23 12-27-7-23-12z"/>
<path class="qfm" d="M1873 2800l23 10-27-6-23-10zm26 6l23 11-26-7-23-10zm27 7l23 10-27-6-23-11z"/>
<path class="qge" d="M1953 2820l23 10-27-7-23-10z"/>
<path class="qkt" d="M1498 2724l25-1-26-6-25 0zm26 6l25-1-26-6-25 1z"/>
<path class="qiv" d="M1550 2737l25-1-26-7-25 1zm26 7l25-1-26-7-25 1z"/>
<path class="qjd" d="M1473 2726l25-2-26-7-25 2zm25 7l26-3-26-6-25 2zm26 7l26-3-26-7-26 3zm27 7l25-3-26-7-26 3z"/>
<path class="qhu" d="M1447 2730l26-4-26-7-26 4zm26 6l25-3-25-7-26 4zm26 7l25-3-26-7-25 3zm26 8l26-4-27-7-25 3z"/>
<path class="qif" d="M1422 2735l25-5-26-7-25 5zm25 7l26-6-26-6-25 5zm26 7l26-6-26-7-26 6zm27 7l25-5-26-8-26 6zm-104-15l26-6-26-7-26 6zm26 7l25-6-25-7-26 6zm26 7l25-6-26-7-25 6zm26 8l26-7-27-7-25 6zm-104-14l26-8-26-7-26 8zm26 7l26-8-26-7-26 8zm26 8l26-9-26-7-26 8zm26 7l26-8-26-8-26 9zm-104-13l26-9-26-7-26 9zm26 8l26-10-26-7-26 9zm26 7l26-9-26-8-26 10zm26 8l26-10-26-7-26 9zm-104-12l26-11-26-7-26 10zm26 7l26-10-26-8-26 11z"/>
<path class="qih" d="M1370 2784l26-11-26-7-26 10zm26 8l26-11-26-8-26 11zm-105-11l27-12-26-8-26 12zm26 8l27-13-26-7-27 12zm26 8l27-13-26-8-27 13zm27 8l26-13-26-8-27 13zm-105-10l26-14-25-8-27 14zm26 7l26-13-26-8-26 14zm26 9l26-14-26-8-26 13z"/>
<path class="qip" d="M1343 2819l27-14-27-8-26 14zm-105-9l27-15-26-8-26 15zm26 8l27-16-26-7-27 15zm26 8l27-15-26-9-27 16zm26 8l27-15-26-8-27 15zm-104-8l26-16-25-8-27 16zm26 8l26-16-26-8-26 16z"/>
<path class="qiw" d="M1264 2843l26-17-26-8-26 16zm26 8l26-17-26-8-26 17zm-182-31l27-18-25-7-27 17zm26 8l27-18-26-8-27 18zm25 8l27-18-25-8-27 18zm26 8l27-18-26-8-27 18zm26 9l27-19-26-8-27 18zm26 8l27-18-26-9-27 19zm26 9l27-19-26-8-27 18zm-181-31l26-19-25-8-27 19zm25 8l27-19-26-8-26 19z"/>
<path class="qje" d="M1132 2855l27-19-25-8-27 19zm26 9l27-20-26-8-27 19zm26 8l27-19-26-9-27 20zm26 9l27-20-26-8-27 19zm26 9l27-20-26-9-27 20zm-181-31l27-20-26-8-27 20zm25 9l27-21-25-8-27 20zm25 8l27-21-25-8-27 21z"/>
<path class="qjg" d="M1131 2885l27-21-26-9-27 21zm26 9l27-22-26-8-27 21zm26 9l27-22-26-9-27 22zm26 9l27-22-26-9-27 22zm-182-31l28-22-26-8-27 22zm26 9l27-22-25-9-28 22zm25 9l27-23-25-8-27 22z"/>
<path class="qjn" d="M1104 2907l27-22-26-9-27 23zm25 9l28-22-26-9-27 22zm26 10l28-23-26-9-28 22zm26 9l28-23-26-9-28 23zm-181-30l27-24-25-8-27 23zm25 9l28-24-26-9-27 24zm26 9l27-24-25-9-28 24z"/>
<path class="qjx" d="M1076 2932l28-25-26-8-27 24zm26 9l27-25-25-9-28 25zm26 9l27-24-26-10-27 25zm26 10l27-25-26-9-27 24zm-305-72l27-25-24-7-27 23zm25 8l27-25-25-8-27 25zm24 8l27-24-24-9-27 25zm25 9l27-25-25-8-27 24zm25 9l27-26-25-8-27 25zm25 8l27-25-25-9-27 26zm25 9l27-25-25-9-27 25z"/>
<path class="qin" d="M1627 2750l25 0-26-7-25 0zm27 7l24 0-26-7-25 0z"/>
<path class="qmu" d="M2003 2837l23 11-27-6-23-12zm27 6l23 12-27-7-23-11zm27 7l23 12-27-7-23-12z"/>
<path class="qge" d="M1980 2826l23 11-27-7-23-10zm27 7l23 10-27-6-23-11z"/>
<path class="qhh" d="M1849 2791l24 9-27-6-23-10zm27 6l23 9-26-6-24-9z"/>
<path class="qei" d="M1826 2783l23 8-26-7-24-7zm26 7l24 7-27-6-23-8zm-50-13l24 6-27-6-24-7zm27 6l23 7-26-7-24-6zm-51-12l24 6-27-7-23-5zm27 7l24 5-27-6-24-6zm-51-11l24 4-26-6-25-4zm27 7l24 4-27-7-24-4z"/>
<path class="qdk" d="M1730 2765l24 2-27-6-24-3zm26 7l25 2-27-7-24-2z"/>
<path class="qfn" d="M1903 2804l23 9-27-7-23-9zm27 7l23 9-27-7-23-9z"/>
<path class="qei" d="M1879 2796l24 8-27-7-24-7zm-23-6l23 6-27-6-23-7zm-24-5l24 5-27-7-24-5z"/>
<path class="qeh" d="M1807 2781l25 4-27-7-24-4zm150 37l23 8-27-6-23-9zm27 7l23 8-27-7-23-8z"/>
<path class="qdj" d="M1783 2779l24 2-26-7-25-2z"/>
<path class="qke" d="M1024 2949l27-26-26-9-27 25zm25 9l27-26-25-9-27 26zm26 9l27-26-26-9-27 26zm26 10l27-27-26-9-27 26zm26 10l27-27-26-10-27 27z"/>
<path class="qjf" d="M1602 2751l25-1-26-7-25 1zm27 7l25-1-27-7-25 1z"/>
<path class="qjd" d="M1577 2754l25-3-26-7-25 3zm26 7l26-3-27-7-25 3z"/>
<path class="qhu" d="M1552 2758l25-4-26-7-26 4zm26 7l25-4-26-7-25 4z"/>
<path class="qif" d="M1526 2763l26-5-27-7-25 5zm26 8l26-6-26-7-26 5zm-52-1l26-7-26-7-26 7zm27 8l25-7-26-8-26 7zm-53 1l26-9-26-7-26 8zm27 8l26-9-27-8-26 9z"/>
<path class="qih" d="M1448 2789l26-10-26-8-26 10zm27 8l26-10-27-8-26 10zm-53 3l26-11-26-8-26 11zm27 8l26-11-27-8-26 11zm-53 5l26-13-26-8-26 13zm26 8l27-13-27-8-26 13z"/>
<path class="qip" d="M1369 2827l27-14-26-8-27 14zm27 9l26-15-26-8-27 14zm-53 7l26-16-26-8-27 15zm26 8l27-15-27-9-26 16z"/>
<path class="qiw" d="M1316 2860l27-17-27-9-26 17zm26 9l27-18-26-8-27 17z"/>
<path class="qje" d="M1289 2879l27-19-26-9-27 19zm26 9l27-19-26-9-27 19zm-53 11l27-20-26-9-27 20z"/>
<path class="qjg" d="M1288 2908l27-20-26-9-27 20zm-53 13l27-22-26-9-27 22z"/>
<path class="qjn" d="M1261 2930l27-22-26-9-27 22zm-53 14l27-23-26-9-28 23zm26 10l27-24-26-9-27 23z"/>
<path class="qjx" d="M1180 2970l28-26-27-9-27 25z"/>
<path class="qke" d="M1207 2980l27-26-26-10-28 26z"/>
<path class="qfe" d="M2085 2858l22 11-27-7-23-12z"/>
<path class="qgw" d="M2034 2840l23 10-27-7-23-10zm28 8l23 10-28-8-23-10z"/>
<path class="qeh" d="M2011 2832l23 8-27-7-23-8z"/>
<path class="qhr" d="M2039 2839l23 9-28-8-23-8zm-133-36l24 8-27-7-24-8zm27 7l24 8-27-7-24-8zm28 7l23 8-27-7-24-8zm27 8l23 7-27-7-23-8zm28 7l23 7-28-7-23-7z"/>
<path class="qei" d="M1883 2797l23 6-27-7-23-6zm27 7l23 6-27-7-23-6zm27 7l24 6-28-7-23-6zm27 8l24 6-27-8-24-6zm28 7l24 6-28-7-24-6zm-133-34l24 5-27-7-24-5zm27 7l24 5-27-7-24-5zm27 8l24 4-27-7-24-5zm28 7l23 5-27-8-24-4zm27 8l24 4-28-7-23-5z"/>
<path class="qeh" d="M1835 2789l24 3-27-7-25-4z"/>
<path class="qdz" d="M1862 2796l24 3-27-7-24-3zm27 8l24 3-27-8-24-3z"/>
<path class="qdx" d="M1917 2811l24 3-28-7-24-3zm27 8l24 3-27-8-24-3z"/>
<path class="qdj" d="M1810 2786l25 3-28-8-24-2z"/>
<path class="qic" d="M1705 2764l25 1-27-7-25-1zm27 7l24 1-26-7-25-1z"/>
<path class="qkj" d="M1153 2997l27-27-26-10-27 27zm26 10l28-27-27-10-27 27z"/>
<path class="qdi" d="M1837 2794l25 2-27-7-25-3zm28 8l24 2-27-8-25-2z"/>
<path class="qiu" d="M1680 2764l25 0-27-7-24 0z"/>
<path class="qim" d="M1759 2778l24 1-27-7-24-1zm27 8l24 0-27-7-24-1z"/>
<path class="qit" d="M1813 2793l24 1-27-8-24 0z"/>
<path class="qee" d="M1892 2809l25 2-28-7-24-2z"/>
<path class="qdg" d="M1920 2817l24 2-27-8-25-2z"/>
<path class="qjo" d="M1655 2766l25-2-26-7-25 1z"/>
<path class="qjc" d="M1707 2771l25 0-27-7-25 0zm27 8l25-1-27-7-25 0z"/>
<path class="qjo" d="M1682 2773l25-2-27-7-25 2zm27 8l25-2-27-8-25 2z"/>
<path class="qjb" d="M1840 2801l25 1-28-8-24-1zm28 8l24 0-27-7-25-1z"/>
<path class="qig" d="M1630 2768l25-2-26-8-26 3zm27 8l25-3-27-7-25 2zm27 8l25-3-27-8-25 3z"/>
<path class="qif" d="M1605 2773l25-5-27-7-25 4zm-26 6l26-6-27-8-26 6zm-26 7l26-7-27-8-25 7z"/>
<path class="qih" d="M1528 2795l25-9-26-8-26 9zm-26 10l26-10-27-8-26 10zm-27 11l27-11-27-8-26 11zm156-35l26-5-27-8-25 5zm27 7l26-4-27-8-26 5zm-52-1l25-6-26-8-26 6zm27 8l25-7-27-7-25 6zm-53-1l26-7-27-8-26 7zm27 8l26-7-27-8-26 7zm-53 1l26-9-27-8-25 9zm27 8l26-9-27-8-26 9zm-53 2l26-10-26-8-26 10zm27 9l26-11-27-8-26 10zm-53 3l26-12-26-8-27 11zm27 9l26-12-27-9-26 12z"/>
<path class="qip" d="M1449 2830l26-14-26-8-27 13zm27 8l26-13-27-9-26 14zm27 9l26-13-27-9-26 13zm-81-3l27-14-27-9-26 15zm27 9l27-15-27-8-27 14zm27 9l27-15-27-9-27 15z"/>
<path class="qiw" d="M1396 2860l26-16-26-8-27 15zm27 9l26-16-27-9-26 16zm27 9l26-16-27-9-26 16zm-81 0l27-18-27-9-27 18zm27 9l27-18-27-9-27 18z"/>
<path class="qje" d="M1423 2896l27-18-27-9-27 18zm-81 1l27-19-27-9-27 19zm27 9l27-19-27-9-27 19zm27 10l27-20-27-9-27 19z"/>
<path class="qjg" d="M1315 2918l27-21-27-9-27 20zm27 9l27-21-27-9-27 21zm27 10l27-21-27-10-27 21z"/>
<path class="qjn" d="M1288 2940l27-22-27-10-27 22zm27 10l27-23-27-9-27 22zm26 9l28-22-27-10-27 23z"/>
<path class="qjx" d="M1261 2964l27-24-27-10-27 24zm26 10l28-24-27-10-27 24zm27 10l27-25-26-9-28 24z"/>
<path class="qke" d="M1233 2990l28-26-27-10-27 26zm27 10l27-26-26-10-28 26zm27 10l27-26-27-10-27 26z"/>
<path class="qkj" d="M1206 3017l27-27-26-10-28 27zm26 11l28-28-27-10-27 27zm27 10l28-28-27-10-28 28z"/>
<path class="qjm" d="M1761 2786l25 0-27-8-25 1zm27 8l25-1-27-7-25 0zm28 8l24-1-27-8-25 1zm27 8l25-1-28-8-24 1z"/>
<path class="qjo" d="M1736 2788l25-2-27-7-25 2zm27 8l25-2-27-8-25 2zm28 8l25-2-28-8-25 2z"/>
<path class="qig" d="M1711 2792l25-4-27-7-25 3zm27 8l25-4-27-8-25 4zm28 8l25-4-28-8-25 4z"/>
<path class="qih" d="M1686 2796l25-4-27-8-26 4zm27 9l25-5-27-8-25 4zm27 8l26-5-28-8-25 5zm-80-10l26-7-28-8-25 7zm27 8l26-6-27-9-26 7zm28 8l25-6-27-8-26 6zm-81-9l26-7-27-8-26 7zm28 9l25-8-27-8-26 7zm27 8l26-8-28-8-25 8zm-80-8l25-9-27-8-26 9zm27 9l26-9-28-9-25 9zm27 9l26-10-27-8-26 9zm-80-7l26-11-28-8-26 11zm27 9l26-11-27-9-26 11z"/>
<path class="qip" d="M1637 2848l26-11-27-9-26 11zm-81-6l27-12-28-8-26 12zm28 9l26-12-27-9-27 12zm27 9l26-12-27-9-26 12zm-81-4l26-14-27-8-26 13zm27 9l27-14-28-9-26 14zm28 9l26-14-27-9-27 14z"/>
<path class="qiw" d="M1503 2871l27-15-27-9-27 15zm28 9l26-15-27-9-27 15zm27 10l27-16-28-9-26 15zm-81-2l26-17-27-9-26 16zm27 9l27-17-28-9-26 17z"/>
<path class="qje" d="M1531 2907l27-17-27-10-27 17zm-81-1l27-18-27-10-27 18zm27 9l27-18-27-9-27 18zm28 10l26-18-27-10-27 18z"/>
<path class="qjg" d="M1423 2925l27-19-27-10-27 20zm27 10l27-20-27-9-27 19zm28 10l27-20-28-10-27 20zm-82 2l27-22-27-9-27 21z"/>
<path class="qjn" d="M1423 2957l27-22-27-10-27 22zm27 10l28-22-28-10-27 22zm-81 2l27-22-27-10-28 22z"/>
<path class="qjx" d="M1396 2980l27-23-27-10-27 22zm27 10l27-23-27-10-27 23zm-82 4l28-25-28-10-27 25z"/>
<path class="qke" d="M1368 3005l28-25-27-11-28 25zm28 10l27-25-27-10-28 25zm-82 6l27-27-27-10-27 26z"/>
<path class="qkj" d="M1341 3032l27-27-27-11-27 27zm27 10l28-27-28-10-27 27z"/>
<path class="qkz" d="M1896 2817l24 0-28-8-24 0z"/>
<path class="qjm" d="M1871 2818l25-1-28-8-25 1z"/>
<path class="qjw" d="M1818 2812l25-2-27-8-25 2zm28 8l25-2-28-8-25 2z"/>
<path class="qig" d="M1793 2816l25-4-27-8-25 4z"/>
<path class="qih" d="M1768 2821l25-5-27-8-26 5zm-25 7l25-7-28-8-25 6zm-26 8l26-8-28-9-26 8z"/>
<path class="qip" d="M1691 2846l26-10-28-9-26 10zm-26 11l26-11-28-9-26 11zm-26 12l26-12-28-9-26 12z"/>
<path class="qiw" d="M1612 2883l27-14-28-9-26 14zm-26 16l26-16-27-9-27 16z"/>
<path class="qje" d="M1559 2916l27-17-28-9-27 17zm-27 19l27-19-28-9-26 18z"/>
<path class="qjg" d="M1505 2955l27-20-27-10-27 20z"/>
<path class="qjn" d="M1478 2977l27-22-27-10-28 22z"/>
<path class="qjx" d="M1451 3001l27-24-28-10-27 23z"/>
<path class="qke" d="M1423 3026l28-25-28-11-27 25z"/>
<path class="qkj" d="M1396 3053l27-27-27-11-28 27z"/>
<path class="qko" d="M1286 3049l28-28-27-11-28 28zm27 11l28-28-27-11-28 28zm28 11l27-29-27-10-28 28zm27 11l28-29-28-11-27 29z"/>
<path class="qkd" d="M1821 2824l25-4-28-8-25 4z"/>
<path class="qih" d="M1796 2830l25-6-28-8-25 5zm-26 7l26-7-28-9-25 7z"/>
<path class="qip" d="M1745 2845l25-8-27-9-26 8zm-26 10l26-10-28-9-26 10zm-26 11l26-11-28-9-26 11zm-26 13l26-13-28-9-26 12z"/>
<path class="qiw" d="M1640 2893l27-14-28-10-27 14zm-26 16l26-16-28-10-26 16z"/>
<path class="qje" d="M1587 2926l27-17-28-10-27 17z"/>
<path class="qjg" d="M1560 2945l27-19-28-10-27 19zm-27 20l27-20-28-10-27 20z"/>
<path class="qjn" d="M1506 2987l27-22-28-10-27 22z"/>
<path class="qjx" d="M1479 3011l27-24-28-10-27 24z"/>
<path class="qke" d="M1451 3037l28-26-28-10-28 25z"/>
<path class="qkj" d="M1423 3065l28-28-28-11-27 27z"/>
<path class="qad" d="M1396 3094l27-29-27-12-28 29z"/>
</g>
<circle cx="257.7" cy="523.9" r="2.7" fill="#e80000" stroke="#800" stroke-width="0.7"/>
<circle cx="257.7" cy="529.8" r="2.7" fill="#e80000" stroke="#800" stroke-width="0.7"/>
<g font-size="9.8" fill="#333"><text transform="translate(274.2,793.5) scale(.935,1)" text-anchor="end">24.00</text><text transform="translate(284.2,793.5) scale(.935,1)">30.00</text><text transform="translate(225.4,776.2) scale(.935,1)" text-anchor="end">36.00</text><text transform="translate(333.0,776.2) scale(.935,1)">36.25</text><text transform="translate(176.5,758.9) scale(.935,1)" text-anchor="end">48.00</text><text transform="translate(381.8,758.9) scale(.935,1)">42.50</text><text transform="translate(127.6,741.6) scale(.935,1)" text-anchor="end">60.00</text><text transform="translate(430.5,741.6) scale(.935,1)">48.75</text><text transform="translate(78.8,724.3) scale(.935,1)" text-anchor="end">72.00</text><text transform="translate(479.2,724.3) scale(.935,1)">55.00</text><text transform="translate(66.8,525.9) scale(.935,1)" text-anchor="end">0.47</text><text transform="translate(69.0,563.7) scale(.935,1)" text-anchor="end">0.38</text><text transform="translate(71.3,601.5) scale(.935,1)" text-anchor="end">0.29</text><text transform="translate(73.6,639.3) scale(.935,1)" text-anchor="end">0.2</text><text transform="translate(75.9,677.1) scale(.935,1)" text-anchor="end">0.11</text></g>
<text class="ttl" x="105.2" y="783.5" text-anchor="middle" textLength="114.0" lengthAdjust="spacingAndGlyphs">C: Incubation Time</text>
<text class="ttl" x="451.2" y="783.5" text-anchor="middle" textLength="51.4" lengthAdjust="spacingAndGlyphs">B: Temp</text>
<text class="ttl" transform="translate(11.1,619.6) rotate(-90)" text-anchor="middle" textLength="54.5" lengthAdjust="spacingAndGlyphs">Sqrt(R1)</text>
<text class="cap" x="173.3" y="871.0" text-anchor="middle">(d)</text>
</g>
<g id="pe">
<path d="M811.8,506.8 L1021.2,471.2 L1231.2,507.5 M1021.2,471.2 L1021.0,658.0 M1231.2,507.5 L1217.5,714.5" fill="none" stroke="#7c7c7c" stroke-width="1"/>
<path d="M823.8,714.5 L1021.0,658.0 L1217.5,714.5 L1021.2,787.0 Z" fill="#ffff00" stroke="none"/>
<path d="M823.8,714.5 L1021.0,658.0 L1217.5,714.5" fill="none" stroke="#8a8a3a" stroke-width="0.8"/>
<path d="M1165.7 733.7l-3.4-.3-1.5-.1-1.8-.1-3.3-.3-3.3-.3-2.7-.2-3.9-.3-1.8-.2-1.5-.1-3.2-.3-3.3-.3-3.2-.3-3.2-.3-2.8-.3-3.6-.3-2.3-.3-4-.4-2-.2-4.3-.4-1.7-.2-1.4-.1-3-.4-1.8-.2-4.3-.5-2.1-.2-3.9-.5-2.6-.3-3.3-.4-2.9-.4-2.9-.4-2.8-.4-2.2-.3-3.4-.5-2.8-.4-1.5-.3-3.9-.6-2.6-.5-2.1-.4-3.1-.5-2.5-.5-2.5-.5-2.2-.5-2.6-.5-2.3-.6-2.4-.5-2.2-.6-2.2-.6-2.2-.5-2.1-.6-2.1-.6-2-.7-2-.6-2-.6-1.9-.7-1.8-.7-1.8-.6-1.8-.7-1.7-.7-1.7-.7-1.7-.7-1.6-.7-1.6-.8-1.5-.7-1.5-.8-1.5-.7-1.4-.8-1.5-.7-1.4-.8-1.3-.8-1.3-.7-1.4-.8-1.2-.8-1.3-.8-1.2-.8-1.3-.8-1.1-.8-1.2-.8-1.2-.8-1.1-.8-1.1-.8-1.1-.8-1.1-.8-1.1-.8-1.1-.8-1-.8-1-.8-1.1-.9-1-.8-.9-.7-1-.9-1-.8-1-.8-.9-.8-1-.8-.9-.8-.9-.8-.9-.8-.8-.8-1-.9-.9-.8-.9-.8-.9-.8-.8-.8M856.9 726.7l4.3.4 3 .3 3.1.3 3 .3 3 .3 3.1.3 2.9.3 3.1.3 2.7.3 3.2.4 2.8.3 3.1.4 2.9.4 2.9.3 2.8.4 2.9.4 2.8.4 1.7.2 3.9.6 2.7.4 2.7.4 2.7.5 2.7.4 2.6.5 2.6.5 2.6.5 2.5.5 2.5.5 2.5.5 2.4.6 1.3.3 3.4.8 2.3.6 2.3.6 2.2.6 2.2.7 2.2.6 2.1.7 2.1.7 2 .7 2 .7 1.9.7 2 .8 1.8.8 1.9.7 1.8.8 1.8.9 1.7.8 1.7.8 1.2.6 2.2 1.2 1.6.9 1.6.9 1.5.9 1.6.9 1.5.9 1.5 1 1.5 1 1.5.9 1.4 1 1.5 1 1.4 1 1.4 1.1 1.4 1 1.3 1 1.4 1.1 1.3 1 1.4 1.1 1.3 1.1 .8.7 1.8 1.5 1.3 1.1 1.3 1.1 1.3 1.1 1.3 1.2 1.3 1.1 1.1 1.1 1.4 1.2 1.3 1.2 1.2 1.2 1.3 1.1M1156.2 737.2l-3.6-.2-3.5-.2-1.9-.1-1.6-.1-3.5-.2-3.6-.2-1.4-.1-2.1-.1-3-.2-4-.3-3.5-.2-2.7-.1-4.3-.3-3.4-.2-2.4-.2-4.6-.3-3.4-.2-2.2-.1-4.7-.3-3.5-.2-2-.2-4.8-.3-3.5-.2-2-.2-4.7-.3-3.4-.2-2.3-.2-4.4-.3-3.4-.3-2.8-.2-3.8-.3-1.5-.1-1.8-.1-3.2-.3-3.2-.3-2.9-.3-3.5-.3-2.3-.2-3.8-.4-2.3-.3-3.7-.5-2.8-.4-2.8-.4-2.7-.4-2.5-.5-2.5-.5-2.3-.6-2.2-.6-2.1-.6-2-.6-1.8-.8-1.7-.7-1.6-.8-1.6-.8-1.4-.8-1.4-.8-1.3-.9-1.2-.8-1.2-.9-1.2-.9-1.1-.9-1.1-.9-1-.9-1.1-.9-1-.9-.9-.9-1-.9-1-1-.9-.9-.9-.9-.9-.9-.9-.9-.9-1-.9-.9-.8-.9-.9-.9-.8-.9-.9-.9-.8-.9-.8-.9-.9-.9-.8-.9-.8-.9-.8-.9-.8-.9-.8-.9-.8-.9-.7-.9-.8-.9-.8-.8-.8-.9-.7-.9-.8-.9-1.5-1.7-.7-.9-.8-.8-.7-.9-.7-.8-.8-.9-.7-.8-.7-.9-.8-.8M841.4 721l3.4.2 3.4.2 2.8.1 3.8.3 3.4.2 2.4.1 4.2.3 3.3.2 2.1.1 4.6.3 3.3.2 1.8.1 1.5.1 3.3.2 3.4.2 1.5.1 1.8.1 3.1.2 3.6.2 3.3.2 3 .3 3.6.2 3.3.2 3 .2 3.6.3 1.4.1 1.9.1 3.2.2 3.3.3 1.8.1 1.5.1 3.2.3 3.2.2 2.6.2 3.8.4 1.5.1 1.7.1 3.1.3 3.1.3 3 .3 3.1.4 2.9.3 3 .4 2.8.4 1.3.2 1.5.2 2.6.4 2.6.5 2 .5 2.8.6 2.3.6 2.1.7 2 .6 1.9.8 1.7.7 1.7.9 1.6.8 1.5.9 1.4.9 1.2.8 1.5 1 1.3 1 1.2 1 1.2 1 1.2 1 1.1 1 1.2 1 1.1 1.1 1.1 1 1.1 1.1 1.1 1.1 1 1.1 1.1 1.1 1.1 1.1 1 1.1 1.1 1.1 1 1.1 1.1 1.2 1 1.1 1 1.1 1.1 1.2 1 1.1 1.1 1.2 1 1.2 1 1.2 1.1 1.1 1 1.2 1.1 1.2 1 1.2 1.1 1.2 1 1.2 1.1 1.2 .9 1.1 1.2 1.4 .7.9 1.4 1.6M1144.4 741.6l-2.5-.1-4.4-.1-4.4-.1-4.4-.1-3.9 0-4-.1-4.1 0-4.1 0-4.1 0-4.2 0-4.3.1-4.3 0-3.9.1-3.7.2-1.6.1-2 0-2.9.2-4.1.3-3.3.3-3.1.3-3 .4-2.8.4-2 .4-3.2.7-2.3.6-2.1.7-2 .7-1.7.9-1.5.9-1.3.9-1.2 1.1-.9 1.1-.8 1.2-.5 1.2-.4 1.3-.3 1.4 0 2.7 .1 1.5 .3 1.4 .3 1.4 .4 1.4 .5 1.4 .5 1.4 .6 1.4 .6 1.3 .6 1.4 .6 1.3 .7 1.4 .7 1.4M828.4 716.2l1.5 0 2.8.1 4.3.2 3.6.1 3.6.1 1.5 0 2.2.1 2.1 0 1.5.1 2.8 0 4.2.1 4 .1 3.8.1 3.7.1 3.8 0 3.8.1 1.7 0 2.2 0 1.8 0 2.1 0 1.9 0 2.1 0 1.9 0 2.1 0 1.8 0 2.3-.1 1.5 0 2.7 0 4.3-.1 4-.2 3.6-.1 1.6-.1 1.8-.1 3.2-.2 3.3-.3 2.2-.2 3.8-.4 2.8-.4 2.6-.5 2.5-.5 2.3-.5 2.1-.7 2-.6 1.7-.8 1.6-.7 1.4-.9 1.2-.9 1-.9 .9-1.1 .7-1 .5-1.1 .5-1.1 .4-2.3 0-2.3-.2-1.6-.2-1.3-.3-1.4-.4-1.3-.4-1.4-.5-1.4-.5-1.1-.7-1.6-.5-1.3-.8-1.5-.6-1.3-.5-1-1-1.8-.9-1.6-.1-.2M1127.6 747.7l-3 .2-1.9.1-1.7.1-3.4.3-3.3.2-2.3.3-4.1.4-1.9.2-4.1.6-2.9.4-2.7.5-2.6.6-2.5.5-2.3.6-2.3.7-2.1.7-1.9.8-1.8.8-1.7.9-1.5.9-1.4 1-.9.7-1.5 1.4-1 1-.9 1.3-.7 1.2-.6 1.3-.5 1.3-.3 1.4-.2 1M832.3 712.1l3.9 0 3.9 0 4 0 4 0 4.1 0 4.1-.1 3.7-.1 3.7-.1 3.6-.1 2 0 1.6-.1 2.9-.1 4-.2 3.4-.2 2.3-.2 4.2-.3 3.2-.2 3-.3 3-.4 2.9-.3 1.3-.2 1.5-.2 2.6-.4 2.6-.5 2.5-.5 2.3-.5 2.2-.6 2.1-.6 2-.6 1.9-.7 1.1-.4 2.2-1 1.5-.8 1.4-.9 1.3-.8 1.1-.9 1-1 .8-.8 .9-1.1 .7-1 .6-1.1 .5-1.1 .4-1.1 .3-1.2 .4-2.2 .1-2.3-.1-2.1-.2-1.7-.1-.4M849.2 707.3l1.5-.1 3.3-.2 3.3-.2 1.7-.1 1.6-.1 3.2-.3 3.1-.2 3-.3 3-.3 2.9-.4 2.8-.3 2.8-.4 2.4-.4 2.8-.5 2.5-.4 2.4-.5 2.4-.6 2.2-.5 2.1-.6 2-.6 2-.7 1.8-.6 1.7-.7 1.7-.8 1.5-.7 1.4-.8 1.4-.9 .9-.6 1.5-1.1 1-.9 1-.9 .9-.9 .7-.9 .8-1.1 .6-1 .3-.6" fill="none" stroke="#ff6200" stroke-width="1.1"/>
<path d="M811.8,506.8 L823.8,714.5 L1021.2,787.0 L1217.5,714.5" fill="none" stroke="#555" stroke-width="1.1"/>
<circle cx="1021.2" cy="787.0" r="1.3" fill="#000"/>
<circle cx="971.9" cy="768.9" r="1.3" fill="#000"/>
<circle cx="922.5" cy="750.8" r="1.3" fill="#000"/>
<circle cx="873.1" cy="732.6" r="1.3" fill="#000"/>
<circle cx="823.8" cy="714.5" r="1.3" fill="#000"/>
<circle cx="1070.3" cy="768.9" r="1.3" fill="#000"/>
<circle cx="1119.4" cy="750.8" r="1.3" fill="#000"/>
<circle cx="1168.4" cy="732.6" r="1.3" fill="#000"/>
<circle cx="1217.5" cy="714.5" r="1.3" fill="#000"/>
<circle cx="811.8" cy="506.8" r="1.3" fill="#000"/>
<circle cx="814.1" cy="546.2" r="1.3" fill="#000"/>
<circle cx="816.4" cy="585.8" r="1.3" fill="#000"/>
<circle cx="818.7" cy="625.2" r="1.3" fill="#000"/>
<circle cx="821.0" cy="664.8" r="1.3" fill="#000"/>
<g transform="scale(0.2)" stroke="#000" stroke-linejoin="round">
<path class="qab" d="M5106 2967l21 36-21-14-21-36z"/>
<path class="qah" d="M5085 2933l21 34-21-14-22-35z"/>
<path class="qb" d="M5127 2982l21 36-21-15-21-36zm22 14l21 35-22-13-21-36zm22 13l21 36-22-14-21-35z"/>
<path class="qs" d="M5063 2899l22 34-22-15-22-34z"/>
<path class="qu" d="M5106 2947l21 35-21-15-21-34z"/>
<path class="qc" d="M5192 3022l21 35-21-12-21-36zm22 12l21 36-22-13-21-35z"/>
<path class="qbk" d="M5041 2867l22 32-22-15-21-32z"/>
<path class="qz" d="M5084 2913l22 34-21-14-22-34z"/>
<path class="qd" d="M5128 2961l21 35-22-14-21-35zm21 13l22 35-22-13-21-35z"/>
<path class="qz" d="M5106 2927l22 34-22-14-22-34z"/>
<path class="qa" d="M5236 3046l21 35-22-11-21-36zm22 11l21 36-22-12-21-35zm22 11l21 35-22-10-21-36zm23 10l20 35-22-10-21-35z"/>
<path class="qap" d="M5019 2836l22 31-21-15-23-31z"/>
<path class="qak" d="M5063 2882l21 31-21-14-22-32zm21 13l22 32-22-14-21-31z"/>
<path class="qe" d="M5171 2987l21 35-21-13-22-35zm22 13l21 34-22-12-21-35zm22 12l21 34-22-12-21-34z"/>
<path class="qb" d="M5237 3023l21 34-22-11-21-34zm22 11l21 34-22-11-21-34zm23 10l21 34-23-10-21-34z"/>
<path class="qg" d="M5128 2941l21 33-21-13-22-34z"/>
<path class="qs" d="M5106 2909l22 32-22-14-22-32z"/>
<path class="qf" d="M5325 3088l20 35-22-10-20-35zm22 9l21 35-23-9-20-35zm23 9l21 35-23-9-21-35zm23 8l20 35-22-8-21-35zm23 8l20 35-23-8-20-35zm23 7l20 35-23-7-20-35z"/>
<path class="qc" d="M5304 3054l21 34-22-10-21-34zm23 10l20 33-22-9-21-34zm23 8l20 34-23-9-20-33zm22 9l21 33-23-8-20-34zm23 7l21 34-23-8-21-33zm23 8l21 33-23-7-21-34z"/>
<path class="qbj" d="M4997 2807l22 29-22-15-22-30z"/>
<path class="qax" d="M5041 2851l22 31-22-15-22-31z"/>
<path class="qbj" d="M5019 2821l22 30-22-15-22-29z"/>
<path class="qh" d="M5150 2954l21 33-22-13-21-33zm22 12l21 34-22-13-21-33z"/>
<path class="qs" d="M5128 2922l22 32-22-13-22-32z"/>
<path class="qd" d="M5194 2978l21 34-22-12-21-34zm22 12l21 33-22-11-21-34zm22 11l21 33-22-11-21-33zm23 10l21 33-23-10-21-33z"/>
<path class="qe" d="M5283 3021l21 33-22-10-21-33zm23 10l21 33-23-10-21-33zm23 9l21 32-23-8-21-33zm23 8l20 33-22-9-21-32zm23 8l20 32-23-7-20-33zm23 7l20 33-23-8-20-32z"/>
<path class="qi" d="M5462 3136l20 34-23-6-20-35zm23 6l20 34-23-6-20-34zm24 5l20 35-24-6-20-34z"/>
<path class="qc" d="M5442 3102l20 34-23-7-21-33zm23 6l20 34-23-6-20-34zm23 6l21 33-24-5-20-34z"/>
<path class="qe" d="M5421 3070l21 32-24-6-20-33zm23 6l21 32-23-6-21-32zm24 6l20 32-23-6-21-32z"/>
<path class="qf" d="M5532 3152l20 35-23-5-20-35zm24 5l20 34-24-4-20-35zm24 4l20 34-24-4-20-34zm24 3l20 34-24-3-20-34zm24 3l20 34-24-3-20-34zm25 2l19 34-24-2-20-34zm24 2l20 34-25-2-19-34z"/>
<path class="qc" d="M5512 3119l20 33-23-5-21-33zm24 5l20 33-24-5-20-33zm24 3l20 34-24-4-20-33zm24 4l20 33-24-3-20-34zm24 3l20 33-24-3-20-33zm25 2l20 33-25-2-20-33z"/>
<path class="qb" d="M5657 3138l20 33-24-2-20-33z"/>
<path class="qa" d="M5702 3172l19 34-24-1-20-34zm25 0l19 34-25 0-19-34zm25 0l19 34-25 0-19-34z"/>
<path class="qb" d="M5682 3139l20 33-25-1-20-33zm25 0l20 33-25 0-20-33zm25 0l20 33-25 0-20-33z"/>
<path class="qc" d="M5777 3171l20 35-26 0-19-34zm26-1l19 34-25 2-20-35z"/>
<path class="qe" d="M5758 3138l19 33-25 1-20-33zm25-1l20 33-26 1-19-33zm-291-50l20 32-24-5-20-32zm24 4l20 33-24-5-20-32zm24 4l20 32-24-3-20-33zm24 4l20 32-24-4-20-32zm24 3l20 32-24-3-20-32zm25 2l20 32-25-2-20-32zm24 2l20 32-24-2-20-32z"/>
<path class="qb" d="M5828 3168l20 34-26 2-19-34zm26-2l19 34-25 2-20-34zm26-4l19 35-26 3-19-34z"/>
<path class="qe" d="M5907 3159l19 34-27 4-19-35zm26-5l19 35-26 4-19-34zm-124-19l19 33-25 2-20-33z"/>
<path class="qd" d="M5835 3133l19 33-26 2-19-33zm26-4l19 33-26 4-19-33zm99 20l19 35-27 5-19-35zm27-5l19 34-27 6-19-35zm-325-37l20 32-25-1-20-32zm25 0l20 32-25 0-20-32zm26 0l19 32-25 0-20-32zm25-1l20 32-26 1-19-32z"/>
<path class="qh" d="M5764 3105l19 32-25 1-20-32zm25-2l20 32-26 2-19-32zm225 34l19 35-27 6-19-34zm28-7l18 35-27 7-19-35zm-154-4l19 33-27 3-19-33zm26-5l19 33-26 5-19-33z"/>
<path class="qg" d="M5941 3116l19 33-27 5-19-33zm27-6l19 34-27 5-19-33zm101 13l19 34-28 8-18-35zm-254-22l20 32-26 2-20-32zm27-4l19 32-26 4-20-32zm26-3l20 32-27 3-19-32z"/>
<path class="qj" d="M5895 3090l19 31-26 5-20-32zm27-5l19 31-27 5-19-31zm175 30l19 34-28 8-19-34zm-102-11l19 33-27 7-19-34zm28-6l19 32-28 7-19-33zm-873-164l22 32-22-12-22-32z"/>
<path class="qm" d="M6051 3090l18 33-27 7-19-32zm-102-11l19 31-27 6-19-31zm27-6l19 31-27 6-19-31z"/>
<path class="ql" d="M6004 3067l19 31-28 6-19-31zm75 15l18 33-28 8-18-33z"/>
<path class="qg" d="M5172 2946l22 32-22-12-22-32zm23 12l21 32-22-12-22-32zm22 11l21 32-22-11-21-32z"/>
<path class="qh" d="M5239 2980l22 31-23-10-21-32zm23 10l21 31-22-10-22-31zm23 9l21 32-23-10-21-31zm23 9l21 32-23-9-21-32zm22 9l22 31-23-8-21-32zm24 7l21 32-23-8-22-31zm23 8l21 31-23-7-21-32z"/>
<path class="qd" d="M5400 3039l21 31-23-7-21-31zm24 6l20 31-23-6-21-31zm23 6l21 31-24-6-20-31zm24 5l21 31-24-5-21-31zm24 4l21 31-24-4-21-31z"/>
<path class="qh" d="M5519 3064l21 31-24-4-21-31zm24 4l21 31-24-4-21-31zm25 3l20 31-24-3-21-31zm24 2l21 31-25-2-20-31zm25 2l20 31-24-2-21-31zm25 1l20 31-25-1-20-31z"/>
<path class="qg" d="M5667 3076l20 31-25 0-20-31zm25 0l21 31-26 0-20-31zm26 0l20 30-25 1-21-31z"/>
<path class="qmv" d="M4974 2778l23 29-22-16-22-28z"/>
<path class="qv" d="M5063 2865l21 30-21-13-22-31z"/>
<path class="qap" d="M5040 2836l23 29-22-14-22-30z"/>
<path class="qj" d="M5744 3075l20 30-26 1-20-30zm25-2l20 30-25 2-20-30zm27-2l19 30-26 2-20-30z"/>
<path class="qm" d="M5822 3068l20 29-27 4-19-30zm26-4l20 30-26 3-20-29z"/>
<path class="ql" d="M5875 3060l20 30-27 4-20-30zm27-5l20 30-27 5-20-30z"/>
<path class="qn" d="M5929 3050l20 29-27 6-20-30zm28-7l19 30-27 6-20-29zm74 16l20 31-28 8-19-31zm29-8l19 31-28 8-20-31z"/>
<path class="qep" d="M4952 2751l22 27-21-15-23-27z"/>
<path class="qbv" d="M4996 2793l23 28-22-14-23-29z"/>
<path class="qac" d="M5084 2879l22 30-22-14-21-30zm22 13l22 30-22-13-22-30z"/>
<path class="qap" d="M5062 2849l22 30-21-14-23-29z"/>
<path class="qak" d="M5128 2904l22 30-22-12-22-30zm23 12l21 30-22-12-22-30z"/>
<path class="qv" d="M5084 2862l22 30-22-13-22-30zm23 13l21 29-22-12-22-30zm22 12l22 29-23-12-21-29z"/>
<path class="qm" d="M5173 2928l22 30-23-12-21-30z"/>
<path class="qj" d="M5195 2939l22 30-22-11-22-30zm23 10l21 31-22-11-22-30zm23 10l21 31-23-10-21-31zm22 10l22 30-23-9-21-31zm23 9l22 30-23-9-22-30z"/>
<path class="qg" d="M5309 2986l21 31-22-9-22-30zm23 8l22 30-24-7-21-31zm24 8l21 30-23-8-22-30zm23 7l21 30-23-7-21-30zm24 6l21 30-24-6-21-30zm23 6l21 30-23-6-21-30zm24 5l21 30-24-5-21-30zm24 4l21 30-24-4-21-30zm24 5l21 29-24-4-21-30zm25 3l20 30-24-4-21-29zm24 3l21 30-25-3-20-30z"/>
<path class="qj" d="M5572 3044l20 29-24-2-21-30zm24 1l21 30-25-2-20-29zm25 2l21 29-25-1-21-30zm26 0l20 29-25 0-21-29z"/>
<path class="qm" d="M5672 3048l20 28-25 0-20-29zm26-1l20 29-26 0-20-28zm25-1l21 29-26 1-20-29z"/>
<path class="ql" d="M5749 3044l20 29-25 2-21-29zm26-2l21 29-27 2-20-29zm27-3l20 29-26 3-21-29z"/>
<path class="qn" d="M5828 3035l20 29-26 4-20-29zm27-4l20 29-27 4-20-29z"/>
<path class="qp" d="M5882 3026l20 29-27 5-20-29zm27-5l20 29-27 5-20-29zm75 16l20 30-28 6-19-30zm28-8l19 30-27 8-20-30z"/>
<path class="qq" d="M6040 3021l20 30-29 8-19-30zm-103-6l20 28-28 7-20-29zm27-7l20 29-27 6-20-28z"/>
<path class="qac" d="M5151 2899l22 29-22-12-22-29z"/>
<path class="ql" d="M5174 2910l21 29-22-11-22-29zm22 11l22 28-23-10-21-29zm23 10l22 28-23-10-22-28z"/>
<path class="qm" d="M5242 2940l21 29-22-10-22-28zm23 9l21 29-23-9-21-29zm23 9l21 28-23-8-21-29zm23 8l21 28-23-8-21-28zm23 7l22 29-24-8-21-28zm24 7l21 29-23-7-22-29zm23 7l22 28-24-6-21-29zm24 6l21 28-23-6-22-28zm24 5l21 28-24-5-21-28zm24 5l21 27-24-4-21-28zm24 4l21 28-24-5-21-27zm25 3l21 28-25-3-21-28zm24 3l21 28-24-3-21-28zm25 3l21 28-25-3-21-28zm25 2l20 27-24-1-21-28z"/>
<path class="ql" d="M5601 3019l20 28-25-2-20-27zm25 1l21 27-26 0-20-28zm25 0l21 28-25-1-21-27zm26 0l21 27-26 1-21-28z"/>
<path class="qn" d="M5703 3019l20 27-25 1-21-27zm26-2l20 27-26 2-20-27zm26-2l20 27-26 2-20-27z"/>
<path class="qp" d="M5781 3012l21 27-27 3-20-27zm27-4l20 27-26 4-21-27z"/>
<path class="qff" d="M4929 2725l23 26-22-15-23-26z"/>
<path class="qcy" d="M4973 2766l23 27-22-15-22-27z"/>
<path class="qaw" d="M5018 2807l22 29-21-15-23-28zm22 14l22 28-22-13-22-29z"/>
<path class="qbj" d="M5062 2834l22 28-22-13-22-28zm22 13l23 28-23-13-22-28z"/>
<path class="qq" d="M5835 3004l20 27-27 4-20-27zm27-5l20 27-27 5-20-27z"/>
<path class="qr" d="M5889 2994l20 27-27 5-20-27zm28-7l20 28-28 6-20-27zm75 13l20 29-28 8-20-29z"/>
<path class="qx" d="M6021 2992l19 29-28 8-20-29zm-77-11l20 27-27 7-20-28zm28-8l20 27-28 8-20-27z"/>
<path class="qfw" d="M4906 2701l23 24-22-15-23-24z"/>
<path class="qmw" d="M4951 2740l22 26-21-15-23-26z"/>
<path class="qci" d="M4995 2780l23 27-22-14-23-27z"/>
<path class="qep" d="M4973 2755l22 25-22-14-22-26z"/>
<path class="qag" d="M5107 2859l22 28-22-12-23-28zm22 12l22 28-22-12-22-28zm23 11l22 28-23-11-22-28zm22 11l22 28-22-11-22-28z"/>
<path class="qn" d="M5197 2903l22 28-23-10-22-28zm23 10l22 27-23-9-22-28zm23 9l22 27-23-9-22-27zm23 9l22 27-23-9-22-27zm23 8l22 27-23-8-22-27z"/>
<path class="ql" d="M5313 2946l21 27-23-7-22-27zm23 7l22 27-24-7-21-27zm24 7l21 27-23-7-22-27zm24 6l21 27-24-6-21-27zm23 5l22 27-24-5-21-27zm25 5l21 27-24-5-22-27zm24 4l21 27-24-4-21-27z"/>
<path class="qn" d="M5480 2984l22 26-25-3-21-27zm25 3l21 26-24-3-22-26zm25 3l21 26-25-3-21-26zm24 2l22 26-25-2-21-26zm26 1l21 26-25-1-22-26zm25 1l21 26-25-1-21-26z"/>
<path class="qp" d="M5630 2994l21 26-25 0-21-26zm26-1l21 27-26 0-21-26zm26-1l21 27-26 1-21-27z"/>
<path class="qq" d="M5708 2991l21 26-26 2-21-27zm26-3l21 27-26 2-21-26zm27-2l20 26-26 3-21-27z"/>
<path class="qr" d="M5787 2982l21 26-27 4-20-26zm27-4l21 26-27 4-21-26z"/>
<path class="qx" d="M5841 2973l21 26-27 5-21-26zm28-6l20 27-27 5-21-26z"/>
<path class="qw" d="M5896 2961l21 26-28 7-20-27zm28-6l20 26-27 6-21-26zm77 10l20 27-29 8-20-27z"/>
<path class="qge" d="M4882 2678l24 23-22-15-24-23z"/>
<path class="qfe" d="M4928 2716l23 24-22-15-23-24z"/>
<path class="qff" d="M4950 2731l23 24-22-15-23-24z"/>
<path class="qbi" d="M5017 2794l23 27-22-14-23-27zm23 14l22 26-22-13-23-27z"/>
<path class="qaw" d="M5062 2820l22 27-22-13-22-26zm22 13l23 26-23-12-22-27z"/>
<path class="qad" d="M5952 2947l20 26-28 8-20-26z"/>
<path class="qdx" d="M4859 2656l23 22-22-15-23-22z"/>
<path class="qfm" d="M4904 2693l24 23-22-15-24-23z"/>
<path class="qfw" d="M4926 2708l24 23-22-15-24-23z"/>
<path class="qmx" d="M4995 2768l22 26-22-14-22-25z"/>
<path class="qmw" d="M4972 2745l23 23-22-13-23-24z"/>
<path class="qci" d="M5017 2782l23 26-23-14-22-26z"/>
<path class="qfe" d="M4949 2722l23 23-22-14-24-23z"/>
<path class="qan" d="M5107 2845l22 26-22-12-23-26z"/>
<path class="qko" d="M5980 2940l21 25-29 8-20-26z"/>
<path class="qeh" d="M4835 2636l24 20-22-15-24-21z"/>
<path class="qex" d="M4881 2672l23 21-22-15-23-22z"/>
<path class="qge" d="M4903 2686l23 22-22-15-23-21z"/>
<path class="qfm" d="M4925 2701l24 21-23-14-23-22z"/>
<path class="qdq" d="M4994 2758l23 24-22-14-23-23z"/>
<path class="qao" d="M5039 2795l23 25-22-12-23-26z"/>
<path class="qbi" d="M5062 2807l22 26-22-13-23-25zm22 12l23 26-23-12-22-26z"/>
<path class="qmx" d="M5016 2771l23 24-22-13-23-24z"/>
<path class="qy" d="M5129 2856l23 26-23-11-22-26zm23 11l22 26-22-11-23-26zm23 10l22 26-23-10-22-26z"/>
<path class="qq" d="M5198 2887l22 26-23-10-22-26z"/>
<path class="qp" d="M5221 2896l22 26-23-9-22-26zm23 9l22 26-23-9-22-26zm23 8l22 26-23-8-22-26zm24 8l22 25-24-7-22-26zm23 7l22 25-23-7-22-25zm24 6l22 26-24-7-22-25zm24 6l22 26-24-6-22-26zm24 6l21 25-23-5-22-26zm24 5l22 25-25-5-21-25zm24 4l22 25-24-4-22-25zm25 4l21 25-24-4-22-25zm24 3l22 25-25-3-21-25zm25 2l22 26-25-3-22-25zm25 2l21 26-24-2-22-26z"/>
<path class="qq" d="M5558 2968l22 25-26-1-21-26zm26 1l21 25-25-1-22-25zm25 0l21 25-25 0-21-25zm26 0l21 24-26 1-21-25z"/>
<path class="qr" d="M5661 2968l21 24-26 1-21-24zm26-2l21 25-26 1-21-24zm26-2l21 24-26 3-21-25z"/>
<path class="qx" d="M5740 2961l21 25-27 2-21-24zm26-4l21 25-26 4-21-25z"/>
<path class="qw" d="M5793 2953l21 25-27 4-21-25zm27-5l21 25-27 5-21-25z"/>
<path class="qbi" d="M5107 2831l22 25-22-11-23-26z"/>
<path class="qad" d="M5848 2943l21 24-28 6-21-25zm27-6l21 24-27 6-21-24z"/>
<path class="qko" d="M5903 2931l21 24-28 6-21-24z"/>
<path class="qei" d="M4811 2617l24 19-22-16-24-19zm-24-18l24 18-22-16-24-18zm-24-16l24 16-22-16-24-16zm-24-15l24 15-22-16-24-15z"/>
<path class="qfn" d="M4857 2651l24 21-22-16-24-20z"/>
<path class="qdx" d="M4880 2666l23 20-22-14-24-21z"/>
<path class="qex" d="M4902 2681l23 20-22-15-23-20z"/>
<path class="qei" d="M4833 2632l24 19-22-15-24-19zm23 15l24 19-23-15-24-19zm-46-33l23 18-22-15-24-18zm22 16l24 17-23-15-23-18zm-47-32l25 16-23-15-24-16zm23 15l24 17-22-16-25-16zm-47-29l24 14-22-15-24-15zm22 15l25 14-23-15-24-14z"/>
<path class="qeh" d="M4878 2662l24 19-22-15-24-19z"/>
<path class="qei" d="M4854 2644l24 18-22-15-24-17zm-24-16l24 16-22-14-24-17zm-24-15l24 15-22-15-25-14z"/>
<path class="qmu" d="M4971 2736l23 22-22-13-23-23z"/>
<path class="qfw" d="M4948 2714l23 22-22-14-24-21z"/>
<path class="qmw" d="M4993 2749l23 22-22-13-23-22z"/>
<path class="qge" d="M4924 2694l24 20-23-13-23-20z"/>
<path class="qfe" d="M4970 2728l23 21-22-13-23-22z"/>
<path class="qge" d="M4947 2708l23 20-22-14-24-20z"/>
<path class="qfn" d="M4901 2676l23 18-22-13-24-19z"/>
<path class="qdx" d="M4923 2689l24 19-23-14-23-18z"/>
<path class="qei" d="M4877 2658l24 18-23-14-24-18zm22 14l24 17-22-13-24-18zm-46-30l24 16-23-14-24-16zm22 14l24 16-22-14-24-16zm-47-28l25 14-23-14-24-15zm23 13l24 15-22-14-25-14z"/>
<path class="qkf" d="M5039 2783l23 24-23-12-23-24z"/>
<path class="qdq" d="M5016 2761l23 22-23-12-23-22z"/>
<path class="qmu" d="M4993 2740l23 21-23-12-23-21z"/>
<path class="qfm" d="M4969 2720l24 20-23-12-23-20z"/>
<path class="qex" d="M4946 2702l23 18-22-12-24-19z"/>
<path class="qeh" d="M4922 2685l24 17-23-13-24-17z"/>
<path class="qei" d="M4898 2669l24 16-23-13-24-16zm-24-14l24 14-23-13-24-15z"/>
<path class="qae" d="M5130 2842l22 25-23-11-22-25z"/>
<path class="qan" d="M5152 2852l23 25-23-10-22-25zm23 10l23 25-23-10-23-25zm23 9l23 25-23-9-23-25z"/>
<path class="qr" d="M5222 2880l22 25-23-9-23-25zm23 9l22 24-23-8-22-25z"/>
<path class="qq" d="M5269 2896l22 25-24-8-22-24zm23 7l22 25-23-7-22-25zm24 7l22 24-24-6-22-25zm24 6l22 24-24-6-22-24zm24 6l22 24-24-6-22-24zm24 5l22 24-24-5-22-24zm24 4l22 24-24-4-22-24zm25 4l22 24-25-4-22-24z"/>
<path class="qr" d="M5462 2938l21 24-24-3-22-24zm24 3l22 23-25-2-21-24zm25 2l22 23-25-2-22-23zm26 1l21 24-25-2-22-23zm25 1l22 24-26-1-21-24zm26 0l21 24-25 0-22-24z"/>
<path class="qx" d="M5613 2945l22 24-26 0-21-24zm26-1l22 24-26 1-22-24zm26-2l22 24-26 2-22-24z"/>
<path class="qw" d="M5692 2940l21 24-26 2-22-24zm26-3l22 24-27 3-21-24z"/>
<path class="qad" d="M5745 2934l21 23-26 4-22-24zm27-4l21 23-27 4-21-23z"/>
<path class="qko" d="M5799 2926l21 22-27 5-21-23zm28-6l21 23-28 5-21-22z"/>
<path class="qkj" d="M5854 2914l21 23-27 6-21-23zm28-6l21 23-28 6-21-23zm49 15l21 24-28 8-21-24zm29-7l20 24-28 7-21-24z"/>
<path class="qej" d="M4714 2554l25 14-22-16-25-14z"/>
<path class="qbh" d="M5061 2795l23 24-22-12-23-24z"/>
<path class="qao" d="M5084 2807l23 24-23-12-23-24zm23 11l23 24-23-11-23-24zm23 10l22 24-22-10-23-24z"/>
<path class="qae" d="M5153 2838l22 24-23-10-22-24zm23 10l22 23-23-9-22-24zm23 9l23 23-24-9-22-23z"/>
<path class="qx" d="M5223 2865l22 24-23-9-23-23zm23 8l23 23-24-7-22-24zm24 7l22 23-23-7-23-23zm24 7l22 23-24-7-22-23zm24 6l22 23-24-6-22-23zm24 6l22 23-24-6-22-23zm24 5l22 23-24-5-22-23zm24 4l22 23-24-4-22-23zm25 4l22 23-25-4-22-23zm25 3l22 23-25-3-22-23zm25 3l21 23-24-3-22-23zm25 2l21 23-25-2-21-23zm25 2l22 22-26-1-21-23z"/>
<path class="qw" d="M5540 2923l22 22-25-1-22-22zm26 0l22 22-26 0-22-22zm26 0l21 22-25 0-22-22zm26-1l21 22-26 1-21-22z"/>
<path class="qad" d="M5644 2920l21 22-26 2-21-22zm26-2l22 22-27 2-21-22zm27-2l21 21-26 3-22-22z"/>
<path class="qko" d="M5724 2913l21 21-27 3-21-21zm27-4l21 21-27 4-21-21z"/>
<path class="qkj" d="M5778 2904l21 22-27 4-21-21z"/>
<path class="qke" d="M5805 2899l22 21-28 6-21-22zm28-6l21 21-27 6-22-21zm77 8l21 22-28 8-21-23z"/>
<path class="qjx" d="M5939 2893l21 23-29 7-21-22zm-78-6l21 21-28 6-21-21z"/>
<path class="qmy" d="M4689 2542l25 12-22-16-25-12z"/>
<path class="qdy" d="M4736 2570l25 14-22-16-25-14z"/>
<path class="qcx" d="M5039 2773l22 22-22-12-23-22z"/>
<path class="qjn" d="M5889 2879l21 22-28 7-21-21zm29-7l21 21-29 8-21-22z"/>
<path class="qmz" d="M4665 2531l24 11-22-16-25-11z"/>
<path class="qlz" d="M4712 2558l24 12-22-16-25-12z"/>
<path class="qdz" d="M4759 2586l24 13-22-15-25-14z"/>
<path class="qeh" d="M4781 2600l25 13-23-14-24-13z"/>
<path class="qei" d="M4804 2615l24 13-22-15-25-13zm23 13l24 13-23-13-24-13zm22 14l25 13-23-14-24-13z"/>
<path class="qeo" d="M5015 2752l24 21-23-12-23-21z"/>
<path class="qfw" d="M4992 2733l23 19-22-12-24-20z"/>
<path class="qge" d="M4968 2714l24 19-23-13-23-18z"/>
<path class="qdz" d="M4945 2697l23 17-22-12-24-17z"/>
<path class="qei" d="M4921 2682l24 15-23-12-24-16zm-24-14l24 14-23-13-24-14zm-25-13l25 13-23-13-25-13z"/>
<path class="qch" d="M5061 2785l23 22-23-12-22-22z"/>
<path class="qmb" d="M4640 2522l25 9-23-16-25-10z"/>
<path class="qls" d="M4687 2548l25 10-23-16-24-11z"/>
<path class="qmb" d="M4662 2538l25 10-22-17-25-9z"/>
<path class="qlm" d="M4734 2574l25 12-23-16-24-12z"/>
<path class="qdp" d="M5038 2764l23 21-22-12-24-21z"/>
<path class="qfe" d="M5015 2745l23 19-23-12-23-19z"/>
<path class="qfm" d="M4991 2726l24 19-23-12-24-19z"/>
<path class="qbu" d="M5084 2796l23 22-23-11-23-22z"/>
<path class="qbh" d="M5107 2806l23 22-23-10-23-22zm23 10l23 22-23-10-23-22zm23 10l23 22-23-10-23-22z"/>
<path class="qmj" d="M4614 2514l26 8-23-17-25-8z"/>
<path class="qlu" d="M4709 2563l25 11-22-16-25-10z"/>
<path class="qez" d="M4757 2589l24 11-22-14-25-12z"/>
<path class="qgf" d="M4968 2709l23 17-23-12-23-17z"/>
<path class="qeh" d="M4944 2694l24 15-23-12-24-15z"/>
<path class="qei" d="M4920 2680l24 14-23-12-24-14zm-25-13l25 13-23-12-25-13z"/>
<path class="qmr" d="M5061 2775l23 21-23-11-23-21z"/>
<path class="qmu" d="M5038 2756l23 19-23-11-23-19z"/>
<path class="qch" d="M5084 2786l23 20-23-10-23-21z"/>
<path class="qaf" d="M5177 2835l22 22-23-9-23-22zm23 8l23 22-24-8-22-22zm24 8l22 22-23-8-23-22z"/>
<path class="qw" d="M5247 2858l23 22-24-7-22-22zm24 7l23 22-24-7-23-22zm24 6l23 22-24-6-23-22zm24 6l23 22-24-6-23-22zm25 5l22 22-24-5-23-22zm24 5l22 21-24-4-22-22zm25 4l22 21-25-4-22-21zm24 3l23 21-25-3-22-21zm25 3l23 21-25-3-23-21zm25 2l23 21-25-2-23-21z"/>
<path class="qad" d="M5493 2901l22 21-25-2-23-21zm25 1l22 21-25-1-22-21zm26 0l22 21-26 0-22-21zm26 0l22 21-26 0-22-21z"/>
<path class="qko" d="M5596 2902l22 20-26 1-22-21zm26-2l22 20-26 2-22-20zm26-2l22 20-26 2-22-20z"/>
<path class="qkj" d="M5675 2896l22 20-27 2-22-20zm27-4l22 21-27 3-22-20z"/>
<path class="qke" d="M5729 2889l22 20-27 4-22-21zm27-5l22 20-27 5-22-20z"/>
<path class="qjx" d="M5784 2879l21 20-27 5-22-20z"/>
<path class="qjn" d="M5811 2873l22 20-28 6-21-20zm28-6l22 20-28 6-22-20z"/>
<path class="qna" d="M4589 2508l25 6-22-17-25-7z"/>
<path class="qlw" d="M4637 2531l25 7-22-16-26-8z"/>
<path class="qna" d="M4612 2524l25 7-23-17-25-6z"/>
<path class="qmg" d="M4684 2554l25 9-22-15-25-10z"/>
<path class="qlw" d="M4659 2546l25 8-22-16-25-7z"/>
<path class="qlr" d="M4732 2578l25 11-23-15-25-11z"/>
<path class="qfo" d="M4779 2603l25 12-23-15-24-11z"/>
<path class="qew" d="M5014 2738l24 18-23-11-24-19z"/>
<path class="qex" d="M4991 2721l23 17-23-12-23-17z"/>
<path class="qfn" d="M4967 2706l24 15-23-12-24-15z"/>
<path class="qei" d="M4943 2692l24 14-23-12-24-14zm-25-13l25 13-23-12-25-13z"/>
<path class="qnb" d="M5061 2767l23 19-23-11-23-19z"/>
<path class="qnc" d="M5107 2796l23 20-23-10-23-20z"/>
<path class="qdp" d="M5084 2777l23 19-23-10-23-19z"/>
<path class="qjg" d="M5868 2860l21 19-28 8-22-20z"/>
<path class="qlb" d="M4564 2502l25 6-22-18-26-5zm-26-3l26 3-23-17-25-4zm-26-2l26 2-22-18-26-2zm-26-1l26 1-22-18-26-1z"/>
<path class="qlp" d="M4634 2540l25 6-22-15-25-7z"/>
<path class="qnd" d="M4707 2569l25 9-23-15-25-9z"/>
<path class="qem" d="M4755 2593l24 10-22-14-25-11z"/>
<path class="qey" d="M4802 2617l25 11-23-13-25-12z"/>
<path class="qec" d="M5037 2749l24 18-23-11-24-18z"/>
<path class="qge" d="M5014 2732l23 17-23-11-23-17z"/>
<path class="qdx" d="M4990 2717l24 15-23-11-24-15z"/>
<path class="qei" d="M4966 2703l24 14-23-11-24-14zm-24-13l24 13-23-11-25-13z"/>
<path class="qav" d="M5130 2805l23 21-23-10-23-20zm24 9l23 21-24-9-23-21zm23 9l23 20-23-8-23-21z"/>
<path class="qje" d="M5896 2852l22 20-29 7-21-19z"/>
<path class="qlc" d="M4586 2519l26 5-23-16-25-6zm-25-3l25 3-22-17-26-3z"/>
<path class="qna" d="M4609 2535l25 5-22-16-26-5z"/>
<path class="qlb" d="M4535 2514l26 2-23-17-26-2zm-26-1l26 1-23-17-26-1z"/>
<path class="qlc" d="M4583 2532l26 3-23-16-25-3zm-26-2l26 2-22-16-26-2z"/>
<path class="qlb" d="M4532 2530l25 0-22-16-26-1z"/>
<path class="qne" d="M4460 2497l26-1-22-18-26 1zm-26 2l26-2-22-18-26 2zm-26 4l26-4-22-18-26 3zm-26 5l26-5-22-19-27 6zm-27 7l27-7-23-18-26 6zm-26 9l26-9-22-19-27 9z"/>
<path class="qlb" d="M4302 2534l27-10-23-19-26 10zm-26 12l26-12-22-19-27 11zm-27 13l27-13-23-20-27 13zm-27 15l27-15-23-20-26 15zm261-60l26-1-23-17-26 1zm23 17l26-1-23-17-26 1zm-49-14l26-3-23-17-26 2zm23 17l26-3-23-17-26 3zm-49-13l26-4-23-18-26 4zm22 17l27-4-23-17-26 4zm-49-12l27-5-23-18-26 5zm23 18l26-6-22-17-27 5zm-49-11l26-7-22-18-27 7zm23 18l26-7-23-18-26 7zm-49-9l26-9-23-18-26 9zm22 18l27-9-23-18-26 9zm-49-7l27-11-23-18-27 10zm-27 11l27-11-23-19-26 12z"/>
<path class="qlc" d="M4272 2578l26-14-22-18-27 13zm-27 15l27-15-23-19-27 15zm103-22l26-11-22-18-27 11zm-27 12l27-12-23-18-27 11zm-27 13l27-13-23-19-26 14zm-26 16l26-16-22-18-27 15zm-73-22l27-16-22-20-27 16zm23 20l27-17-23-19-27 16zm-50-1l27-19-22-20-27 18z"/>
<path class="qld" d="M4191 2628l27-18-23-20-27 19zm-49 0l26-19-22-21-27 20zm22 20l27-20-23-19-26 19zm-49 2l27-22-23-20-27 21zm126-21l27-17-23-19-27 17zm-27 18l27-18-23-19-27 18z"/>
<path class="qle" d="M4187 2668l27-21-23-19-27 20zm-50 2l27-22-22-20-27 22zm-49 3l27-23-23-21-27 23z"/>
<path class="qgp" d="M4110 2693l27-23-22-20-27 23zm50-4l27-21-23-20-27 22z"/>
<path class="qlt" d="M4682 2562l25 7-23-15-25-8z"/>
<path class="qlw" d="M4657 2556l25 6-23-16-25-6z"/>
<path class="qlp" d="M4631 2551l26 5-23-16-25-5z"/>
<path class="qlc" d="M4606 2548l25 3-22-16-26-3zm-26-2l26 2-23-16-26-2zm-26 0l26 0-23-16-25 0zm-26 2l26-2-22-16-26 1zm-26 2l26-2-22-17-26 3zm-26 5l26-5-22-16-27 4zm-26 6l26-6-23-17-26 6zm-26 7l26-7-23-17-26 7zm-27 9l27-9-23-17-27 9zm-26 11l26-11-23-17-26 11zm-27 12l27-12-23-17-27 12z"/>
<path class="qfd" d="M4730 2584l25 9-23-15-25-9z"/>
<path class="qlt" d="M4705 2577l25 7-23-15-25-7z"/>
<path class="qlw" d="M4680 2571l25 6-23-15-25-6z"/>
<path class="qlp" d="M4654 2566l26 5-23-15-26-5z"/>
<path class="qld" d="M4629 2563l25 3-23-15-25-3zm-26-1l26 1-23-15-26-2zm-286 52l27-14-23-17-27 13zm-26 16l26-16-23-18-26 16zm-27 17l27-17-23-18-27 17z"/>
<path class="qlc" d="M4577 2562l26 0-23-16-26 0zm-26 1l26-1-23-16-26 2zm-26 4l26-4-23-15-26 2zm-26 4l26-4-23-17-26 5zm-26 6l26-6-23-16-26 6zm-26 8l26-8-23-16-26 7zm-27 9l27-9-23-17-27 9zm-26 11l26-11-23-17-26 11z"/>
<path class="qel" d="M4777 2607l25 10-23-14-24-10z"/>
<path class="qeg" d="M4825 2630l24 12-22-14-25-11z"/>
<path class="qei" d="M4848 2643l24 12-23-13-24-12zm23 13l24 11-23-12-24-12zm23 12l24 11-23-12-24-11zm23 11l25 11-24-11-24-11z"/>
<path class="qeb" d="M5061 2759l23 18-23-10-24-18z"/>
<path class="qmo" d="M5107 2786l23 19-23-9-23-19z"/>
<path class="qam" d="M5201 2831l23 20-24-8-23-20zm24 7l22 20-23-7-23-20zm23 7l23 20-24-7-22-20z"/>
<path class="qad" d="M5273 2851l22 20-24-6-23-20zm24 6l22 20-24-6-22-20zm24 5l23 20-25-5-22-20zm25 5l22 20-24-5-23-20zm24 4l23 20-25-4-22-20zm25 4l22 19-24-3-23-20z"/>
<path class="qko" d="M5420 2878l22 19-25-3-22-19zm25 2l22 19-25-2-22-19zm25 2l23 19-26-2-22-19zm26 1l22 19-25-1-23-19zm26 0l22 19-26 0-22-19z"/>
<path class="qkj" d="M5547 2883l23 19-26 0-22-19zm27 0l22 19-26 0-23-19zm26-2l22 19-26 2-22-19z"/>
<path class="qke" d="M5626 2879l22 19-26 2-22-19zm27-2l22 19-27 2-22-19z"/>
<path class="qjx" d="M5680 2874l22 18-27 4-22-19zm27-4l22 19-27 3-22-18z"/>
<path class="qjn" d="M5734 2866l22 18-27 5-22-19zm28-6l22 19-28 5-22-18z"/>
<path class="qjg" d="M5790 2855l21 18-27 6-22-19z"/>
<path class="qje" d="M5818 2848l21 19-28 6-21-18zm28-7l22 19-29 7-21-19z"/>
<path class="qld" d="M4367 2618l27-13-23-17-27 12zm-27 14l27-14-23-18-27 14zm-27 16l27-16-23-18-26 16z"/>
<path class="qle" d="M4287 2665l26-17-22-18-27 17zm-50 1l27-19-23-18-27 18zm23 18l27-19-23-18-27 19zm-50 2l27-20-23-19-27 21z"/>
<path class="qgp" d="M4233 2705l27-21-23-18-27 20zm-50 3l27-22-23-18-27 21z"/>
<path class="qha" d="M4206 2727l27-22-23-19-27 22zm-73-14l27-24-23-19-27 23zm23 19l27-24-23-19-27 24z"/>
<path class="qfc" d="M4753 2598l24 9-22-14-25-9z"/>
<path class="qek" d="M4800 2621l25 9-23-13-25-10z"/>
<path class="qed" d="M5037 2742l24 17-24-10-23-17z"/>
<path class="qex" d="M5013 2727l24 15-23-10-24-15z"/>
<path class="qeh" d="M4989 2713l24 14-23-10-24-14z"/>
<path class="qei" d="M4965 2701l24 12-23-10-24-13zm-24-11l24 11-23-11-25-11z"/>
<path class="qdm" d="M5084 2769l23 17-23-9-23-18z"/>
<path class="qew" d="M5060 2752l24 17-23-10-24-17z"/>
<path class="qge" d="M5037 2737l23 15-23-10-24-15z"/>
<path class="qfn" d="M5013 2724l24 13-24-10-24-14z"/>
<path class="qei" d="M4989 2711l24 13-24-11-24-12zm-25-10l25 10-24-10-24-11z"/>
<path class="qbt" d="M5131 2796l23 18-24-9-23-19z"/>
<path class="qiw" d="M5874 2833l22 19-28 8-22-19z"/>
<path class="qhl" d="M4179 2751l27-24-23-19-27 24z"/>
<path class="qfu" d="M4728 2591l25 7-23-14-25-7z"/>
<path class="qfa" d="M4775 2612l25 9-23-14-24-9z"/>
<path class="qfp" d="M4823 2634l25 9-23-13-25-9z"/>
<path class="qdy" d="M4846 2646l25 10-23-13-25-9z"/>
<path class="qdz" d="M4869 2658l25 10-23-12-25-10z"/>
<path class="qei" d="M4893 2670l24 9-23-11-25-10zm23 11l25 9-24-11-24-9zm24 10l24 10-23-11-25-9z"/>
<path class="qmp" d="M5107 2778l24 18-24-10-23-17z"/>
<path class="qeb" d="M5084 2762l23 16-23-9-24-17z"/>
<path class="qed" d="M5060 2747l24 15-24-10-23-15z"/>
<path class="qdx" d="M5036 2733l24 14-23-10-24-13z"/>
<path class="qei" d="M5012 2721l24 12-23-9-24-13zm-24-11l24 11-23-10-25-10zm-25-9l25 9-24-9-24-10z"/>
<path class="qbc" d="M5154 2804l23 19-23-9-23-18zm24 8l23 19-24-8-23-19zm24 8l23 18-24-7-23-19z"/>
<path class="qln" d="M4702 2585l26 6-23-14-25-6z"/>
<path class="qft" d="M4750 2605l25 7-22-14-25-7z"/>
<path class="qln" d="M4725 2600l25 5-22-14-26-6z"/>
<path class="qfb" d="M4798 2625l25 9-23-13-25-9z"/>
<path class="qcw" d="M5131 2787l23 17-23-8-24-18z"/>
<path class="qdm" d="M5107 2770l24 17-24-9-23-16z"/>
<path class="qew" d="M5084 2756l23 14-23-8-24-15z"/>
<path class="qex" d="M5060 2742l24 14-24-9-24-14z"/>
<path class="qeh" d="M5036 2730l24 12-24-9-24-12z"/>
<path class="qei" d="M5012 2720l24 10-24-9-24-11zm-25-9l25 9-24-10-25-9z"/>
<path class="qau" d="M5226 2827l22 18-23-7-23-18zm24 6l23 18-25-6-22-18zm24 6l23 18-24-6-23-18z"/>
<path class="qkj" d="M5298 2844l23 18-24-5-23-18zm25 5l23 18-25-5-23-18zm24 4l23 18-24-4-23-18zm25 4l23 18-25-4-23-18zm25 3l23 18-25-3-23-18zm25 2l23 18-25-2-23-18zm26 2l22 18-25-2-23-18zm25 1l23 18-26-1-22-18z"/>
<path class="qke" d="M5499 2866l23 17-26 0-23-18zm26 0l22 17-25 0-23-17zm26-1l23 18-27 0-22-17z"/>
<path class="qjx" d="M5577 2864l23 17-26 2-23-18zm27-2l22 17-26 2-23-17z"/>
<path class="qjn" d="M5631 2860l22 17-27 2-22-17zm27-3l22 17-27 3-22-17z"/>
<path class="qjg" d="M5685 2853l22 17-27 4-22-17zm27-5l22 18-27 4-22-17z"/>
<path class="qje" d="M5740 2843l22 17-28 6-22-18zm27-6l23 18-28 5-22-17z"/>
<path class="qiw" d="M5796 2831l22 17-28 7-23-18z"/>
<path class="qll" d="M4677 2581l25 4-22-14-26-5zm23 14l25 5-23-15-25-4z"/>
<path class="qld" d="M4652 2578l25 3-23-15-25-3zm-26-1l26 1-23-15-26-1zm-26 0l26 0-23-15-26 0zm-26 2l26-2-23-15-26 1zm-26 3l26-3-23-16-26 4z"/>
<path class="qlc" d="M4522 2587l26-5-23-15-26 4zm-26 6l26-6-23-16-26 6z"/>
<path class="qld" d="M4470 2601l26-8-23-16-26 8zm-27 10l27-10-23-16-27 9zm-26 11l26-11-23-17-26 11zm-27 12l27-12-23-17-27 13zm-27 15l27-15-23-16-27 14z"/>
<path class="qle" d="M4336 2665l27-16-23-17-27 16zm-26 17l26-17-23-17-26 17zm365-89l25 2-23-14-25-3z"/>
<path class="qld" d="M4649 2592l26 1-23-15-26-1zm-26 0l26 0-23-15-26 0zm-26 2l26-2-23-15-26 2zm-26 3l26-3-23-15-26 3zm-26 5l26-5-23-15-26 5zm-26 7l26-7-23-15-26 6zm-26 8l26-8-23-16-26 8zm-27 9l27-9-23-16-27 10zm-26 12l26-12-23-15-26 11z"/>
<path class="qle" d="M4413 2651l27-13-23-16-27 12zm-27 14l27-14-23-17-27 15zm-26 16l26-16-23-16-27 16z"/>
<path class="qgp" d="M4333 2699l27-18-24-16-26 17zm-50 3l27-20-23-17-27 19z"/>
<path class="qha" d="M4306 2718l27-19-23-17-27 20zm-50 4l27-20-23-18-27 21z"/>
<path class="qhl" d="M4279 2740l27-22-23-16-27 20zm-50 5l27-23-23-17-27 22zm23 17l27-22-23-18-27 23z"/>
<path class="qfs" d="M4773 2618l25 7-23-13-25-7z"/>
<path class="qfu" d="M4748 2613l25 5-23-13-25-5z"/>
<path class="qln" d="M4723 2609l25 4-23-13-25-5z"/>
<path class="qll" d="M4698 2607l25 2-23-14-25-2z"/>
<path class="qle" d="M4672 2606l26 1-23-14-26-1z"/>
<path class="qld" d="M4646 2606l26 0-23-14-26 0zm-26 2l26-2-23-14-26 2zm-26 4l26-4-23-14-26 3zm-26 5l26-5-23-15-26 5zm-26 7l26-7-23-15-26 7zm-26 8l26-8-23-15-26 8zm-27 10l27-10-23-15-27 9z"/>
<path class="qle" d="M4463 2653l26-11-23-16-26 12zm-27 13l27-13-23-15-27 13zm-26 15l26-15-23-15-27 14z"/>
<path class="qgp" d="M4383 2697l27-16-24-16-26 16z"/>
<path class="qha" d="M4356 2715l27-18-23-16-27 18zm-27 20l27-20-23-16-27 19z"/>
<path class="qhl" d="M4302 2756l27-21-23-17-27 22z"/>
<path class="qif" d="M4275 2779l27-23-23-16-27 22zm-73-10l27-24-23-18-27 24zm23 18l27-25-23-17-27 24z"/>
<path class="qgx" d="M4822 2638l24 8-23-12-25-9z"/>
<path class="qcg" d="M5155 2795l23 17-24-8-23-17z"/>
<path class="qmp" d="M5131 2779l24 16-24-8-24-17z"/>
<path class="qec" d="M5108 2764l23 15-24-9-23-14z"/>
<path class="qip" d="M5824 2824l22 17-28 7-22-17zm28-8l22 17-28 8-22-17z"/>
<path class="qih" d="M4248 2804l27-25-23-17-27 25z"/>
<path class="qgi" d="M4797 2631l25 7-24-13-25-7z"/>
<path class="qfu" d="M4771 2626l26 5-24-13-25-5z"/>
<path class="qdh" d="M4845 2650l24 8-23-12-24-8z"/>
<path class="qbd" d="M5178 2802l24 18-24-8-23-17zm24 7l24 18-24-7-24-18zm25 7l23 17-24-6-24-18z"/>
<path class="qef" d="M5084 2751l24 13-24-8-24-14z"/>
<path class="qfn" d="M5060 2739l24 12-24-9-24-12z"/>
<path class="qei" d="M5035 2729l25 10-24-9-24-10zm-24-9l24 9-23-9-25-9z"/>
<path class="qgn" d="M4746 2622l25 4-23-13-25-4z"/>
<path class="qll" d="M4721 2620l25 2-23-13-25-2z"/>
<path class="qle" d="M4695 2619l26 1-23-13-26-1zm-25 1l25-1-23-13-26 0zm-26 2l26-2-24-14-26 2zm-26 4l26-4-24-14-26 4zm-26 5l26-5-24-14-26 5zm-27 7l27-7-24-14-26 7zm-26 8l26-8-23-14-26 8zm-26 10l26-10-23-14-27 10zm-27 12l27-12-24-14-26 11zm-26 13l26-13-23-15-27 13z"/>
<path class="qgp" d="M4433 2696l27-15-24-15-26 15z"/>
<path class="qha" d="M4406 2713l27-17-23-15-27 16zm-27 18l27-18-23-16-27 18z"/>
<path class="qhl" d="M4352 2751l27-20-23-16-27 20z"/>
<path class="qif" d="M4325 2772l27-21-23-16-27 21z"/>
<path class="qih" d="M4298 2796l27-24-23-16-27 23z"/>
<path class="qip" d="M4271 2821l27-25-23-17-27 25z"/>
<path class="qfq" d="M4820 2644l25 6-23-12-25-7z"/>
<path class="qdj" d="M4868 2662l25 8-24-12-24-8z"/>
<path class="qcf" d="M5155 2786l23 16-23-7-24-16z"/>
<path class="qat" d="M5251 2822l23 17-24-6-23-17zm24 5l23 17-24-5-23-17zm25 5l23 17-25-5-23-17z"/>
<path class="qke" d="M5324 2836l23 17-24-4-23-17zm25 4l23 17-25-4-23-17zm25 3l23 17-25-3-23-17zm26 3l22 16-25-2-23-17z"/>
<path class="qjx" d="M5425 2847l23 17-26-2-22-16zm26 2l22 16-25-1-23-17zm25 0l23 17-26-1-22-16zm26 1l23 16-26 0-23-17z"/>
<path class="qjn" d="M5528 2849l23 16-26 1-23-16zm27-1l22 16-26 1-23-16zm26-2l23 16-27 2-22-16z"/>
<path class="qjg" d="M5608 2844l23 16-27 2-23-16zm27-3l23 16-27 3-23-16z"/>
<path class="qje" d="M5662 2837l23 16-27 4-23-16zm28-4l22 15-27 5-23-16z"/>
<path class="qiw" d="M5717 2828l23 15-28 5-22-15zm28-6l22 15-27 6-23-15z"/>
<path class="qip" d="M5773 2815l23 16-29 6-22-15z"/>
<path class="qih" d="M5802 2808l22 16-28 7-23-16zm28-7l22 15-28 8-22-16z"/>
<path class="qgk" d="M4795 2638l25 6-23-13-26-5z"/>
<path class="qgn" d="M4769 2635l26 3-24-12-25-4z"/>
<path class="qgg" d="M4843 2655l25 7-23-12-25-6z"/>
<path class="qlj" d="M4891 2673l25 8-23-11-25-8z"/>
<path class="qdz" d="M4915 2683l25 8-24-10-25-8z"/>
<path class="qeh" d="M4939 2693l24 8-23-10-25-8z"/>
<path class="qei" d="M4962 2703l25 8-24-10-24-8zm24 9l25 8-24-9-25-8z"/>
<path class="qdl" d="M5131 2772l24 14-24-7-23-15z"/>
<path class="qed" d="M5108 2759l23 13-23-8-24-13z"/>
<path class="qdx" d="M5084 2747l24 12-24-8-24-12z"/>
<path class="qei" d="M5059 2737l25 10-24-8-25-10zm-24-9l24 9-24-8-24-9zm-25-7l25 7-24-8-25-8z"/>
<path class="qbq" d="M5179 2794l23 15-24-7-23-16z"/>
<path class="qgo" d="M4744 2633l25 2-23-13-25-2z"/>
<path class="qle" d="M4719 2632l25 1-23-13-26-1zm-26 1l26-1-24-13-25 1zm-26 2l26-2-23-13-26 2zm-26 4l26-4-23-13-26 4zm-26 6l26-6-23-13-26 5zm-26 7l26-7-23-14-27 7zm-27 8l27-8-24-14-26 8zm-26 11l26-11-23-14-26 10z"/>
<path class="qgp" d="M4509 2682l27-11-23-15-27 12zm-26 14l26-14-23-14-26 13zm-27 15l27-15-23-15-27 15z"/>
<path class="qha" d="M4429 2728l27-17-23-15-27 17z"/>
<path class="qhl" d="M4403 2746l26-18-23-15-27 18zm-27 20l27-20-24-15-27 20z"/>
<path class="qif" d="M4349 2788l27-22-24-15-27 21z"/>
<path class="qih" d="M4322 2812l27-24-24-16-27 24z"/>
<path class="qip" d="M4295 2838l27-26-24-16-27 25z"/>
<path class="qgj" d="M4818 2650l25 5-23-11-25-6z"/>
<path class="qgh" d="M4867 2667l24 6-23-11-25-7z"/>
<path class="qgx" d="M4890 2677l25 6-24-10-24-6z"/>
<path class="qek" d="M4914 2687l25 6-24-10-25-6z"/>
<path class="qfp" d="M4938 2697l24 6-23-10-25-6z"/>
<path class="qdy" d="M4962 2706l24 6-24-9-24-6z"/>
<path class="qdz" d="M4986 2715l24 6-24-9-24-6z"/>
<path class="qcu" d="M5155 2779l24 15-24-8-24-14z"/>
<path class="qbb" d="M5203 2800l24 16-25-7-23-15zm24 6l24 16-24-6-24-16zm25 6l23 15-24-5-24-16z"/>
<path class="qgm" d="M4793 2647l25 3-23-12-26-3z"/>
<path class="qgo" d="M4767 2645l26 2-24-12-25-2z"/>
<path class="qgp" d="M4742 2644l25 1-23-12-25-1zm-26 1l26-1-23-12-26 1z"/>
<path class="qle" d="M4690 2648l26-3-23-12-26 2zm-26 4l26-4-23-13-26 4zm-26 6l26-6-23-13-26 6zm-26 7l26-7-23-13-26 7zm-26 9l26-9-23-13-27 8z"/>
<path class="qgp" d="M4559 2684l27-10-24-14-26 11zm-26 12l26-12-23-13-27 11zm-27 14l27-14-24-14-26 14z"/>
<path class="qha" d="M4480 2725l26-15-23-14-27 15z"/>
<path class="qhl" d="M4453 2742l27-17-24-14-27 17zm-27 19l27-19-24-14-26 18z"/>
<path class="qif" d="M4399 2781l27-20-23-15-27 20z"/>
<path class="qih" d="M4372 2804l27-23-23-15-27 22z"/>
<path class="qip" d="M4345 2828l27-24-23-16-27 24z"/>
<path class="qiw" d="M4318 2853l27-25-23-16-27 26z"/>
<path class="qfr" d="M4842 2662l25 5-24-12-25-5z"/>
<path class="qgi" d="M4865 2673l25 4-23-10-25-5z"/>
<path class="qgk" d="M4816 2658l26 4-24-12-25-3zm24 11l25 4-23-11-26-4z"/>
<path class="qdo" d="M5132 2766l23 13-24-7-23-13z"/>
<path class="qex" d="M5108 2755l24 11-24-7-24-12z"/>
<path class="qeh" d="M5084 2744l24 11-24-8-25-10z"/>
<path class="qei" d="M5059 2736l25 8-25-7-24-9zm-24-8l24 8-24-8-25-7zm-25-5l25 5-25-7-24-6z"/>
<path class="qcv" d="M5180 2786l23 14-24-6-24-15z"/>
<path class="qkr" d="M5277 2817l23 15-25-5-23-15zm24 4l23 15-24-4-23-15zm25 4l23 15-25-4-23-15z"/>
<path class="qjx" d="M5351 2828l23 15-25-3-23-15zm26 2l23 16-26-3-23-15z"/>
<path class="qjn" d="M5402 2832l23 15-25-1-23-16zm26 2l23 15-26-2-23-15zm25 1l23 14-25 0-23-15zm26 0l23 15-26-1-23-14z"/>
<path class="qjg" d="M5505 2834l23 15-26 1-23-15zm27-1l23 15-27 1-23-15z"/>
<path class="qje" d="M5558 2832l23 14-26 2-23-15zm27-3l23 15-27 2-23-14zm27-3l23 15-27 3-23-15z"/>
<path class="qiw" d="M5639 2823l23 14-27 4-23-15zm28-5l23 15-28 4-23-14z"/>
<path class="qip" d="M5694 2813l23 15-27 5-23-15z"/>
<path class="qih" d="M5722 2808l23 14-28 6-23-15zm29-7l22 14-28 7-23-14z"/>
<path class="qif" d="M5779 2795l23 13-29 7-22-14zm29-8l22 14-28 7-23-13z"/>
<path class="qid" d="M4889 2683l25 4-24-10-25-4z"/>
<path class="qgz" d="M4791 2657l25 1-23-11-26-2z"/>
<path class="qgp" d="M4765 2656l26 1-24-12-25-1zm-25 1l25-1-23-12-26 1zm-26 3l26-3-24-12-26 3zm-26 4l26-4-24-12-26 4zm-26 6l26-6-24-12-26 6zm-26 8l26-8-24-12-26 7zm-27 9l27-9-24-13-26 9zm-26 10l26-10-23-13-27 10zm-26 13l26-13-24-13-26 12z"/>
<path class="qha" d="M4530 2723l27-13-24-14-27 14zm-27 16l27-16-24-13-26 15z"/>
<path class="qhl" d="M4476 2756l27-17-23-14-27 17z"/>
<path class="qif" d="M4450 2775l26-19-23-14-27 19zm-27 21l27-21-24-14-27 20z"/>
<path class="qih" d="M4396 2818l27-22-24-15-27 23z"/>
<path class="qip" d="M4369 2843l27-25-24-14-27 24z"/>
<path class="qiw" d="M4342 2869l27-26-24-15-27 25z"/>
<path class="qgm" d="M4815 2668l25 1-24-11-25-1z"/>
<path class="qgz" d="M4789 2668l26 0-24-11-26-1z"/>
<path class="qgp" d="M4763 2669l26-1-24-12-25 1zm-25 3l25-3-23-12-26 3zm-26 4l26-4-24-12-26 4zm-26 6l26-6-24-12-26 6zm-27 8l27-8-24-12-26 8zm-26 9l26-9-23-12-27 9z"/>
<path class="qha" d="M4607 2710l26-11-24-12-26 10zm-27 12l27-12-24-13-26 13zm-26 14l26-14-23-12-27 13z"/>
<path class="qhl" d="M4527 2752l27-16-24-13-27 16zm-27 17l27-17-24-13-27 17z"/>
<path class="qif" d="M4473 2789l27-20-24-13-26 19z"/>
<path class="qih" d="M4446 2810l27-21-23-14-27 21z"/>
<path class="qip" d="M4419 2832l27-22-23-14-27 22z"/>
<path class="qiw" d="M4392 2857l27-25-23-14-27 25z"/>
<path class="qje" d="M4365 2883l27-26-23-14-27 26z"/>
<path class="qdn" d="M5156 2773l24 13-25-7-23-13z"/>
<path class="qef" d="M5132 2761l24 12-24-7-24-11z"/>
<path class="qdz" d="M5108 2751l24 10-24-6-24-11z"/>
<path class="qei" d="M5083 2743l25 8-24-7-25-8zm-24-7l24 7-24-7-24-8zm-25-6l25 6-24-8-25-5z"/>
<path class="qbg" d="M5204 2792l23 14-24-6-23-14z"/>
<path class="qcu" d="M5180 2779l24 13-24-6-24-13z"/>
<path class="qgy" d="M4864 2680l25 3-24-10-25-4z"/>
<path class="qgm" d="M4838 2678l26 2-24-11-25-1z"/>
<path class="qgz" d="M4813 2678l25 0-23-10-26 0z"/>
<path class="qha" d="M4787 2680l26-2-24-10-26 1z"/>
<path class="qgp" d="M4761 2683l26-3-24-11-25 3zm-26 4l26-4-23-11-26 4zm-26 7l26-7-23-11-26 6zm-26 7l26-7-23-12-27 8z"/>
<path class="qha" d="M4657 2711l26-10-24-11-26 9zm-26 11l26-11-24-12-26 11zm-27 12l27-12-24-12-27 12z"/>
<path class="qhl" d="M4577 2749l27-15-24-12-26 14zm-26 16l26-16-23-13-27 16z"/>
<path class="qif" d="M4524 2782l27-17-24-13-27 17zm-27 20l27-20-24-13-27 20z"/>
<path class="qih" d="M4470 2823l27-21-24-13-27 21z"/>
<path class="qip" d="M4443 2846l27-23-24-13-27 22z"/>
<path class="qiw" d="M4416 2871l27-25-24-14-27 25z"/>
<path class="qje" d="M4389 2897l27-26-24-14-27 26z"/>
<path class="qht" d="M4913 2693l25 4-24-10-25-4z"/>
<path class="qgx" d="M4937 2702l25 4-24-9-25-4z"/>
<path class="qdh" d="M4961 2711l25 4-24-9-25-4z"/>
<path class="qdj" d="M4985 2719l25 4-24-8-25-4z"/>
<path class="qfp" d="M5009 2726l25 4-24-7-25-4z"/>
<path class="qbf" d="M5228 2798l24 14-25-6-23-14z"/>
<path class="qdi" d="M5156 2768l24 11-24-6-24-12z"/>
<path class="qdx" d="M5132 2758l24 10-24-7-24-10z"/>
<path class="qei" d="M5108 2749l24 9-24-7-25-8zm-25-7l25 7-25-6-24-7zm-24-5l24 5-24-6-25-6z"/>
<path class="qey" d="M5034 2733l25 4-25-7-25-4z"/>
<path class="qio" d="M4887 2690l26 3-24-10-25-3z"/>
<path class="qgm" d="M4862 2688l25 2-23-10-26-2z"/>
<path class="qgz" d="M4837 2689l25-1-24-10-25 0z"/>
<path class="qha" d="M4811 2690l26-1-24-11-26 2zm-26 3l26-3-24-10-26 3zm-26 5l26-5-24-10-26 4zm-26 7l26-7-24-11-26 7zm-26 8l26-8-24-11-26 7zm-26 9l26-9-24-12-26 10zm-27 11l27-11-24-11-26 11z"/>
<path class="qhl" d="M4628 2746l26-13-23-11-27 12zm-27 15l27-15-24-12-27 15z"/>
<path class="qif" d="M4575 2777l26-16-24-12-26 16zm-27 18l27-18-24-12-27 17z"/>
<path class="qih" d="M4521 2814l27-19-24-13-27 20z"/>
<path class="qip" d="M4494 2836l27-22-24-12-27 21zm-27 23l27-23-24-13-27 23z"/>
<path class="qiw" d="M4440 2884l27-25-24-13-27 25z"/>
<path class="qje" d="M4413 2911l27-27-24-13-27 26z"/>
<path class="qce" d="M5205 2785l23 13-24-6-24-13z"/>
<path class="qdn" d="M5181 2774l24 11-25-6-24-11z"/>
<path class="qbe" d="M5253 2803l24 14-25-5-24-14zm25 4l23 14-24-4-24-14zm25 4l23 14-25-4-23-14z"/>
<path class="qks" d="M4911 2699l26 3-24-9-26-3z"/>
<path class="qdk" d="M5157 2764l24 10-25-6-24-10z"/>
<path class="qei" d="M5132 2755l25 9-25-6-24-9zm-24-6l24 6-24-6-25-7zm-25-6l25 6-25-7-24-5z"/>
<path class="qeg" d="M5058 2740l25 3-24-6-25-4z"/>
<path class="qbr" d="M5229 2790l24 13-25-5-23-13z"/>
<path class="qkq" d="M5328 2814l23 14-25-3-23-14z"/>
<path class="qhk" d="M4886 2698l25 1-24-9-25-2z"/>
<path class="qgz" d="M4861 2698l25 0-24-10-25 1z"/>
<path class="qha" d="M4835 2700l26-2-24-9-26 1zm-26 3l26-3-24-10-26 3zm-26 5l26-5-24-10-26 5zm-26 7l26-7-24-10-26 7zm-26 8l26-8-24-10-26 8zm-26 10l26-10-24-10-26 9z"/>
<path class="qhl" d="M4678 2744l27-11-24-11-27 11zm-26 13l26-13-24-11-26 13zm-27 15l27-15-24-11-27 15z"/>
<path class="qif" d="M4599 2788l26-16-24-11-26 16zm-27 18l27-18-24-11-27 18z"/>
<path class="qih" d="M4545 2826l27-20-24-11-27 19z"/>
<path class="qip" d="M4518 2848l27-22-24-12-27 22z"/>
<path class="qiw" d="M4491 2872l27-24-24-12-27 23z"/>
<path class="qje" d="M4464 2897l27-25-24-13-27 25z"/>
<path class="qjg" d="M4437 2924l27-27-24-13-27 27z"/>
<path class="qhj" d="M4936 2708l25 3-24-9-26-3z"/>
<path class="qid" d="M4960 2716l25 3-24-8-25-3z"/>
<path class="qgy" d="M4910 2707l26 1-25-9-25-1zm25 8l25 1-24-8-26-1z"/>
<path class="qhk" d="M4885 2707l25 0-24-9-25 0zm24 9l26-1-25-8-25 0z"/>
<path class="qgz" d="M4859 2709l26-2-24-9-26 2z"/>
<path class="qha" d="M4833 2713l26-4-24-9-26 3zm-25 5l25-5-24-10-26 5zm-26 7l26-7-25-10-26 7zm-27 8l27-8-25-10-26 8z"/>
<path class="qhl" d="M4729 2743l26-10-24-10-26 10zm-26 12l26-12-24-10-27 11zm-27 13l27-13-25-11-26 13z"/>
<path class="qif" d="M4649 2783l27-15-24-11-27 15zm-26 16l26-16-24-11-26 16z"/>
<path class="qih" d="M4596 2818l27-19-24-11-27 18zm-27 20l27-20-24-12-27 20z"/>
<path class="qip" d="M4542 2860l27-22-24-12-27 22z"/>
<path class="qiw" d="M4515 2883l27-23-24-12-27 24z"/>
<path class="qje" d="M4488 2909l27-26-24-11-27 25z"/>
<path class="qjg" d="M4461 2936l27-27-24-12-27 27z"/>
<path class="qcp" d="M5206 2779l23 11-24-5-24-11z"/>
<path class="qef" d="M5181 2769l25 10-25-5-24-10z"/>
<path class="qdz" d="M5157 2761l24 8-24-5-25-9z"/>
<path class="qei" d="M5133 2754l24 7-25-6-24-6zm-25-5l25 5-25-5-25-6zm-25-4l25 4-25-6-25-3z"/>
<path class="qbp" d="M5254 2795l24 12-25-4-24-13z"/>
<path class="qkp" d="M5353 2817l24 13-26-2-23-14z"/>
<path class="qjg" d="M5379 2819l23 13-25-2-24-13zm25 1l24 14-26-2-23-13zm26 1l23 14-25-1-24-14z"/>
<path class="qje" d="M5456 2821l23 14-26 0-23-14zm26 0l23 13-26 1-23-14zm27-1l23 13-27 1-23-13z"/>
<path class="qiw" d="M5535 2818l23 14-26 1-23-13zm27-2l23 13-27 3-23-14zm27-3l23 13-27 3-23-13z"/>
<path class="qip" d="M5616 2810l23 13-27 3-23-13zm28-5l23 13-28 5-23-13z"/>
<path class="qih" d="M5672 2801l22 12-27 5-23-13z"/>
<path class="qif" d="M5699 2795l23 13-28 5-22-12zm29-6l23 12-29 7-23-13z"/>
<path class="qhl" d="M5756 2782l23 13-28 6-23-12zm29-7l23 12-29 8-23-13z"/>
<path class="qhi" d="M4984 2724l25 2-24-7-25-3z"/>
<path class="qgx" d="M5009 2731l25 2-25-7-25-2z"/>
<path class="qdh" d="M5033 2738l25 2-24-7-25-2z"/>
<path class="qdj" d="M5058 2744l25 1-25-5-25-2z"/>
<path class="qio" d="M4959 2723l25 1-24-8-25-1z"/>
<path class="qks" d="M4983 2730l26 1-25-7-25-1z"/>
<path class="qhk" d="M4933 2724l26-1-24-8-26 1zm25 7l25-1-24-7-26 1z"/>
<path class="qhj" d="M5008 2737l25 1-24-7-26-1z"/>
<path class="qgg" d="M5033 2743l25 1-25-6-25-1z"/>
<path class="qgy" d="M4983 2738l25-1-25-7-25 1zm24 6l26-1-25-6-25 1z"/>
<path class="qhv" d="M4883 2718l26-2-24-9-26 2zm25 8l25-2-24-8-26 2zm24 8l26-3-25-7-25 2z"/>
<path class="qha" d="M4858 2722l25-4-24-9-26 4zm-26 5l26-5-25-9-25 5zm-26 7l26-7-24-9-26 7z"/>
<path class="qhl" d="M4780 2742l26-8-24-9-27 8zm-27 11l27-11-25-9-26 10zm-26 11l26-11-24-10-26 12zm-27 14l27-14-24-9-27 13zm182-48l26-4-25-8-25 4zm25 8l25-4-24-8-26 4zm-51-3l26-5-24-8-26 5zm25 8l26-5-25-8-26 5zm-51 0l26-8-24-8-26 7zm25 8l26-8-25-8-26 8zm-51 0l26-8-24-9-26 8zm25 8l26-8-25-8-26 8zm-51 3l26-11-24-9-27 11zm24 8l27-11-25-8-26 11zm-51 3l27-11-25-9-26 11zm25 9l26-12-24-8-27 11z"/>
<path class="qif" d="M4725 2787l26-14-24-9-27 14zm24 9l27-14-25-9-26 14zm-75-3l26-15-24-10-27 15zm24 9l27-15-25-9-26 15zm25 9l26-15-24-9-27 15zm-76-1l27-17-25-10-26 16z"/>
<path class="qih" d="M4671 2820l27-18-24-9-27 17zm25 9l27-18-25-9-27 18zm-76-1l27-18-24-11-27 19zm24 10l27-18-24-10-27 18zm25 10l27-19-25-9-27 18z"/>
<path class="qip" d="M4593 2849l27-21-24-10-27 20zm24 10l27-21-24-10-27 21zm25 10l27-21-25-10-27 21z"/>
<path class="qiw" d="M4566 2871l27-22-24-11-27 22zm24 10l27-22-24-10-27 22zm25 10l27-22-25-10-27 22zm-76 4l27-24-24-11-27 23z"/>
<path class="qje" d="M4563 2906l27-25-24-10-27 24zm25 10l27-25-25-10-27 25zm-76 4l27-25-24-12-27 26z"/>
<path class="qjg" d="M4536 2931l27-25-24-11-27 25zm25 11l27-26-25-10-27 25zm-76 6l27-28-24-11-27 27z"/>
<path class="qjn" d="M4509 2959l27-28-24-11-27 28zm24 11l28-28-25-11-27 28z"/>
<path class="qhk" d="M4957 2741l26-3-25-7-26 3zm25 6l25-3-24-6-26 3z"/>
<path class="qhv" d="M4931 2745l26-4-25-7-25 4zm25 7l26-5-25-6-26 4z"/>
<path class="qhl" d="M4905 2751l26-6-24-7-26 5zm25 6l26-5-25-7-26 6zm-51 1l26-7-24-8-26 8zm25 7l26-8-25-6-26 7zm-51 2l26-9-24-7-26 8zm25 7l26-9-25-7-26 9zm-51 4l26-11-24-8-27 11zm25 7l26-11-25-7-26 11z"/>
<path class="qif" d="M4800 2790l27-12-25-8-26 12zm25 8l27-13-25-7-27 12zm-51 6l26-14-24-8-27 14zm25 8l26-14-25-8-26 14zm-52 8l27-16-25-8-26 15z"/>
<path class="qih" d="M4772 2828l27-16-25-8-27 16zm-52 10l27-18-24-9-27 18zm25 8l27-18-25-8-27 18z"/>
<path class="qip" d="M4694 2857l26-19-24-9-27 19zm24 8l27-19-25-8-26 19zm-51 13l27-21-25-9-27 21zm24 8l27-21-24-8-27 21z"/>
<path class="qiw" d="M4639 2901l28-23-25-9-27 22zm25 9l27-24-24-8-28 23z"/>
<path class="qje" d="M4612 2925l27-24-24-10-27 25zm25 9l27-24-25-9-27 24z"/>
<path class="qjg" d="M4585 2952l27-27-24-9-27 26zm25 9l27-27-25-9-27 27z"/>
<path class="qjn" d="M4558 2980l27-28-24-10-28 28zm24 9l28-28-25-9-27 28z"/>
<path class="qdf" d="M5230 2784l24 11-25-5-23-11z"/>
<path class="qkn" d="M5279 2799l24 12-25-4-24-12zm25 3l24 12-25-3-24-12z"/>
<path class="qee" d="M5206 2774l24 10-24-5-25-10z"/>
<path class="qdx" d="M5182 2766l24 8-25-5-24-8z"/>
<path class="qei" d="M5158 2759l24 7-25-5-24-7zm-25-5l25 5-25-5-25-5zm-25-3l25 3-25-5-25-4z"/>
<path class="qdy" d="M5083 2749l25 2-25-6-25-1z"/>
<path class="qhi" d="M5058 2749l25 0-25-5-25-1z"/>
<path class="qio" d="M5032 2750l26-1-25-6-26 1z"/>
<path class="qhk" d="M5007 2753l25-3-25-6-25 3z"/>
<path class="qhv" d="M4981 2758l26-5-25-6-26 5z"/>
<path class="qhl" d="M4955 2764l26-6-25-6-26 5zm-26 7l26-7-25-7-26 8zm-26 10l26-10-25-6-26 9zm-26 11l26-11-25-7-26 11z"/>
<path class="qif" d="M4850 2804l27-12-25-7-27 13zm-26 15l26-15-25-6-26 14z"/>
<path class="qih" d="M4797 2835l27-16-25-7-27 16zm-27 18l27-18-25-7-27 18z"/>
<path class="qip" d="M4743 2873l27-20-25-7-27 19z"/>
<path class="qiw" d="M4716 2894l27-21-25-8-27 21zm-27 24l27-24-25-8-27 24z"/>
<path class="qje" d="M4662 2943l27-25-25-8-27 24z"/>
<path class="qjg" d="M4634 2969l28-26-25-9-27 27z"/>
<path class="qjn" d="M4607 2998l27-29-24-8-28 28z"/>
<path class="qcc" d="M5255 2788l24 11-25-4-24-11z"/>
<path class="qkl" d="M5330 2805l23 12-25-3-24-12z"/>
<path class="qcs" d="M5231 2778l24 10-25-4-24-10z"/>
<path class="qdk" d="M5207 2770l24 8-25-4-24-8z"/>
<path class="qei" d="M5183 2764l24 6-25-4-24-7zm-25-5l25 5-25-5-25-5zm-25-4l25 4-25-5-25-3z"/>
<path class="qdz" d="M5108 2754l25 1-25-4-25-2z"/>
<path class="qgx" d="M5083 2754l25 0-25-5-25 0z"/>
<path class="qks" d="M5058 2755l25-1-25-5-26 1z"/>
<path class="qhk" d="M5032 2758l26-3-26-5-25 3z"/>
<path class="qhv" d="M5006 2763l26-5-25-5-26 5z"/>
<path class="qhl" d="M4980 2769l26-6-25-5-26 6zm-26 8l26-8-25-5-26 7zm-26 10l26-10-25-6-26 10zm-26 11l26-11-25-6-26 11z"/>
<path class="qif" d="M4875 2811l27-13-25-6-27 12zm-26 14l26-14-25-7-26 15z"/>
<path class="qih" d="M4822 2842l27-17-25-6-27 16zm-27 18l27-18-25-7-27 18z"/>
<path class="qip" d="M4768 2880l27-20-25-7-27 20z"/>
<path class="qiw" d="M4741 2902l27-22-25-7-27 21zm-27 23l27-23-25-8-27 24z"/>
<path class="qje" d="M4687 2950l27-25-25-7-27 25z"/>
<path class="qjg" d="M4659 2977l28-27-25-7-28 26z"/>
<path class="qjn" d="M4632 3006l27-29-25-8-27 29z"/>
<path class="qjl" d="M5281 2791l23 11-25-3-24-11z"/>
<path class="qcp" d="M5257 2782l24 9-26-3-24-10z"/>
<path class="qdj" d="M5232 2774l25 8-26-4-24-8z"/>
<path class="qeg" d="M5208 2767l24 7-25-4-24-6z"/>
<path class="qei" d="M5183 2763l25 4-25-3-25-5zm-25-3l25 3-25-4-25-4z"/>
<path class="qeh" d="M5133 2758l25 2-25-5-25-1z"/>
<path class="qdh" d="M5108 2758l25 0-25-4-25 0z"/>
<path class="qfq" d="M5083 2760l25-2-25-4-25 1z"/>
<path class="qgy" d="M5057 2763l26-3-25-5-26 3z"/>
<path class="qhk" d="M5032 2768l25-5-25-5-26 5z"/>
<path class="qhv" d="M5006 2774l26-6-26-5-26 6z"/>
<path class="qhl" d="M4980 2782l26-8-26-5-26 8zm-27 10l27-10-26-5-26 10zm-26 11l26-11-25-5-26 11z"/>
<path class="qif" d="M4901 2816l26-13-25-5-27 13zm-27 15l27-15-26-5-26 14z"/>
<path class="qih" d="M4847 2848l27-17-25-6-27 17zm-27 18l27-18-25-6-27 18z"/>
<path class="qip" d="M4793 2887l27-21-25-6-27 20z"/>
<path class="qiw" d="M4766 2908l27-21-25-7-27 22z"/>
<path class="qje" d="M4739 2932l27-24-25-6-27 23zm-27 26l27-26-25-7-27 25z"/>
<path class="qjg" d="M4684 2985l28-27-25-8-28 27z"/>
<path class="qjx" d="M4657 3014l27-29-25-8-27 29z"/>
<path class="qkm" d="M5355 2807l24 12-26-2-23-12zm26 1l23 12-25-1-24-12zm26 1l23 12-26-1-23-12z"/>
<path class="qje" d="M5433 2810l23 11-26 0-23-12z"/>
<path class="qiw" d="M5459 2809l23 12-26 0-23-11zm26-1l24 12-27 1-23-12z"/>
<path class="qip" d="M5512 2807l23 11-26 2-24-12zm27-2l23 11-27 2-23-11zm27-3l23 11-27 3-23-11z"/>
<path class="qih" d="M5593 2798l23 12-27 3-23-11zm28-4l23 11-28 5-23-12z"/>
<path class="qif" d="M5648 2790l24 11-28 4-23-11zm28-6l23 11-27 6-24-11z"/>
<path class="qhl" d="M5704 2778l24 11-29 6-23-11z"/>
<path class="qha" d="M5733 2772l23 10-28 7-24-11zm29-8l23 11-29 7-23-10z"/>
<path class="qkb" d="M5306 2794l24 11-26-3-23-11z"/>
<path class="qcq" d="M5282 2785l24 9-25-3-24-9z"/>
<path class="qkc" d="M5331 2796l24 11-25-2-24-11zm26 2l24 10-26-1-24-11z"/>
<path class="qjl" d="M5307 2787l24 9-25-2-24-9z"/>
<path class="qdg" d="M5258 2777l24 8-25-3-25-8z"/>
<path class="qdx" d="M5233 2771l25 6-26-3-24-7z"/>
<path class="qei" d="M5209 2766l24 5-25-4-25-4zm-25-3l25 3-26-3-25-3zm-25-1l25 1-26-3-25-2z"/>
<path class="qfp" d="M5134 2762l25 0-26-4-25 0z"/>
<path class="qgg" d="M5108 2764l26-2-26-4-25 2z"/>
<path class="qgy" d="M5083 2767l25-3-25-4-26 3z"/>
<path class="qhk" d="M5057 2772l26-5-26-4-25 5z"/>
<path class="qhv" d="M5031 2779l26-7-25-4-26 6z"/>
<path class="qhl" d="M5005 2787l26-8-25-5-26 8zm-26 10l26-10-25-5-27 10zm-26 11l26-11-26-5-26 11z"/>
<path class="qif" d="M4926 2822l27-14-26-5-26 13zm-27 15l27-15-25-6-27 15z"/>
<path class="qih" d="M4873 2853l26-16-25-6-27 17zm-27 19l27-19-26-5-27 18z"/>
<path class="qip" d="M4819 2892l27-20-26-6-27 21z"/>
<path class="qiw" d="M4792 2915l27-23-26-5-27 21z"/>
<path class="qje" d="M4764 2939l28-24-26-7-27 24zm-27 25l27-25-25-7-27 26z"/>
<path class="qjg" d="M4710 2992l27-28-25-6-28 27z"/>
<path class="qjx" d="M4682 3021l28-29-26-7-27 29z"/>
<path class="qcs" d="M5283 2779l24 8-25-2-24-8z"/>
<path class="qdk" d="M5259 2773l24 6-25-2-25-6z"/>
<path class="qei" d="M5234 2769l25 4-26-2-24-5zm-25-3l25 3-25-3-25-3zm-25-1l25 1-25-3-25-1z"/>
<path class="qdy" d="M5159 2765l25 0-25-3-25 0z"/>
<path class="qhi" d="M5134 2767l25-2-25-3-26 2z"/>
<path class="qio" d="M5108 2771l26-4-26-3-25 3z"/>
<path class="qhk" d="M5083 2776l25-5-25-4-26 5z"/>
<path class="qhv" d="M5057 2782l26-6-26-4-26 7z"/>
<path class="qhl" d="M5031 2791l26-9-26-3-26 8zm-27 10l27-10-26-4-26 10zm-26 12l26-12-25-4-26 11z"/>
<path class="qif" d="M4952 2826l26-13-25-5-27 14zm-27 15l27-15-26-4-27 15z"/>
<path class="qih" d="M4898 2858l27-17-26-4-26 16zm-27 19l27-19-25-5-27 19z"/>
<path class="qip" d="M4844 2898l27-21-25-5-27 20z"/>
<path class="qiw" d="M4817 2920l27-22-25-6-27 23z"/>
<path class="qje" d="M4790 2944l27-24-25-5-28 24zm-28 26l28-26-26-5-27 25z"/>
<path class="qjg" d="M4735 2998l27-28-25-6-27 28z"/>
<path class="qjx" d="M4708 3027l27-29-25-6-28 29z"/>
<path class="qki" d="M5383 2799l24 10-26-1-24-10zm26 0l24 11-26-1-24-10z"/>
<path class="qky" d="M5333 2789l24 9-26-2-24-9z"/>
<path class="qkd" d="M5435 2799l24 10-26 1-24-11z"/>
<path class="qip" d="M5462 2798l23 10-26 1-24-10zm26-1l24 10-27 1-23-10z"/>
<path class="qih" d="M5515 2795l24 10-27 2-24-10zm27-3l24 10-27 3-24-10z"/>
<path class="qif" d="M5570 2789l23 9-27 4-24-10zm27-4l24 9-28 4-23-9z"/>
<path class="qhl" d="M5625 2780l23 10-27 4-24-9zm28-5l23 9-28 6-23-10z"/>
<path class="qha" d="M5681 2769l23 9-28 6-23-9z"/>
<path class="qgp" d="M5709 2763l24 9-29 6-23-9zm29-8l24 9-29 8-24-9z"/>
<path class="qim" d="M5309 2781l24 8-26-2-24-8z"/>
<path class="qdj" d="M5285 2775l24 6-26-2-24-6z"/>
<path class="qeh" d="M5260 2771l25 4-26-2-25-4z"/>
<path class="qei" d="M5235 2768l25 3-26-2-25-3zm-25-1l25 1-26-2-25-1z"/>
<path class="qdz" d="M5185 2768l25-1-26-2-25 0z"/>
<path class="qgx" d="M5160 2770l25-2-26-3-25 2z"/>
<path class="qgi" d="M5134 2773l26-3-26-3-26 4z"/>
<path class="qhk" d="M5108 2779l26-6-26-2-25 5z"/>
<path class="qhv" d="M5083 2786l25-7-25-3-26 6z"/>
<path class="qhl" d="M5056 2794l27-8-26-4-26 9zm-26 10l26-10-25-3-27 10zm-26 12l26-12-26-3-26 12z"/>
<path class="qif" d="M4977 2830l27-14-26-3-26 13zm-26 15l26-15-25-4-27 15z"/>
<path class="qih" d="M4924 2863l27-18-26-4-27 17zm-27 19l27-19-26-5-27 19z"/>
<path class="qip" d="M4870 2902l27-20-26-5-27 21z"/>
<path class="qiw" d="M4843 2925l27-23-26-4-27 22zm-28 24l28-24-26-5-27 24z"/>
<path class="qje" d="M4788 2975l27-26-25-5-28 26z"/>
<path class="qjg" d="M4761 3003l27-28-26-5-27 28z"/>
<path class="qjx" d="M4733 3033l28-30-26-5-27 29z"/>
<path class="qjm" d="M5359 2790l24 9-26-1-24-9z"/>
<path class="qit" d="M5335 2782l24 8-26-1-24-8z"/>
<path class="qdh" d="M5311 2777l24 5-26-1-24-6z"/>
<path class="qeg" d="M5286 2773l25 4-26-2-25-4z"/>
<path class="qei" d="M5261 2770l25 3-26-2-25-3zm-25-1l25 1-26-2-25-1z"/>
<path class="qeh" d="M5211 2770l25-1-26-2-25 1z"/>
<path class="qek" d="M5186 2772l25-2-26-2-25 2z"/>
<path class="qfq" d="M5160 2776l26-4-26-2-26 3z"/>
<path class="qgk" d="M5134 2781l26-5-26-3-26 6z"/>
<path class="qhk" d="M5108 2788l26-7-26-2-25 7z"/>
<path class="qhv" d="M5082 2797l26-9-25-2-27 8z"/>
<path class="qhl" d="M5056 2807l26-10-26-3-26 10zm-26 12l26-12-26-3-26 12zm-27 14l27-14-26-3-27 14z"/>
<path class="qif" d="M4977 2849l26-16-26-3-26 15zm-27 17l27-17-26-4-27 18z"/>
<path class="qih" d="M4923 2885l27-19-26-3-27 19z"/>
<path class="qip" d="M4896 2906l27-21-26-3-27 20zm-28 23l28-23-26-4-27 23z"/>
<path class="qiw" d="M4841 2954l27-25-25-4-28 24z"/>
<path class="qje" d="M4814 2980l27-26-26-5-27 26z"/>
<path class="qjg" d="M4786 3008l28-28-26-5-27 28z"/>
<path class="qjn" d="M4759 3038l27-30-25-5-28 30z"/>
<path class="qjw" d="M5385 2790l24 9-26 0-24-9zm26 0l24 9-26 0-24-9z"/>
<path class="qnf" d="M5361 2783l24 7-26 0-24-8z"/>
<path class="qjo" d="M5438 2790l24 8-27 1-24-9z"/>
<path class="qlg" d="M5337 2777l24 6-26-1-24-5z"/>
<path class="qey" d="M5312 2774l25 3-26 0-25-4z"/>
<path class="qei" d="M5287 2771l25 3-26-1-25-3zm-25-1l25 1-26-1-25-1zm-25 1l25-1-26-1-25 1z"/>
<path class="qfp" d="M5212 2773l25-2-26-1-25 2z"/>
<path class="qgg" d="M5186 2777l26-4-26-1-26 4z"/>
<path class="qgk" d="M5161 2783l25-6-26-1-26 5z"/>
<path class="qgm" d="M5135 2790l26-7-27-2-26 7z"/>
<path class="qgz" d="M5109 2799l26-9-27-2-26 9z"/>
<path class="qhl" d="M5082 2810l27-11-27-2-26 10zm-26 12l26-12-26-3-26 12zm-27 14l27-14-26-3-27 14z"/>
<path class="qif" d="M5003 2852l26-16-26-3-26 16zm-27 17l27-17-26-3-27 17z"/>
<path class="qih" d="M4949 2889l27-20-26-3-27 19z"/>
<path class="qip" d="M4922 2910l27-21-26-4-27 21zm-28 23l28-23-26-4-28 23z"/>
<path class="qiw" d="M4867 2958l27-25-26-4-27 25z"/>
<path class="qje" d="M4840 2984l27-26-26-4-27 26z"/>
<path class="qjg" d="M4812 3013l28-29-26-4-28 28z"/>
<path class="qjn" d="M4785 3043l27-30-26-5-27 30z"/>
<path class="qiu" d="M5387 2783l24 7-26 0-24-7z"/>
<path class="qig" d="M5465 2788l23 9-26 1-24-8z"/>
<path class="qic" d="M5363 2778l24 5-26 0-24-6z"/>
<path class="qdk" d="M5338 2774l25 4-26-1-25-3z"/>
<path class="qei" d="M5314 2772l24 2-26 0-25-3zm-25-1l25 1-27-1-25-1zm-25 1l25-1-27-1-25 1z"/>
<path class="qdy" d="M5238 2774l26-2-27-1-25 2z"/>
<path class="qgh" d="M5213 2778l25-4-26-1-26 4z"/>
<path class="qgj" d="M5187 2784l26-6-27-1-25 6z"/>
<path class="qgm" d="M5161 2791l26-7-26-1-26 7z"/>
<path class="qgz" d="M5135 2801l26-10-26-1-26 9z"/>
<path class="qha" d="M5109 2811l26-10-26-2-27 11z"/>
<path class="qhl" d="M5082 2824l27-13-27-1-26 12zm-26 14l26-14-26-2-27 14z"/>
<path class="qif" d="M5029 2854l27-16-27-2-26 16zm-27 17l27-17-26-2-27 17z"/>
<path class="qih" d="M4975 2891l27-20-26-2-27 20zm-27 22l27-22-26-2-27 21z"/>
<path class="qip" d="M4921 2936l27-23-26-3-28 23z"/>
<path class="qiw" d="M4893 2961l28-25-27-3-27 25z"/>
<path class="qje" d="M4866 2988l27-27-26-3-27 26z"/>
<path class="qjg" d="M4838 3016l28-28-26-4-28 29z"/>
<path class="qjn" d="M4810 3047l28-31-26-3-27 30z"/>
<path class="qkt" d="M5414 2783l24 7-27 0-24-7z"/>
<path class="qht" d="M5389 2777l25 6-27 0-24-5z"/>
<path class="qdj" d="M5365 2774l24 3-26 1-25-4z"/>
<path class="qeh" d="M5340 2771l25 3-27 0-24-2z"/>
<path class="qei" d="M5315 2771l25 0-26 1-25-1zm-25 1l25-1-26 0-25 1z"/>
<path class="qeg" d="M5265 2774l25-2-26 0-26 2z"/>
<path class="qel" d="M5239 2779l26-5-27 0-25 4z"/>
<path class="qfd" d="M5213 2785l26-6-26-1-26 6z"/>
<path class="qgk" d="M5187 2792l26-7-26-1-26 7z"/>
<path class="qgz" d="M5161 2801l26-9-26-1-26 10zm-26 11l26-11-26 0-26 10z"/>
<path class="qha" d="M5109 2825l26-13-26-1-27 13z"/>
<path class="qhl" d="M5082 2839l27-14-27-1-26 14zm-27 16l27-16-26-1-27 16z"/>
<path class="qif" d="M5028 2873l27-18-26-1-27 17zm-27 20l27-20-26-2-27 20z"/>
<path class="qih" d="M4974 2915l27-22-26-2-27 22z"/>
<path class="qip" d="M4947 2938l27-23-26-2-27 23z"/>
<path class="qiw" d="M4919 2963l28-25-26-2-28 25z"/>
<path class="qje" d="M4892 2990l27-27-26-2-27 27z"/>
<path class="qjg" d="M4864 3019l28-29-26-2-28 28z"/>
<path class="qjn" d="M4837 3050l27-31-26-3-28 31z"/>
<path class="qhu" d="M5491 2786l24 9-27 2-23-9zm27-2l24 8-27 3-24-9zm28-3l24 8-28 3-24-8z"/>
<path class="qhl" d="M5573 2777l24 8-27 4-24-8zm28-4l24 7-28 5-24-8z"/>
<path class="qha" d="M5629 2767l24 8-28 5-24-7z"/>
<path class="qgp" d="M5657 2762l24 7-28 6-24-8zm29-7l23 8-28 6-24-7z"/>
<path class="qle" d="M5714 2748l24 7-29 8-23-8z"/>
<path class="qiv" d="M5440 2782l25 6-27 2-24-7z"/>
<path class="qid" d="M5416 2776l24 6-26 1-25-6z"/>
<path class="qdh" d="M5392 2773l24 3-27 1-24-3z"/>
<path class="qdz" d="M5367 2771l25 2-27 1-25-3z"/>
<path class="qei" d="M5342 2770l25 1-27 0-25 0zm-25 1l25-1-27 1-25 1zm-26 3l26-3-27 1-25 2z"/>
<path class="qek" d="M5266 2778l25-4-26 0-26 5z"/>
<path class="qfc" d="M5240 2784l26-6-27 1-26 6z"/>
<path class="qgk" d="M5214 2792l26-8-27 1-26 7z"/>
<path class="qgm" d="M5188 2802l26-10-27 0-26 9z"/>
<path class="qgz" d="M5162 2813l26-11-27-1-26 11z"/>
<path class="qha" d="M5135 2826l27-13-27-1-26 13z"/>
<path class="qhl" d="M5109 2840l26-14-26-1-27 14zm-27 16l27-16-27-1-27 16z"/>
<path class="qif" d="M5055 2874l27-18-27-1-27 18zm-27 20l27-20-27-1-27 20z"/>
<path class="qih" d="M5001 2916l27-22-27-1-27 22z"/>
<path class="qip" d="M4973 2940l28-24-27-1-27 23z"/>
<path class="qiw" d="M4946 2965l27-25-26-2-28 25z"/>
<path class="qje" d="M4918 2993l28-28-27-2-27 27z"/>
<path class="qjg" d="M4891 3022l27-29-26-3-28 29z"/>
<path class="qjn" d="M4863 3053l28-31-27-3-27 31z"/>
<path class="qjd" d="M5467 2780l24 6-26 2-25-6z"/>
<path class="qhk" d="M5494 2777l24 7-27 2-24-6zm28-3l24 7-28 3-24-7z"/>
<path class="qgz" d="M5549 2771l24 6-27 4-24-7zm28-5l24 7-28 4-24-6z"/>
<path class="qgo" d="M5605 2761l24 6-28 6-24-7zm28-6l24 7-28 5-24-6z"/>
<path class="qle" d="M5662 2749l24 6-29 7-24-7zm29-7l23 6-28 7-24-6z"/>
<path class="qlh" d="M5443 2775l24 5-27 2-24-6z"/>
<path class="qng" d="M5419 2771l24 4-27 1-24-3z"/>
<path class="qdy" d="M5394 2769l25 2-27 2-25-2z"/>
<path class="qei" d="M5369 2769l25 0-27 2-25-1zm-25 1l25-1-27 1-25 1zm-26 3l26-3-27 1-26 3z"/>
<path class="qfp" d="M5293 2778l25-5-27 1-25 4z"/>
<path class="qfa" d="M5267 2784l26-6-27 0-26 6z"/>
<path class="qgk" d="M5241 2792l26-8-27 0-26 8z"/>
<path class="qgn" d="M5215 2801l26-9-27 0-26 10z"/>
<path class="qgz" d="M5189 2812l26-11-27 1-26 11z"/>
<path class="qha" d="M5162 2825l27-13-27 1-27 13zm-26 15l26-15-27 1-26 14z"/>
<path class="qhl" d="M5109 2857l27-17-27 0-27 16zm-27 18l27-18-27-1-27 18z"/>
<path class="qif" d="M5055 2895l27-20-27-1-27 20z"/>
<path class="qih" d="M5027 2917l28-22-27-1-27 22z"/>
<path class="qip" d="M5000 2941l27-24-26-1-28 24zm-27 26l27-26-27-1-27 25z"/>
<path class="qiw" d="M4945 2994l28-27-27-2-28 28z"/>
<path class="qje" d="M4917 3023l28-29-27-1-27 29z"/>
<path class="qjn" d="M4889 3055l28-32-26-1-28 31z"/>
<path class="qgl" d="M5470 2772l24 5-27 3-24-5z"/>
<path class="qfb" d="M5446 2769l24 3-27 3-24-4z"/>
<path class="qfp" d="M5421 2767l25 2-27 2-25-2z"/>
<path class="qei" d="M5396 2767l25 0-27 2-25 0zm-25 1l25-1-27 2-25 1zm-26 3l26-3-27 2-26 3z"/>
<path class="qey" d="M5320 2776l25-5-27 2-25 5z"/>
<path class="qmy" d="M5294 2782l26-6-27 2-26 6z"/>
<path class="qgj" d="M5497 2769l25 5-28 3-24-5z"/>
<path class="qfa" d="M5473 2766l24 3-27 3-24-3z"/>
<path class="qlm" d="M5448 2764l25 2-27 3-25-2z"/>
<path class="qeg" d="M5423 2764l25 0-27 3-25 0z"/>
<path class="qei" d="M5398 2766l25-2-27 3-25 1zm-25 3l25-3-27 2-26 3z"/>
<path class="qeg" d="M5347 2774l26-5-28 2-25 5z"/>
<path class="qlz" d="M5322 2780l25-6-27 2-26 6z"/>
<path class="qgk" d="M5525 2766l24 5-27 3-25-5z"/>
<path class="qfc" d="M5501 2763l24 3-28 3-24-3z"/>
<path class="qlz" d="M5476 2761l25 2-28 3-25-2z"/>
<path class="qey" d="M5451 2761l25 0-28 3-25 0z"/>
<path class="qei" d="M5426 2763l25-2-28 3-25 2zm-26 3l26-3-28 3-25 3zm-25 5l25-5-27 3-26 5z"/>
<path class="qlm" d="M5349 2778l26-7-28 3-25 6z"/>
<path class="qgn" d="M5553 2762l24 4-28 5-24-5zm28-5l24 4-28 5-24-4z"/>
<path class="qln" d="M5609 2751l24 4-28 6-24-4z"/>
<path class="qll" d="M5638 2745l24 4-29 6-24-4z"/>
<path class="qlp" d="M5666 2738l25 4-29 7-24-4z"/>
<path class="qlv" d="M5268 2790l26-8-27 2-26 8z"/>
<path class="qgn" d="M5242 2800l26-10-27 2-26 9z"/>
<path class="qgo" d="M5216 2812l26-12-27 1-26 11z"/>
<path class="qha" d="M5189 2825l27-13-27 0-27 13zm-26 15l26-15-27 0-26 15zm-27 16l27-16-27 0-27 17z"/>
<path class="qhl" d="M5109 2875l27-19-27 1-27 18z"/>
<path class="qif" d="M5082 2895l27-20-27 0-27 20zm-28 22l28-22-27 0-28 22z"/>
<path class="qih" d="M5027 2941l27-24-27 0-27 24z"/>
<path class="qip" d="M4999 2967l28-26-27 0-27 26z"/>
<path class="qiw" d="M4972 2995l27-28-26 0-28 27z"/>
<path class="qje" d="M4944 3025l28-30-27-1-28 29z"/>
<path class="qjg" d="M4916 3056l28-31-27-2-28 32z"/>
<path class="qly" d="M5528 2758l25 4-28 4-24-3z"/>
<path class="qlv" d="M5556 2754l25 3-28 5-25-4z"/>
<path class="qnh" d="M5296 2788l26-8-28 2-26 8z"/>
<path class="qls" d="M5323 2786l26-8-27 2-26 8z"/>
<path class="qfu" d="M5269 2798l27-10-28 2-26 10z"/>
<path class="qlt" d="M5297 2796l26-10-27 2-27 10z"/>
<path class="qgn" d="M5243 2810l26-12-27 2-26 12z"/>
<path class="qln" d="M5271 2808l26-12-28 2-26 12z"/>
<path class="qgo" d="M5217 2823l26-13-27 2-27 13zm27-2l27-13-28 2-26 13z"/>
<path class="qha" d="M5190 2838l27-15-28 2-26 15zm-27 17l27-17-27 2-27 16z"/>
<path class="qgp" d="M5217 2837l27-16-27 2-27 15z"/>
<path class="qha" d="M5190 2854l27-17-27 1-27 17z"/>
<path class="qhl" d="M5136 2874l27-19-27 1-27 19zm-27 20l27-20-27 1-27 20z"/>
<path class="qha" d="M5163 2872l27-18-27 1-27 19z"/>
<path class="qhl" d="M5136 2893l27-21-27 2-27 20z"/>
<path class="qif" d="M5082 2916l27-22-27 1-28 22zm27-1l27-22-27 1-27 22z"/>
<path class="qih" d="M5054 2941l28-25-28 1-27 24zm27-1l28-25-27 1-28 25z"/>
<path class="qip" d="M5027 2967l27-26-27 0-28 26z"/>
<path class="qiw" d="M4999 2995l28-28-28 0-27 28z"/>
<path class="qje" d="M4971 3025l28-30-27 0-28 30z"/>
<path class="qjg" d="M4943 3057l28-32-27 0-28 31z"/>
<path class="qih" d="M5054 2966l27-26-27 1-27 26z"/>
<path class="qip" d="M5026 2995l28-29-27 1-28 28z"/>
<path class="qje" d="M4998 3025l28-30-27 0-28 30z"/>
<path class="qjg" d="M4970 3057l28-32-27 0-28 32z"/>
<path class="qlx" d="M5504 2757l24 1-27 5-25-2z"/>
<path class="qlr" d="M5532 2752l24 2-28 4-24-1z"/>
<path class="qfo" d="M5479 2757l25 0-28 4-25 0z"/>
<path class="qei" d="M5454 2759l25-2-28 4-25 2zm-26 3l26-3-28 4-26 3zm-25 5l25-5-28 4-25 5z"/>
<path class="qez" d="M5507 2752l25 0-28 5-25 0z"/>
<path class="qei" d="M5482 2754l25-2-28 5-25 2zm-26 4l26-4-28 5-26 3zm-25 5l25-5-28 4-25 5z"/>
<path class="qlq" d="M5585 2748l24 3-28 6-25-3z"/>
<path class="qlu" d="M5560 2747l25 1-29 6-24-2z"/>
<path class="qlm" d="M5535 2747l25 0-28 5-25 0z"/>
<path class="qlw" d="M5613 2742l25 3-29 6-24-3zm29-7l24 3-28 7-25-3z"/>
<path class="qls" d="M5588 2741l25 1-28 6-25-1z"/>
<path class="qlz" d="M5564 2741l24 0-28 6-25 0z"/>
<path class="qeg" d="M5510 2749l25-2-28 5-25 2z"/>
<path class="qei" d="M5485 2753l25-4-28 5-26 4zm-26 5l26-5-29 5-25 5z"/>
<path class="qey" d="M5538 2743l26-2-29 6-25 2z"/>
<path class="qei" d="M5513 2747l25-4-28 6-25 4zm-26 6l26-6-28 6-26 5z"/>
<path class="qni" d="M5377 2774l26-7-28 4-26 7z"/>
<path class="qey" d="M5405 2770l26-7-28 4-26 7z"/>
<path class="qeg" d="M5433 2765l26-7-28 5-26 7z"/>
<path class="qei" d="M5462 2760l25-7-28 5-26 7z"/>
<path class="qmd" d="M5617 2734l25 1-29 7-25-1z"/>
<path class="qmk" d="M5351 2783l26-9-28 4-26 8z"/>
<path class="qmy" d="M5379 2779l26-9-28 4-26 9z"/>
<path class="qlz" d="M5407 2774l26-9-28 5-26 9z"/>
<path class="qmb" d="M5325 2793l26-10-28 3-26 10z"/>
<path class="qln" d="M5298 2805l27-12-28 3-26 12z"/>
<path class="qll" d="M5272 2819l26-14-27 3-27 13z"/>
<path class="qgp" d="M5245 2834l27-15-28 2-27 16zm-27 17l27-17-28 3-27 17z"/>
<path class="qha" d="M5191 2870l27-19-28 3-27 18z"/>
<path class="qhl" d="M5164 2891l27-21-28 2-27 21zm-28 23l28-23-28 2-27 22z"/>
<path class="qif" d="M5109 2938l27-24-27 1-28 25z"/>
<path class="qih" d="M5081 2965l28-27-28 2-27 26z"/>
<path class="qip" d="M5053 2993l28-28-27 1-28 29z"/>
<path class="qiw" d="M5026 3024l27-31-27 2-28 30z"/>
<path class="qje" d="M4998 3056l28-32-28 1-28 32z"/>
<path class="qlv" d="M5353 2789l26-10-28 4-26 10z"/>
<path class="qmz" d="M5381 2785l26-11-28 5-26 10z"/>
<path class="qln" d="M5326 2801l27-12-28 4-27 12z"/>
<path class="qmb" d="M5354 2797l27-12-28 4-27 12z"/>
<path class="qll" d="M5300 2815l26-14-28 4-26 14z"/>
<path class="qle" d="M5273 2831l27-16-28 4-27 15z"/>
<path class="qgp" d="M5246 2848l27-17-28 3-27 17zm-27 19l27-19-28 3-27 19z"/>
<path class="qha" d="M5192 2888l27-21-28 3-27 21z"/>
<path class="qhl" d="M5164 2911l28-23-28 3-28 23z"/>
<path class="qln" d="M5328 2811l26-14-28 4-26 14z"/>
<path class="qll" d="M5301 2827l27-16-28 4-27 16z"/>
<path class="qle" d="M5274 2844l27-17-28 4-27 17z"/>
<path class="qgp" d="M5247 2864l27-20-28 4-27 19z"/>
<path class="qha" d="M5220 2885l27-21-28 3-27 21zm-28 23l28-23-28 3-28 23z"/>
<path class="qif" d="M5137 2936l27-25-28 3-27 24z"/>
<path class="qhl" d="M5165 2933l27-25-28 3-27 25z"/>
<path class="qih" d="M5109 2963l28-27-28 2-28 27z"/>
<path class="qip" d="M5081 2991l28-28-28 2-28 28z"/>
<path class="qiw" d="M5053 3022l28-31-28 2-27 31z"/>
<path class="qje" d="M5025 3055l28-33-27 2-28 32z"/>
<path class="qif" d="M5137 2960l28-27-28 3-28 27z"/>
<path class="qih" d="M5109 2989l28-29-28 3-28 28z"/>
<path class="qip" d="M5081 3020l28-31-28 2-28 31z"/>
<path class="qiw" d="M5053 3052l28-32-28 2-28 33z"/>
<path class="qmm" d="M5592 2734l25 0-29 7-24 0z"/>
<path class="qml" d="M5436 2769l26-9-29 5-26 9z"/>
<path class="qme" d="M5567 2737l25-3-28 7-26 2z"/>
<path class="qei" d="M5542 2741l25-4-29 6-25 4zm-26 5l26-5-29 6-26 6zm-26 8l26-8-29 7-25 7z"/>
<path class="qfo" d="M5464 2763l26-9-28 6-26 9z"/>
<path class="qmf" d="M5409 2779l27-10-29 5-26 11z"/>
<path class="qmb" d="M5383 2792l26-13-28 6-27 12z"/>
<path class="qlw" d="M5356 2806l27-14-29 5-26 14z"/>
<path class="qlp" d="M5329 2822l27-16-28 5-27 16z"/>
<path class="qle" d="M5302 2840l27-18-28 5-27 17zm-27 20l27-20-28 4-27 20z"/>
<path class="qgp" d="M5248 2881l27-21-28 4-27 21z"/>
<path class="qha" d="M5220 2904l28-23-28 4-28 23z"/>
<path class="qhl" d="M5193 2929l27-25-28 4-27 25z"/>
<path class="qif" d="M5165 2956l28-27-28 4-28 27z"/>
<path class="qih" d="M5137 2985l28-29-28 4-28 29z"/>
<path class="qip" d="M5109 3017l28-32-28 4-28 31z"/>
<path class="qiw" d="M5081 3050l28-33-28 3-28 32z"/>
<path class="qmc" d="M5438 2774l26-11-28 6-27 10z"/>
<path class="qmg" d="M5412 2786l26-12-29 5-26 13z"/>
<path class="qlw" d="M5385 2801l27-15-29 6-27 14z"/>
<path class="qlp" d="M5358 2817l27-16-29 5-27 16z"/>
<path class="qld" d="M5331 2835l27-18-29 5-27 18z"/>
<path class="qle" d="M5304 2855l27-20-29 5-27 20z"/>
<path class="qgp" d="M5276 2876l28-21-29 5-27 21zm-27 24l27-24-28 5-28 23z"/>
<path class="qha" d="M5221 2925l28-25-29 4-27 25z"/>
<path class="qhl" d="M5193 2952l28-27-28 4-28 27z"/>
<path class="qif" d="M5165 2981l28-29-28 4-28 29z"/>
<path class="qih" d="M5137 3013l28-32-28 4-28 32z"/>
<path class="qip" d="M5109 3046l28-33-28 4-28 33z"/>
</g>
<circle cx="999.3" cy="537.4" r="2.7" fill="#e80000" stroke="#800" stroke-width="0.7"/>
<circle cx="999.3" cy="543.0" r="2.7" fill="#e80000" stroke="#800" stroke-width="0.7"/>
<g font-size="9.8" fill="#333"><text transform="translate(1016.2,796.3) scale(.935,1)" text-anchor="end">2.00</text><text transform="translate(1026.2,796.3) scale(.935,1)">30.00</text><text transform="translate(966.9,778.2) scale(.935,1)" text-anchor="end">2.50</text><text transform="translate(1075.3,778.2) scale(.935,1)">36.25</text><text transform="translate(917.5,760.0) scale(.935,1)" text-anchor="end">3.00</text><text transform="translate(1124.4,760.0) scale(.935,1)">42.50</text><text transform="translate(868.1,741.9) scale(.935,1)" text-anchor="end">3.50</text><text transform="translate(1173.4,741.9) scale(.935,1)">48.75</text><text transform="translate(818.8,723.8) scale(.935,1)" text-anchor="end">4.00</text><text transform="translate(1222.5,723.8) scale(.935,1)">55.00</text><text transform="translate(806.8,516.4) scale(.935,1)" text-anchor="end">0.51</text><text transform="translate(809.1,555.9) scale(.935,1)" text-anchor="end">0.43</text><text transform="translate(811.4,595.4) scale(.935,1)" text-anchor="end">0.35</text><text transform="translate(813.7,634.9) scale(.935,1)" text-anchor="end">0.27</text><text transform="translate(816.0,674.4) scale(.935,1)" text-anchor="end">0.19</text></g>
<text class="ttl" x="845.2" y="786.3" text-anchor="middle" textLength="89.5" lengthAdjust="spacingAndGlyphs">D: inculmn size</text>
<text class="ttl" x="1194.5" y="786.3" text-anchor="middle" textLength="51.4" lengthAdjust="spacingAndGlyphs">B: Temp</text>
<text class="ttl" transform="translate(751.1,614.6) rotate(-90)" text-anchor="middle" textLength="54.5" lengthAdjust="spacingAndGlyphs">Sqrt(R1)</text>
<text class="cap" x="991.7" y="865.4" text-anchor="middle">(e)</text>
</g>
<g id="pf">
<path d="M1551.8,514.2 L1756.0,478.2 L1961.0,515.0 M1756.0,478.2 L1755.9,663.1 M1961.0,515.0 L1948.0,717.5" fill="none" stroke="#7c7c7c" stroke-width="1"/>
<path d="M1564.0,717.5 L1755.9,663.1 L1948.0,717.5 L1756.0,788.8 Z" fill="#ffff00" stroke="none"/>
<path d="M1564.0,717.5 L1755.9,663.1 L1948.0,717.5" fill="none" stroke="#8a8a3a" stroke-width="0.8"/>
<path d="M1859.1 692.8l-2.5.4-2.5.3-2.6.3-2.6.3-2.6.3-1.6.2-3.8.4-1.6.1-4 .4-2.8.2-2.9.2-3.1.2-1.6.1-1.5.1-2.8.1-3.9.1-3.6 0-3.5-.1-3.2-.2-2.1-.1-3.5-.4-2.4-.4-2.3-.5-2.1-.4-1.9-.6-1.8-.6-1.7-.6-1.5-.7-1.4-.7-1.3-.7-1.3-.7-1.1-.8-1.1-.8-1-.8-.9-.8-.9-.8-.9-.9-.8-.8-.7-.9-.7-.9-.7-.8-.7-1-.9-1.3-.8-1.3-.7-1.2-.7-1.3-.6-1.1-.6-1.3-.6-1.2-.5-1.1-.5-1.2-.5-1.1-.5-1.2-.4-1.1 0 0M1640.9 746.1l2.9-.4 2.9-.4 1.4-.2 1.5-.2 2.9-.4 2.8-.4 3-.4 3-.4 2.9-.4 3-.3 1.6-.2 1.4-.2 3.1-.3 1.7-.2 1.3-.2 3.2-.3 1.4-.1 1.7-.2 3.2-.2 3.3-.3 2.4-.2 4.4-.2 3.6-.1 3.8-.1 1.6 0 2.5 0 4.5.2 3.6.3 1.8.2 3.8.6 2.5.5 2.3.5 2.1.7 2 .6 1.8.8 1.6.8 1.6.8 1.4.9 1.1.7 1.5 1.1 1.1 1 1.1 1 1 1.1 1 1 .9 1.1 .9 1.1 .8 1.1 .8 1.2 .7 1.1 .7 1.2 .7 1.2 .6 1.2 .6 1.3 .6 1.2 .6 1.3 .5 1 .6 1.5 .5 1.3 .5 1.3 .5 1.3 .5 1.4 .4 1.3 .5 1.4 .4 1.3 .4 1.2 .4 1.6 .4 1.4 .4 1.4 .4 1.4 .4 1.5 .4 1.4 0 0M1885.9 700.6l-2 .5-1.9.5-2 .5-1.9.5-1.9.5-2 .5-1.9.6-1.9.5-1.9.5-1.9.6-1.9.5-1.9.5-1.9.6-1.8.6-1.9.5-1.9.6-1.8.6-1.8.5-1.8.6-1.8.6-1.8.6-1.8.6-1.7.6-1.8.7-1.7.6-1.7.6-1.7.7-1.6.6-1.7.7-1.6.7-1.6.7-1.6.7-1.5.7-1.6.7-1.4.7-1.4.7-1.6.8-1.4.8-1.4.8-1.3.8-1.3.8-1.3.8-1.3.8-1.2.9-1.2.8-1.1.9-1.1.9-1.1.9-.8.8-1.3 1.1-.9.9-1 1-.9 1-.9 1-.7 1-.9 1.1-.8 1-.7 1.1-.7 1.1-.7 1.1-.6 1.1-.6 1.1-.6 1.2-.6 1.1-.5 1.2-.5 1.1-.5 1.3-.5 1.2-.4 1.2-.4 1.2-.4 1.3-.4 1.3-.3 1.3-.3 1.3-.3 1.3-.3 1.3-.3 1.3-.3 1.4-.2 1.3-.2 1.4-.2 1.4-.2 1.4-.2 1.4-.2 1.4-.2 2.1M1618.1 737.8l2.4-.5 2.4-.6 2.4-.6 2.3-.6 2.4-.5 2.4-.6 2.3-.6 2.3-.6 2.3-.5 2.3-.6 1.5-.4 3.1-.8 2.3-.6 2.2-.6 2.2-.5 2.3-.6 2.1-.6 2.2-.6 2.2-.6 2.1-.6 2.2-.7 2.1-.6 2.1-.6 2-.6 2.1-.6 2-.7 2-.6 2-.6 1.9-.7 2-.6 1.9-.7 1.8-.6 1.9-.7 1.8-.7 1.8-.6 1.8-.7 1.7-.7 1.7-.7 1.7-.7 1.6-.7 1.6-.7 1.6-.8 1.5-.7 1.5-.7 1.5-.8 1.4-.8 1.4-.7 1.3-.8 1.3-.8 1.3-.8 1.2-.8 1.2-.8 1.2-.8 1.1-.9 1.1-.8 1-.8 1-.9 1-.8 .9-.9 .9-.9 .9-.9 .8-.9 .8-.9 .8-.9 .7-.9 .7-.9 .6-.9 .7-.9 .6-1 1.1-1.8 .6-1 .9-1.8 .5-1 .7-1.5 .5-1.2 .4-1.1 .5-1.2 .4-1.2 .4-1.1 .3-1.2 .6-2 .3-1.3 .4-1.6 .4-1.6 .2-1.1M1906 706.4l-1.7.5-1.8.6-1.7.6-1.7.6-1.7.6-1.7.6-1.7.6-1.6.6-1.7.6-1.7.7-1.6.6-1.7.6-1.6.7-1.6.6-1.6.7-1.6.6-1.6.7-1.5.7-1.6.6-1.5.7-1.2.6-1.9.8-1.5.7-1.5.7-1.5.8-1.4.7-1.5.7-1.4.8-1.4.7-1.4.8-1.4.8-1.3.8-1.4.8-1.3.8-1.3.8-1.2.7-1.4.9-1.2.8-1.2.9-1.2.9-1.2.8-1.2.9-1.1.9-1.2.9-1.1.9-1.1.9-1 1-1.1.9-1 .9-1 1-1 1-1 1-.9 1-.9 1-.9 1-.9 1-.9 1.1-.8 1.1-.8 1-.8 1.1-.8 1.1-.7 1-.8 1.2-.7 1.1-.7 1.2-.7 1.1-.6 1.1-.7 1.3-.6 1.2-.6 1.2 0 .1M1601 731.6l2.2-.6 2.3-.6 2.1-.6 2.2-.7 2.2-.6 2.1-.6 2.2-.7 2.1-.6 2.1-.6 2.1-.7 2.1-.6 2-.7 2-.6 2.1-.7 2-.6 2-.7 1.9-.6 2-.7 1.9-.6 1.9-.7 2-.7 1.8-.6 1.9-.7 1.8-.7 1.9-.7 1.8-.7 1.8-.6 1.7-.7 1.8-.7 1.7-.7 1.7-.7 1.7-.7 1.6-.7 1.6-.8 1.7-.7 1.5-.7 1.6-.7 1.5-.8 1.6-.7 1.5-.7 1.4-.8 1.5-.7 1.4-.8 1.4-.7 1.4-.8 1.3-.7 1.4-.8 1.3-.8 1.2-.8 1.3-.7 1.1-.8 1.3-.8 1.2-.8 1.2-.8 1.1-.8 1.1-.8 1.1-.8 .9-.7 1.2-1 .9-.7 1.1-.9 1-.8 .9-.9 .9-.8 .9-.8 .9-.9 .9-.8 .8-.9 .8-.8 .8-.9 .8-.8 .7-.9 .8-.8 .7-.9 .7-.9 1.2-1.6M1923 711.2l-1.6.7-1.6.6-1.6.6-1.6.7-1.5.6-1.6.7-1.5.6-1.6.7-1.5.7-1.5.7-1.6.6-1.5.7-1.5.7-1.5.7-1.4.7-1.5.7-1.5.7-1.4.8-1.4.7-1.5.7-1.4.8-1.4.7-1.3.8-1.4.7-1.4.8-1.3.8-1.4.8-1.3.8-1.3.8-1.3.8-1.3.8-1.2.8-1.3.8-1.2.9-1.2.8-1.3.9-1.1.9-1.2.8-1 .8-1.3 1-1.2.9-.8.7-1.4 1.1-1.1 1-1 .9-1.1 1-1 .9-1 1-1 1-1 .9-1 1-.7.8M1587 726.5l2.1-.6 2.1-.7 2.1-.6 2-.7 2.1-.6 2-.7 2.1-.7 2-.6 2-.7 1.9-.6 2-.7 1.9-.7 2-.6 1.9-.7 1.9-.7 1.9-.7 1.8-.7 1.9-.6 1.8-.7 1.8-.7 1.8-.7 1.8-.7 1.8-.7 1.7-.7 1.8-.7 1.7-.7 1.7-.7 1.7-.7 1.6-.7 1.7-.7 1.6-.7 1.6-.7 1.6-.7 1.5-.8 1.6-.7 1.5-.7 1.5-.8 1.5-.7 1.5-.7 1.4-.8 1.5-.7 1.4-.8 1.4-.7 1.3-.8 1.1-.5 1.6-1 1.3-.7 1.3-.8 1.3-.7 1.3-.8 1.2-.8 1.2-.8 1.2-.7 1.2-.8 1.1-.8 1.2-.8 1.1-.8 1.1-.8 1.1-.7 .5-.5M1938.1 715.6l-1.5.7-1.5.6-1.5.7-1.5.7-1.5.7-1.4.6-1.5.7-1.5.7-1.4.7-1.4.8-1.5.7-1.4.7-1.4.7-1.4.8-1.4.7-1.4.7-1.4.8-1.3.7-1.1.6-1.6 1-1.3.8-1.4.7-1.3.8-1.3.8-1.3.8-1.2.8-1.3.9-.8.5M1574.9 722.1l2-.7 2-.6 2-.7 2-.7 1.5-.4 2.5-.9 1.9-.7 1.9-.6 2-.7 1.9-.7 1.9-.7 1.9-.7 1.8-.6 1.5-.6 2.2-.8 1.8-.7 1.8-.7 1.8-.7 1.8-.7 1.7-.7 1.8-.7 1.7-.7 1.7-.7 1.7-.7 1.7-.7 1.7-.7 1.6-.7 1.6-.7 1.7-.7 1.4-.7 1.7-.7 1.6-.8 1.5-.7 1.4-.6 1.7-.8 1.5-.8 1.5-.7 .6-.3M1564.1 718.2l.7-.3" fill="none" stroke="#ff6200" stroke-width="1.1"/>
<path d="M1551.8,514.2 L1564.0,717.5 L1756.0,788.8 L1948.0,717.5" fill="none" stroke="#555" stroke-width="1.1"/>
<circle cx="1756.0" cy="788.8" r="1.3" fill="#000"/>
<circle cx="1708.0" cy="770.9" r="1.3" fill="#000"/>
<circle cx="1660.0" cy="753.1" r="1.3" fill="#000"/>
<circle cx="1612.0" cy="735.3" r="1.3" fill="#000"/>
<circle cx="1564.0" cy="717.5" r="1.3" fill="#000"/>
<circle cx="1804.0" cy="770.9" r="1.3" fill="#000"/>
<circle cx="1852.0" cy="753.1" r="1.3" fill="#000"/>
<circle cx="1900.0" cy="735.3" r="1.3" fill="#000"/>
<circle cx="1948.0" cy="717.5" r="1.3" fill="#000"/>
<circle cx="1551.8" cy="514.2" r="1.3" fill="#000"/>
<circle cx="1554.1" cy="553.0" r="1.3" fill="#000"/>
<circle cx="1556.4" cy="591.8" r="1.3" fill="#000"/>
<circle cx="1558.7" cy="630.5" r="1.3" fill="#000"/>
<circle cx="1561.0" cy="669.2" r="1.3" fill="#000"/>
<g transform="scale(0.2)" stroke="#000" stroke-linejoin="round">
<path class="qin" d="M8780 2947l21 14-21-23-21-14z"/>
<path class="qiu" d="M8759 2934l21 13-21-23-21-14z"/>
<path class="qit" d="M8801 2969l21 13-21-21-21-14z"/>
<path class="qin" d="M8780 2956l21 13-21-22-21-13z"/>
<path class="qiv" d="M8738 2921l21 13-21-24-21-13z"/>
<path class="qic" d="M8822 2990l21 12-21-20-21-13z"/>
<path class="qit" d="M8801 2978l21 12-21-21-21-13z"/>
<path class="qgy" d="M8716 2909l22 12-21-24-22-13z"/>
<path class="qkt" d="M8759 2944l21 12-21-22-21-13z"/>
<path class="qiu" d="M8780 2966l21 12-21-22-21-12z"/>
<path class="qiv" d="M8738 2932l21 12-21-23-22-12zm21 22l21 12-21-22-21-12z"/>
<path class="qdg" d="M8844 3009l21 12-22-19-21-12z"/>
<path class="qhk" d="M8695 2897l21 12-21-25-21-13zm-22-12l22 12-21-26-22-12z"/>
<path class="qht" d="M8823 2997l21 12-22-19-21-12z"/>
<path class="qin" d="M8802 2986l21 11-22-19-21-12z"/>
<path class="qkt" d="M8780 2975l22 11-22-20-21-12z"/>
<path class="qdi" d="M8865 3027l21 11-21-17-21-12z"/>
<path class="qic" d="M8844 3016l21 11-21-18-21-12z"/>
<path class="qit" d="M8823 3005l21 11-21-19-21-11z"/>
<path class="qjd" d="M8716 2921l22 11-22-23-21-12z"/>
<path class="qiv" d="M8738 2943l21 11-21-22-22-11zm21 22l21 10-21-21-21-11z"/>
<path class="qhk" d="M8694 2909l22 12-21-24-22-12z"/>
<path class="qjd" d="M8716 2933l22 10-22-22-22-12zm21 22l22 10-21-22-22-10z"/>
<path class="qgz" d="M8651 2873l22 12-21-26-22-13zm-22-11l22 11-21-27-22-11zm-22-11l22 11-21-27-22-12z"/>
<path class="qhk" d="M8673 2898l21 11-21-24-22-12zm21 24l22 11-22-24-21-11z"/>
<path class="qjd" d="M8716 2945l21 10-21-22-22-11z"/>
<path class="qgz" d="M8651 2888l22 10-22-25-22-11zm-22-11l22 11-22-26-22-11z"/>
<path class="qef" d="M8886 3043l21 11-21-16-21-11z"/>
<path class="qdg" d="M8866 3033l20 10-21-16-21-11z"/>
<path class="qlf" d="M8802 2995l21 10-21-19-22-11z"/>
<path class="qgp" d="M8585 2840l22 11-21-28-23-11zm-23-10l23 10-22-28-22-12zm-23-10l23 10-21-30-23-10z"/>
<path class="qgz" d="M8606 2867l23 10-22-26-22-11z"/>
<path class="qgp" d="M8584 2858l22 9-21-27-23-10zm-23-10l23 10-22-28-23-10z"/>
<path class="qhv" d="M8672 2912l22 10-21-24-22-10zm-22-9l22 9-21-24-22-11z"/>
<path class="qhk" d="M8694 2936l22 9-22-23-22-10z"/>
<path class="qgz" d="M8628 2893l22 10-21-26-23-10z"/>
<path class="qhv" d="M8672 2927l22 9-22-24-22-9zm-23-9l23 9-22-24-22-10z"/>
<path class="qdx" d="M8908 3059l21 10-22-15-21-11z"/>
<path class="qim" d="M8844 3023l22 10-22-17-21-11z"/>
<path class="qin" d="M8823 3013l21 10-21-18-21-10z"/>
<path class="qjf" d="M8780 2985l22 10-22-20-21-10z"/>
<path class="qiv" d="M8759 2975l21 10-21-20-22-10z"/>
<path class="qjd" d="M8737 2966l22 9-22-20-21-10zm-22-8l22 8-21-21-22-9z"/>
<path class="qhv" d="M8693 2949l22 9-21-22-22-9zm-22-8l22 8-21-22-23-9z"/>
<path class="qle" d="M8517 2810l22 10-21-30-23-10zm-23-9l23 9-22-30-23-10zm-24-9l24 9-22-31-23-10z"/>
<path class="qgp" d="M8538 2839l23 9-22-28-22-10z"/>
<path class="qle" d="M8515 2830l23 9-21-29-23-9zm-23-8l23 8-21-29-24-9z"/>
<path class="qha" d="M8605 2884l23 9-22-26-22-9zm22 25l22 9-21-25-23-9zm-44-34l22 9-21-26-23-10zm22 26l22 8-22-25-22-9z"/>
<path class="qgp" d="M8560 2867l23 8-22-27-23-9zm-23-8l23 8-22-28-23-9zm-23-8l23 8-22-29-23-8z"/>
<path class="qhv" d="M8649 2933l22 8-22-23-22-9z"/>
<path class="qha" d="M8626 2926l23 7-22-24-22-8zm-44-32l23 7-22-26-23-8zm22 25l22 7-21-25-23-7z"/>
<path class="qgp" d="M8559 2886l23 8-22-27-23-8zm-23-7l23 7-22-27-23-8z"/>
<path class="qha" d="M8581 2912l23 7-22-25-23-8zm-23-6l23 6-22-26-23-7z"/>
<path class="qdj" d="M8887 3049l21 10-22-16-20-10z"/>
<path class="qdg" d="M8866 3040l21 9-21-16-22-10z"/>
<path class="qht" d="M8845 3031l21 9-22-17-21-10z"/>
<path class="qdz" d="M8929 3073l21 9-21-13-21-10z"/>
<path class="qjc" d="M8802 3004l21 9-21-18-22-10z"/>
<path class="qin" d="M8824 3022l21 9-22-18-21-9z"/>
<path class="qjf" d="M8780 2995l22 9-22-19-21-10z"/>
<path class="qkt" d="M8802 3013l22 9-22-18-22-9z"/>
<path class="qjd" d="M8759 2986l21 9-21-20-22-9zm-22-8l22 8-22-20-22-8zm-22-8l22 8-22-20-22-9z"/>
<path class="qhv" d="M8693 2963l22 7-22-21-22-8zm-22-7l22 7-22-22-22-8z"/>
<path class="qjf" d="M8780 3005l22 8-22-18-21-9z"/>
<path class="qjd" d="M8759 2997l21 8-21-19-22-8zm-22-7l22 7-22-19-22-8z"/>
<path class="qld" d="M8447 2783l23 9-21-32-24-9zm-23-8l23 8-22-32-23-9zm-24-8l24 8-22-33-24-9zm-24-8l24 8-22-34-24-9zm-24-7l24 7-22-35-24-8zm-24-7l24 7-22-36-24-7z"/>
<path class="qle" d="M8469 2814l23 8-22-30-23-9zm22 30l23 7-22-29-23-8zm-45-38l23 8-22-31-23-8zm22 31l23 7-22-30-23-8z"/>
<path class="qgp" d="M8513 2872l23 7-22-28-23-7zm22 27l23 7-22-27-23-7zm-45-33l23 6-22-28-23-7zm22 28l23 5-22-27-23-6z"/>
<path class="qld" d="M8422 2799l24 7-22-31-24-8zm-24-7l24 7-22-32-24-8zm-24-7l24 7-22-33-24-7zm-24-6l24 6-22-33-24-7z"/>
<path class="qle" d="M8444 2830l24 7-22-31-24-7zm22 30l24 6-22-29-24-7zm-46-36l24 6-22-31-24-7zm23 30l23 6-22-30-24-6zm-46-36l23 6-22-32-24-7zm22 31l24 5-23-30-23-6z"/>
<path class="qgp" d="M8488 2888l24 6-22-28-24-6zm-23-5l23 5-22-28-23-6z"/>
<path class="qle" d="M8441 2879l24 4-22-29-24-5z"/>
<path class="qld" d="M8373 2812l24 6-23-33-24-6z"/>
<path class="qle" d="M8395 2844l24 5-22-31-24-6zm22 30l24 5-22-30-24-5z"/>
<path class="qdk" d="M8909 3064l20 9-21-14-21-10z"/>
<path class="qdi" d="M8888 3055l21 9-22-15-21-9z"/>
<path class="qic" d="M8867 3046l21 9-22-15-21-9z"/>
<path class="qit" d="M8845 3038l22 8-22-15-21-9z"/>
<path class="qiu" d="M8824 3030l21 8-21-16-22-9z"/>
<path class="qjf" d="M8802 3023l22 7-22-17-22-8z"/>
<path class="qei" d="M8951 3085l21 9-22-12-21-9zm22 11l21 9-22-11-21-9zm22 10l21 8-22-9-21-9zm22 9l21 7-22-8-21-8zm22 7l21 6-22-6-21-7zm22 6l21 6-22-6-21-6zm23 4l21 5-23-3-21-6z"/>
<path class="qdz" d="M8930 3077l21 8-22-12-20-9z"/>
<path class="qeh" d="M8952 3089l21 7-22-11-21-8zm155 46l20 5-22-3-21-5z"/>
<path class="qef" d="M8909 3069l21 8-21-13-21-9z"/>
<path class="qdx" d="M8931 3081l21 8-22-12-21-8zm198 56l21 4-23-1-20-5z"/>
<path class="qdg" d="M8888 3061l21 8-21-14-21-9z"/>
<path class="qim" d="M8867 3053l21 8-21-15-22-8z"/>
<path class="qin" d="M8846 3046l21 7-22-15-21-8z"/>
<path class="qdj" d="M8910 3074l21 7-22-12-21-8z"/>
<path class="qdg" d="M8889 3067l21 7-22-13-21-8z"/>
<path class="qit" d="M8868 3060l21 7-22-14-21-7z"/>
<path class="qjc" d="M8824 3039l22 7-22-16-22-7z"/>
<path class="qdk" d="M9152 3137l21 3-23 1-21-4z"/>
<path class="qdi" d="M9175 3135l21 4-23 1-21-3z"/>
<path class="qei" d="M8974 3099l21 7-22-10-21-7zm22 9l21 7-22-9-21-7zm22 8l21 6-22-7-21-7zm23 6l20 6-22-6-21-6zm22 5l21 5-23-4-20-6zm23 4l21 4-23-3-21-5z"/>
<path class="qeh" d="M9109 3133l20 4-22-2-21-4zm-156-41l21 7-22-10-21-8z"/>
<path class="qdz" d="M9132 3134l20 3-23 0-20-4z"/>
<path class="qdk" d="M9155 3133l20 2-23 2-20-3zm-223-48l21 7-22-11-21-7z"/>
<path class="qdi" d="M8911 3079l21 6-22-11-21-7z"/>
<path class="qic" d="M8890 3073l21 6-22-12-21-7z"/>
<path class="qei" d="M8975 3102l21 6-22-9-21-7zm23 8l20 6-22-8-21-6zm22 7l21 5-23-6-20-6zm22 5l21 5-22-5-21-5zm23 5l21 4-23-4-21-5zm23 2l21 4-23-2-21-4zm23 2l21 3-23-1-21-4z"/>
<path class="qdz" d="M9134 3131l21 2-23 1-21-3zm-180-35l21 6-22-10-21-7z"/>
<path class="qdk" d="M8933 3090l21 6-22-11-21-6z"/>
<path class="qdg" d="M8912 3085l21 5-22-11-21-6z"/>
<path class="qei" d="M8976 3105l22 5-23-8-21-6zm23 7l21 5-22-7-22-5zm22 6l21 4-22-5-21-5zm23 5l21 4-23-5-21-4zm23 3l21 3-23-2-21-4zm23 2l21 3-23-2-21-3zm23 1l21 2-23 0-21-3z"/>
<path class="qdx" d="M8955 3099l21 6-22-9-21-6z"/>
<path class="qdj" d="M8934 3095l21 4-22-9-21-5z"/>
<path class="qhl" d="M8648 2949l23 7-22-23-23-7zm-22-6l22 6-22-23-22-7z"/>
<path class="qha" d="M8603 2936l23 7-22-24-23-7zm-23-5l23 5-22-24-23-6zm-23-6l23 6-22-25-23-7zm-23-5l23 5-22-26-23-5z"/>
<path class="qgp" d="M8510 2916l24 4-22-26-24-6zm-23-5l23 5-22-28-23-5zm-24-4l24 4-22-28-24-4zm-24-3l24 3-22-28-24-5z"/>
<path class="qhu" d="M8715 2983l22 7-22-20-22-7z"/>
<path class="qhv" d="M8692 2977l23 6-22-20-22-7z"/>
<path class="qhl" d="M8670 2971l22 6-21-21-23-7zm-23-6l23 6-22-22-22-6zm-22-5l22 5-21-22-23-7z"/>
<path class="qha" d="M8602 2955l23 5-22-24-23-5zm-23-5l23 5-22-24-23-6zm-23-5l23 5-22-25-23-5zm-23-4l23 4-22-25-24-4zm-24-3l24 3-23-25-23-5z"/>
<path class="qgp" d="M8485 2934l24 4-22-27-24-4zm-23-3l23 3-22-27-24-3z"/>
<path class="qlc" d="M8304 2738l24 7-22-36-24-8zm-24-6l24 6-22-37-25-7zm-25-6l25 6-23-38-24-6zm-25-6l25 6-22-38-25-7zm-25-5l25 5-22-39-25-5zm-25-5l25 5-22-39-25-5z"/>
<path class="qld" d="M8326 2773l24 6-22-34-24-7zm23 34l24 5-23-33-24-6zm-47-39l24 5-22-35-24-6zm22 34l25 5-23-34-24-5z"/>
<path class="qle" d="M8371 2839l24 5-22-32-24-5zm22 31l24 4-22-30-24-5z"/>
<path class="qgp" d="M8415 2900l24 4-22-30-24-4zm23 29l24 2-23-27-24-4z"/>
<path class="qld" d="M8347 2835l24 4-22-32-25-5z"/>
<path class="qle" d="M8369 2867l24 3-22-31-24-4zm22 30l24 3-22-30-24-3z"/>
<path class="qgp" d="M8414 2927l24 2-23-29-24-3z"/>
<path class="qlc" d="M8277 2762l25 6-22-36-25-6zm-24-4l24 4-22-36-25-6zm-25-5l25 5-23-38-25-5zm-25-4l25 4-23-38-25-5z"/>
<path class="qld" d="M8300 2798l24 4-22-34-25-6zm22 33l25 4-23-33-24-4zm-47-38l25 5-23-36-24-4zm23 35l24 3-22-33-25-5zm-47-38l24 3-22-35-25-5zm22 35l25 3-23-35-24-3zm-47-39l25 4-23-37-25-4zm22 36l25 3-22-35-25-4z"/>
<path class="qle" d="M8345 2864l24 3-22-32-25-4zm22 31l24 2-22-30-24-3zm-47-34l25 3-23-33-24-3zm23 32l24 2-22-31-25-3z"/>
<path class="qgp" d="M8390 2925l24 2-23-30-24-2zm-25-1l25 1-23-30-24-2z"/>
<path class="qld" d="M8296 2859l24 2-22-33-25-3zm-25-2l25 2-23-34-25-3z"/>
<path class="qle" d="M8318 2891l25 2-23-32-24-2zm23 32l24 1-22-31-25-2zm-48-33l25 1-22-32-25-2zm23 32l25 1-23-32-25-1z"/>
<path class="qjo" d="M8780 3016l22 7-22-18-21-8z"/>
<path class="qjd" d="M8759 3009l21 7-21-19-22-7z"/>
<path class="qjf" d="M8802 3033l22 6-22-16-22-7z"/>
<path class="qhu" d="M8736 3003l23 6-22-19-22-7zm-22-6l22 6-21-20-23-6zm-22-6l22 6-22-20-22-6z"/>
<path class="qhl" d="M8669 2986l23 5-22-20-23-6zm-22-5l22 5-22-21-22-5zm-23-4l23 4-22-21-23-5zm-23-4l23 4-22-22-23-5z"/>
<path class="qha" d="M8578 2969l23 4-22-23-23-5zm-23-3l23 3-22-24-23-4zm-24-3l24 3-22-25-24-3zm-23-3l23 3-22-25-24-4zm-24-2l24 2-23-26-23-3z"/>
<path class="qgp" d="M8460 2956l24 2-22-27-24-2zm-24-1l24 1-22-27-24-2zm-24-2l24 2-22-28-24-2zm-24 0l24 0-22-28-25-1zm-25-1l25 1-23-29-24-1zm-24 1l24-1-22-29-25-1z"/>
<path class="qjo" d="M8780 3026l22 7-22-17-21-7z"/>
<path class="qjd" d="M8758 3021l22 5-21-17-23-6z"/>
<path class="qhu" d="M8736 3015l22 6-22-18-22-6zm-22-5l22 5-22-18-22-6z"/>
<path class="qeh" d="M8978 3108l21 4-23-7-21-6z"/>
<path class="qei" d="M9000 3114l21 4-22-6-21-4zm23 6l21 3-23-5-21-4zm23 4l21 2-23-3-21-3zm23 2l21 2-23-2-21-2zm23 1l21 2-23-1-21-2z"/>
<path class="qkw" d="M8846 3054l22 6-22-14-22-7z"/>
<path class="qit" d="M8868 3067l22 6-22-13-22-6z"/>
<path class="qim" d="M8890 3080l22 5-22-12-22-6z"/>
<path class="qdg" d="M8913 3090l21 5-22-10-22-5z"/>
<path class="qjf" d="M8824 3048l22 6-22-15-22-6zm-22-5l22 5-22-15-22-7z"/>
<path class="qjc" d="M8846 3062l22 5-22-13-22-6z"/>
<path class="qin" d="M8869 3075l21 5-22-13-22-5z"/>
<path class="qit" d="M8891 3086l22 4-23-10-21-5z"/>
<path class="qjf" d="M8825 3057l21 5-22-14-22-5z"/>
<path class="qjo" d="M8780 3037l22 6-22-17-22-5zm23 16l22 4-23-14-22-6z"/>
<path class="qhu" d="M8758 3033l22 4-22-16-22-6zm-22-5l22 5-22-18-22-5z"/>
<path class="qjo" d="M8781 3049l22 4-23-16-22-4z"/>
<path class="qhu" d="M8758 3045l23 4-23-16-22-5z"/>
<path class="qcs" d="M9199 3133l20 2-23 4-21-4z"/>
<path class="qdi" d="M9178 3131l21 2-24 2-20-2z"/>
<path class="qim" d="M9222 3129l21 1-24 5-20-2z"/>
<path class="qdk" d="M9157 3129l21 2-23 2-21-2z"/>
<path class="qeh" d="M9136 3128l21 1-23 2-21-2z"/>
<path class="qei" d="M9115 3127l21 1-23 1-21-2z"/>
<path class="qlb" d="M8155 2706l25 4-22-39-26-5zm-25-5l25 5-23-40-25-5zm-26-3l26 3-23-40-26-4zm-25-3l25 3-23-41-25-3zm-26-2l26 2-23-41-26-4zm-26-3l26 3-23-43-26-3zm-26-2l26 2-23-43-27-2zm-27-1l27 1-24-43-26-2zm-26-1l26 1-23-44-26-2z"/>
<path class="qlc" d="M8178 2745l25 4-23-39-25-4zm23 38l25 3-23-37-25-4zm-48-41l25 3-23-39-25-5zm22 39l26 2-23-38-25-3zm-48-42l26 3-23-41-26-3zm23 39l25 3-22-39-26-3zm-48-42l25 3-23-41-25-3zm22 41l26 1-23-39-25-3z"/>
<path class="qld" d="M8223 2820l25 2-22-36-25-3zm23 35l25 2-23-35-25-2zm-48-37l25 2-22-37-26-2zm23 36l25 1-23-35-25-2zm-48-37l25 1-23-37-25-3zm23 36l25 1-23-36-25-1zm-49-38l26 2-23-39-26-1zm23 38l26 0-23-36-26-2z"/>
<path class="qle" d="M8269 2889l24 1-22-33-25-2zm22 33l25 0-23-32-24-1zm-47-33l25 0-23-34-25-1zm22 33l25 0-22-33-25 0zm-47-33l25 0-23-35-25-1zm22 34l25-1-22-33-25 0z"/>
<path class="qgp" d="M8314 2953l25 0-23-31-25 0zm-25 1l25-1-23-31-25 0z"/>
<path class="qle" d="M8264 2955l25-1-23-32-25 1z"/>
<path class="qld" d="M8193 2889l26 0-23-36-26 0z"/>
<path class="qle" d="M8216 2924l25-1-22-34-26 0zm23 33l25-2-23-32-25 1z"/>
<path class="qlb" d="M8076 2734l26 2-23-41-26-2zm-26-2l26 2-23-41-26-3zm-26-1l26 1-23-42-26-2zm-26-1l26 1-23-43-27-1zm-27 0l27 0-24-43-26-1z"/>
<path class="qlc" d="M8099 2775l25 2-22-41-26-2zm23 40l25 0-23-38-25-2zm-49-41l26 1-23-41-26-2zm23 40l26 1-23-40-26-1zm-49-41l26 1-23-42-26-1zm23 42l26-1-23-40-26-1zm-49-42l26 0-23-42-26-1zm23 42l26 0-23-42-26 0zm-49-42l26 0-23-43-27 0zm23 43l26-1-23-42-26 0z"/>
<path class="qld" d="M8145 2853l25 0-23-38-25 0zm23 37l25-1-23-36-25 0zm-49-37l26 0-23-38-26-1zm23 38l26-1-23-37-26 0zm-49-37l26-1-23-39-26 1zm23 38l26-1-23-38-26 1zm-49-37l26-1-23-39-26 0zm24 39l25-2-23-38-26 1zm-50-37l26-2-23-40-26 1zm24 40l26-3-24-39-26 2z"/>
<path class="qle" d="M8191 2925l25-1-23-35-25 1zm23 34l25-2-23-33-25 1zm-49-32l26-2-23-35-26 1zm23 35l26-3-23-34-26 2zm-48-33l25-2-23-36-26 1zm23 36l25-3-23-35-25 2zm-49-33l26-3-24-37-25 2zm23 36l26-3-23-36-26 3zm-49-33l26-3-23-38-26 3zm23 37l26-4-23-36-26 3z"/>
<path class="qif" d="M8692 3006l22 4-22-19-23-5z"/>
<path class="qhl" d="M8669 3002l23 4-23-20-22-5zm-23-4l23 4-22-21-23-4zm-23-3l23 3-22-21-23-4zm-23-4l23 4-22-22-23-4zm-23-2l23 2-22-22-23-3z"/>
<path class="qha" d="M8554 2986l23 3-22-23-24-3zm-24-2l24 2-23-23-23-3zm-24-1l24 1-22-24-24-2zm-23-1l23 1-22-25-24-2zm-24-1l24 1-23-26-24-1zm-24 0l24 0-23-26-24-2z"/>
<path class="qgp" d="M8410 2981l25 0-23-28-24 0zm-24 0l24 0-22-28-25-1zm-25 1l25-1-23-29-24 1zm-24 1l24-1-22-29-25 0zm-25 2l25-2-23-30-25 1zm-25 2l25-2-23-31-25 1zm-25 2l25-2-23-32-25 2zm-25 3l25-3-23-32-25 2zm-26 3l26-3-23-33-26 3zm-25 4l25-4-23-33-25 3zm-26 4l26-4-23-34-26 3zm-26 5l26-5-23-35-26 4z"/>
<path class="qhu" d="M8714 3024l22 4-22-18-22-4zm22 17l22 4-22-17-22-4z"/>
<path class="qif" d="M8691 3021l23 3-22-18-23-4zm22 17l23 3-22-17-23-3z"/>
<path class="qhl" d="M8668 3018l23 3-22-19-23-4zm-23-3l23 3-22-20-23-3zm-23-3l23 3-22-20-23-4zm-23-2l23 2-22-21-23-2zm-23-1l23 1-22-21-23-3zm-24-2l24 2-22-23-24-2z"/>
<path class="qha" d="M8529 3007l23 0-22-23-24-1zm-24-1l24 1-23-24-23-1zm-24 0l24 0-22-24-24-1zm-24 0l24 0-22-25-24 0zm-24 1l24-1-22-25-25 0zm-24 1l24-1-23-26-24 0zm-25 2l25-2-23-27-25 1zm-24 1l24-1-23-28-24 1zm-25 3l25-3-23-28-25 2z"/>
<path class="qgp" d="M8310 3017l25-3-23-29-25 2zm-25 3l25-3-23-30-25 2zm-25 3l25-3-23-31-25 3zm-26 4l26-4-23-31-26 3zm-25 5l25-5-23-32-25 4zm-26 5l26-5-23-33-26 4zm-26 5l26-5-23-34-26 5z"/>
<path class="qif" d="M8691 3036l22 2-22-17-23-3zm-23-2l23 2-23-18-23-3z"/>
<path class="qhl" d="M8645 3032l23 2-23-19-23-3zm-23-1l23 1-23-20-23-2zm-24-1l24 1-23-21-23-1zm-23-1l23 1-22-21-24-2zm-24 0l24 0-23-22-23 0zm-23 0l23 0-22-22-24-1zm-24 1l24-1-23-23-24 0z"/>
<path class="qha" d="M8480 3031l24-1-23-24-24 0zm-24 1l24-1-23-25-24 1zm-25 2l25-2-23-25-24 1zm-24 2l24-2-22-26-25 2zm-25 3l25-3-23-26-24 1zm-24 3l24-3-22-28-25 3zm-25 3l25-3-23-28-25 3zm-25 4l25-4-23-28-25 3zm-25 4l25-4-23-29-25 3zm-26 5l26-5-23-30-26 4zm-25 5l25-5-23-31-25 5zm-26 6l26-6-23-31-26 5zm-25 6l25-6-23-32-26 5z"/>
<path class="qdy" d="M8956 3103l22 5-23-9-21-4z"/>
<path class="qdi" d="M8935 3100l21 3-22-8-21-5z"/>
<path class="qic" d="M8913 3096l22 4-22-10-22-4z"/>
<path class="qeh" d="M8979 3111l21 3-22-6-22-5z"/>
<path class="qdk" d="M8957 3108l22 3-23-8-21-3z"/>
<path class="qei" d="M9002 3117l21 3-23-6-21-3zm22 4l22 3-23-4-21-3zm23 3l22 2-23-2-22-3zm23 2l22 1-23-1-22-2zm24 0l21 1-23 0-22-1z"/>
<path class="qdz" d="M8980 3114l22 3-23-6-22-3z"/>
<path class="qei" d="M9003 3119l21 2-22-4-22-3zm23 4l21 1-23-3-21-2zm23 2l21 1-23-2-21-1zm23 1l22 0-24 0-21-1z"/>
<path class="qjm" d="M8847 3071l22 4-23-13-21-5z"/>
<path class="qjf" d="M8825 3067l22 4-22-14-22-4z"/>
<path class="qjo" d="M8803 3063l22 4-22-14-22-4zm-22-3l22 3-22-14-23-4z"/>
<path class="qhu" d="M8758 3057l23 3-23-15-22-4z"/>
<path class="qif" d="M8736 3055l22 2-22-16-23-3zm-23-2l23 2-23-17-22-2zm-23-2l23 2-22-17-23-2zm-23-1l23 1-22-17-23-2zm-23 0l23 0-22-18-23-1z"/>
<path class="qhl" d="M8621 3049l23 1-22-19-24-1zm-24 0l24 0-23-19-23-1zm-23 1l23-1-22-20-24 0zm-24 1l24-1-23-21-23 0zm-24 1l24-1-22-22-24 1zm-24 1l24-1-22-22-24 1zm-24 2l24-2-22-22-24 1zm-24 3l24-3-22-23-25 2zm-24 3l24-3-23-24-24 2zm-25 3l25-3-23-25-25 3z"/>
<path class="qha" d="M8380 3068l25-4-23-25-24 3zm-24 4l24-4-22-26-25 3zm-25 5l25-5-23-27-25 4zm-25 5l25-5-23-28-25 4zm-26 5l26-5-23-29-26 5zm-25 6l25-6-23-29-25 5zm-25 6l25-6-23-30-26 6zm-26 7l26-7-24-30-25 6z"/>
<path class="qct" d="M9202 3127l20 2-23 4-21-2z"/>
<path class="qdj" d="M9181 3126l21 1-24 4-21-2z"/>
<path class="qdx" d="M9160 3125l21 1-24 3-21-1z"/>
<path class="qeh" d="M9138 3125l22 0-24 3-21-1z"/>
<path class="qei" d="M9117 3125l21 0-23 2-21-1zm-21 0l21 0-23 1-22 0z"/>
<path class="qnj" d="M9246 3123l21 1-24 6-21-1z"/>
<path class="qku" d="M9270 3116l21 1-24 7-21-1zm-401-33l22 3-22-11-22-4z"/>
<path class="qim" d="M9225 3122l21 1-24 6-20-2z"/>
<path class="qit" d="M9249 3115l21 1-24 7-21-1z"/>
<path class="qdg" d="M9204 3121l21 1-23 5-21-1z"/>
<path class="qic" d="M9228 3115l21 0-24 7-21-1z"/>
<path class="qjf" d="M8847 3079l22 4-22-12-22-4z"/>
<path class="qdj" d="M9183 3121l21 0-23 5-21-1z"/>
<path class="qdh" d="M9207 3116l21-1-24 6-21 0zm-271-11l21 3-22-8-22-4z"/>
<path class="qef" d="M8959 3112l21 2-23-6-21-3z"/>
<path class="qdx" d="M8981 3118l22 1-23-5-21-2zm181 3l21 0-23 4-22 0z"/>
<path class="qeh" d="M9141 3122l21-1-24 4-21 0zm-137 0l22 1-23-4-22-1z"/>
<path class="qei" d="M9027 3125l22 0-23-2-22-1zm24 1l21 0-23-1-22 0zm23 0l22-1-24 1-21 0zm45-3l22-1-24 3-21 0zm-21 2l21-2-23 2-22 1z"/>
<path class="qjc" d="M9294 3107l21 0-24 10-21-1z"/>
<path class="qjo" d="M9318 3097l21 0-24 10-21 0zm25-12l21-1-25 13-21 0zm25-13l21-2-25 14-21 1zm-543 4l22 3-22-12-22-4zm-22-2l22 2-22-13-22-3z"/>
<path class="qjd" d="M9393 3057l21-2-25 15-21 2zm25-16l21-2-25 16-21 2z"/>
<path class="qhk" d="M9444 3024l21-4-26 19-21 2z"/>
<path class="qhv" d="M9470 3005l21-4-26 19-21 4z"/>
<path class="qgz" d="M9496 2984l21-5-26 22-21 4zm27-23l21-5-27 23-21 5z"/>
<path class="qdk" d="M9186 3117l21-1-24 5-21 0z"/>
<path class="qdz" d="M9165 3118l21-1-24 4-21 1z"/>
<path class="qei" d="M9143 3119l22-1-24 4-22 1zm-21 2l21-2-24 4-21 2z"/>
<path class="qne" d="M7921 2685l27 1-23-45-27-2zm-26 0l26 0-23-46-27-1zm-27 0l27 0-24-47-27 0zm-27 1l27-1-24-47-27-1zm-28 0l28 0-24-49-27 0zm-27 2l27-2-23-49-28 1z"/>
<path class="qlb" d="M7945 2730l26 0-23-44-27-1zm-27 0l27 0-24-45-26 0zm-27 1l27-1-23-45-27 0zm-27 1l27-1-23-46-27 1zm-27 2l27-2-23-46-28 0zm-27 2l27-2-24-48-27 2z"/>
<path class="qlc" d="M7968 2774l27-1-24-43-26 0zm24 43l26-1-23-43-27 1z"/>
<path class="qld" d="M8015 2859l26-2-23-41-26 1zm23 41l27-3-24-40-26 2z"/>
<path class="qle" d="M8062 2939l26-4-23-38-27 3zm23 37l26-4-23-37-26 4z"/>
<path class="qgp" d="M8108 3013l26-5-23-36-26 4zm24 35l25-6-23-34-26 5z"/>
<path class="qha" d="M8155 3081l26-6-24-33-25 6zm23 32l26-7-23-31-26 6z"/>
<path class="qlb" d="M7942 2775l26-1-23-44-27 0zm-27 1l27-1-24-45-27 1zm-27 2l27-2-24-45-27 1zm-27 2l27-2-24-46-27 2zm-27 3l27-3-24-46-27 2z"/>
<path class="qlc" d="M7965 2819l27-2-24-43-26 1zm-26 2l26-2-23-44-27 1zm-27 3l27-3-24-45-27 2zm-27 3l27-3-24-46-27 2zm-27 3l27-3-24-47-27 3z"/>
<path class="qld" d="M7989 2862l26-3-23-42-27 2zm23 41l26-3-23-41-26 3zm23 40l27-4-24-39-26 3z"/>
<path class="qle" d="M8059 2981l26-5-23-37-27 4z"/>
<path class="qgp" d="M8082 3018l26-5-23-37-26 5zm24 36l26-6-24-35-26 5z"/>
<path class="qha" d="M8129 3088l26-7-23-33-26 6zm23 33l26-8-23-32-26 7z"/>
<path class="qlc" d="M7962 2865l27-3-24-43-26 2zm-27 3l27-3-23-44-27 3zm-26 4l26-4-23-44-27 3zm-27 4l27-4-24-45-27 3z"/>
<path class="qld" d="M7986 2907l26-4-23-41-27 3zm23 40l26-4-23-40-26 4zm-50-36l27-4-24-42-27 3zm24 41l26-5-23-40-27 4zm-51-37l27-4-24-43-26 4zm24 43l27-6-24-41-27 4zm-51-38l27-5-23-43-27 4zm24 43l27-5-24-43-27 5z"/>
<path class="qle" d="M8033 2986l26-5-24-38-26 4zm-27 6l27-6-24-39-26 5zm-26 6l26-6-23-40-27 6zm-27 7l27-7-24-40-27 5z"/>
<path class="qgp" d="M8056 3024l26-6-23-37-26 5zm23 37l27-7-24-36-26 6zm-49-30l26-7-23-38-27 6zm23 37l26-7-23-37-26 7zm-50-30l27-7-24-39-26 6zm24 38l26-8-23-37-27 7zm-50-31l26-7-23-40-27 7zm23 39l27-8-24-38-26 7z"/>
<path class="qha" d="M8103 3096l26-8-23-34-27 7zm23 33l26-8-23-33-26 8zm-49-25l26-8-24-35-26 7zm23 34l26-9-23-33-26 8zm-50-26l27-8-24-36-26 8zm24 35l26-9-23-34-27 8zm-50-26l26-9-23-36-27 8zm23 36l27-10-24-35-26 9z"/>
<path class="qjb" d="M8892 3093l21 3-22-10-22-3z"/>
<path class="qim" d="M8914 3102l22 3-23-9-21-3z"/>
<path class="qdg" d="M8937 3110l22 2-23-7-22-3z"/>
<path class="qdj" d="M8960 3116l21 2-22-6-22-2z"/>
<path class="qjc" d="M8870 3091l22 2-23-10-22-4z"/>
<path class="qin" d="M8892 3100l22 2-22-9-22-2z"/>
<path class="qit" d="M8915 3109l22 1-23-8-22-2z"/>
<path class="qic" d="M8938 3116l22 0-23-6-22-1z"/>
<path class="qjf" d="M8848 3088l22 3-23-12-22-3zm22 11l22 1-22-9-22-3z"/>
<path class="qiu" d="M8893 3108l22 1-23-9-22-1z"/>
<path class="qit" d="M8916 3115l22 1-23-7-22-1z"/>
<path class="qjo" d="M8825 3086l23 2-23-12-22-2zm23 11l22 2-22-11-23-2z"/>
<path class="qjf" d="M8871 3107l22 1-23-9-22-2z"/>
<path class="qjc" d="M8894 3115l22 0-23-7-22-1z"/>
<path class="qdy" d="M8983 3121l21 1-23-4-21-2z"/>
<path class="qdi" d="M8961 3121l22 0-23-5-22 0z"/>
<path class="qim" d="M8939 3121l22 0-23-5-22-1z"/>
<path class="qin" d="M8917 3122l22-1-23-6-22 0z"/>
<path class="qeh" d="M9006 3125l21 0-23-3-21-1z"/>
<path class="qdk" d="M8984 3125l22 0-23-4-22 0z"/>
<path class="qdg" d="M8962 3126l22-1-23-4-22 0z"/>
<path class="qht" d="M8940 3127l22-1-23-5-22 1z"/>
<path class="qei" d="M9029 3127l22-1-24-1-21 0zm23 0l22-1-23 0-22 1zm24-1l22-1-24 1-22 1zm24-2l22-3-24 4-22 1z"/>
<path class="qdz" d="M9007 3128l22-1-23-2-22 0z"/>
<path class="qdj" d="M8985 3129l22-1-23-3-22 1z"/>
<path class="qdg" d="M8963 3131l22-2-23-3-22 1z"/>
<path class="qei" d="M9031 3129l21-2-23 0-22 1zm23 0l22-3-24 1-21 2zm24-2l22-3-24 2-22 3z"/>
<path class="qdz" d="M9009 3131l22-2-24-1-22 1z"/>
<path class="qdj" d="M8986 3133l23-2-24-2-22 2z"/>
<path class="qei" d="M9032 3131l22-2-23 0-22 2zm24-1l22-3-24 2-22 2z"/>
<path class="qdy" d="M9010 3134l22-3-23 0-23 2z"/>
<path class="qeh" d="M9034 3134l22-4-24 1-22 3z"/>
<path class="qnf" d="M9273 3107l21 0-24 9-21-1z"/>
<path class="qit" d="M9252 3108l21-1-24 8-21 0z"/>
<path class="qic" d="M9231 3109l21-1-24 7-21 1z"/>
<path class="qdi" d="M9210 3110l21-1-24 7-21 1z"/>
<path class="qjc" d="M9298 3098l20-1-24 10-21 0z"/>
<path class="qjf" d="M9322 3086l21-1-25 12-20 1z"/>
<path class="qjd" d="M9347 3074l21-2-25 13-21 1zm25-14l21-3-25 15-21 2zm25-16l21-3-25 16-21 3z"/>
<path class="qhk" d="M9423 3027l21-3-26 17-21 3zm26-18l21-4-26 19-21 3z"/>
<path class="qdk" d="M9189 3112l21-2-24 7-21 1z"/>
<path class="qdz" d="M9167 3114l22-2-24 6-22 1z"/>
<path class="qei" d="M9146 3117l21-3-24 5-21 2zm-22 3l22-3-24 4-22 3zm-22 3l22-3-24 4-22 3zm-22 4l22-4-24 4-22 3zm-22 5l22-5-24 3-22 4z"/>
<path class="qnf" d="M9277 3099l21-1-25 9-21 1z"/>
<path class="qiu" d="M9301 3088l21-2-24 12-21 1z"/>
<path class="qkt" d="M9326 3076l21-2-25 12-21 2zm25-13l21-3-25 14-21 2z"/>
<path class="qht" d="M9256 3100l21-1-25 9-21 1z"/>
<path class="qjd" d="M9376 3048l21-4-25 16-21 3z"/>
<path class="qhk" d="M9402 3032l21-5-26 17-21 4zm26-19l21-4-26 18-21 5z"/>
<path class="qig" d="M8781 3072l22 2-22-14-23-3z"/>
<path class="qhu" d="M8758 3070l23 2-23-15-22-2z"/>
<path class="qjo" d="M8803 3085l22 1-22-12-22-2zm23 11l22 1-23-11-22-1zm22 11l23 0-23-10-22-1z"/>
<path class="qjf" d="M8871 3116l23-1-23-8-23 0zm23 7l23-1-23-7-23 1z"/>
<path class="qiu" d="M8917 3129l23-2-23-5-23 1z"/>
<path class="qit" d="M8941 3133l22-2-23-4-23 2z"/>
<path class="qic" d="M8964 3136l22-3-23-2-22 2z"/>
<path class="qif" d="M8735 3068l23 2-22-15-23-2zm-22 0l22 0-22-15-23-2zm-23-1l23 1-23-17-23-1zm-23 0l23 0-23-17-23 0zm-24 0l24 0-23-17-23-1zm-23 1l23-1-22-18-24 0z"/>
<path class="qhl" d="M8597 3069l23-1-23-19-23 1zm-24 2l24-2-23-19-24 1zm-24 2l24-2-23-20-24 1zm-24 2l24-2-23-21-24 1zm-24 3l24-3-23-22-24 2zm-24 3l24-3-23-23-24 3zm-24 3l24-3-23-23-24 3zm-25 4l25-4-23-23-25 3zm-25 5l25-5-23-24-25 4zm-24 5l24-5-23-25-24 4zm-25 5l25-5-23-26-25 5zm-25 6l25-6-23-26-25 5zm-26 6l26-6-23-27-26 5zm-25 7l25-7-23-28-25 6zm-25 7l25-7-23-29-25 6zm-26 7l26-7-23-30-26 7zm-26 8l26-8-23-30-26 7zm-25 9l25-9-23-31-26 8zm-26 8l26-8-24-32-26 8zm-27 10l27-10-24-32-26 9zm-26 10l26-10-23-33-26 9zm-26 10l26-10-23-34-27 10z"/>
<path class="qdh" d="M8988 3138l22-4-24-1-22 3z"/>
<path class="qdk" d="M9011 3138l23-4-24 0-22 4z"/>
<path class="qdz" d="M9035 3136l23-4-24 2-23 4z"/>
<path class="qig" d="M8781 3084l22 1-22-13-23-2zm22 12l23 0-23-11-22-1z"/>
<path class="qjo" d="M8826 3107l22 0-22-11-23 0zm23 9l22 0-23-9-22 0zm23 8l22-1-23-7-22 0z"/>
<path class="qjf" d="M8895 3131l22-2-23-6-22 1z"/>
<path class="qjc" d="M8918 3136l23-3-24-4-22 2z"/>
<path class="qin" d="M8942 3140l22-4-23-3-23 3z"/>
<path class="qht" d="M8965 3142l23-4-24-2-22 4z"/>
<path class="qdg" d="M8989 3142l22-4-23 0-23 4z"/>
<path class="qif" d="M8758 3083l23 1-23-14-23-2zm-23-1l23 1-23-15-22 0zm-23 1l23-1-22-14-23-1zm-23 0l23 0-22-16-23 0zm-23 1l23-1-22-16-24 0zm-23 1l23-1-23-17-23 1zm-24 2l24-2-23-17-23 1zm-23 2l23-2-22-18-24 2zm-24 3l24-3-23-18-24 2z"/>
<path class="qhl" d="M8548 3095l24-3-23-19-24 2zm-24 3l24-3-23-20-24 3zm-24 4l24-4-23-20-24 3zm-25 4l25-4-23-21-24 3zm-24 5l24-5-22-22-25 4zm-25 5l25-5-23-23-25 5zm-24 6l24-6-23-23-24 5zm-25 6l25-6-23-24-25 5zm-25 6l25-6-23-25-25 6zm-25 7l25-7-23-25-26 6zm-26 8l26-8-24-26-25 7zm-25 7l25-7-23-27-25 7zm-26 9l26-9-23-27-26 7zm-25 8l25-8-23-29-26 8zm-26 9l26-9-24-29-25 9zm-26 10l26-10-23-29-26 8zm-26 10l26-10-23-31-27 10zm-26 11l26-11-24-31-26 10z"/>
<path class="qif" d="M8094 3224l27-11-24-32-26 10z"/>
<path class="qig" d="M8781 3096l22 0-22-12-23-1zm22 11l23 0-23-11-22 0zm23 10l23-1-23-9-23 0z"/>
<path class="qjo" d="M8849 3126l23-2-23-8-23 1zm23 7l23-2-23-7-23 2z"/>
<path class="qjf" d="M8896 3139l22-3-23-5-23 2zm23 4l23-3-24-4-22 3z"/>
<path class="qkw" d="M8943 3146l22-4-23-2-23 3z"/>
<path class="qht" d="M8966 3147l23-5-24 0-22 4z"/>
<path class="qif" d="M8758 3096l23 0-23-13-23-1zm-23 1l23-1-23-14-23 1zm-23 1l23-1-23-14-23 0zm-23 1l23-1-23-15-23 1zm-24 2l24-2-23-15-23 1zm-23 3l23-3-22-16-24 2zm-24 3l24-3-23-17-23 2zm-23 3l23-3-22-18-24 3zm-24 4l24-4-23-18-24 3zm-24 4l24-4-23-19-24 3zm-24 4l24-4-23-20-24 4zm-25 5l25-5-23-20-25 4zm-24 6l24-6-23-21-24 5zm-25 5l25-5-23-22-25 5zm-24 7l24-7-23-22-24 6zm-25 6l25-6-23-23-25 6zm-25 7l25-7-23-23-25 6zm-25 8l25-8-23-24-25 7zm-25 8l25-8-23-25-26 8zm-26 9l26-9-24-25-25 7zm-25 9l25-9-23-27-26 9zm-26 9l26-9-24-27-25 8zm-26 10l26-10-23-28-26 9zm-26 10l26-10-23-29-26 10zm-26 11l26-11-23-29-26 10zm-26 11l26-11-23-30-26 11zm-26 12l26-12-23-30-27 11z"/>
<path class="qgo" d="M9549 2937l21-6-26 25-21 5z"/>
<path class="qgm" d="M9475 2988l21-4-26 21-21 4zm-21 6l21-6-26 21-21 4z"/>
<path class="qgz" d="M9501 2966l22-5-27 23-21 4z"/>
<path class="qgo" d="M9528 2943l21-6-26 24-22 5z"/>
<path class="qgm" d="M9480 2972l21-6-26 22-21 6z"/>
<path class="qlg" d="M9234 3102l22-2-25 9-21 1z"/>
<path class="qdj" d="M9213 3105l21-3-24 8-21 2z"/>
<path class="qid" d="M9280 3090l21-2-24 11-21 1z"/>
<path class="qht" d="M9259 3093l21-3-24 10-22 2z"/>
<path class="qdg" d="M9237 3096l22-3-25 9-21 3z"/>
<path class="qfp" d="M9013 3142l22-6-24 2-22 4z"/>
<path class="qih" d="M8781 3108l22-1-22-11-23 0zm-23 2l23-2-23-12-23 1z"/>
<path class="qif" d="M8735 3111l23-1-23-13-23 1zm-23 3l23-3-23-13-23 1zm-24 2l24-2-23-15-24 2zm-23 3l23-3-23-15-23 3zm-24 4l24-4-23-15-24 3zm-23 4l23-4-23-16-23 3zm-24 4l24-4-23-17-24 4zm-24 5l24-5-23-17-24 4zm-24 5l24-5-23-18-24 4zm-25 5l25-5-23-19-25 5zm-24 7l24-7-23-19-24 6zm-25 6l25-6-23-20-25 5zm-24 7l24-7-23-21-24 7zm-25 7l25-7-23-21-25 6zm-25 8l25-8-23-22-25 7zm-25 9l25-9-23-23-25 8zm-25 8l25-8-23-24-25 8zm-26 9l26-9-23-24-26 9zm-25 10l25-10-23-24-25 9zm-26 10l26-10-23-25-26 9zm-25 11l25-11-23-26-26 10zm-26 11l26-11-24-27-26 10zm-26 12l26-12-24-28-26 11zm-26 12l26-12-24-29-26 11z"/>
<path class="qig" d="M8804 3119l22-2-23-10-22 1zm23 9l22-2-23-9-22 2z"/>
<path class="qih" d="M8781 3121l23-2-23-11-23 2zm-23 2l23-2-23-11-23 1zm-616 163l26-13-24-30-26 12z"/>
<path class="qjo" d="M8850 3136l22-3-23-7-22 2zm23 7l23-4-24-6-22 3zm23 4l23-4-23-4-23 4z"/>
<path class="qjf" d="M8920 3151l23-5-24-3-23 4z"/>
<path class="qiu" d="M8944 3153l22-6-23-1-23 5z"/>
<path class="qif" d="M8735 3126l23-3-23-12-23 3zm-24 3l24-3-23-12-24 2zm-23 4l23-4-23-13-23 3zm-24 4l24-4-23-14-24 4zm-23 5l23-5-23-14-23 4zm-24 5l24-5-23-15-24 4zm-24 5l24-5-23-16-24 5zm-24 6l24-6-23-16-24 5zm-25 6l25-6-23-17-25 5zm-24 7l24-7-23-18-24 7zm-24 7l24-7-23-18-25 6zm-25 8l25-8-24-19-24 7zm-25 8l25-8-23-20-25 7zm-25 9l25-9-23-21-25 8zm-25 9l25-9-23-22-25 9zm-25 9l25-9-23-22-25 8zm-25 10l25-10-23-23-26 9zm-26 11l26-11-24-24-25 10zm-25 11l25-11-23-25-26 10z"/>
<path class="qig" d="M8804 3131l23-3-23-9-23 2zm23 8l23-3-23-8-23 3zm23 7l23-3-23-7-23 3z"/>
<path class="qih" d="M8781 3134l23-3-23-10-23 2zm23 9l23-4-23-8-23 3zm-46-6l23-3-23-11-23 3zm23 10l23-4-23-9-23 3zm-47-6l24-4-23-11-24 3zm23 11l24-5-23-10-24 4zm-488 112l26-11-24-26-25 11zm-26 12l26-12-23-26-26 11zm-26 12l26-12-23-27-26 12zm-26 13l26-13-23-27-26 12zm-26 14l26-14-23-28-26 13z"/>
<path class="qjo" d="M8874 3152l22-5-23-4-23 3zm23 4l23-5-24-4-22 5z"/>
<path class="qjf" d="M8921 3159l23-6-24-2-23 5z"/>
<path class="qif" d="M8711 3146l23-5-23-12-23 4zm-24 4l24-4-23-13-24 4zm-23 6l23-6-23-13-23 5zm-24 5l24-5-23-14-24 5zm-24 6l24-6-23-14-24 5zm-24 7l24-7-23-15-24 6zm-24 7l24-7-23-16-25 6zm-25 7l25-7-24-17-24 7zm-24 8l24-8-23-17-24 7zm-25 9l25-9-23-18-25 8zm-25 9l25-9-23-19-25 8zm-24 9l24-9-23-20-25 9z"/>
<path class="qih" d="M8420 3233l25-10-24-20-25 9zm-26 10l26-10-24-21-25 9zm-25 11l25-11-23-22-25 10zm-25 11l25-11-23-23-26 11zm-26 11l26-11-24-23-25 11zm-25 13l25-13-23-23-26 11zm-26 12l26-12-24-25-26 12zm-26 13l26-13-24-25-26 12zm-26 14l26-14-24-26-26 13zm-26 14l26-14-24-27-26 14zm545-185l23-5-23-11-23 5zm-23 5l23-5-23-11-24 4zm-24 6l24-6-24-12-23 6zm-24 6l24-6-23-12-24 5zm-24 7l24-7-23-13-24 6zm-24 7l24-7-23-14-24 7zm-24 8l24-8-23-14-24 7zm-24 8l24-8-23-15-25 7zm-25 9l25-9-24-16-24 8zm-25 9l25-9-23-17-25 9zm-24 10l24-10-23-17-25 9zm-25 10l25-10-24-18-24 9zm-25 10l25-10-23-19-25 10zm-25 11l25-11-23-19-26 10zm-25 11l25-11-24-20-25 11zm-26 12l26-12-24-20-25 11zm-25 13l25-13-23-21-26 11zm-26 13l26-13-24-23-25 13zm-26 13l26-13-23-23-26 12z"/>
<path class="qig" d="M8827 3151l23-5-23-7-23 4zm24 6l23-5-24-6-23 5z"/>
<path class="qjo" d="M8874 3162l23-6-23-4-23 5zm24 3l23-6-24-3-23 6z"/>
<path class="qih" d="M8804 3156l23-5-23-8-23 4zm23 6l24-5-24-6-23 5zm-46-1l23-5-23-9-24 5zm23 7l23-6-23-6-23 5zm-47-2l24-5-24-9-23 5zm24 9l23-7-23-7-24 5zm-47-2l23-7-23-9-23 5zm23 8l24-6-24-9-23 7zm-47-2l24-6-23-11-24 6zm24 10l23-8-23-8-24 6zm-48-3l24-7-23-11-24 6zm24 10l24-7-24-10-24 7zm-48-2l24-8-23-12-24 7zm24 10l24-8-24-10-24 8zm-48-2l24-8-23-13-24 7zm24 11l24-9-24-10-24 8zm-48-3l24-8-23-14-24 8zm24 12l24-9-24-11-24 8zm-48-3l24-9-23-14-24 8zm23 13l25-10-24-12-24 9zm-48-4l25-9-23-15-25 9zm24 14l24-10-23-13-25 9zm-48-4l24-10-23-15-25 9zm23 14l25-10-24-14-24 10zm-48-4l25-10-24-16-24 10zm24 15l24-11-23-14-25 10zm-49-4l25-11-23-16-25 10zm24 15l25-11-24-15-25 11zm-49-4l25-11-23-17-25 10zm24 16l25-12-24-15-25 11zm-49-4l25-12-23-18-25 11zm24 17l25-13-24-16-25 12zm-49-5l25-12-23-19-25 11zm24 18l25-13-24-17-25 12zm-49-6l25-12-23-20-26 12zm-26 14l26-14-24-20-25 13z"/>
<path class="qip" d="M8340 3333l25-13-23-21-26 13zm-26 14l26-14-24-21-26 13zm100-22l26-13-24-18-25 12zm-25 14l25-14-23-19-26 14zm-26 14l26-14-24-19-25 13zm-25 15l25-15-23-20-26 14zm-74-29l26-14-23-24-26 13zm24 23l26-15-24-22-26 14zm24 21l26-15-24-21-26 15zm-73-30l25-14-23-25-26 14zm23 24l26-15-24-23-25 14zm24 22l26-16-24-21-26 15zm-74-31l27-15-24-25-26 14zm24 25l26-16-23-24-27 15zm24 23l26-17-24-22-26 16z"/>
<path class="qig" d="M8851 3168l23-6-23-5-24 5zm24 4l23-7-24-3-23 6z"/>
<path class="qih" d="M8828 3174l23-6-24-6-23 6zm-24 7l24-7-24-6-23 7zm-23 8l23-8-23-6-24 6zm-24 8l24-8-24-8-23 8zm-24 8l24-8-23-8-24 7zm-24 9l24-9-23-9-24 8zm-24 9l24-9-23-10-24 9zm-24 10l24-10-23-10-24 9zm-24 10l24-10-23-11-25 10zm-25 11l25-11-24-11-24 10zm-24 11l24-11-23-12-25 10zm-25 12l25-12-24-13-24 11zm-25 12l25-12-23-14-25 11zm-25 12l25-12-23-15-25 12z"/>
<path class="qig" d="M8851 3179l24-7-24-4-23 6z"/>
<path class="qih" d="M8828 3187l23-8-23-5-24 7zm-23 8l23-8-24-6-23 8zm-24 8l24-8-24-6-24 8zm-24 9l24-9-24-6-24 8zm-24 10l24-10-24-7-24 9zm-24 10l24-10-24-8-24 9zm-24 10l24-10-24-9-24 10zm-24 11l24-11-24-9-24 10zm-25 11l25-11-24-10-25 11zm-24 12l24-12-24-10-24 11zm-25 13l25-13-24-11-25 12zm-25 12l25-12-24-12-25 12z"/>
<path class="qip" d="M8537 3315l25-14-24-12-25 12zm-49-1l25-13-23-15-25 13zm24 15l25-14-24-14-25 13zm-49-1l25-14-23-15-25 13zm24 15l25-14-24-15-25 14zm-49-1l25-14-23-16-26 13zm24 16l25-15-24-15-25 14zm-50-1l26-15-24-17-25 14zm24 16l26-15-24-16-26 15zm-49-1l25-15-23-18-26 14zm24 17l25-16-24-16-25 15zm-50-2l26-15-24-19-25 15zm24 18l26-16-24-17-26 15zm-50-2l26-16-23-19-26 15z"/>
<path class="qiw" d="M8359 3422l26-17-24-18-26 16zm-49-2l25-17-23-20-26 16zm23 19l26-17-24-19-25 17zm-49-2l26-17-24-21-26 17zm23 20l26-18-23-19-26 17z"/>
<path class="qll" d="M9577 2911l21-6-28 26-21 6zm27-27l21-7-27 28-21 6zm-49 34l22-7-28 26-21 6zm28-27l21-7-27 27-22 7z"/>
<path class="qgn" d="M9507 2949l21-6-27 23-21 6z"/>
<path class="qll" d="M9534 2925l21-7-27 25-21 6zm27-27l22-7-28 27-21 7z"/>
<path class="qea" d="M9191 3108l22-3-24 7-22 2z"/>
<path class="qdj" d="M9216 3099l21-3-24 9-22 3z"/>
<path class="qlh" d="M9305 3079l21-3-25 12-21 2z"/>
<path class="qiu" d="M9330 3066l21-3-25 13-21 3z"/>
<path class="qkt" d="M9355 3052l21-4-25 15-21 3z"/>
<path class="qht" d="M9284 3082l21-3-25 11-21 3z"/>
<path class="qlg" d="M9262 3086l22-4-25 11-22 3z"/>
<path class="qdh" d="M9241 3090l21-4-25 10-21 3z"/>
<path class="qid" d="M9309 3070l21-4-25 13-21 3z"/>
<path class="qlh" d="M9334 3056l21-4-25 14-21 4z"/>
<path class="qgx" d="M8990 3147l23-5-24 0-23 5z"/>
<path class="qid" d="M8968 3153l22-6-24 0-22 6z"/>
<path class="qkt" d="M8945 3160l23-7-24 0-23 6z"/>
<path class="qjf" d="M8922 3167l23-7-24-1-23 6z"/>
<path class="qjo" d="M8899 3174l23-7-24-2-23 7z"/>
<path class="qig" d="M8875 3182l24-8-24-2-24 7zm-23 8l23-8-24-3-23 8z"/>
<path class="qih" d="M8828 3199l24-9-24-3-23 8zm-23 9l23-9-23-4-24 8zm-24 10l24-10-24-5-24 9zm-24 10l24-10-24-6-24 10zm-24 11l24-11-24-6-24 10zm-24 11l24-11-24-7-24 10zm-25 11l25-11-24-8-24 11zm-24 13l24-13-23-8-25 11zm-25 12l25-12-24-10-24 12zm-24 13l24-13-23-10-25 13z"/>
<path class="qip" d="M8586 3313l25-14-24-10-25 12zm-25 14l25-14-24-12-25 14zm-25 14l25-14-24-12-25 14zm-25 15l25-15-24-12-25 14zm-26 16l26-16-24-13-25 15zm-25 16l25-16-23-14-26 15zm-25 16l25-16-24-15-25 16z"/>
<path class="qiw" d="M8409 3421l26-17-24-15-26 16zm-26 18l26-18-24-16-26 17zm-26 18l26-18-24-17-26 17zm-26 19l26-19-24-18-26 18z"/>
<path class="qlp" d="M9632 2854l21-7-28 30-21 7zm28-31l21-7-28 31-21 7zm-49 39l21-8-28 30-21 7zm28-30l21-9-28 31-21 8zm-50 38l22-8-28 29-22 7zm28-30l22-8-28 30-22 8z"/>
<path class="qeg" d="M9170 3111l21-3-24 6-21 3z"/>
<path class="qei" d="M9148 3114l22-3-24 6-22 3zm-22 5l22-5-24 6-22 3zm-22 4l22-4-24 4-22 4zm-22 5l22-5-24 4-22 5zm-23 5l23-5-24 4-23 4z"/>
<path class="qdz" d="M9037 3139l22-6-24 3-22 6z"/>
<path class="qdj" d="M9014 3145l23-6-24 3-23 5z"/>
<path class="qic" d="M8992 3152l22-7-24 2-22 6z"/>
<path class="qin" d="M8969 3159l23-7-24 1-23 7z"/>
<path class="qjf" d="M8946 3167l23-8-24 1-23 7z"/>
<path class="qjo" d="M8923 3175l23-8-24 0-23 7zm-24 8l24-8-24-1-24 8z"/>
<path class="qdy" d="M9194 3103l22-4-25 9-21 3z"/>
<path class="qdk" d="M9219 3094l22-4-25 9-22 4z"/>
<path class="qeh" d="M9172 3107l22-4-24 8-22 3z"/>
<path class="qdz" d="M9197 3099l22-5-25 9-22 4z"/>
<path class="qei" d="M9150 3112l22-5-24 7-22 5zm25-7l22-6-25 8-22 5zm-47 12l22-5-24 7-22 4zm25-7l22-5-25 7-22 5zm-47 13l22-6-24 6-22 5zm25-7l22-6-25 7-22 6zm-47 13l22-6-24 5-23 5zm24-6l23-7-25 7-22 6zm-47 12l23-6-25 4-22 6zm25-5l22-7-24 6-23 6z"/>
<path class="qdy" d="M9039 3142l22-7-24 4-23 6z"/>
<path class="qdh" d="M9016 3150l23-8-25 3-22 7z"/>
<path class="qht" d="M8993 3157l23-7-24 2-23 7z"/>
<path class="qig" d="M8876 3192l23-9-24-1-23 8zm-24 10l24-10-24-2-24 9z"/>
<path class="qih" d="M8829 3212l23-10-24-3-23 9zm-24 10l24-10-24-4-24 10zm-24 11l24-11-24-4-24 10zm-24 11l24-11-24-5-24 11zm-24 12l24-12-24-5-24 11zm-25 12l25-12-24-6-25 11zm-24 13l24-13-24-7-24 13zm-25 13l25-13-24-7-25 12zm-24 14l24-14-24-8-24 13z"/>
<path class="qip" d="M8610 3322l25-14-24-9-25 14zm-25 15l25-15-24-9-25 14zm-25 15l25-15-24-10-25 14zm-25 16l25-16-24-11-25 15zm-26 16l26-16-24-12-26 16zm-25 17l25-17-24-12-25 16z"/>
<path class="qiw" d="M8458 3418l26-17-24-13-25 16zm-25 18l25-18-23-14-26 17zm-26 18l26-18-24-15-26 18zm-26 19l26-19-24-15-26 18zm-26 20l26-20-24-16-26 19z"/>
<path class="qeg" d="M9063 3138l23-8-25 5-22 7z"/>
<path class="qfp" d="M9040 3146l23-8-24 4-23 8z"/>
<path class="qgx" d="M9017 3154l23-8-24 4-23 7z"/>
<path class="qgj" d="M9381 3036l21-4-26 16-21 4z"/>
<path class="qhk" d="M9406 3019l22-6-26 19-21 4z"/>
<path class="qgm" d="M9432 2999l22-5-26 19-22 6zm27-20l21-7-26 22-22 5z"/>
<path class="qgn" d="M9486 2956l21-7-27 23-21 7z"/>
<path class="qhi" d="M9287 3074l22-4-25 12-22 4z"/>
<path class="qgx" d="M9266 3079l21-5-25 12-21 4z"/>
<path class="qdj" d="M9244 3084l22-5-25 11-22 4z"/>
<path class="qdy" d="M9222 3089l22-5-25 10-22 5z"/>
<path class="qeg" d="M9200 3095l22-6-25 10-22 6z"/>
<path class="qei" d="M9178 3102l22-7-25 10-22 5zm-23 7l23-7-25 8-22 6zm-22 7l22-7-24 7-23 7zm-22 7l22-7-25 7-22 7zm-23 9l23-9-25 7-23 8z"/>
<path class="qdz" d="M9065 3140l23-8-25 6-23 8z"/>
<path class="qfp" d="M9042 3149l23-9-25 6-23 8z"/>
<path class="qna" d="M9689 2791l21-9-29 34-21 7zm29-35l21-9-29 35-21 9zm-51 43l22-8-29 32-21 9zm29-34l22-9-29 35-22 8zm-50 44l21-10-28 33-22 8zm28-34l22-10-29 34-21 10z"/>
<path class="qhj" d="M8970 3166l23-9-24 2-23 8z"/>
<path class="qiv" d="M8947 3174l23-8-24 1-23 8z"/>
<path class="qjd" d="M8923 3183l24-9-24 1-24 8zm-23 10l23-10-24 0-23 9z"/>
<path class="qig" d="M8876 3203l24-10-24-1-24 10z"/>
<path class="qid" d="M8994 3163l23-9-24 3-23 9z"/>
<path class="qiu" d="M8971 3172l23-9-24 3-23 8z"/>
<path class="qiv" d="M8948 3182l23-10-24 2-24 9z"/>
<path class="qjd" d="M8924 3192l24-10-25 1-23 10zm-23 11l23-11-24 1-24 10z"/>
<path class="qih" d="M8853 3214l23-11-24-1-23 10zm-24 11l24-11-24-2-24 10zm-24 11l24-11-24-3-24 11zm-24 12l24-12-24-3-24 11zm-24 13l24-13-24-4-24 12zm-25 13l25-13-24-5-25 12zm-24 13l24-13-24-6-24 13zm-25 14l25-14-24-6-25 13zm-24 15l24-15-24-7-24 14z"/>
<path class="qhu" d="M8877 3214l24-11-25 0-23 11z"/>
<path class="qih" d="M8853 3226l24-12-24 0-24 11zm-24 12l24-12-24-1-24 11zm-24 13l24-13-24-2-24 12zm-24 13l24-13-24-3-24 13zm-24 14l24-14-24-3-25 13zm-25 14l25-14-25-4-24 13zm-24 14l24-14-24-5-25 14zm-25 16l25-16-25-5-24 15z"/>
<path class="qgx" d="M9019 3159l23-10-25 5-23 9z"/>
<path class="qid" d="M8996 3169l23-10-25 4-23 9z"/>
<path class="qkt" d="M8972 3179l24-10-25 3-23 10z"/>
<path class="qiv" d="M8949 3190l23-11-24 3-24 10z"/>
<path class="qjd" d="M8925 3201l24-11-25 2-23 11zm-23 12l23-12-24 2-24 11z"/>
<path class="qhu" d="M8878 3225l24-12-25 1-24 12z"/>
<path class="qih" d="M8854 3238l24-13-25 1-24 12zm-24 14l24-14-25 0-24 13zm-25 14l25-14-25-1-24 13zm-24 14l24-14-24-2-24 14zm-24 15l24-15-24-2-25 14zm-25 15l25-15-25-3-24 14zm-25 16l25-16-24-4-25 16z"/>
<path class="qip" d="M8634 3331l25-15-24-8-25 14zm24 6l25-15-24-6-25 15zm24 5l25-16-24-4-25 15zm-73 4l25-15-24-9-25 15zm24 7l25-16-24-6-25 15zm24 6l25-17-24-5-25 16zm-73 3l25-16-24-9-25 15zm24 8l25-17-24-7-25 16zm24 7l25-18-24-6-25 17zm-73 1l25-16-24-10-25 16zm24 9l25-17-24-8-25 16zm24 8l25-18-24-7-25 17zm-74 0l26-17-24-10-26 16zm25 10l25-18-24-9-26 17zm24 8l25-18-24-8-25 18zm-74 0l25-18-24-11-25 17z"/>
<path class="qiw" d="M8532 3423l26-18-25-10-25 18zm24 9l26-19-24-8-26 18zm-74-1l26-18-24-12-26 17zm25 11l25-19-24-10-26 18zm24 9l25-19-24-9-25 19zm-74-2l25-18-24-13-25 18zm24 12l26-19-25-11-25 18zm24 10l26-20-24-9-26 19zm-74-3l26-19-24-13-26 18zm24 13l26-20-24-12-26 19zm24 11l26-21-24-10-26 20zm-74-4l26-20-24-14-26 19zm24 13l26-20-24-13-26 20z"/>
<path class="qje" d="M8454 3513l25-21-24-11-26 20zm-75-5l26-20-24-15-26 20zm24 14l26-21-24-13-26 20zm25 12l26-21-25-12-26 21z"/>
<path class="qie" d="M9359 3041l22-5-26 16-21 4z"/>
<path class="qgj" d="M9385 3024l21-5-25 17-22 5z"/>
<path class="qln" d="M9513 2932l21-7-27 24-21 7zm27-26l21-8-27 27-21 7z"/>
<path class="qgg" d="M9312 3061l22-5-25 14-22 4z"/>
<path class="qlh" d="M9338 3046l21-5-25 15-22 5z"/>
<path class="qhi" d="M9291 3066l21-5-25 13-21 5z"/>
<path class="qgg" d="M9316 3052l22-6-26 15-21 5z"/>
<path class="qnk" d="M9747 2721l21-9-29 35-21 9zm30-36l21-10-30 37-21 9zm-52 46l22-10-29 35-22 9zm30-36l22-10-30 36-22 10zm-51 46l21-10-29 34-22 10zm29-35l22-11-30 36-21 10z"/>
<path class="qgk" d="M9411 3006l21-7-26 20-21 5z"/>
<path class="qgm" d="M9437 2985l22-6-27 20-21 7z"/>
<path class="qgn" d="M9464 2963l22-7-27 23-22 6z"/>
<path class="qln" d="M9491 2940l22-8-27 24-22 7zm27-25l22-9-27 26-22 8z"/>
<path class="qlw" d="M9567 2879l22-9-28 28-21 8zm-21 9l21-9-27 27-22 9z"/>
<path class="qlp" d="M9595 2850l22-10-28 30-22 9z"/>
<path class="qna" d="M9624 2818l22-9-29 31-22 10zm29-32l21-11-28 34-22 9z"/>
<path class="qnk" d="M9682 2752l22-11-30 34-21 11zm29-35l22-11-29 35-22 11z"/>
<path class="qlw" d="M9574 2859l21-9-28 29-21 9z"/>
<path class="qli" d="M9363 3030l22-6-26 17-21 5z"/>
<path class="qel" d="M9269 3072l22-6-25 13-22 5z"/>
<path class="qfp" d="M9247 3078l22-6-25 12-22 5z"/>
<path class="qmj" d="M9602 2829l22-11-29 32-21 9z"/>
<path class="qna" d="M9631 2796l22-10-29 32-22 11z"/>
<path class="qfq" d="M9342 3036l21-6-25 16-22 6z"/>
<path class="qgl" d="M9389 3012l22-6-26 18-22 6z"/>
<path class="qli" d="M9368 3019l21-7-26 18-21 6z"/>
<path class="qng" d="M9294 3058l22-6-25 14-22 6z"/>
<path class="qdh" d="M9272 3065l22-7-25 14-22 6z"/>
<path class="qey" d="M9225 3085l22-7-25 11-22 6z"/>
<path class="qeh" d="M9203 3092l22-7-25 10-22 7z"/>
<path class="qei" d="M9180 3099l23-7-25 10-23 7zm-22 8l22-8-25 10-22 7zm-23 8l23-8-25 9-22 7zm-22 9l22-9-24 8-23 9zm-23 9l23-9-25 8-23 8z"/>
<path class="qdz" d="M9067 3143l23-10-25 7-23 9z"/>
<path class="qfp" d="M9250 3072l22-7-25 13-22 7z"/>
<path class="qdz" d="M9228 3080l22-8-25 13-22 7z"/>
<path class="qei" d="M9206 3088l22-8-25 12-23 7zm-23 8l23-8-26 11-22 8zm-22 9l22-9-25 11-23 8zm-23 10l23-10-26 10-22 9zm-23 9l23-9-25 9-23 9zm-23 11l23-11-25 9-23 10z"/>
<path class="qnl" d="M9660 2763l22-11-29 34-22 10zm29-34l22-12-29 35-22 11z"/>
<path class="qft" d="M9416 2992l21-7-26 21-22 6z"/>
<path class="qgl" d="M9394 3000l22-8-27 20-21 7z"/>
<path class="qfb" d="M9320 3043l22-7-26 16-22 6z"/>
<path class="qgx" d="M9298 3051l22-8-26 15-22 7z"/>
<path class="qek" d="M9276 3058l22-7-26 14-22 7zm-232 95l23-10-25 6-23 10z"/>
<path class="qdy" d="M9069 3145l23-10-25 8-23 10z"/>
<path class="qhi" d="M9021 3163l23-10-25 6-23 10z"/>
<path class="qdh" d="M9045 3157l24-12-25 8-23 10z"/>
<path class="qid" d="M8997 3174l24-11-25 6-24 10z"/>
<path class="qkt" d="M8974 3186l23-12-25 5-23 11z"/>
<path class="qiv" d="M8950 3198l24-12-25 4-24 11z"/>
<path class="qjd" d="M8926 3210l24-12-25 3-23 12z"/>
<path class="qhu" d="M8902 3223l24-13-24 3-24 12zm-24 14l24-14-24 2-24 13z"/>
<path class="qih" d="M8854 3251l24-14-24 1-24 14zm-24 15l24-15-24 1-25 14zm-24 15l24-15-25 0-24 14zm-25 15l25-15-25-1-24 15zm-25 16l25-16-24-1-25 15zm-24 17l24-17-24-2-25 16z"/>
<path class="qip" d="M8707 3346l25-17-25-3-25 16zm-25 18l25-18-25-4-25 17zm-25 18l25-18-25-5-25 18zm-26 18l26-18-25-5-25 18zm-25 19l25-19-24-5-25 18z"/>
<path class="qiw" d="M8581 3439l25-20-24-6-26 19zm-26 20l26-20-25-7-25 19zm-25 21l25-21-24-8-26 20zm-26 21l26-21-25-9-26 21z"/>
<path class="qhi" d="M9022 3168l23-11-24 6-24 11z"/>
<path class="qhj" d="M8999 3181l23-13-25 6-23 12z"/>
<path class="qje" d="M8478 3523l26-22-25-9-25 21zm-26 22l26-22-24-10-26 21z"/>
<path class="qfu" d="M9442 2971l22-8-27 22-21 7z"/>
<path class="qln" d="M9469 2948l22-8-27 23-22 8zm27-24l22-9-27 25-22 8z"/>
<path class="qlw" d="M9524 2897l22-9-28 27-22 9zm28-28l22-10-28 29-22 9z"/>
<path class="qmj" d="M9580 2839l22-10-28 30-22 10zm29-31l22-12-29 33-22 10z"/>
<path class="qnl" d="M9638 2775l22-12-29 33-22 12zm29-34l22-12-29 34-22 12z"/>
<path class="qft" d="M9420 2979l22-8-26 21-22 8z"/>
<path class="qfa" d="M9346 3027l22-8-26 17-22 7z"/>
<path class="qfb" d="M9324 3034l22-7-26 16-22 8z"/>
<path class="qel" d="M9302 3043l22-9-26 17-22 7z"/>
<path class="qme" d="M9254 3066l22-8-26 14-22 8z"/>
<path class="qeg" d="M9231 3075l23-9-26 14-22 8z"/>
<path class="qei" d="M9209 3084l22-9-25 13-23 8zm-23 10l23-10-26 12-22 9zm-23 10l23-10-25 11-23 10zm-23 10l23-10-25 11-23 9zm-23 11l23-11-25 10-23 11z"/>
<path class="qeh" d="M9094 3137l23-12-25 10-23 10z"/>
<path class="qdy" d="M9071 3148l23-11-25 8-24 12z"/>
<path class="qel" d="M9047 3161l24-13-26 9-23 11z"/>
<path class="qht" d="M9024 3174l23-13-25 7-23 13z"/>
<path class="qek" d="M9279 3052l23-9-26 15-22 8z"/>
<path class="qdy" d="M9257 3061l22-9-25 14-23 9z"/>
<path class="qeg" d="M9234 3070l23-9-26 14-22 9z"/>
<path class="qei" d="M9212 3081l22-11-25 14-23 10zm-23 10l23-10-26 13-23 10zm-23 11l23-11-26 13-23 10zm-23 12l23-12-26 12-23 11zm-24 12l24-12-26 11-23 12z"/>
<path class="qeg" d="M9096 3139l23-13-25 11-23 11z"/>
<path class="qfp" d="M9073 3152l23-13-25 9-24 13z"/>
<path class="qgx" d="M9049 3165l24-13-26 9-23 13z"/>
<path class="qio" d="M8975 3193l24-12-25 5-24 12z"/>
<path class="qiv" d="M8951 3206l24-13-25 5-24 12z"/>
<path class="qjd" d="M8927 3220l24-14-25 4-24 13z"/>
<path class="qhu" d="M8903 3234l24-14-25 3-24 14zm-24 15l24-15-25 3-24 14z"/>
<path class="qih" d="M8855 3264l24-15-25 2-24 15zm-25 16l25-16-25 2-24 15zm-24 16l24-16-24 1-25 15zm-25 17l25-17-25 0-25 16zm-25 17l25-17-25-1-24 17zm-25 18l25-18-24-1-25 17z"/>
<path class="qip" d="M8706 3366l25-18-24-2-25 18zm-25 19l25-19-24-2-25 18zm-25 19l25-19-24-3-26 18zm-25 20l25-20-25-4-25 19z"/>
<path class="qiw" d="M8605 3445l26-21-25-5-25 20zm-25 21l25-21-24-6-26 20zm-26 21l26-21-25-7-25 21zm-26 22l26-22-24-7-26 21z"/>
<path class="qhj" d="M9000 3187l24-13-25 7-24 12z"/>
<path class="qiv" d="M8976 3201l24-14-25 6-24 13z"/>
<path class="qjd" d="M8952 3215l24-14-25 5-24 14zm-24 15l24-15-25 5-24 14z"/>
<path class="qhu" d="M8904 3245l24-15-25 4-24 15zm-24 16l24-16-25 4-24 15z"/>
<path class="qih" d="M8855 3277l25-16-25 3-25 16zm-24 17l24-17-25 3-24 16zm-25 18l25-18-25 2-25 17zm-25 18l25-18-25 1-25 17zm-25 18l25-18-25 0-25 18z"/>
<path class="qip" d="M8731 3367l25-19-25 0-25 18zm-25 20l25-20-25-1-25 19zm-25 20l25-20-25-2-25 19zm-26 21l26-21-25-3-25 20zm-25 21l25-21-24-4-26 21z"/>
<path class="qiw" d="M8604 3470l26-21-25-4-25 21zm-25 22l25-22-24-4-26 21zm-26 23l26-23-25-5-26 22z"/>
<path class="qgg" d="M9025 3179l24-14-25 9-24 13z"/>
<path class="qje" d="M8502 3531l26-22-24-8-26 22zm25 7l26-23-25-6-26 22zm-51 16l26-23-24-8-26 22zm25 8l26-24-25-7-26 23z"/>
<path class="qlq" d="M9447 2957l22-9-27 23-22 8z"/>
<path class="qfc" d="M9372 3008l22-8-26 19-22 8z"/>
<path class="qfa" d="M9350 3017l22-9-26 19-22 7z"/>
<path class="qng" d="M9328 3025l22-8-26 17-22 9z"/>
<path class="qel" d="M9305 3035l23-10-26 18-23 9z"/>
<path class="qfp" d="M9283 3045l22-10-26 17-22 9z"/>
<path class="qey" d="M9260 3055l23-10-26 16-23 9z"/>
<path class="qei" d="M9237 3066l23-11-26 15-22 11zm-22 11l22-11-25 15-23 10zm-23 12l23-12-26 14-23 11zm-24 12l24-12-26 13-23 12zm-23 13l23-13-25 13-24 12zm-23 13l23-13-26 12-23 13z"/>
<path class="qdz" d="M9098 3141l24-14-26 12-23 13z"/>
<path class="qfp" d="M9075 3155l23-14-25 11-24 13z"/>
<path class="qgx" d="M9051 3169l24-14-26 10-24 14z"/>
<path class="qks" d="M9001 3193l24-14-25 8-24 14z"/>
<path class="qiv" d="M8977 3208l24-15-25 8-24 14z"/>
<path class="qjd" d="M8953 3224l24-16-25 7-24 15zm-24 16l24-16-25 6-24 15z"/>
<path class="qhu" d="M8905 3256l24-16-25 5-24 16zm-25 17l25-17-25 5-25 16z"/>
<path class="qih" d="M8856 3291l24-18-25 4-24 17zm-25 18l25-18-25 3-25 18zm-25 19l25-19-25 3-25 18zm-25 19l25-19-25 2-25 18zm-25 20l25-20-25 1-25 19z"/>
<path class="qip" d="M8731 3387l25-20-25 0-25 20zm-25 21l25-21-25 0-25 20zm-26 21l26-21-25-1-26 21zm-25 22l25-22-25-1-25 21z"/>
<path class="qiw" d="M8629 3473l26-22-25-2-26 21zm-26 23l26-23-25-3-25 22zm-26 24l26-24-24-4-26 23z"/>
<path class="qgg" d="M9027 3185l24-16-26 10-24 14z"/>
<path class="qje" d="M8552 3544l25-24-24-5-26 23zm-26 24l26-24-25-6-26 24z"/>
<path class="qks" d="M9003 3200l24-15-26 8-24 15z"/>
<path class="qgy" d="M8979 3216l24-16-26 8-24 16z"/>
<path class="qjd" d="M8954 3233l25-17-26 8-24 16zm-24 17l24-17-25 7-24 16z"/>
<path class="qhu" d="M8906 3268l24-18-25 6-25 17zm-25 18l25-18-26 5-24 18z"/>
<path class="qif" d="M8856 3305l25-19-25 5-25 18z"/>
<path class="qih" d="M8831 3324l25-19-25 4-25 19zm-25 20l25-20-25 4-25 19zm-25 21l25-21-25 3-25 20zm-25 21l25-21-25 2-25 20z"/>
<path class="qip" d="M8731 3407l25-21-25 1-25 21zm-26 22l26-22-25 1-26 21zm-25 23l25-23-25 0-25 22z"/>
<path class="qiw" d="M8654 3475l26-23-25-1-26 22zm-26 24l26-24-25-2-26 23zm-26 24l26-24-25-3-26 24zm-26 25l26-25-25-3-25 24z"/>
<path class="qje" d="M8550 3573l26-25-24-4-26 24z"/>
<path class="qmb" d="M9474 2933l22-9-27 24-22 9z"/>
<path class="qlw" d="M9502 2907l22-10-28 27-22 9zm28-27l22-11-28 28-22 10zm28-29l22-12-28 30-22 11z"/>
<path class="qmj" d="M9586 2819l23-11-29 31-22 12zm29-32l23-12-29 33-23 11z"/>
<path class="qnl" d="M9644 2754l23-13-29 34-23 12z"/>
<path class="qlo" d="M9398 2988l22-9-26 21-22 8z"/>
<path class="qfc" d="M9376 2997l22-9-26 20-22 9z"/>
<path class="qfv" d="M9425 2966l22-9-27 22-22 9z"/>
<path class="qlo" d="M9403 2976l22-10-27 22-22 9z"/>
<path class="qlr" d="M9354 3007l22-10-26 20-22 8z"/>
<path class="qlv" d="M9452 2943l22-10-27 24-22 9z"/>
<path class="qlq" d="M9480 2918l22-11-28 26-22 10z"/>
<path class="qmb" d="M9507 2891l23-11-28 27-22 11z"/>
<path class="qlw" d="M9535 2862l23-11-28 29-23 11z"/>
<path class="qmj" d="M9564 2832l22-13-28 32-23 11zm29-33l22-12-29 32-22 13z"/>
<path class="qnl" d="M9622 2767l22-13-29 33-22 12z"/>
<path class="qem" d="M9332 3017l22-10-26 18-23 10z"/>
<path class="qlu" d="M9381 2986l22-10-27 21-22 10z"/>
<path class="qfb" d="M9358 2997l23-11-27 21-22 10z"/>
<path class="qly" d="M9430 2953l22-10-27 23-22 10z"/>
<path class="qlm" d="M9309 3027l23-10-27 18-22 10z"/>
<path class="qme" d="M9286 3038l23-11-26 18-23 10z"/>
<path class="qdz" d="M9264 3049l22-11-26 17-23 11z"/>
<path class="qei" d="M9241 3061l23-12-27 17-22 11zm-23 13l23-13-26 16-23 12zm-24 13l24-13-26 15-24 12zm-23 13l23-13-26 14-23 13zm-23 14l23-14-26 14-23 13zm-24 14l24-14-26 13-24 14z"/>
<path class="qey" d="M9100 3143l24-15-26 13-23 14z"/>
<path class="qek" d="M9077 3158l23-15-25 12-24 14z"/>
<path class="qem" d="M9053 3174l24-16-26 11-24 16z"/>
<path class="qfq" d="M9029 3190l24-16-26 11-24 15z"/>
<path class="qie" d="M9004 3207l25-17-26 10-24 16z"/>
<path class="qgy" d="M8980 3225l24-18-25 9-25 17z"/>
<path class="qjd" d="M8956 3242l24-17-26 8-24 17zm-25 19l25-19-26 8-24 18z"/>
<path class="qhu" d="M8906 3279l25-18-25 7-25 18zm-24 20l24-20-25 7-25 19z"/>
<path class="qif" d="M8857 3319l25-20-26 6-25 19z"/>
<path class="qih" d="M8832 3340l25-21-26 5-25 20zm-26 21l26-21-26 4-25 21zm-25 22l25-22-25 4-25 21z"/>
<path class="qip" d="M8756 3405l25-22-25 3-25 21zm-26 23l26-23-25 2-26 22zm-25 23l25-23-25 1-25 23zm-26 24l26-24-25 1-26 23z"/>
<path class="qiw" d="M8653 3499l26-24-25 0-26 24zm-26 25l26-25-25 0-26 24zm-26 26l26-26-25-1-26 25z"/>
<path class="qje" d="M8575 3576l26-26-25-2-26 25z"/>
<path class="qls" d="M9408 2964l22-11-27 23-22 10z"/>
<path class="qlr" d="M9385 2975l23-11-27 22-23 11z"/>
<path class="qmi" d="M9457 2929l23-11-28 25-22 10z"/>
<path class="qlv" d="M9485 2902l22-11-27 27-23 11z"/>
<path class="qlz" d="M9336 3008l22-11-26 20-23 10z"/>
<path class="qek" d="M9313 3019l23-11-27 19-23 11z"/>
<path class="qmd" d="M9435 2940l22-11-27 24-22 11z"/>
<path class="qlu" d="M9412 2952l23-12-27 24-23 11z"/>
<path class="qly" d="M9463 2914l22-12-28 27-22 11z"/>
<path class="qmg" d="M9513 2874l22-12-28 29-22 11z"/>
<path class="qmi" d="M9490 2887l23-13-28 28-22 12z"/>
<path class="qlx" d="M9363 2987l22-12-27 22-22 11z"/>
<path class="qel" d="M9340 2999l23-12-27 21-23 11z"/>
<path class="qlr" d="M9390 2964l22-12-27 23-22 12z"/>
<path class="qlz" d="M9367 2977l23-13-27 23-23 12z"/>
<path class="qfo" d="M9290 3031l23-12-27 19-22 11z"/>
<path class="qeg" d="M9267 3044l23-13-26 18-23 12z"/>
<path class="qei" d="M9244 3057l23-13-26 17-23 13zm-23 13l23-13-26 17-24 13zm-24 14l24-14-27 17-23 13zm-23 15l23-15-26 16-23 14zm-24 15l24-15-26 15-24 14zm-24 15l24-15-26 14-24 15z"/>
<path class="qdy" d="M9103 3145l23-16-26 14-23 15z"/>
<path class="qek" d="M9079 3162l24-17-26 13-24 16z"/>
<path class="qhi" d="M9054 3179l25-17-26 12-24 16z"/>
<path class="qfq" d="M9030 3196l24-17-25 11-25 17z"/>
<path class="qio" d="M9006 3214l24-18-26 11-24 18z"/>
<path class="qgy" d="M8981 3233l25-19-26 11-24 17z"/>
<path class="qhk" d="M8957 3252l24-19-25 9-25 19z"/>
<path class="qjd" d="M8932 3271l25-19-26 9-25 18z"/>
<path class="qhu" d="M8907 3292l25-21-26 8-24 20zm-25 20l25-20-25 7-25 20z"/>
<path class="qif" d="M8857 3333l25-21-25 7-25 21z"/>
<path class="qih" d="M8832 3355l25-22-25 7-26 21zm-25 23l25-23-26 6-25 22zm-26 23l26-23-26 5-25 22z"/>
<path class="qip" d="M8756 3425l25-24-25 4-26 23zm-26 24l26-24-26 3-25 23zm-26 24l26-24-25 2-26 24z"/>
<path class="qiw" d="M8679 3498l25-25-25 2-26 24zm-26 26l26-26-26 1-26 25zm-26 26l26-26-26 0-26 26z"/>
<path class="qje" d="M8600 3577l27-27-26 0-26 26z"/>
<path class="qmf" d="M9440 2927l23-13-28 26-23 12z"/>
<path class="qmd" d="M9468 2900l22-13-27 27-23 13z"/>
<path class="qnm" d="M9541 2844l23-12-29 30-22 12z"/>
<path class="qmj" d="M9570 2813l23-14-29 33-23 12z"/>
<path class="qnn" d="M9599 2781l23-14-29 32-23 14zm-80 77l22-14-28 30-23 13zm28-31l23-14-29 31-22 14z"/>
<path class="qmd" d="M9496 2871l23-13-29 29-22 13z"/>
<path class="qez" d="M9317 3012l23-13-27 20-23 12z"/>
<path class="qey" d="M9294 3025l23-13-27 19-23 13z"/>
<path class="qeg" d="M9271 3038l23-13-27 19-23 13z"/>
<path class="qei" d="M9247 3053l24-15-27 19-23 13zm-23 14l23-14-26 17-24 14zm-24 15l24-15-27 17-23 15zm-23 16l23-16-26 17-24 15zm-24 16l24-16-27 16-24 15z"/>
<path class="qeg" d="M9129 3131l24-17-27 15-23 16z"/>
<path class="qlm" d="M9344 2990l23-13-27 22-23 13z"/>
<path class="qme" d="M9321 3004l23-14-27 22-23 13z"/>
<path class="qey" d="M9298 3018l23-14-27 21-23 13z"/>
<path class="qei" d="M9274 3033l24-15-27 20-24 15zm-23 15l23-15-27 20-23 14zm-24 16l24-16-27 19-24 15zm-24 16l24-16-27 18-23 16zm-24 17l24-17-26 18-24 16zm-24 18l24-18-26 17-24 17z"/>
<path class="qfo" d="M9105 3148l24-17-26 14-24 17z"/>
<path class="qeg" d="M9131 3133l24-18-26 16-24 17z"/>
<path class="qel" d="M9081 3166l24-18-26 14-25 17z"/>
<path class="qfp" d="M9107 3151l24-18-26 15-24 18z"/>
<path class="qfb" d="M9056 3184l25-18-27 13-24 17z"/>
<path class="qhj" d="M9032 3203l24-19-26 12-24 18z"/>
<path class="qel" d="M9083 3170l24-19-26 15-25 18z"/>
<path class="qgg" d="M9058 3189l25-19-27 14-24 19z"/>
<path class="qio" d="M9007 3222l25-19-26 11-25 19z"/>
<path class="qgy" d="M8983 3242l24-20-26 11-24 19z"/>
<path class="qhk" d="M8958 3262l25-20-26 10-25 19z"/>
<path class="qjd" d="M8933 3283l25-21-26 9-25 21z"/>
<path class="qhu" d="M8908 3304l25-21-26 9-25 20zm-25 22l25-22-26 8-25 21z"/>
<path class="qif" d="M8858 3348l25-22-26 7-25 22z"/>
<path class="qih" d="M8832 3372l26-24-26 7-25 23zm-25 23l25-23-25 6-26 23zm-26 25l26-25-26 6-25 24z"/>
<path class="qip" d="M8756 3444l25-24-25 5-26 24zm-26 26l26-26-26 5-26 24zm-26 26l26-26-26 3-25 25z"/>
<path class="qiw" d="M8678 3522l26-26-25 2-26 26zm-26 27l26-27-25 2-26 26zm-26 28l26-28-25 1-27 27z"/>
<path class="qmk" d="M9417 2940l23-13-28 25-22 12z"/>
<path class="qlu" d="M9445 2914l23-14-28 27-23 13z"/>
<path class="qlx" d="M9394 2953l23-13-27 24-23 13z"/>
<path class="qlr" d="M9422 2928l23-14-28 26-23 13z"/>
<path class="qlz" d="M9371 2967l23-14-27 24-23 13z"/>
<path class="qmf" d="M9473 2886l23-15-28 29-23 14z"/>
<path class="qez" d="M9348 2982l23-15-27 23-23 14z"/>
<path class="qfo" d="M9325 2996l23-14-27 22-23 14z"/>
<path class="qeg" d="M9301 3012l24-16-27 22-24 15z"/>
<path class="qei" d="M9278 3028l23-16-27 21-23 15zm-24 16l24-16-27 20-24 16zm-24 17l24-17-27 20-24 16zm-24 18l24-18-27 19-24 17zm-24 18l24-18-27 18-24 18zm-24 18l24-18-27 18-24 18z"/>
<path class="qdz" d="M9134 3134l24-19-27 18-24 18z"/>
<path class="qez" d="M9109 3154l25-20-27 17-24 19z"/>
<path class="qem" d="M9085 3174l24-20-26 16-25 19z"/>
<path class="qmk" d="M9450 2900l23-14-28 28-23 14z"/>
<path class="qno" d="M9576 2795l23-14-29 32-23 14z"/>
<path class="qnp" d="M9525 2841l22-14-28 31-23 13zm29-32l22-14-29 32-22 14z"/>
<path class="qgi" d="M9034 3209l24-20-26 14-25 19z"/>
<path class="qfa" d="M9060 3195l25-21-27 15-24 20z"/>
<path class="qio" d="M9009 3230l25-21-27 13-24 20z"/>
<path class="qgy" d="M8984 3250l25-20-26 12-25 20z"/>
<path class="qhk" d="M8959 3272l25-22-26 12-25 21z"/>
<path class="qjd" d="M8934 3294l25-22-26 11-25 21z"/>
<path class="qhu" d="M8909 3317l25-23-26 10-25 22zm-25 23l25-23-26 9-25 22z"/>
<path class="qif" d="M8858 3363l26-23-26 8-26 24z"/>
<path class="qih" d="M8833 3388l25-25-26 9-25 23zm-26 25l26-25-26 7-26 25zm-26 26l26-26-26 7-25 24z"/>
<path class="qip" d="M8755 3465l26-26-25 5-26 26zm-25 27l25-27-25 5-26 26zm-27 27l27-27-26 4-26 26z"/>
<path class="qiw" d="M8677 3547l26-28-25 3-26 27zm-26 28l26-28-25 2-26 28z"/>
<path class="qgi" d="M9035 3216l25-21-26 14-25 21z"/>
<path class="qgj" d="M9010 3237l25-21-26 14-25 20z"/>
<path class="qgy" d="M8985 3260l25-23-26 13-25 22z"/>
<path class="qhk" d="M8960 3282l25-22-26 12-25 22z"/>
<path class="qjd" d="M8935 3306l25-24-26 12-25 23z"/>
<path class="qhu" d="M8910 3329l25-23-26 11-25 23zm-26 25l26-25-26 11-26 23z"/>
<path class="qif" d="M8859 3379l25-25-26 9-25 25z"/>
<path class="qih" d="M8833 3405l26-26-26 9-26 25zm-26 26l26-26-26 8-26 26z"/>
<path class="qip" d="M8781 3458l26-27-26 8-26 26zm-26 28l26-28-26 7-25 27zm-26 28l26-28-25 6-27 27z"/>
<path class="qiw" d="M8703 3542l26-28-26 5-26 28zm-26 29l26-29-26 5-26 28z"/>
<path class="qnq" d="M9399 2942l23-14-28 25-23 14z"/>
<path class="qlm" d="M9376 2957l23-15-28 25-23 15z"/>
<path class="qez" d="M9352 2973l24-16-28 25-23 14z"/>
<path class="qey" d="M9329 2989l23-16-27 23-24 16z"/>
<path class="qeg" d="M9305 3006l24-17-28 23-23 16z"/>
<path class="qei" d="M9281 3023l24-17-27 22-24 16zm-23 17l23-17-27 21-24 17zm-24 18l24-18-28 21-24 18zm-25 19l25-19-28 21-24 18zm-24 19l24-19-27 20-24 18zm-24 20l24-20-27 19-24 19z"/>
<path class="qey" d="M9136 3136l25-20-27 18-25 20z"/>
<path class="qek" d="M9112 3157l24-21-27 18-24 20z"/>
<path class="qem" d="M9087 3178l25-21-27 17-25 21z"/>
<path class="qfa" d="M9062 3200l25-22-27 17-25 21z"/>
<path class="qnr" d="M9502 2856l23-15-29 30-23 15zm29-32l23-15-29 32-23 15z"/>
<path class="qmc" d="M9427 2916l23-16-28 28-23 14z"/>
<path class="qlz" d="M9404 2931l23-15-28 26-23 15z"/>
<path class="qfd" d="M9037 3223l25-23-27 16-25 21z"/>
<path class="qgy" d="M9012 3246l25-23-27 14-25 23zm-25 23l25-23-27 14-25 22z"/>
<path class="qhk" d="M8962 3293l25-24-27 13-25 24zm-26 25l26-25-27 13-25 23z"/>
<path class="qhu" d="M8911 3343l25-25-26 11-26 25zm-26 25l26-25-27 11-25 25z"/>
<path class="qih" d="M8859 3395l26-27-26 11-26 26zm-26 27l26-27-26 10-26 26zm-26 28l26-28-26 9-26 27z"/>
<path class="qip" d="M8781 3478l26-28-26 8-26 28zm-26 29l26-29-26 8-26 28zm-26 29l26-29-26 7-26 28z"/>
<path class="qiw" d="M8703 3566l26-30-26 6-26 29z"/>
<path class="qns" d="M9478 2871l24-15-29 30-23 14z"/>
<path class="qmf" d="M9507 2840l24-16-29 32-24 15z"/>
<path class="qmc" d="M9455 2887l23-16-28 29-23 16z"/>
<path class="qmk" d="M9484 2857l23-17-29 31-23 16z"/>
<path class="qml" d="M9380 2948l24-17-28 26-24 16z"/>
<path class="qme" d="M9357 2964l23-16-28 25-23 16z"/>
<path class="qey" d="M9333 2982l24-18-28 25-24 17z"/>
<path class="qei" d="M9309 2999l24-17-28 24-24 17zm-24 19l24-19-28 24-23 17zm-24 18l24-18-27 22-24 18zm-24 20l24-20-27 22-25 19zm-25 19l25-19-28 21-24 19zm-24 21l24-21-27 21-24 20zm-25 21l25-21-27 20-25 20z"/>
<path class="qdy" d="M9139 3138l24-21-27 19-24 21z"/>
<path class="qlm" d="M9114 3160l25-22-27 19-25 21z"/>
<path class="qmm" d="M9432 2903l23-16-28 29-23 15z"/>
<path class="qmc" d="M9460 2874l24-17-29 30-23 16z"/>
<path class="qmy" d="M9089 3183l25-23-27 18-25 22z"/>
<path class="qfq" d="M9064 3206l25-23-27 17-25 23z"/>
<path class="qmh" d="M9408 2920l24-17-28 28-24 17z"/>
<path class="qez" d="M9385 2938l23-18-28 28-23 16z"/>
<path class="qfo" d="M9361 2956l24-18-28 26-24 18z"/>
<path class="qeg" d="M9337 2974l24-18-28 26-24 17z"/>
<path class="qei" d="M9313 2993l24-19-28 25-24 19zm-24 20l24-20-28 25-24 18zm-24 20l24-20-28 23-24 20zm-25 20l25-20-28 23-25 19zm-24 21l24-21-28 22-24 21zm-25 22l25-22-28 22-25 21z"/>
<path class="qeg" d="M9166 3118l25-22-28 21-24 21z"/>
<path class="qfo" d="M9141 3141l25-23-27 20-25 22z"/>
<path class="qel" d="M9116 3164l25-23-27 19-25 23z"/>
<path class="qnq" d="M9437 2891l23-17-28 29-24 17z"/>
<path class="qml" d="M9413 2909l24-18-29 29-23 18z"/>
<path class="qfr" d="M9039 3230l25-24-27 17-25 23z"/>
<path class="qgy" d="M9014 3254l25-24-27 16-25 23zm-26 25l26-25-27 15-25 24z"/>
<path class="qhk" d="M8963 3304l25-25-26 14-26 25zm-26 26l26-26-27 14-25 25z"/>
<path class="qhu" d="M8911 3356l26-26-26 13-26 25zm-25 27l25-27-26 12-26 27z"/>
<path class="qih" d="M8860 3411l26-28-27 12-26 27zm-26 28l26-28-27 11-26 28zm-26 30l26-30-27 11-26 28z"/>
<path class="qip" d="M8781 3498l27-29-27 9-26 29zm-26 30l26-30-26 9-26 29zm-26 31l26-31-26 8-26 30z"/>
<path class="qen" d="M9091 3188l25-24-27 19-25 23z"/>
<path class="qfc" d="M9066 3212l25-24-27 18-25 24z"/>
<path class="qgl" d="M9041 3237l25-25-27 18-25 24z"/>
<path class="qgk" d="M9015 3263l26-26-27 17-26 25z"/>
<path class="qhk" d="M8990 3289l25-26-27 16-25 25zm-26 26l26-26-27 15-26 26zm-26 27l26-27-27 15-26 26z"/>
<path class="qhu" d="M8912 3370l26-28-27 14-25 27zm-26 28l26-28-26 13-26 28z"/>
<path class="qih" d="M8860 3427l26-29-26 13-26 28zm-26 30l26-30-26 12-26 30zm-26 31l26-31-26 12-27 29z"/>
<path class="qip" d="M8781 3519l27-31-27 10-26 30zm-26 31l26-31-26 9-26 31z"/>
<path class="qnt" d="M9389 2928l24-19-28 29-24 18z"/>
<path class="qey" d="M9365 2947l24-19-28 28-24 18z"/>
<path class="qeg" d="M9341 2967l24-20-28 27-24 19z"/>
<path class="qei" d="M9317 2987l24-20-28 26-24 20zm-24 21l24-21-28 26-24 20zm-25 21l25-21-28 25-25 20zm-24 22l24-22-28 24-24 21zm-25 22l25-22-28 23-25 22zm-25 23l25-23-28 23-25 22z"/>
<path class="qdz" d="M9169 3119l25-23-28 22-25 23z"/>
<path class="qez" d="M9144 3143l25-24-28 22-25 23z"/>
<path class="qlz" d="M9119 3168l25-25-28 21-25 24z"/>
<path class="qfb" d="M9093 3193l26-25-28 20-25 24z"/>
<path class="qfc" d="M9068 3219l25-26-27 19-25 25z"/>
<path class="qfv" d="M9042 3245l26-26-27 18-26 26z"/>
<path class="qgk" d="M9017 3272l25-27-27 18-25 26z"/>
<path class="qhk" d="M8991 3299l26-27-27 17-26 26zm-26 28l26-28-27 16-26 27z"/>
<path class="qhv" d="M8939 3355l26-28-27 15-26 28z"/>
<path class="qhu" d="M8913 3384l26-29-27 15-26 28zm-26 30l26-30-27 14-26 29z"/>
<path class="qih" d="M8861 3444l26-30-27 13-26 30zm-27 32l27-32-27 13-26 31zm-26 31l26-31-26 12-27 31z"/>
<path class="qip" d="M8781 3540l27-33-27 12-26 31z"/>
</g>
<g font-size="9.8" fill="#333"><text transform="translate(1751.0,798.0) scale(.935,1)" text-anchor="end">2.00</text><text transform="translate(1761.0,798.0) scale(.935,1)">24.00</text><text transform="translate(1703.0,780.2) scale(.935,1)" text-anchor="end">2.50</text><text transform="translate(1809.0,780.2) scale(.935,1)">36.00</text><text transform="translate(1655.0,762.4) scale(.935,1)" text-anchor="end">3.00</text><text transform="translate(1857.0,762.4) scale(.935,1)">48.00</text><text transform="translate(1607.0,744.6) scale(.935,1)" text-anchor="end">3.50</text><text transform="translate(1905.0,744.6) scale(.935,1)">60.00</text><text transform="translate(1559.0,726.8) scale(.935,1)" text-anchor="end">4.00</text><text transform="translate(1953.0,726.8) scale(.935,1)">72.00</text><text transform="translate(1546.8,523.9) scale(.935,1)" text-anchor="end">0.52</text><text transform="translate(1549.1,562.6) scale(.935,1)" text-anchor="end">0.49</text><text transform="translate(1551.4,601.4) scale(.935,1)" text-anchor="end">0.46</text><text transform="translate(1553.7,640.1) scale(.935,1)" text-anchor="end">0.43</text><text transform="translate(1556.0,678.8) scale(.935,1)" text-anchor="end">0.4</text></g>
<text class="ttl" x="1585.5" y="788.0" text-anchor="middle" textLength="89.5" lengthAdjust="spacingAndGlyphs">D: inculmn size</text>
<text class="ttl" x="1925.0" y="788.0" text-anchor="middle" textLength="114.0" lengthAdjust="spacingAndGlyphs">C: Incubation Time</text>
<text class="ttl" transform="translate(1491.2,619.9) rotate(-90)" text-anchor="middle" textLength="54.5" lengthAdjust="spacingAndGlyphs">Sqrt(R1)</text>
<text class="cap" x="1746.6" y="865.4" text-anchor="middle">(f)</text>
</g>

</svg>
</body></html>
